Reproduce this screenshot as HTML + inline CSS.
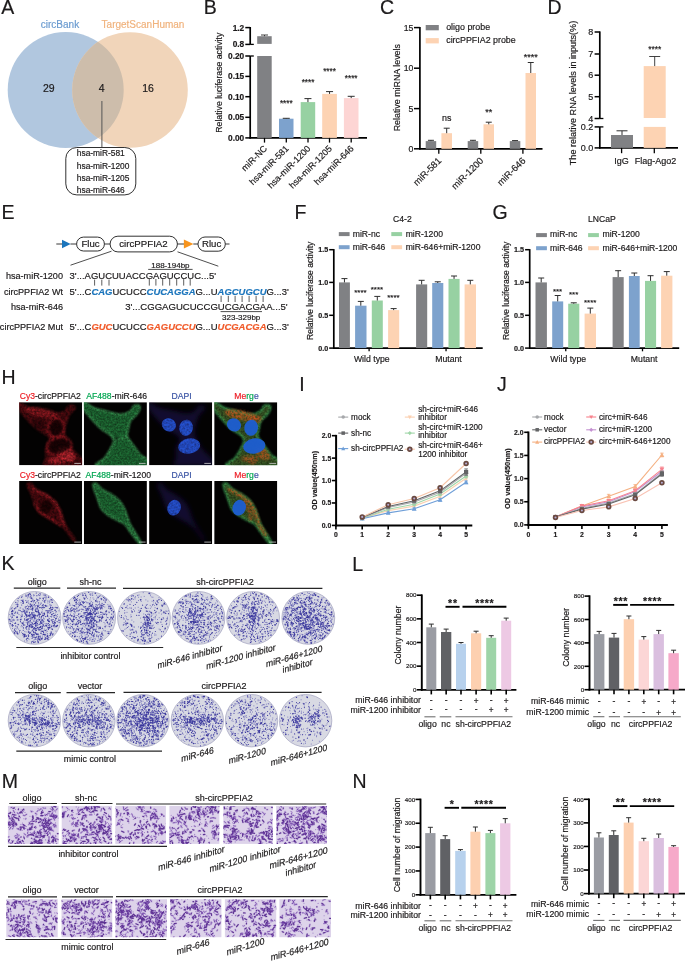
<!DOCTYPE html>
<html lang="en">
<head>
<meta charset="utf-8">
<title>Figure</title>
<style>
html,body{margin:0;padding:0;background:#fff;}
body{width:685px;height:962px;overflow:hidden;font-family:"Liberation Sans",sans-serif;}
svg{display:block;}
</style>
</head>
<body>
<svg width="685" height="962" viewBox="0 0 685 962" font-family="'Liberation Sans', sans-serif" fill="#1c1a1b"><style>text{stroke-width:.18px}</style>
<defs>
<filter id="soft" x="-5%" y="-5%" width="110%" height="110%"><feGaussianBlur stdDeviation="0.38"/></filter>
<clipPath id="cA"><circle cx="65.7" cy="90" r="58"/></clipPath>
<filter id="gr1" x="-10%" y="-10%" width="120%" height="120%" color-interpolation-filters="sRGB"><feGaussianBlur in="SourceGraphic" stdDeviation="1.0" result="b"/><feTurbulence type="fractalNoise" baseFrequency="0.45" numOctaves="2" seed="3" result="n"/><feColorMatrix in="n" type="matrix" values="0 0 0 0 1 0 0 0 0 1 0 0 0 0 1 1.1 0 0 0 0.18" result="na"/><feComposite in="b" in2="na" operator="in"/></filter>
<filter id="gr2" x="-10%" y="-10%" width="120%" height="120%" color-interpolation-filters="sRGB"><feGaussianBlur in="SourceGraphic" stdDeviation="0.9" result="b"/><feTurbulence type="fractalNoise" baseFrequency="0.55" numOctaves="2" seed="8" result="n"/><feColorMatrix in="n" type="matrix" values="0 0 0 0 1 0 0 0 0 1 0 0 0 0 1 0.8 0 0 0 0.38" result="na"/><feComposite in="b" in2="na" operator="in"/></filter>
<filter id="gr3" x="-10%" y="-10%" width="120%" height="120%" color-interpolation-filters="sRGB"><feGaussianBlur in="SourceGraphic" stdDeviation="0.7" result="b"/><feTurbulence type="fractalNoise" baseFrequency="0.5" numOctaves="2" seed="5" result="n"/><feColorMatrix in="n" type="matrix" values="0 0 0 0 1 0 0 0 0 1 0 0 0 0 1 0.9 0 0 0 0.42" result="na"/><feComposite in="b" in2="na" operator="in"/></filter>
<filter id="gr4" x="-10%" y="-10%" width="120%" height="120%" color-interpolation-filters="sRGB"><feGaussianBlur in="SourceGraphic" stdDeviation="0.9" result="b"/><feTurbulence type="fractalNoise" baseFrequency="0.5" numOctaves="2" seed="12" result="n"/><feColorMatrix in="n" type="matrix" values="0 0 0 0 1 0 0 0 0 1 0 0 0 0 1 2.0 0 0 0 -0.35" result="na"/><feComposite in="b" in2="na" operator="in"/></filter>
<filter id="bl"><feGaussianBlur stdDeviation="0.7"/></filter>
<filter id="bl2"><feGaussianBlur stdDeviation="2.4"/></filter>
<clipPath id="ci"><rect x="0" y="0" width="63.1" height="63.1"/></clipPath>
<clipPath id="twc0"><rect x="7.9" y="805.9" width="50.8" height="38"/></clipPath>
<path id="twa0" d="M53.6 806.2l2.3 .7m-3.7 .8l.7 .5m-38.4-.3l-1.5 .4m5.5 .8l-.2 .6m3 2l-1.4 1.4m1.5-1.2l.7 1.1m1.6-3.8l-1.3 1.2m19.3 1.3l-.4 2.1m9.1-2.3l-1.6 .2m3.2-2l.5 .3m1 5.7l-.2 1m-10.2-1.2l-2.3 .1m2.2-3.2l-.5 .3m-9.7 3.2l.3 1.7m-20.4-3l2.6 .4m-4.8-2.3l-.9 .7m.7-1.1l-.2 1.1m-2.1 2l1.3 1.6m2.8 .9l.7 .5m-.2 .9l1.5 .9m-.5-3.5l2.1 1.3m.2-.4l1 .9m1.2-.4l.8 2.4m.2-4.4l.3 .5m13 .1l.6 2m.3-.2l-1.1 1.6m4.7-2.4l1.7 .4m-1.3 .7l-1.4 1.1m1.6-1.4l1 .2m1.5 0l1.4 1.5m1.6-.5l.5 .8m1.9-1.3l.1 1.4m3.5-.7l-1.3 2.1m2.3-5.9l2.6 0m-.9 .3l1.6 .2m3.6-.4l-1.4 1.8m-5 5.2l-.8 .7m-.2-3.7l-1.3 1m.5 1.8l-.4 .8m0-.6l-2.2 0m.2-.6l-.7 1.8m.5-3.9l-.7 1.1m-.3 1.2l-.7 .5m-.2 0l-1.1 .7m-.8-1.6l.2 .6m-2.1-1.3l-1.9 .9m-2.3-1.1l-.3 .3m-1.6-.6l-1.5 .3m-.1 2.3l-1.6 0m-15.1-.6l.6 1.5m-.9-1.5l.3 1.7m-1.7-3l-.9 1.8m-1.9-3.2l1.7 1.2m-3.4 .4l.3 1.9m-2.1-.4l1.1 1.5m-1.1-3.1l.3 2m.4 .4l1.8 .6m1.7-.8l1.4 1.4m-.6 .7l.1 .2m2.4-2.2l1.3 .4m4.2 3.3l-.5 1.9m1.1-2.9l-1.3 .2m2.1-.1l1.3 .1m-.5-2.6l1.9 1.3m-1.5 2l.6 1.1m7-1.1l-.2 1.6m1-2.4l-.5 0m.6-.5l-.4 .5m3 0l-.2 .3m7.5-2.3l1.2 1.2m.6 .5l1.6 .6m-1.1-1.4l-.4 2.1m3-2.7l0 1.7m.1 .1l1.2 .8m1.3-.6l-.1 .5m.3-3.6l-1.1 1.4m5.3-1.3l-.2 .5m-2.6 4.6l-.8 .1m-2.7-.5l2.1 .1m-3.4 1.3l-1.2 1.3m-1.7-3.7l1.2 1.9m-4.7 1.9l1.3 .5m-1.5-.5l-1.3 .5m-1-.7l.3 1m-7-4.7l-1.1 .1m.9 1l-.1 .6m-1.5-.4l.6 .3m-.2 5.3l-.8 .1m1.9-.3l2.5 .1m-.3-.3l1 1m.8-2.2l.1 .2m4.3-.3l-.5 .3m2.4-.2l-.5 .2m.6 .2l0 .6m3.6 1.3l-2.3 .8m2.4-.8l-.6 1.9m4.2-3.2l-.7 1.1m2.4-2.4l.1 .2m8.5 .4l-1 0m-2.4 5.7l.9 2.2m-2.5-2.1l.1 1.9m-.3-4.1l1 .9m-1 1.7l-1 1.4m.3-4.6l-1 1m-9.9-1.4l1.4 .9m-3.5 2.6l2.3 .5m-5.2-4.1l.9 .2m-2.3 .5l2.2 .3m-2.7 1.9l0 .4m-3.2-1.1l.3 .1m-7.9-1.3l.4 1.3m-3.2-1.5l-.2 .2m-2.1 1.7l-.6 1.1m-8.7-.3l-1.5 2.2m-.4-2.2l-.4 .1m5.6 1.5l-.6 1.3m3.4 1l-.5 .2m2.2-.7l1.7 .1m.3-1.6l1.3 .2m1.7-1.3l.9 1.3m8.9 .9l-1.5 1.2m2.1-.6l-1.1 .8m2.5-2.3l.9 .2m-.8-.6l1.1 1.4m-.9 1.3l-1.7 1.8m2.4-4.7l.6 .3m-.5-.7l.9 .1m-.2-.2l.6 .7m-.1-.4l-2.2 .6m2.3 .8l-.3 .1m1.4 1l-.1 .8m.6-1.8l.5 1.2m1.2-3.4l-1.8 .9m2 .4l-.7 2.4m1.1-1.3l-.2 1.6m1.5-1.4l-.6 .3m7.4-2.7l.4 .5m.4 .8l-1.3 .5m5.8-1.6l-2.1 1.3m-13.1 3.6l-.3 2.7m-.5-2.7l-.3 .7m-29.6-1.7l-.9 2.4"/><path id="twb0" d="M52.6 807.1l-.1 .2m-9.5 .5l1.1 .5m-32.2-.9l-.9 .2m2.4 2.9l1.2 2.3m6-1.3l-1.4 1.4m3.9-1.4l-.3 .1m8.1-.5l.3 .4m.6-.3l-.1 .7m6.6-1.8l-1.2 1.5m3.9-2.9l-1.6 1.4m2.8-.2l.4 .9m2.6-2.8l.4 .2m6.6 3.8l.1 .2m0-4l1.4 1.6m1.3 .8l-.2 .1m2.4-2l-.8 1.3m-.7 5.2l-1.2 1.7m.9-1.5l-1.7 1.5m-.3-2.7l1.2 1.5m-2-2.6l-1 2.5m.2-2.1l-1.1 1.7m-2.8-1.2l-2.2 .8m2.1-1.5l.4 .1m-1.7 1.3l.6 .5m-2.3 .1l.9 .3m-10.4-2.4l1.5 1m-10.1 .1l-2.3 1.4m-1-.5l0 .3m-5.9-2.5l.5 .6m-9.6-.3l-.5 .8m.4 1l.7 1.6m-3.1 2.1l-2.4 .1m5.9-.3l2.2 .6m14.3-.7l-.2 .6m12.9-.1l-.1 .2m2.6-.1l-.8 0m3.2 .6l.7 .3m.6-2.1l-1.2 2.1m5.1-.5l1.1 1.1m2-1.4l-1.8 .4m3.8-1.9l.7 2.4m-.6-3.8l-.4 .2m.5-.4l-1 1.1m2.9-.2l-.8 .1m1.4-.2l-1.8 .9m6.4 .8l-1.2 1.8m-10 1.2l2 1.6m-4.9 .3l.2 1.2m-15.6-3.4l-1.2 .5m-.6 1.6l-1.1 1.4m.6-2.4l.1 .9m-14.5 .1l.7 .1m-2.9-.9l-1 .1m-.7-.2l.2 .1m-2.7 1l-.6 1.7m.5-2.2l-.1 .6m-3.2-2.1l.8 1.4m3.8 1.9l.5 .4m.5 2.2l-1 1.8m2.8-5.2l-1.1 .3m2 3.5l-1.1 1m2.9-4.3l-1.7 .6m7.5 2.7l.3 .1m.6-.6l-.2 .1m1.4-2.5l1 .5m.1 1.7l0 .8m8.2-2.3l-.9 .5m4.1 .2l-.1 .7m.6 .5l-.4 .7m4.2-3l.2 .9m2.5-1.1l2.6 .5m-1.7-.5l-2 .1m2.8 1.4l2.5 .2m-.5-1.2l1 0m-.4-.5l-.6 .1m1.3 .4l1.6 1.1m.9 1.1l1 .4m2.9-3.7l.3 2.7m1.1-2.4l.5 2.1m-3.8 3.5l1.4 .6m-2.1-2.8l-.1 2.2m-1.1-1.8l-.3 .8m-.8 1.1l-.7 1.5m-.3-.4l-1.3 2m-.2-1.9l.4 .3m-3.2-.9l1.4 .2m-3.4-2l-1.4 .9m-.9 .2l0 .9m-5-.2l-.4 2.1m-6.6-3.9l.5 1.7m-8.9-2.6l-.9 .4m-1.1-.2l2.3 1.1m-3.1 5.7l-1.5 .7m2.3-2.3l1.2 1.4m5.8-1.5l1.7 1.3m1.9-2.6l-.1 1.1m.4 1.4l-1.1 1.9m1.1-1l.4 .1m2.1-3.2l1.1 1.2m1.3-1.1l-.3 .5m.7 .4l-1.3 1.3m4.5-1.2l-1.1 1.5m3.5-.3l2.3 .5m0-1l-.6 2.5m4.4-1.7l.1 .3m-.1-2.1l-.3 .3m1.7-.3l1.2 .1m5.2 2.1l-.7 1.2m3.5-1l.1 .4m.6 2.6l2.4 .7m-9.3-.5l-.8 .6m-.2-2.7l.7 .3m-9.6-.1l1.2 .4m-3.5-1.5l1.9 1.7m-20.8 .3l1.2 1.2m-1.5-2.5l-2.4 .7m.1 .6l1.4 0m-8.1-1.3l-2.3 .7m-1.2 5.9l-.2 .3m4.7-1.1l1.6 1.8m5.5-2.4l-.1 2.5m.4-2.3l0 .3m.3-2l-.6 .6m2.2 1.1l1.4 .5m0-1.8l-1.2 2m1.2-.3l1.1 1.5m2.2-.5l.4 .7m7.4-2.1l1.8 .7m1.7-2.7l-.5 .6m1.3-.3l.5 1.4m.1-.4l-.6 .6m1.1 1.2l-.3 .5m1-2.4l-2.4 .8m4.8 .8l1.1 1.3m-.4-3.5l.3 .2m.5 .9l.1 2.1m.4-1.7l-1 1.5m6.4-1.3l1 2.1m1.3-1.2l-.9 1.3m3.3-3.5l.9 1.8m3.3 .7l.2 1.3m-17.3 1.4l-1.1 1.7m-23.1-4l.2 .3"/>
<clipPath id="twc1"><rect x="61.7" y="805.9" width="50.4" height="38"/></clipPath>
<path id="twa1" d="M97.2 806.8l2.4 .4m-3.7-.1l-.8 0m.3-.1l-.5 1.8m-.9-2.5l.7 2m-3.1-1l.2 1m-4.2-.6l2 1.5m-3.3-2.4l-2 1.8m1.8-1.3l2.4 1.2m-2.8-1l1.2 .5m-15.1 2.9l.1 .4m.7-.9l-1.1 .1m11.1-1.2l-2.6 .8m7-1.1l.6 .4m-.4-1.2l-.3 1.9m4.2-1.5l.7 .2m.9 2.5l1.1 .5m-.4-1l-1.5 1.1m2.7-1.4l1.4 .2m-1.3-.7l2.4 .8m6.1-2.7l1.6 2m-.3 2.4l1.9 1m-8.6 .7l-1.1 1m.5-.9l.2 .3m-12 .4l-2.4 .8m-.3-3.6l1 .5m-3.8 1.4l-1.5 .4m-10 .3l-1 1.7m-3.5-.9l-.5 .8m.3-2.8l-.5 2.3m-.5-3.1l-.4 1.6m.4 1.6l1.1 .6m-1.6-.2l.5 .5m19.8 .8l-.7 2m15-.3l-.4 .2m1.7-2.5l2.1 .2m.3 1.4l-.5 0m2.7-1.9l-.7 2m6 .1l.3 .1m.3-2.9l1.8 .9m-10.6 4.2l1.9 1.5m-10.6 .4l-1.7 1.3m-2.6-3.7l-.2 .2m-4.8 2.2l1.3 .2m-7.1-.6l0 2.5m6.3-.8l1.2 1.4m.8 .1l-.2 .3m3.2 .2l-.6 .2m3.2 .5l1.1 .5m-.2-2.2l-.4 1m3.2 .5l-.2 .3m.7-.3l1.8 .8m2.4-2.2l2.5 .2m-1.6 .1l2.2 .5m-2.2 .8l0 2.7m.9-3.6l-1.5 .5m1.7 .2l1.6 .2m-1.5 0l.3 .2m.2-.9l-1 1.5m1.2-3.4l1 .1m-.9 .4l.6 .2m-.6 1.1l0 1.5m.9-.6l-.8 .2m1 .2l-1.9 .2m2.4-2.8l1.8 1.1m.9 .6l-1.2 .3m4.5 .2l.3 0m.9 1.2l-.8 .1m-.7 .7l-.8 2.2m-1 .2l-1.2 1.6m.1-1.6l1.4 1.5m-4.7-4.9l1.4 1.8m-3.5-1.2l.3 .3m-.9 2.3l-2.3 1.2m-.9-2.3l.6 1.8m-3-.2l-2.1 .9m-7-3.9l-1.4 1.4m.9-1.2l1.5 .5m-1.7-.7l-1.4 0m-3.4 .3l-.4 1.9m-6.1-.4l-.6 .3m-3.8-.3l-1.4 .9m-1.4-1.6l-1.5 .4m-.3-1.3l-.3 .5m5.1 3.2l.8 .5m5.5 1.5l-2.2 1.1m5.5-2l-.6 2.4m8.7-2l-.7 .1m1.6 0l.4 .4m7.5-1.2l2.4 1.1m6-2.6l-.8 1.8m1.8-1l-.4 .1m1 .4l-2.4 .5m5-.1l-1.2 1.1m4-1.3l2.1 0m.7 3.9l1.2 2.2m-2.1-.5l-2.6 .1m1.3-.4l-.6 .3m-.8-2.5l-1.5 1m-5.2-.4l1.5 1.8m-5.2-.1l.9 1.2m-4.6-1l1.9 .8m-4.9-2.7l1.6 .7m-7.9 1.4l2.4 .7m-2.8-3.9l.1 1m-4.4 .9l-.3 .1m-5.7 1.5l-.9 .2m.2-.5l-.5 2m-2.6-4.3l-1.3 1.5m-.6-2.2l.7 1.5m-2.1 1.6l-1.7 2.1m-.1-2.6l-.2 .4m-2.6 3.4l-1.1 1.4m2-2.6l-.9 .1m2 2l-2.2 .6m5.1-3.9l1 .4m1.5 .1l-1.3 .6m11.3 .9l-.7 .9m1.9-1.9l2.6 0m3.1-.1l.3 .4m1.9 1.5l.3 .1m3.6-3.1l.3 .6m.9 1.7l-.1 1.2m8.6-3l1.7 1.1m3.1 1l-.6 .6m4.1-.7l.1 .2"/><path id="twb1" d="M109.6 807.8l.7 1.4m-12.6-3.1l-1.7 .1m-3.1-1.1l-1.5 1.8m-2.5-.1l-.6 1.8m-.1-3.3l-2.3 1.3m-19.2 1l1.4 1.3m-5.9-2.3l-.1 1.1m1.9 4.2l-.1 2.5m1.6-2.8l-2.1 1.3m14.5-3.4l.3 1.6m1.4 0l-1.5 2m3-3.1l-1.2 .2m3.1 .2l-1.3 2.3m2.2-4.3l.6 .3m2-.6l-.1 .4m.9 .9l-.2 1.2m.5-2.1l-1.4 .4m2.8 2.2l.2 .6m.3-.2l1.5 1.1m4.4-3.3l-1.2 .8m7.4-1.5l-.6 2.4m2.6 3.6l.5 0m-12.2 .2l-2.4 0m-3.3 .9l-1.5 2.1m.8-2.3l-1.9 .6m1.8-1l.9 2m-14.5-2.7l.2 1.2m-7.9-.9l-.6 .7m-1.2 2l1.1 .2m8.4 .3l1.9 1.2m-.4-1.7l-.6 1.7m2.6-.6l-.9 .1m8.5-1.2l1.5 1.4m18.2 .8l-1 .1m1.2-.2l-.1 2.4m3.4-5.1l.9 1.3m3.8 .2l0 1.8m-5.1 3.4l-1.2 2.4m.8-4.5l.7 1.8m-4.9-2.8l.3 1.7m-3.1 1.8l-1.1 .3m-2.4-2.7l.1 1.3m-.7-.3l-.6 2.4m-5.5-3l.3 .2m-8.1 .3l1.2 1.9m-2.8-3.5l-.9 0m.7-.6l-1.2 .7m.4 2.1l-.3 .2m.2-.6l-1.2 .5m.5 0l.6 1.1m-4.1-.4l-1.6 .9m1.3-2.1l-1.5 1.1m2.6 .8l1 .7m0-.2l.4 .4m.7-.2l-.7 1.2m2.2-.2l-1.3 .2m4-1.6l-.1 .4m6.3 2.3l.9 .1m2.9 .2l.8 2.5m.4-3.8l.6 1.2m.1-3.2l1 1.5m5.4 1.2l2 .3m-1.1-3.2l-.2 .5m1.9 .7l.2 1.5m5.8 0l1.5 .2m0-1l-.3 .1m1.4-.8l-1 .7m2-2.1l.2 .1m-1.5 5.3l1.1 1.7m-1.5-.5l-1.5 2.3m-2.1-2.8l-2.2 .5m-2.8 0l.7 .1m-1.1-2.2l.6 .1m-.8-.1l1.8 1m-6.8-1l-.5 .1m-4.2-.2l.5 .2m-4.4 2.3l1.6 1.3m-2.1-3.2l.4 1.5m-.6-1.2l1.9 1m-2.6-.6l.3 .9m-1.9-2.2l-.9 .1m-.2 3.2l-1.5 .7m-6.5-2.3l-1.1 .1m-10.3 2l-.6 1.1m.9 2.5l.5 .8m1.5-1.1l.1 .6m4.1-3.1l-1 2.1m5.2-1l-2.3 .7m2.6 .1l-2.1 .1m2.2-1.2l1.2 .9m.3 .3l.5 .4m2.4-.2l.4 2.4m10.7-3.5l1.8 .1m-.2-.1l2.5 .2m.9-1.9l.4 .7m2.2 2.2l.5 .3m-.3-.3l-1.2 1m1.8-.5l.5 1.4m.8-4.4l-2.2 .3m10.9 2.1l.2 2.4m3.1 1.6l.3 .3m-16.3-2.3l.6 .9m-.9 .4l1.2 .1m-1.4-.9l.1 .4m-7.1 1.8l-.4 .7m-3-4.3l-1 .4m.6 0l-2.6 .3m-6.9 .9l2 .6m-2.3-1l-.5 2.5m-.7-2.2l0 1.8m-1.6-3.2l.7 1m-6 .9l.2 .2m-2.2 4.9l2.2 .3m-.2-2.6l-1.8 1m7.1-1.8l-.5 .7m6.5 2.3l-1.4 .1m4.7-3.2l.4 .2m1.8 3.2l1.1 .6m-.5-.8l-.4 .9m4.9-2.3l-1.4 1.1m9.7-1.3l-2 .5m5.3-.3l1.7 .8m10.7-.6l-.5 .8m-25 1l-.8 .6m-5.1 3.1l.9 .4"/>
<clipPath id="twc2"><rect x="115.3" y="805.9" width="50.6" height="38"/></clipPath>
<path id="twa2" d="M150.7 807.2l0 1m-10.2-4.1l-.2 .2m-1 3l1 .3m-23.7 2l.7 2.4m10.8-2.2l-1 .2m14.5-.7l.4 2.3m19.7 2.5l-.2 .9m-5.7 .9l1.4 .5m-2.6-3.2l1.1 1.9m-3.1-1.8l.8 .8m-1.2-.4l-.5 .5m-23.2-.8l-.9 1.3m.4-2l-.7 .2m-2.9 .4l-.5 .4m-5.5-1.3l-1.4 2.1m4.1 4.9l1.8 .9m12.7-2.3l-.7 .5m8-2.2l.9 .4m6.9 .9l.1 2.4m2.8-3.5l-1.8 1.5m5.7-.2l.6 1.1m5.6-2.8l.3 0m-16.3 5.2l-1.3 1m-6.1-1.8l-.1 1.9m-4.7 1.4l-1 1.4m-5.9-4l-.9 0m-9.8 2.7l1.6 .3m19 1.2l1.1 1.1m4.4-2.2l-.2 .8m2 1.2l.2 1.1m.5-1.3l-.1 2.1m2.4-4.2l1.2 2m4.3-1.7l-1.4 .5m2 .7l1.6 1.2m-.7-2l1.1 1.8m2-1.5l1.1 2.5m1.3-3.3l.3 1.6m2.6 1.1l-.8 1.8m1.9 2.8l1.1 1.5m-2.3-4.3l-2.4 .5m.4-.8l-2.6 .5m2 2.9l1 .2m-3.4-3.2l1 1.4m-5.2 1.7l1 1.9m-8.3-1.9l.2 .2m-4.9-3.7l.2 .5m-1.7-.6l2.2 .8m-3.5 .5l-2.2 .5m-.5-.4l.5 0m-1.2 .2l-2 .8m-13 .5l2.2 1.1m-5.3 2.4l-.5 .5m14-2.9l-1.8 2m3.5 .1l-.4 1m1.7-2.6l.2 1.5m2.6-1.6l.2 .5m4.5 1l-.5 1m6.5 0l-1.8 1.4m13.3-3.7l2 .7m3.3-1.5l-.5 .3m-12.5 7.1l-.6 .2m-3.8-3.5l-1.1 .3m-1.6 1.5l1.7 .4m-2.4 1.4l-2.3 .6m.2-1.1l.5 2.4m-5.2-5l1.2 .6m-2.6-1l1.6 1.6m-7.7-1.4l1 2m-2.7-.3l1 1m-4.4-1.9l1.4 .7m-2.9 0l.4 .4m-1.2-.7l-1 .2m-.9-1.4l-2.2 1.1m.8-.5l.8 1.4m-1.8-.3l-.8 2m.5-3l1.5 .4m-1.9-1.6l.8 .4m-4.2-.4l.7 .4m14.5 6.5l-.6 1.8m15.8-2.1l-.2 .5m16.4-.2l1.6 .5m-1.1 .3l-.4 .3"/><path id="twb2" d="M143.7 806.9l-1.8 .5m.7-3l0 .3m-1.9 1.6l-1.5 .4m-1-.3l.6 1.9m-11.6-.9l-1.9 1.2m-1.9-1.7l.4 2.4m1.1 .1l-.9 .3m2.9 1l-1.2 0m11.3-1.7l1.3 .7m2-.9l2.1 .3m.7 2l-.3 .3m4.8 .3l-.1 .5m1-.7l-2.5 .2m3-.4l-.4 1m5.6-3.3l2 1m-.7 1l1.2 .6m4.5 2.5l1.5 .8m-8.8-1.2l1.7 1m-2 0l1.2 .5m-2.8 .2l-1.5 .4m-2.5-3.7l2.7 0m-4.5 1l-2.1 .3m1.9 1.5l.6 1.1m-14.8-2.1l.7 1.5m-4.5-2.7l-.7 1.4m-6.4-.8l-.6 2.6m-3.3 0l-.7 .5m3 3.2l-.8 1.3m7.6-2.6l2.3 1.1m4.4-2.7l.8 .4m18.9 .7l-.5 .3m.6-.6l.2 .3m2.2-1l-.3 2m1.2-2l.5 .1m-.1 1.6l-1.2 0m1.7 2.2l-.3 1.3m-3.7 1.3l2.1 .7m-36.4-.6l-1.6 1.7m4.2 2.1l1.2 .4m19.1-1.8l.3 .1m.7 .4l-1 1.5m6.5-3.6l-.6 .5m7.3 1.8l.1 1.8m8-1.2l1.3 1.2m-.8-2.3l-.9 .6m-2.6 3.5l-.6 0m.5 .6l1.8 .8m-2.3-2.2l1.9 1.1m-7.6 .9l-2.1 .5m1.6-1.5l1.4 .9m-12.1 .4l-.5 .7m-13.7-1.2l.6 .1m-20.6 2.8l1.5 1m-.2-.9l1.1 1.3m.7 .1l1.9 .5m6.9-.5l.2 1.4m9.7-3.1l.2 .6m1.7-.5l.2 .3m10.2-.9l.6 .9m14-1.4l-1.1 2.1m2.7-1.3l.4 .2m3.4-1.4l-.3 2.3m1.6-1.7l-.5 .2m-7.6 5.2l-.1 .6m-1.4-2.7l2.4 .8m-5 .1l-.2 0m-1.7 2.4l-1.8 .7m-12.5-2.8l1.8 1.1m-7.6-1.7l-2.2 .9m-7.6 .7l-.4 .9m.7 1.2l-.4 .3m2 0l-1.9 1.6m14.4-.2l-.2 1.6m9.3-.9l.8 2.3m4.3-3.8l-.9 .8m1.3-.3l-.2 2.7m3.1-4l.5 .5m5.6 .2l-.8 1.1m2.9 1.4l.5 2.3m.2-3.4l-.4 .9m3.5-2.5l.6 1m1.7-.8l-2.3 .5m-3.7 2.7l.2 .1"/>
<clipPath id="twc3"><rect x="169.4" y="805.9" width="50" height="38"/></clipPath>
<path id="twa3" d="M215.8 806.6l-.5 2m-1.1-1.4l-2 .8m-.6-.9l.4 .1m-1.5-1.2l2 .8m-14.3 .7l.1 .5m-.1-2.8l-1.2 .5m-1.4 .3l0 .9m-2.5-.3l2.3 .9m-3.9 .1l-.1 2m-9.8-1.6l.7 1.3m-1.9 1.1l-.8 2.4m6.5-3.8l1.3 0m5 2.8l.8 .1m4.7-.8l-.4 1.8m1.2-1.3l-1.2 1.2m1.5-3.6l.4 .7m-.1 1.3l-.8 .4m4.4 0l.6 2.6m1.9-5.8l.3 .4m5.1-.7l-1 2m1.2 1.3l-1.2 1.4m1.4-1.6l-.6 1.1m1.5-2.5l-1.3 1.3m3.8-1.3l1 .7m-.7 0l1.4 .2m1.8 .7l.2 .2m.1 .2l-.1 .8m1-1.4l-1.3 1.7m2.5-2.2l.3 .7m-16.3 2.1l-.2 .9m-6 .5l1 1.6m-1.4-2.8l-.6 1m.6-2.1l.9 1.6m-8.6 1.4l-1.3 1m-.1-1.4l.7 .4m-4.9-1.9l-2.2 .6m-1.4-.1l.3 .6m-1.4 .1l-1.5 1.2m-6.5 2.4l-.3 .6m1.5-2.1l.7 1.5m6.6-1.6l-.4 1.9m2.2 .8l.3 .2m3.5-3.4l-.1 2.6m2.5-1.6l.7 .9m-.6-1.1l1.3 1.7m-.3-2.6l-1 1.4m2-.4l-1.2 1.3m1.7-.1l-.3 .7m.9 0l-2 .2m3.8 .2l.2 .7m6-2.3l-1 .3m9.9-1.6l-1 .2m2.9 4.1l2 .2m-28 .6l1.1 1m-14.1-2.4l-.3 .5m1.2 6.8l-.1 .2m6.4-.1l-.8 .9m21.9-4.5l-.2 .7m6-.9l-.5 2.1m11.2 .3l1.3 1.2m-1.2-1.9l2 .8m2.8 .4l.2 .3m-5.9 4.8l-1.2 .1m1-.4l-1.2 1m1.2-.7l.8 1.6m-1.5-3l-.7 .8m-10.5-1.1l1.3 1.4m-5.3-1l.7 0m-7.3-1l1.2 .4m-2.2 1.7l-1.9 .4m-1.9-3.3l.1 .4m-3.1 1.5l1.1 1.4m-3-.6l-.5 2.3m-14-3.5l-.6 .1m2.1 3.4l-.5 .3m4.1 1l-2.2 1.4m4.3-3.2l-.6 .2m2.3 1.1l-.3 .2m1.9-.6l-.4 1m12-3l.3 .7m.9 2.9l.6 .7m12.5-2.2l-1.5 .3m11.2-.6l1.7 .7m-.3-.6l-.1 .2m2.2-.1l.4 .2m2.5-2.1l1.3 .7m-21.2 4.8l-.1 2.7m-9.5-4.1l-.6 .2m-2 .7l1 .2m-2.4 1.4l.2 .6m-5.6 0l-1 .7m0-3.7l1 .7m-4.7 .5l.8 .1m-7.4-.6l-2.5 .9m0 1.2l1.4 .6m-.7 1.9l0 .3m2.9-1.5l-1.5 .8m2.1 .5l.1 1.8m10.2-3.6l-1.2 2.3m1.2-.9l0 2.1m.6-1.6l-.1 2.5m2.9-2.2l1.6 .2m.9-.5l-2 1.6m12-3.1l.7 .5m.2-1l-1.3 1.3m1.4-.1l-.4 2.2m5.2-3.5l-.9 2.4m5.6-.1l-.2 .2m-18.3 1.5l-.1 1.4m-5.9-.7l-1 0m-13.2 .4l-.1 .7m.1-1.5l.9 2.3"/><path id="twb3" d="M217.9 805.7l1.8 .9m-6 .7l1.1 .7m-2.2-1.1l.7 .3m-.7-.7l.6 .9m-4.1-.4l.4 1.1m-1.3-2l-2 1.2m-5.2-.6l.1 .4m-1.1 .6l-2.5 .1m-3.6-1.9l1.3 .1m-10.2 1.4l.4 1.1m8.8 2.8l.5 1.7m1.5-3l1.7 .1m1.8-2l.1 .5m.8 1.2l-2 0m4.2 .5l1.4 .7m3.3-.8l.2 1.3m4.6-.7l-.3 1.7m2.7-.8l.4 .2m1.8-1.5l-.3 .3m-3.8 3.8l-.1 .2m-.5-2.4l.8 1.6m-6.6 0l-1.5 1.9m1.4-3.7l-.7 0m-.4 .4l-.3 .1m-.4 1.7l-.3 2.6m-2-2.4l-.7 .1m-.7-1.7l.7 1.1m-9.9 2l-.4 .3m.2-4.3l1.9 1.5m-3.4-.9l-.1 1.9m-4.5-.4l-.2 .3m-7.5-.2l.7 1.4m-5.6 4.1l-.9 2m4.1-4l.2 0m.6 2.3l1.2 2.1m3.2-3.7l1.2 1m-.3-3.3l-1.1 .7m8.4 .2l0 2.4m1.6-2.5l-.4 2.1m5.3-3l-.4 .8m1.5 .8l-1 .1m3.4-1.5l1.1 1m-.5 2.4l.3 0m5.5-.3l-.4 .4m7.1-1.9l-2 .4m2.7-.5l2.4 .5m-5.2 3.3l.1 .3m-4.7 .2l1.6 2m-11.6-3.8l1.7 1.1m-2.1-.2l-1 .9m.3-2l.6 .6m-11 .7l.1 .2m-.1 2.2l1.2 1.7m-1.3-2.2l.1 1.3m-4.8-3l2.2 1.4m-2.6-2.5l-.3 1.7m0 .2l-.5 1.9m-3-1.6l-2 .2m-3.6 4.5l-.3 .7m11.6-2.3l1.1 1.9m3.8-2l1 .5m7.5-.1l1 .4m10.3-1.9l1.3 1.7m6.5-.9l-.7 .9m1.7 1.2l-1.7 .9m6.5-3.5l-.5 .4m1.3 2.8l-.3 .4m-3.1-.1l-.2 1.5m-4 1.2l.1 .7m-.2 .1l-.7 .9m-10-4.3l2.2 1.5m-3.2 1.1l-2.2 .1m-13.3 .8l.3 .3m-9.7-2.7l.5 1m-2.8-2.1l1.1 0m-3.2 2.3l-.1 .3m-1-3l-.5 .2m-.8 3.2l-1.5 1.9m1.1 .8l-.6 1.2m3.3-.9l-1.6 1.4m2.7-2.5l2.1 .2m.5 .7l1.6 .5m.9-.3l-1.4 1.4m1.8-1.9l2 .9m-.5-2.7l-2.4 .8m7.5 .1l-1 .6m30-.1l-.5 1.6m2.8-1.5l-1.1 2.2m4.7-3.3l-.6 1.6m-.1 4.4l-.5 1.9m-3.7-3.8l-.2 2m-1.3-1.3l1 .9m-10.9 1.5l-.4 .1m-1.8-1l-.9 .3m-2.3-1.5l.6 2m-3.7-3.3l1.5 .3m-7.1 3.3l-2.5 .2m-4.7-1.3l.1 .2m-.4 .8l.3 2.1m-2.7-2.3l.5 1.3m-9.7 2.9l0 .2m.5-2.1l-1.9 .4m10.5 0l0 .3m4.4-.4l.9 2m-.4-4l-.3 .7m.4-.3l-2.2 .2m3.6-.1l.4 .1m0 2.4l.9 .1m-.7-.6l1.1 1.9m13-2.5l.9 .4m-.5 2l.1 1.5m-15.8 .7l.2 .1m-18.7-1.4l.2 1.7"/>
<clipPath id="twc4"><rect x="223.3" y="805.9" width="49.5" height="38"/></clipPath>
<path id="twa4" d="M271.6 807.3l2.2 .3m-8.9 .2l.2 .3m-12.7-.6l1.4 1.7m-22.9-2.3l0 2.5m-.9-1.7l-.1 1.8m-.3-4.3l1.2 .1m-6.7 1.7l.7 1.8m12.4 1.1l-.5 .6m.6 .1l-1.9 .2m9.2-1l-2 1.1m8.8-2.7l.4 .6m1.6 .1l1.9 .4m-1.7-.9l-.1 .2m2.7 2.3l1.9 .5m13.6 1.9l.1 .5m-12.7-.9l-.2 1.5m-.5-1.4l2.3 .5m-4.2-1l.2 .2m-2.8 3.2l-.3 .2m-2.3-1.5l.6 2.1m-5.4-4.4l1.1 1.8m-12.8-1l-.4 0m.3 0l-.7 0m-.3 1.5l1 .1m-3.2 1.2l-.8 .5m.3-.7l-1.1 1.1m-2.6-4.6l-.1 2.6m-2.4-.5l.8 0m7.5 3.9l-.4 1.2m.5 .1l-.4 .2m.5-1.2l-.8 1.3m14.7-.2l-.2 2.5m2.7-3.3l-1.9 .7m4.9 .2l.3 .1m3.2-.3l.3 .5m1.2-3.7l2.4 .7m2.4 3.1l1.4 1.9m-4.5-1.7l-.1 .5m-2.4 .7l.6 2.6m-.8-1.8l-.1 .2m-3.1 .4l-1.2 .2m-1.9 .6l1 .1m-1.1-2.3l.1 .4m-.4 1.6l1.6 1.8m-5.5-5.1l-.8 1.7m-3-1.8l.7 2.4m-7.5-1.2l-1 1.7m-5.7-.8l.1 .6m-4.9 3.8l-.4 1.5m1.6-2.5l-1.4 .8m2.1-.5l-.7 .5m1.3 .6l1.7 .4m-1.1-2.1l2.3 .3m22.9 .4l-1.8 .5m5.2-.9l1.6 1.7m-.8-1.8l-.2 1.9m2.3-.4l-.5 0m2.7-2.3l-.3 .2m11.9 6.7l2.2 0m-3.1-.9l0 1.7m-2-1.8l-.8 .2m-1.4 .8l-1.2 .3m-.4-.6l.5 .4m-2.8 0l1 1m-11.6-2.4l.2 1.1m-1.6-2.5l1.1 2.1m-1.3-.9l.9 2.5m-1-1l.1 2.4m-4.2-3l1.6 .5m-11.5-2.4l-1.5 .2m-.2 .3l-.3 .9m0-.1l-.1 2.4m-.4-2l-2.3 .4m1.8-2.8l.1 1.8m-.8-2.2l-1.4 .8m.9 2.8l-.4 2.2m-8.9 .6l2.6 .6m3.5 .9l.5 1.4m1-3.1l.2 .5m5.7 .8l-2.4 .9m3.8-.5l.3 2.4m3.9-4.7l-.1 2.6m4.1-.3l.7 .3m2.5-4.2l1 2.4m1.6-1.5l2 .5m8.1-.5l-2.4 0m2.8-.4l1.4 1.1m1.9 1.7l.8 .7m-.5-1.1l-.2 1.3m.4-3l-1.2 2m3.5-1.3l-.8 2.1m4.4-1.7l1.9 1.2m-1.2-2.7l-1.1 1.5m2-1.1l1.3 1m-2.9 4.9l-.1 .5m-.1-3.3l-.7 .4m.4-.5l0 .2m-2.9 2.5l2.5 .6m-2.5-.9l-.8 .2m.6-2.7l-.9 2.1m-3.4 1.2l1 .7m-2.2-1.2l.2 .2m-1-2.7l-.4 2.6m.2 .1l.6 .2m-8.1-1.5l-.2 1.6m-3.2 .6l1 .6m-5.9-3.7l.2 1.3m-10.5-.6l-2.1 1.3m.4-2.5l.5 1m-2-.8l-2.5 .6m.1 .7l-.7 1.1m-1.9-.3l-.1 .2m-.2 .5l1.4 2.1m-4.4-4.4l-.2 .2m-3 2.7l-.8 1.1m8.7 0l-.8 .3m2.7 .3l-1.5 .4m29.6 1.2l-.6 1.2m1.5-3.2l-.1 2.1m5.6-2.5l.1 .2m5.1 .9l-2.2 .2m-42.8 2.2l1 .1"/><path id="twb4" d="M246.9 805.4l-.4 .2m-13.4 .4l1.6 .1m-5.3-1.7l-.2 .8m17.5 2.9l2.1 .7m-.1 .6l.5 1.4m5.9-2.1l-2.2 .7m13.9 .2l.8 0m-2.6 4l-.8 1.3m-1.7-2.8l1.3 1.5m-3.8-.2l.4 .7m-1.3 1.9l.8 1.3m-2.9-3.9l-.7 1m-3-.2l1.8 1.9m-3.7-2l-.7 1.3m-4.6-1.7l-.9 .2m-.8-1.2l.6 .2m-.9 2.5l-.8 1.1m-13.4-4.2l0 1.4m-.9 1.8l2 .4m-2.1-3.4l.8 1.3m-3.1 1l1.6 1m-4.4-1.6l-1.2 2.2m9.2 1l-.4 .8m1.4-.3l.8 0m-.3 1.3l.4 0m-.4-1l2.1 .2m-1.1-1.5l-1 1.3m1.2-1.3l1.2 .1m-.3 2.6l2.1 .7m1.3-4l2 .9m1.7 1.7l1 0m3.4-1.2l.4 1.3m23.4 .6l.8 1m.7-1l1.2 .6m-2.1 2.2l.3 1.2m-1.5-1.5l1.5 .3m-3.3-.1l-.5 1.2m-10.5-2.7l2.6 .2m-2.7 2.9l-.3 .8m-.4-4.6l1.8 .3m-2.5 2.4l-.5 2.1m-2.2-1.7l-.2 .3m-.6 .2l.4 0m-3.3-1.6l-1.2 .3m-2.8-1.6l-.2 .3m-7.9-1.1l-.5 .4m-.6 .6l1.3 .4m-9.8 .5l.8 .2m-4.1-.5l1.3 1.4m-.9 3l.1 1m1.5-1.9l.1 .9m7.4 0l1.7 .1m13.5-2l.2 .1m2 .6l-1.9 .2m4.7 2.6l.3 .2m.2-1.8l2.6 .2m-1.5-.9l.9 1.5m12.3-.4l2.5 .6m-2.2 .2l-.1 .4m3.3 .6l-.4 2.7m-3.8-2.5l2.5 .8m-21.7 1.2l-.9 1.1m.9-.3l-1 .3m-9-.7l.2 .2m-.6 0l-.9 .4m-4-2.9l-1.1 1.7m.5 1.6l.2 2.1m-2.8-4.7l-.1 .5m-6.5-1.6l-2 1.4m3 5.9l-.6 1.1m2.5-1.1l1.2 .8m1.3-.4l.9 .2m2-1.9l.2 2.2m-.1-1.7l-1.5 .9m4.2 .5l.7 .6m1.2-3.4l-1.9 1.4m6.3-1.5l-1 .5m3.1 .3l.7 .5m3.1-.9l-.2 .1m.9-1.1l-2.2 1.5m3.6-1l-.1 1m3.7 1.8l-.4 2.6m3.2-2.6l.7 0m2.7-2.5l.3 .2m.3 1.7l-2 1.3m5.6-3.2l.3 .5m1-.9l-.5 1.5m3.8 1.5l.4 .3m.2-3.7l.8 .7m.4 .2l-1 .2m1.9 .6l.9 .8m3.3-1.2l-.4 1.5m1.6-1.4l.8 .7m.2 .5l-2.4 .3m-11.7 1.5l-.9 2.1m.7-1.3l1.8 .9m-2.9-2.3l.5 1.7m-2.1 1.8l-.1 .9m-.8-1.9l.4 2.1m-.9-2.2l-1.1 1m-2.2-.9l-.9 .1m.6-.4l-1.1 2.4m-4.1-4.5l0 1.6m-1.2 .9l.8 2.1m-1.9-4.9l-1.9 0m-3.6 3.7l-2.5 .1m-.3-1.8l-1.8 1.8m-1.6-.6l.5 .7m-2.6-3.6l-1.3 .9m.4 2l1 .2m-5.8-2.5l-.8 .3m-3.8 4l.8 .6m4.7 1.9l.4 2.1m.2-4.7l.7 .1m.8-.4l-.8 0m23.9-.5l-.2 0m4.7 3.3l.1 .3m.9-2.9l1.4 .3m.3 1.3l1.1 1.8m10-1.3l-.6 .7m-41.5 .3l-1.8 1.9m-.5-.1l.1 .4m-3.7-.8l-.3 1.3"/>
<clipPath id="twc5"><rect x="276.2" y="805.9" width="50.8" height="38"/></clipPath>
<path id="twa5" d="M318 802.5l.4 1.3m6.1 3.9l.8 2m-1-4.2l-1.5 1.1m1.3 1.3l-.2 1.1m0-2.2l-.8 .3m.6-.4l.4 1.6m-2.7-1l1.1 .4m-3.1-2.4l.4 .2m-1.4-.2l-.3 0m-15.2 2l1.4 .7m-21.1-.2l.1 .7m-2.2-2.5l0 .2m-2.8 4.4l-1.2 1.6m2.8-2.6l.4 .2m11.4-1l.5 0m.3 .1l-.2 .2m8.1 1.1l1.3 1m-.4-1.2l-.6 1.5m1.3-2.2l-.3 0m1.2-.4l1.4 .1m1.1 2.8l-1.8 1.9m4.8-2.6l.9 .4m.6-2.3l.3 1.4m9.8-1.2l-1.1 1.3m3.1 .6l1.5 .5m.2-2.5l-.9 1.5m2.6 .4l1.4 .1m.6 2.2l.2 .3m-1.3-.9l-1.7 .3m1 .6l.6 .5m-1.8-2l-.2 .2m-6 1.2l-1.2 .7m-7.8-1.5l-.2 .1m-.1-.8l1.6 1.7m-5 1.3l2 1.5m-2.6-1.7l1 1.9m-2.5-1.2l.5 1.3m-4.3-2.3l.5 0m-11.9-.8l-.3 .1m-2 .6l-1.2 .4m-.3-1.9l-.3 1.1m-2.5 .2l-2.2 0m.6 1.4l-2.1 .4m-.3-1.5l-.4 1.8m-.1 1.3l.5 .1m6.4 1.3l-.1 1m2.8-1.9l1.6 .6m2.7-2.5l.9 .8m5.6 2.4l.7 .6m1.7-2.1l-.5 2.2m2.1-2.5l-.1 1.6m2-2.2l.1 2m1.1-2.3l-.4 .1m1.2 1.8l-.8 .6m3.8-3.1l-1.5 1.6m4.4 .4l2 1.1m1.5-1l-.4 .2m.7-.2l-2.4 .1m3.9 1.1l.5 2.4m1.7-5l-2.2 1.3m7.2 1l.4 .1m3.1-3.1l.2 .1m-1.8 4.7l-.3 1m-11.5 .3l0 2.2m-1.7-2.5l.1 2.3m-.9-3.1l.2 1.2m-3.8 .5l-.2 .1m-4.2-.2l.8 1m-2.4-2.3l-.7 .3m-2.7 .5l-2.4 1.2m1.1 .3l1 1.4m-3-3l.8 .5m-8-1.7l-1.1 2.2m.6-1.3l-.5 .8m-.2-.7l.6 .2m-1.9 1.3l2.3 1m-3.9-3.1l-1.7 1.3m.9-.2l0 1.3m-.5-3.7l1.3 1.2m-4.9 1.9l-1.3 2m-.1 2.3l-.1 1m8.4-.8l-2.5 .3m3.9-2.9l.6 0m-.4 1l1 1.3m1.8 .1l1.2 1.1m5.2-1l-1.1 .7m3.5-1.7l-2 1.6m4.7-2.2l1.9 1m-1.7 .8l-.9 1.4m7.3-4.9l.6 1.6m-.1 1.3l.6 .8m.4-2.5l.4 1.1m9.1 1l.2 1.6m0-2.3l-.4 .6m.5-1.7l-.8 .3m.9 .2l-1.8 .8m3.9-3.1l1.7 1m-.7 2.6l2.1 1.4m-.1-3.8l-1.3 .1m4 2.5l-.3 2.2m2.7-4l-.2 .5m-1.6 2.1l0 1.1m-2.8 .1l-1.9 .4m-1-1.8l-1.2 2.3m.3 .8l.3 .4m-10.9-1l-1.2 .9m-5.2-1.8l.4 .5m-.4-.4l.1 .6m-.5-2.8l.6 .1m-2.5 3l.4 .3m-3.1-2l2.5 .1m-4.8 .3l-.3 .3m-2.7 1.3l-1.3 .2m-3.6 0l1.8 .5m-2.3-1.1l.1 2.6m-.3-2.8l-.3 1.6m0-4.1l.2 1.7m-1.9-1.3l.2 2.4m-9.3-1.2l-.3 .6m0 3.6l-2.1 .2m5.7-1.4l-1.3 .6m4.3-1l.5 .9m6-.9l-1.7 .8m3.3 2.5l1.3 .9m.2-2.9l-.6 1.4m7.7-2.2l-.9 .6m4.4 .7l-2.1 .5m3.5-1.2l-2.4 .4m3.3-.7l-.8 1.2m5.1-1.7l0 2.4m2.6-2.1l1 .7m.5 2.1l.7 .9m4.9-1l2 .3m-1.3-.8l.9 .9m3.4 1.3l2 .8m-4.5 1.6l1.4 .1m-1.6-1.4l1.5 .9m-3-1.5l.2 1.2m-.3-2.7l-.6 .3m.6 .8l-.9 .8m.4-.3l.5 .3m-1.8 .5l1.3 1.7m-1.5-1.4l-1 2.4m.9-5.5l.3 .5m-2-.4l.1 2.6m-4.2-.2l-2.1 1.7m1.3-1l-.3 .8m-4-2.3l.6 1.1m-1.8-2.4l-1 1.5m-1.8 .4l2 .5m-5.9-1.7l-1.9 .5m-2.2 .6l1.6 .6m-10.2 1l-.3 .4m-9.8 2.7l.1 1.4m7.2-.7l.3 .3m.4-1.5l.1 .8m3.5-.9l1.2 .3m4-1.3l1.9 .9m-1.5-1.8l1.1 1.6m11.1-1.2l.2 2.1m8.3-.6l-1.4 .3m4.2-.5l.2 .4m-11.7 2l2.2 1.2m-3.9-1l-.9 1.6m-24.7-.7l2.4 .3"/><path id="twb5" d="M328.7 806.6l1.2 .5m-3.5-1l-.3 1.1m-2.4-.7l-.1 2.4m-.7-2.5l1.8 1.2m-4-.3l.6 .5m-6-.6l-2.5 .8m-1.5-.2l-1.2 .2m-1.2-.2l0 1.3m-4.1-2.7l2 .6m-2.3-.7l1.7 2.1m-3.4-1.6l1.8 1.7m-8-.9l.5 .3m-7.4 0l1.5 .2m-11.6 1.2l-.9 1m1.7-1.3l.8 1.5m4 1.2l.5 1m12.6-3.8l-1.1 .7m2 .7l-1.9 1.1m1.9-1l2.2 .4m-2.2 .6l.9 1.3m8.2-2.4l-1.1 1.9m1.6-1.9l.1 .8m4.4 .6l.7 1.8m7.7-2.1l.5 1.2m4.1 0l0 .4m-4.2-.3l2.3 1.1m-4-1.1l-.5 .5m-11.7 1.1l-.1 1.4m-.1-2.9l.3 .3m-.6-.4l-.9 .3m-.3-1l.6 .4m-2 2.2l1.4 .6m-3.8-.3l2.6 .3m-2.8 .2l2 .3m-4.1-.1l.9 1.3m-3.1-3.1l1.2 1m-6.2 .4l.7 .4m-1.6-.2l-.1 .2m-.3-2.6l-.2 .3m-10.4 0l-2.7 .1m-.4 1.2l-.6 2.4m-6.3 2.2l.9 1m4.7-2.1l-.9 1.7m1.4-.9l.9 .5m-.4-1.2l-.7 .4m8.2-2.5l.3 1.8m.7 .5l-.6 2.2m3.7-3.9l.8 1m-.4 1.9l-.3 1.8m1.9-2l.4 .4m3.5-.6l1.3 .9m1.4-3.2l-2.5 .9m2.5-.7l.4 .1m3.6 2l.6 .8m0-3.9l-.9 0m.9 3l.9 2m2.3-4.4l-.1 .4m3.4-.5l1.7 .3m-.8 2.8l-.1 .8m6.4-1.3l.3 .4m.6-.8l-1.3 1m11.9 4.1l.2 1.3m-14-4.5l-.4 .5m.1 2.7l-.7 .2m-1.1-.2l-1 1.4m.9-3.6l-.4 .2m-3.8-1.4l-.1 .5m-.5 1.2l.6 1.6m-.8-.7l.8 .7m-2-1l2.5 .4m-10.4-.3l.3 .8m-4-2.3l.2 .4m-1.8-.2l2 .7m-2.5 1.2l-2.2 .7m1.2-2.1l-.3 1.3m-.1-2l0 .3m-1.2-.8l0 1.5m-5.5-.3l-1.7 .7m-3.7 .4l-1.7 .8m-.1-3.9l.6 .2m.8 5.1l-1.5 2.2m9.2-2.5l-.8 2.3m3.8-2.1l1.4 1.3m1.5-1.7l-1.7 1.6m2.3 .7l1.8 1.4m-1.2-4.3l.7 .6m.3-.9l2.2 .4m-2.1-.2l.6 1.7m3.9-.2l.3 .6m1.2 .6l-.5 .5m3.6-3.4l.3 .7m1.7-.6l-.4 0m3.8 0l-1.3 .3m1.8 3l.2 .1m1.6-3.3l1.4 .9m-1.2-.5l-1.2 .1m8.8 2.9l1.3 .5m-1.2-1.5l-.8 .8m1.3 .4l1.9 .5m-.1-1.3l-.2 .1m2.8-1.8l-1.2 1.1m1.4 .3l.7 .1m-.3 .3l1.1 .2m.3-1.3l0 .3m2.8-1.9l.6 .1m1.7 1.2l.7 .8m.9-1.8l.8 .1m-8.8 4l0 2.4m-2.8-.3l-.5 1.1m-.7-3.3l-1.2 2.1m-.5-2.3l-.3 .9m-6.8 2.5l1.1 .1m-3.8-1.3l-.6 .2m-3.4 .9l.8 2m-1.8-2.1l1 .1m-2.8-2.4l.6 1.5m-3.8-2.3l.5 .2m-1.1 2.9l-.1 2.6m-8.6-3.6l.9 .7m-2.7-.8l0 1.9m-.6-3.3l.6 .2m-1.7-.5l-.8 1.1m-2.5-1.6l1.1 1.6m2.3 3.1l-.6 .6m2.8 .8l-.7 .8m7.3-1.4l.9 .4m.4 .9l1.4 .7m11.2-2.1l0 1.5m.5-1.3l.3 1.5m-.3-3.4l-.6 1.7m1.5 0l2.1 0m-.3-.8l.9 .7m3.2 1.8l-1.8 1.9m4.1-4.4l-.2 .5m1.3 2.3l1.4 .8m2.4-3.9l-1.4 .3m2.2-.8l-1.3 .1m1.5 3.1l.7 .5m2.5 2.7l.8 .7m-3.8-2.6l.2 .4m-1.9 1.5l-1.4 1m1.4-1.3l2.2 1.2m-2.8 .3l1 0m-4.6-2.4l.4 .4m-4.6 1.3l-.3 0m-1.4-2.8l-2.2 1m-.4 .8l.4 .7m-.7-2.5l-1.3 1.2m-10.1-.7l1.2 .4m-6.5-.1l1.6 1.5m-4.6-1.2l1.3 .5m-4.3-.8l0 1.7m-4.4 1.1l-.3 .6m.1-2.2l.7 .7m-2.9 .2l-2.4 .2m3.9 .9l-1.9 1.3m6.7 2l-1.3 .2m14.1-.3l.8 1m1.8-1.5l-2.2 .6m2.3-1l-1.7 1.4m12.6-3l-.4 .4m6.1-.9l0 .4m6.2 .7l1.7 .4m-23.5 2.9l-1.2 1.1m-24.6-.5l1.2 1"/>
<clipPath id="twc6"><rect x="6.3" y="899.2" width="51.4" height="38"/></clipPath>
<path id="twa6" d="M12.9 898.7l1.2 .4m38.6 3.9l2 1.2m-5.1-.6l.9 1.9m-.9-3.1l-.3 .5m-2.4 .4l.4 2.2m-2.4-2l1.7 .8m-4-.7l2.7 .2m-10-2.2l1.1 .1m-6.9 2l-.4 .5m-.2-4.1l-.2 .7m-8.2 .7l-1.8 .2m-2-.4l-.5 2.1m.5-2.4l-1 .2m.4-.1l-1.3 1.7m.7-.3l-2.2 .3m-4.4 1l.2 .4m-1.1-.5l-1.9 .6m1.8-2.8l0 1.3m4 2.3l-.6 .6m2.7 2.2l1.3 .3m-.7-3.7l1 2.5m7.5-.8l.6 .5m8.1-1.3l-.1 .7m2.1-.3l-.1 1.2m3.2 .2l-.2 0m4.6-2.8l-1.4 .9m15.3 2l-.4 .1m-4.5 4.3l.2 .5m-1.1-1.1l0 1.4m-.9-.7l-.6 1.8m-1.8-3l0 2.3m-1.6-3.8l-2 .9m-.4-1.6l1.1 2.4m-13.4 .5l.6 2.1m-6.5-4.7l-.3 1.1m-13.2-1.5l-.1 1.4m-2.1 0l.4 2.3m-6.8-1l0 2m4.7 .7l-1.5 1.4m1.7-.3l0 .7m.3-2.8l-.7 .8m12.4 1.1l.2 1.5m3.1-.6l-1 1.1m6.9-.7l.2 2.6m1.3-2.7l-.1 .6m13.7-4.1l0 .2m1.2 2.3l1 2.4m10.7 1l2 .2m-2.5-.3l.8 2.1m-3.1-2.1l.4 1.6m-4.7-3.4l-2.3 1.3m-.5 1.2l.5 1.1m-23.1-.5l.7 .2m-3.8-1.5l.7 1.2m-4.2-1.7l.3 1.4m-3.9-.9l.6 .3m-1.3 1.5l-2 1.2m-3.4-3.7l-.9 .2m9.7 3.8l1 .6m2.2 .6l1.5 .1m3.5-2.3l.3 1.9m19.7-1.9l2.4 .8m4.3 2l.4 .9m4.4-3.2l1.5 1.5m-2.3 4l-1.1 .4m1.1-.1l-.3 2.6m-8.1-2.7l1.1 .4m-4-2.7l-.1 .3m-5.5 .7l-1.8 1.6m1.1 .9l2.4 1.2m-3.1-4.7l.1 2.5m-7.9-2l-.5 1.3m.3-.4l-.1 .5m0-1.8l-1 .1m-.6 1.1l-.1 .4m-1.9 1.8l0 .3m-1.2-3.9l-.5 0m-3 1.2l-.2 .3m-2.1-.3l-.3 1.3m.2-1.6l-.2 1.6m-.4 .1l-1.8 1.5m.9-4l2.2 .7m-2.4-.2l-.3 .2m-4.4 .2l.2 .4m-.4-.1l-.7 .5m2.2 3.6l-.4 .3m2.3-.2l.6 .4m.4 .6l-.3 .6m4-1.4l-.8 1.5m1.1-2l.9 1.1m1.3-.9l1.5 1.6m-.3-2.3l-.8 1.3m1.9-1.2l-.6 1m1.1-.8l.2 .7m1.4 1.5l1.9 1m-1.4-3.5l.4 1.1m2.8 1.8l.7 .2m13.9-1.9l.2 .3m2.6-1.1l-2.1 .5m2.3-1l1.7 .5m2.8 5.7l1.2 .9m-1.5-2.4l.2 1.2m-5.6-1.8l.2 .3m-2.5 2.8l2.2 .2m-4.4-.5l.4 .2m-11-1.7l-2.2 .3m-1.4 1.1l1.9 1.3m-2-4.7l.4 1.5m-2.7-1.2l-1.3 .5m-3.3 .3l-.4 1.4m.3-2.1l-.1 .9m-3.4 1.7l1.2 .9m-5.5-.5l1.6 1m12.2 2.8l-.9 .5m8.1-1.9l.6 .7m5.5-1.9l0 1m5.3-.9l-.7 1.6"/><path id="twb6" d="M23.5 898.4l.3 .4m18.1 .5l.3 .7m14.6 3.9l-.4 .1m-.8-3.2l-.1 .2m-3.5-.6l-2.2 .7m.3 2.5l-1.7 .8m-2.2-1.4l-.8 2.5m-.2-3.9l-2.6 .2m-1.4 1.8l.6 1.8m-6.4-3.8l-2.5 .6m-6-.6l-2.3 .4m-.5-1.2l-1.5 .7m-2.3 .9l.7 1.3m-1-1.1l-.4 .6m-4.3-1.7l-1.4 1.9m.9-2.3l-.3 .4m-.5 2l.4 .5m-2.1-1l0 .3m.1 1l0 1.7m1.2-.1l.8 1.8m7.3-3.6l.6 .9m2.9-1l2.1 .3m6.3 1.7l.3 0m5.5 1.4l.2 0m7.1-2.5l1.1 .6m4.2 .3l.1 .5m3.5-.9l-.3 .6m-4.8 2.5l-1.3 1.2m.9-.2l-1.3 .6m.6 .5l-.7 .7m-7.5 .7l-2.3 .1m.1-2.9l-1.6 .7m.2-1.7l2.4 .3m-7.1 .3l-2.4 .1m-19.8 2.2l.3 .4m-2.7-2.5l-.3 .1m2.7 4.8l.3 2.3m2.8-.9l0 1.8m9.5-1.9l.2 .3m9.6-2l-.8 .7m7.1 .4l-.2 .8m2.6-2.6l.7 .2m9 2.1l-.2 1.3m3.9-.5l-.9 1m2.7-3.8l.7 .4m-2.2 5.2l2.3 .2m-13.1-.9l.5 .1m-.6-2.1l1.2 1.5m-1.4 2.3l1.6 1.5m-3-2.9l.4 1.3m-8-1.5l1.2 .4m-2.8-1.4l2.1 0m-12.4-.2l1.5 2.1m-2-1.6l1.9 .1m-6.6-.7l-2.4 .8m-4 1.5l-.6 1.5m.1-2.5l-.1 1.2m-2.1-.2l-1.4 1.8m.3-3.6l0 .9m-3.2-2.2l-1.4 1.5m.7-1.5l-.3 1.4m11.3 3.7l2.4 0m.3 1.1l-1.3 0m2.5-1.2l-.3 .1m2-.1l.2 .1m2.2 .9l.5 1.1m1-2.7l.8 .4m2.1 1.1l1.1 .2m0-.2l.4 1.5m1.5-1.6l1 1.3m4.4-1.3l.5 .3m12.9 1.6l-.3 0m3.1 2.5l.3 1.5m-6.1-.9l.7 .3m-.9 .1l-.5 2.4m-7.1-2l2.1 1.1m-2.1-2.4l.6 1.7m-10.6-2.9l.6 1.5m-2.2-1.1l-.4 1.1m-5.2-.5l1 0m-3.9-1.8l.6 1.1m-2.2 2.3l-2 .4m-2.2-.9l0 1.3m0-2.6l1.5 .3m-5.1-2l-.4 .4m2.4 5.3l-1.1 .5m7.5-.6l.1 .4m.3 1.5l-.5 1m3.1-2.7l2 .2m5.9-.1l1.8 .6m7.1-2.5l1.4 1.9m-.7 .3l.3 2.4m.5-3.2l-.1 .4m.6 1.1l0 1.2m12.5-3.1l-1.4 .7m-2.3 3.2l1.1 1.5m-7.7 .8l.4 .1m-10.8 .2l1.8 .8m-4.2-1.2l-.6 0m-1-1.3l.3 1.5m-4.6-3l-.9 .7m-.6 1.6l-1.2 .5m1-1.8l-.6 2.1m-.1-1.9l.9 .7m-2.1-.7l2.6 .2m-3.8-1.1l-.5 .2m-.5-1.1l-.9 0m-2.4 2.7l1 .3m-5.9 .8l2 .9m9.1-.6l-.2 .9m3.5-.1l1.8 .2m8.4 2l-.8 2.2m10.2-4.6l-.4 .2m3.4 .9l.5 1.1m.3-1.8l1.3 1.7m-.8-1.6l-.4 0m3.2-1.1l.4 .6m0 3.3l-2.5 .2"/>
<clipPath id="twc7"><rect x="61.5" y="899.2" width="50.7" height="38"/></clipPath>
<path id="twa7" d="M75.7 899.5l-1.3 1m37 2.1l2.1 .2m-5.9-.2l-2.3 .1m1.6-1.2l1.5 .1m-10.4 2.1l-1.2 1m1.2-4.4l.3 .2m-2.5 3.1l-2.2 1.3m-.7-3.7l.1 2.6m-4.2-3l0 1.9m-.5 .5l1 1.7m-3.5-3.4l-.4 2.2m.1-1.4l.1 .3m-2.7 .8l.4 1.9m-1.8-3.5l.3 2.1m-2.8-.4l-.1 2.1m-7.5-5l-1.4 2m-5.1 .8l1.7 .8m-4.9-3.3l.1 .2m-.1 6.8l.8 1.1m.7-1.8l1.4 1.7m-1-4.7l1.7 2m.7 1.4l-.3 .9m3-.6l-.8 .6m4.8-3.4l-.3 1.4m4.4-2.1l-1.3 .6m1.3 1.3l-1 2.5m5.4-.8l.4 .6m3.3-3l-.4 .4m.9-1.5l-2 1.5m3.5 .4l0 1.1m2-1.2l.2 .1m8.9 .5l-.9 1m6.3-3.7l-2 .1m3.9 3l-.4 .2m2.3-2.1l-1.3 1.5m-3.3 3.1l-.4 0m-16.3 1.2l1.4 1.4m-7.4-3.2l2 .4m-2.1 0l1.2 1m-1.9-1.3l-.7 1m-1.2-.5l-.7 .2m0 .5l-.5 1.3m-6.5 .5l-.2 .1m4.8-.1l-2.3 .7m7.8-.5l-1.8 .4m21.1 2.8l.5 .5m4.8-2.2l-.8 .2m5.1 .9l.9 1.3m-6.2 .6l.2 .2m-2.1-1.1l.8 .8m-9.5 2.5l-1.6 .5m-.1-.8l-1.1 .5m-4.3-2.9l-1.2 .1m.3 .1l.8 2.4m-3.8-2l1.9 1.5m-5.5-.3l1.3 0m-6.9-2.1l-.5 1m-4.8-.6l1.9 1m-5.1 4.1l-.4 1.1m5.9-1.7l.3 .6m1.3-.1l-1.5 .7m6.4 .5l-1.1 .6m6.6-.5l-.6 .9m2.3-1.7l0 .6m7 .5l-.4 1.5m1.5-3.8l.1 .6m1.9-.5l.1 2.2m1.8-1.6l-.4 1m3.6-1.4l.8 2.2m1.7-1.7l-.4 1.1m.6-1.3l.5 .9m.6-1.3l.9 1.6m.3-.5l2.7 .1m-.9-2.7l-1.1 1.6m1.2 1l-.6 1.2m8.5 1.2l.2 .2m-.9 1l.2 .6m-8.7-.6l-2.3 1.2m2.2-.5l2 .1m-5.1-2.4l-1.4 .5m-1.6 2.2l-.1 1.8m-3.2-1.6l-1.2 .1m.9-1.1l1.1 1.8m-2.1-2.5l-.4 .3m-.3 .7l-1 .2m-1.2-1.8l-.6 .2m-3-1.3l-.5 .1m-2.5 1.5l-.4 1.7m-7.9-.4l.3 2.3m-.8-3.8l-.2 .6m-3-1.4l.8 2.3m-1.3-1.1l.9 .6m-4.3-1.3l-.1 .2m-2.9 2.2l-.6 2m-5.3 2.4l2.3 .4m7.6-3.2l1.5 1.7m3.8 .9l.1 .4m.1-3.1l-.4 0m13.9-.3l.4 .7m1.4 1.3l.2 .9m.7-1.7l.1 .2m2.2-.8l-.4 .9m1.1-1.5l-2.2 .1m2.6 2.6l.4 .4m2.4-2.2l-.2 .3m1.7 .7l0 1m4-1.1l1.4 .3m7.8-2.7l.3 .4m.5 2.6l.4 0m-9 3.1l.1 .3m-1.3 .8l0 1.1m-1.2-.7l.6 .5m-8.3-3.8l-1 1.7m.3-2.2l.7 .8m-2.1-.6l.2 0m-11 3.4l.1 .3m-8.8-.8l0 2m-1.3-2.7l1.1 1.6m-6.4-1.6l-.2 .2m-1.5-2.3l.2 1.4m-.5-1l.5 1.8m24.3 3.3l-.8 2.1m2.3-2l1.8 .2m-.4-1.2l-.1 1.5m9.7 .6l-.1 .4"/><path id="twb7" d="M95.9 899.2l-1.1 1m11 2.2l-1.4 2m-1.1-1.4l1.5 .3m-5.5-1.4l-1.3 2.1m-3.3-3.5l-1.3 2.1m-3.3-.3l.1 .6m-.5-1.9l1.1 2.4m-12.7 .4l-.1 1.5m-4.1-2.9l-.2 .6m-4.3-1.7l-1.8 .1m0 1.4l-1.9 .3m1.6 .6l2.4 .7m-6.9 1.3l-.1 .4m.1 1.2l-2.3 .2m6.6 .4l.2 1m.2-3.7l-.2 .6m.5 1.2l-.2 .3m.7-1.5l-1.7 .5m3.3-.4l.6 2.4m2.4-2.5l-1.4 .6m2.5 1.3l.2 .9m.3-4.1l-1.1 1m1.2 .4l-1.1 .6m1.7 .5l1 2.1m-.2-2.9l-2.3 .9m5.4 .1l-1.6 .3m3-1.6l-.1 .3m.2 1.8l.9 2.2m7.3-4.3l-.1 1.2m3.5-.6l.6 1.2m5.6-1.4l-.9 1.7m6.4-2.9l.7 .6m1.7 1l.7 2.1m3.4 1.4l.6 1.9m-3.4-2.6l.3 2.1m-2.3-.2l-.4 .1m-2.3 .1l-.4 1.9m-.2-3.2l-1.4 1.6m1.2-2.2l-1.4 .5m-6.2-.2l-.7 1.7m-8.6-.4l-.5 2.1m-8.4-4.1l-1.4 1.2m-3.1-1.5l.5 1.4m-4.5-1.6l-.4 0m-1.1 1.6l1.8 1.2m-2 1.1l-1.9 .7m9.9-.4l1.1 .7m1.6-.4l.9 1m-.1 .1l1.2 .3m13.1-1.7l1.5 1.5m9.7-.6l2 1.8m-1.8 .1l.7 2.1m5.7-5.2l-.8 2.5m-5.4 1.5l1.6 .8m-5.7 2.4l.1 .6m-4.1-2.9l-1.4 2.2m-2.6-1.5l.9 .7m-5.5-1.1l1.2 .5m-5.6-2l-.8 .6m-6.8 1.4l1.6 .5m-3-.2l-.8 .3m-7.8 .7l-1.5 .3m1.1-1l.8 .5m-3.2 1.5l1.4 2.3m-.8 .1l1.4 .8m-.6-3.5l-1.7 .8m14.4 0l-.2 .1m6.3 .2l-1.2 .5m4.6-.3l-.3 .6m3.3 .4l.2 1m5-2.7l-.3 .5m.3 1.3l-2 .2m4.2-.3l1.6 1.5m-.2-1.4l-.5 1.3m1.3-1l-.3 0m1.9-2.5l.8 1.2m.4 1.6l1.4 .8m7.5-1.5l2.1 .4m4.4 4.3l-1.2 .8m-3.3-3.3l-.9 .3m-.7 0l.1 .6m-1 1.8l.3 2.6m-.6-3.4l2.4 .9m-5.1-1.1l.4 .2m-4.1 .5l1 .7m-1.6-3l1.6 .7m-2.6 1.1l.3 2.6m-1.1-2.4l-.5 1.8m.3-4.2l.5 2.4m-1.3-1.6l-1.7 .4m-2 .1l-1 .7m-1.9-2.3l1.5 .8m-3.9-1.1l-.7 1.1m-10 .5l-1.8 .3m-3.5 1.6l.2 .4m-4.1-1.4l1 1.1m-4.4-1l1 .4m-4.9 4.4l.8 .9m7.4-2.5l-.6 1m8.5-1.2l-.5 .1m2.4 .4l-1.3 1.7m8.5-2l-.3 2.1m1.7-.6l0 .2m2.7-3.5l-.1 2.3m2 .6l2.5 .8m-2.3-.6l-1.1 1.7m6.7-3.4l1.8 .6m6.7-.5l-.7 .3m2.6-.8l.9 1.5m-.1-2.5l-2.6 .3m.5 4l-.9 .4m-6.1-.7l-1.3 1.2m-1.9 1.9l-2 1m-3.6-2l.7 .4m-2.4 0l.4 .7m-3.9-1.4l.9 .3m-4.9-1l-.1 1.1m-1-2.2l2.6 .6m-4.7 .1l-1.8 .2m0 .2l-2.4 .2m-2.7 1.1l-1.2 1.8m-13.2-3.1l2.1 .4m30.7 3l-.4 .3m2.1-.4l0 .3m8.1 2.3l1 1"/>
<clipPath id="twc8"><rect x="115.5" y="899.2" width="51.5" height="38"/></clipPath>
<path id="twa8" d="M113.6 897.3l.5 2.2m33-1.6l-.1 .6m.5 .9l-.1 .2m12 .7l.1 .5m-2 2.8l.6 .1m-1.2-.8l.2 .3m-10.1-1.6l2.5 .5m-3.6 1.4l.2 .1m-.8-.8l.3 1.2m-.4-1.2l1.6 1.5m-3.9-4l-1.1 1.7m-15.4-1.4l.9 .7m-2.2-1.3l-.4 1.5m-1.6 1.9l.3 .9m-1-2.7l-1 .9m-2.4 .8l-1.1 1.9m-1.8-4.4l.7 .9m-.8-1.1l-.4 1.3m.3-1.8l-.2 .9m.3 3.9l-.8 0m5.3 .6l1.7 .7m-1.2 .7l-1.1 1.7m2.7-4.4l1.8 1.8m-1.5-.8l.9 .5m6.7 .5l-.9 .6m17.1-.4l-.2 .7m1.2 .4l.6 2.1m0-1.7l1.3 .2m-1.2-1.4l-1.2 1.1m9.5-3.5l1 2.4m.9-1.2l-1.6 1.8m8.9-1.3l-.4 1.4m-2 4.3l-1.1 1.9m-3.1-3.7l-.2 .6m-6.5 1.4l-.5 1.8m-.7-2.5l-.3 1.9m-.2-3.4l2 1m-6.7-1.8l.2 .3m-1.6 1.1l.4 1.1m-3.2-2l-.2 .3m-4.2 .4l1.7 .8m-9.5 .5l-.2 .1m-.5-1l-.4 .1m-.7 1.3l-.1 .6m-1.6-1.7l1.1 .3m-3.7-1.1l-.1 .6m-1.2 .9l.6 1.1m-2-2.7l1.8 1.1m-2.7-.1l2.5 .7m-3.1 .4l-1.8 1.3m-1-1.9l-1.1 1.1m-3.1-3l1 .1m4.4 5.7l.8 .1m-.6-1.7l1.3 1.1m1.4-2.5l1.6 .1m-1 3.4l-.2 .5m7.1-1.7l-.8 2.3m.9-3.7l-.9 .6m5 1.5l-1.4 1.8m2.4-3l-.2 .2m.5 0l.7 .9m0 .6l-1.9 .9m3-.8l-.8 .1m3-1l-1.1 2.2m3-1.4l1 1.3m11.2-3.9l.2 .2m.5-.4l.8 .7m1.2-1l-1.2 .5m2.5 .5l-1.3 1.9m1.4-3l1.1 .1m0 2.1l-.1 .5m1.4-.5l-.4 0m3.6 .9l-1.3 1.8m3.4-5.1l-1.6 .3m-.9 3.7l-1.5 1.9m-.9-2.2l.6 2.3m-1.4-1.4l-1.5 .3m-.4 1.4l.9 .3m-4.3-2l-.8 1m-.5-1.9l.2 .2m-1.9 2l.9 1.3m-1.4-2.8l.7 1.2m-3-2l0 .5m-2.6 .1l1.6 .5m-2.4 2.2l.1 .3m-.4-1.5l1.6 2m-1.7-.4l.4 .3m-1-2.5l-.2 2.5m-1-1.5l.7 2.2m-1.4-2.2l-.2 0m-.1-1.1l-.1 .9m-.7 0l-1.4 1.9m-4.7-2l-1.4 .1m-1.9-2l1.2 1m-1.3 .3l.9 .4m-1.2 1.9l.5 .5m-3.1-4.3l1 .4m-6 1.3l-2.1 1.4m.2-.7l.6 .2m-2 .1l-.8 2.5m.6-3.2l.3 .2m-.5-1l0 .4m-.9 1.2l-1.4 .2m-.5-2.4l-.3 1m2.4 5.3l.7 1.1m11.4-3.9l-.9 1.4m1.1 1.4l-2.2 1.4m8.1-.6l2.2 1m2.7-2.8l-1.4 .4m2-1.3l-.2 1m.4 .2l.1 .5m7.2-1.6l-2.6 .4m3.7-.4l-.8 2.1m1.2-2l-1.1 2m4.4-1.1l-.2 .7m4.8-1l.4 .4m.4 1.5l-.2 .7m.7-2.5l-2.3 1.1m2.5-3l-.8 .7m5 1l.9 .1m1.8-.9l2.2 .9m-9.2 2.7l.1 .2m-.7 1.1l.4 1.9m-1.5-3.7l-.7 .7m.7 2.7l-1.2 2.3m.2-5.7l1.8 .6m-4.9 2.8l1.4 1.5m-6.3-4.4l1.1 1.5m-2.6 1.6l-.4 1.1m-.9-2.9l-.3 .2m-2.4-.4l-1.6 1.2m-.6 0l-1.4 1m-9-1.6l-1 .5m-5.9-1l-1 1.6m.2-1.5l-1.5 2.2m.6-3l-1.7 1.6m-4.9 4.3l-.5 .7m6.5-.3l-1.3 1.6m3.3-4.1l1.9 1m.6-.4l-.2 .3m4.7 .1l-.1 1m1.3-.5l-1.7 .7m10-.1l1.5 2.2m5.5-1.3l-.2 1m1.7-4l1.2 .1m1.4 1.6l-.4 2m2.3-2.1l1 2.2m.2-4.4l.3 1.4m3.8 .3l-.1 .4m4.4 2.9l1 .2m-1.7 2.3l.8 1.4m-1.3-2.5l.4 1m-1.9-1.3l-.2 .4m-3.5-.1l-.7 1.8m-2.8-3.2l-.6 .5m-1.8 .2l-.3 .2m-5.7-.4l-.4 1.2m-.2-.8l-.5 1.2m0-1.3l.3 1.1m-30 .7l2 1.4m0-.8l1.3 2.1m-.7-2.2l.3 .3m7.6 .2l-.9 .7m23.3-1l-2.2 1.1m3.2-1.1l-.2 1.7m5.4-2.2l.7 0m2.5 0l-1.1 .6"/><path id="twb8" d="M130.5 899.8l-1.9 1.3m3.6-1.3l-.1 .3m13.7-.4l.4 1.5m1.3-2l.7 0m1.1 0l-1 1.5m2.2-.1l1.1 1.1m-3.3 .9l-.1 .8m-.3-.6l.3 .9m-2.6-1.2l1.5 .6m-2.8-.8l2.5 0m-2.6 .1l.8 1.1m-1.1-1l0 .6m-2.9-1.6l-.1 .4m-2 1.1l-.8 1.3m.3-1.6l-.3 2.1m-13-.9l1.2 1.1m-3.2-2.6l-.5 .8m.1-.8l-1.9 1.6m-5.2-2l.6 .9m-1.1-2.3l-2 0m.9 1.5l1.1 2.1m3.3 1.5l.3 1.8m.3-3.1l.6 1m3 1.6l.9 .4m1.5 .2l.1 .2m1.1-1.5l0 .7m.8-2l.3 .1m-.1 2.1l1.8 .1m1.1-.1l-.9 0m9.5 .6l-.7 .6m1-3.5l.3 .2m2.8 .5l-1.6 1.3m2.5-1.9l-1 .7m3.2 1.5l.6 .6m-.2-2.4l.6 1.3m.3-2.1l1.6 2m-.8 1.1l2.1 .9m-1.9-4.6l-.2 1.9m.8 .4l0 2.1m12.9-3.5l1.1 1.5m.3-1.5l.4 .3m3.5 3.6l1.4 .6m-2.4 1.7l.5 .5m-6.9 .2l2.6 .1m-2.7-.7l.3 .4m-3.9-.8l-1.5 .2m-8.6-1.4l-1.5 .5m-3.7-1.6l-.2 2.7m-8.5-.6l-.5 2.6m0-4.1l-1.3 .9m.6 1.5l1.1 .9m-5.1-2.5l2.5 .8m-2.5 .8l.7 .1m-2.8-3.5l.3 0m-1 .9l-.9 2.3m-.5 .3l2.6 .1m-3.1-1.6l.3 0m-1-1.2l-2 .4m.6 2l.8 .8m-1.5-1.4l-.1 .2m0-.7l.4 .8m-2.2-2.4l.7 .3m-.8 1l-.5 2.1m-1.1-3.4l-.2 0m7 4.1l-.1 1.1m.4-.7l0 1.5m1-2.6l.7 .5m-.1 2.4l1.9 .3m-1.6-.5l-2 .3m3.4-1.5l.4 1.4m-.2-1l.9 .4m.8-2l.4 .1m.7 .8l-.3 1m1.6-.1l-.9 .1m1-2.1l1.8 1.3m4.5 2.5l2.3 1.1m.5-2.8l.3 0m-.1 1.4l.1 2m2.2-1.6l.2 2.7m.5-5.3l-.3 1.7m.7-.6l.4 .1m-.1-1.4l2.1 .2m-1.5 2.1l.2 1m-.2-3.3l-.4 .1m8.2-.8l.6 .7m1.9-.7l-.7 1.6m6.9-.9l-.9 2.5m1.9-2.7l1.5 1.3m-1.3 1.3l-.1 .9m.1-4.4l.4 1.3m1.2 .3l-2 1.3m2.9-2.5l.6 1.2m1.4 .7l-.6 .9m-.6 2.6l.6 .8m-3.1 1.1l-.3 2.6m-3.5-3.9l-1.1 2.3m-1.2-2.1l.1 1.2m-.1-2.7l-2.5 .7m-3.7 .3l-.4 .6m-.4-.7l-1 .3m.1 .4l-1.8 .6m-17.7-.5l-.8 .1m-1-2.6l.4 .8m-5.5 2.5l-1.5 .3m-1.2-3.1l-1.8 1.2m-1.2 5l2.1 1.6m-1.8-4.2l-.6 .6m5.5 2.6l2.4 .1m2.2-3.2l.3 1m2.4 1.8l.6 2.2m.2-5l.8 .7m1.2-.4l.1 1.2m.1 .2l.5 .7m.9-2.3l.2 .5m9.6 2.5l.2 .3m.2-2.3l-1.6 .8m6.3-.2l-1.1 .1m2-2.1l2.5 .3m1 1.5l1 2m-.3-3l-.6 .3m2.4 1.9l.8 2.3m.5-5l.8 1.9m-.7-1.4l-.3 .6m.4 .2l-.4 0m1.7 .9l-.4 .7m1.7-3.4l.5 1.1m.5-.6l1.5 1.3m-.4 .6l2.4 1.2m-2-.5l.3 .7m1.5-1.8l-1.7 .9m5.2 4l2.2 .9m-7.5-3.4l-2 1.4m.7-1.3l-.2 2.2m-.1-1.4l1 .1m-1.6 1.3l.8 .3m-17.4-2.9l-1.1 2.3m-4.4 .3l.2 .1m-2.8-.9l1.6 1m-6.8-2.5l-1.5 1m-4.4 .8l.7 .2m-8.8 4.1l1.1 1.1m.8-1.1l.2 .6m5.3-.8l.7 .7m.5-2.1l.5 1.2m2.4-1.9l2.1 .7m1.5 1l0 1m5.7-2.3l1.4 .1m-.9-.5l-1 .9m27.4 2.2l.1 2.7m1.1-3l.2 .4m.9-1.6l2.3 .4m-4.4 1.8l1.7 1.8m-2.1-.3l-1.1 1.1m-.5-2l-1 .2m-2-.3l.5 .6m-25.7 .7l-.7 .3m.5-2.2l0 .4m0 2.8l-.3 .9m-4.7-4.1l.6 .3m-2.3 3.6l.6 2.1m-.8-3.8l-.3 .4m-3.2 .4l1.5 1.5m-1.7-2.4l-1.9 1.2m-3.2 1.4l-.9 1.3m14.1-1.5l-.4 1.7m7.6-1.8l1.1 1.1m11.9-1l2.2 .3m8.3-.5l-.2 1.8"/>
<clipPath id="twc9"><rect x="170.2" y="899.2" width="51.2" height="38"/></clipPath>
<path id="twa9" d="M169.8 899.2l.2 .8m1.8-.1l-1.7 1.9m8.3-3.6l-.6 .8m.7-1l-1.7 1.5m28.5-.1l-.8 .2m13.2 1.7l-.6 2.5m-.4-1l.5 .2m-4.1-2.8l-.9 .2m-2.1 2.3l-.6 2.1m-4.4-1.6l.5 2.1m-9.5-1.9l-1.8 1.4m1.4-3.7l.9 .3m-1.2 1.5l-.4 .3m-2-1.6l.6 .1m-8.8-.5l-.8 .8m-5.5 .5l1.7 1.8m-6.9-2.8l-.4 1.2m-1.2-2l1.4 1.9m-3.1-2.5l-.2 .3m4.5 6.2l-.4 .2m1.5-.8l-1.5 .8m13.4-.1l.1 2.4m2.2-1.6l-1.1 .9m1.3-.5l.3 2m1.9-4.5l-.4 2.1m.4-2l.3 .6m.7 1.6l.6 .5m.5-1.6l1.3 1.8m-.5-1.1l.3 2.1m1.4-3.1l-.2 .8m1.1 0l-.2 .3m5.1-1.3l.2 .1m10.3 1.8l-.5 .1m6.2-3.6l1.8 2m-1.4 1.5l-1.7 1.1m-.9 .3l-1.6 1.1m.9 1l1.9 .6m-7.7-3.1l.3 1.4m-9.4 1l.2 .1m-1.7-.7l-1.9 .2m.4-1.6l-.7 .3m-7.1-1.3l.5 .2m-4.9 .5l-.9 .7m-.5-.2l.1 .4m-7.3 1l-.7 .1m-4.7-2.9l-1 1.9m.4 3.4l-.3 .4m5.3-.8l.5 1.4m.9-1.6l.2 .2m6.1 2.5l1.1 1.2m-.4-3.2l-1.4 2m2.3-3.3l1.9 1.1m4.1-.2l-.4 1.1m3.8 .8l1.4 1.9m.9-3.7l.1 .2m12.7-.3l0 .4m1.5 0l.3 1.7m10.1 .3l-1.5 .5m3.6 .8l.5 .8m-18.9-1l1.8 .2m-2.1 2.5l-.5 .7m-.5-3.4l-1.6 .3m-7.2 .6l-.1 .2m-1.5-1.7l0 .8m-1.3 .4l1.1 1.3m-10.9 .8l.5 0m-.8-3.3l-.7 2.3m-.9-.6l-.6 1m-3.9 4.6l-1.9 .3m18.2-1.5l-1.1 .5m13.7-1.2l.2 .7m1.7-.1l.2 2.3m.2-1.1l-1.1 1.2m2.1-2.2l.4 .1m7.4 1.5l-.8 1.1m2.4-1.7l.4 1.2m1.9-1.6l-.8 .9m3.5-3.8l1.4 1.9m-5.5 2.7l-.1 .5m-3.7 1.1l-.1 1.2m-8-2.2l-.2 1.2m-1.6 .8l-.6 .6m.2-.4l1.6 .1m-7.6-2.2l-1.6 .8m-4.7 .2l-1.1 .4m-.2-1.4l-2.3 1.2m.4-1.8l-1.9 .2m-.9 1.1l.7 .1m-14.4 .1l-.5 .1m-1 1.9l-.9 .2m18 1l-.1 .4m.8 2.1l-.3 .1m10.9-3.9l2.2 .1m3 1.8l-.5 .5m2.2-.9l-.1 .4m4.7 1.1l.5 .3m1.5 1.7l-1.7 1.5m-12.2-.8l-.1 .9m-13.6 .1l-1.7 1.7m-3.7-.1l0 .3m15-.6l-2.2 .2m4.7 .5l-.7 1"/><path id="twb9" d="M172.7 899.9l1.2 .3m.4-1.3l.9 .4m38.4 2.6l-.4 2.3m-3.9-3.3l.4 1.1m-1.4 1.1l2.4 1.1m-2.8-1.5l.3 .9m-12.5-2.5l.9 .3m-18.1 .7l-1.1 1.3m-4-2.7l-.8 .7m-1.3 1.3l2.4 .3m-4.4-2.7l1.8 .1m1.3 6.5l.7 1.2m6.2-1.1l.3 .5m4.7-.8l.4 1.1m5.7-.8l1.9 .7m-.3-2.9l2.4 1.2m-1 .6l.1 1.1m1.9-3.4l-.1 2m.7-.7l.2 1m0-1.2l1 2.5m-.3-1.4l-1.9 .5m2.3 1l.4 .8m-.2-4.6l.7 .8m2 2.4l-1.5 1.4m9-1.1l-.6 .7m.8-4l-.7 1m3 .8l-.6 .1m1.7 1.6l-.4 2m.6-4.2l-.4 .2m.7 .5l.6 .6m.1 .7l.2 .4m1.6-1.8l-.3 .1m2.4 .8l-1.1 1.7m-3.8 .5l-1.8 1.3m0-1.9l2 .1m-6.6 2.6l-.4 .9m-1.7-3.7l-1.4 .7m1.2 2.6l-1.6 2.1m-2.3-4l-.1 .4m-11.7 1.4l1.3 1.2m-1.7-1.2l.3 .7m-5.2-4.4l-.8 .1m-5.7 2.3l.4 .1m-2.5-2.7l-1.5 .4m-.8 6.6l2.4 1m16-2.3l.2 .8m9.1 1l.1 1.2m.6-2l1.2 2.1m.9-4.1l1.5 1m-1.2-1.6l.1 .4m6.8 1.2l-1.5 .2m7-1.9l-.2 .1m2.1 2.2l.8 .9m1.7-1.1l-2.1 .5m6.6 3.5l-1.2 .4m.8-2.2l-1.7 1m-4.1 2.1l-.6 1.6m-2.2-1.2l.7 2.4m-5.3-5.4l-.3 2.2m-.6-.5l.6 2.5m-.8-4.9l1.9 .9m-11.6 1.6l-.9 1.3m-5.1-3.1l.8 2.6m-12.5-1.8l-1 .3m.5 1.3l-2.4 .8m-3.8-2l1.1 1.1m-3.2 2.2l1.2 .1m2.9-.9l-.5 .5m13 1.7l-2.4 .9m10.2-1.9l-.6 1m2.1-1.2l.1 2.7m3.4-1.2l-.7 .7m2.5-3.1l2 0m2.1 .9l1.3 0m2.5 .6l-.1 2.1m4.9-3.3l1 1.3m-8.9 2.5l1.2 .3m-4.2 1l1.5 .9m-1.9-1.7l-.1 1m-4.4-.2l.3 1.6m-12.2-2.3l-.2 2.2m-.7-1l.3 .7m-3-.4l0 .2m-10.4-1.2l-.2 .1m-.3 1.7l-.6 1.9m.5-4.9l-.3 .1m-2.3 2.5l.2 .8m-.3-1.1l.2 0m.1 3.7l.1 2m2.2-3l-1.8 .7m15.1 .8l-.3 .3m8-3.4l1.4 2m-1.2-1l-.4 1.9m11.7-1.2l-1.3 .3m9.5-1.7l-2.2 .8m5.3 .8l-.4 .9m-4.2 4.7l.6 1.5m-4.9-2.8l1 1.4m-2.7-2.8l-.4 1.7m-6.7 1l-.2 1.5m-4.6-4.6l1.8 .1m-5.9 2.1l.2 .1m-17.3 2.4l-.2 .1"/>
<clipPath id="twc10"><rect x="224.9" y="899.2" width="51.3" height="38"/></clipPath>
<path id="twa10" d="M236 899.2l1.1 1.9m7.9-2.3l-.8 .4m11.8-2.8l.3 .6m18.3 3.4l-.4 1.7m-3.2 1.6l.2 2.1m-.8-1.9l0 .4m-.3-3.6l-.3 1.1m-2.9 1.2l.4 1m-1.3-1.1l1.2 1.1m-1.7-.7l-.5 1.1m.5-1l-2.4 .4m1.1-1.8l-1.5 .3m-15.4-1.2l-2.3 1m-1.9 .4l-1.6 1.6m-2.5-3.9l-.5 .8m-2-.2l-.6 .8m-.3-.4l-2.2 1.3m-5.4 4.9l.7 0m.9-1.2l.7 .4m-.4-1.3l.8 .6m-.3 .1l-1.4 1.5m2.5-1.2l-1.2 .5m11.9 .2l0 .7m3.5-3.4l.8 1.5m-.6 .7l-1.2 1.3m3.6-2l1.3 1.3m-1 .8l1.3 2.3m16.2-3.3l0 .3m1.6 .1l-.7 .9m10.1-1.7l-.5 2.6m-4.5 2.1l-2.5 .1m.9-.2l-.4 2.3m-2-4.8l2 .9m-2.4 .1l-.8 .4m0-.2l.9 2.1m-2.6-3.2l-1.1 .7m.4 1.4l-1.4 2.2m1.2-4.2l.2 .1m-.9 1.2l.8 .7m-1.9-2.2l-1.4 .2m-2.5 1.6l.8 .7m-2.5-.8l-.6 .4m-17.8-2.1l-.9 .5m-2.2-.8l-.4 1.7m-.2 .4l-1.3 1.7m.9-1.5l1 .5m-3.6-3l1.9 1.3m-7.5 .5l.5 .4m5.4 1.8l-1.2 .2m2.5 .2l.1 .8m5.6 1.8l-1.3 .9m5.8-3.1l1.6 .1m5.2 .7l1.1 .6m2.8-1l-.2 1m3.5 .6l-1.2 .2m2.5-1.6l-.5 .1m1.1 1l.5 .5m2.4 .2l.1 .2m1.7-.1l2.4 1.1m-.2-2.4l-1.3 1m3.5-1.4l2.4 1.1m-11.8 3.5l.3 .1m-5.2-1.8l1 .2m-1.9 3.1l-.3 1.8m-3.8-5.3l1.8 1.4m-6.2 .9l1.8 1m-2-1l.6 .2m-2.7-1.3l.5 2.4m-15.3-3.3l-1.2 .9m-5.1 .6l-.4 .5m5.2 2.7l2.3 0m-.9-.9l-1.1 .1m1.9 2.4l1.3 1.4m16.7-1.3l-.1 .9m6.9-3.1l-1.2 .9m2.1 1.9l2.3 1m2.1-1.5l1.7 1.8m5-4.7l-.9 1.9m2.2 .1l-.8 2.5m1-4.7l1.1 1.7m-.1 .2l-1.6 1m9.2 2.4l-.7 0m-.8 2.1l-1.3 2m-3.3-3.8l.5 .3m-3.4-.4l2.4 .5m-5.3-.9l2 1m-6.3 1.2l-.4 0m-9.9 .5l1.2 1.7m-3.8-1.6l-1.5 1m-6.6-4.4l-1.6 2.1m-2.4-1.9l.6 .2m-5.1 2.1l-.8 .4m-.2 1.4l-.4 .8m4 2.2l1.1 .6m13.9-2.6l-.5 .8m9.6-2.1l.6 .5m2 1.6l1.4 0m-.3 1.1l.8 2.1m12-.4l.2 2.2m-1.7-1.6l.2 .5m-6.5-1.5l.1 .9m-9.5-.2l1 2.1m-1.8-.7l-1.4 .1m.1 .6l-.8 .2m-3.7-1.7l.4 .2m-1.3 .3l.3 .8m-.3-3.4l1.9 1.7m-2.9 0l-.6 2.5m-.7-3.5l.5 2.1m-5.3-1.8l-.3 .6m2.2 2.6l1.3 .1m-.2 .1l-.9 2"/><path id="twb10" d="M233.1 899.8l-.3 .5m37.7-.3l-.9 1.9m3.4-1l-1.9 .1m.8 2.1l-.3 .4m-1.4-.5l.7 .8m-3.4-1.6l.7 1.9m-11.7-.4l-1.7 1.9m.8-3.1l.4 .7m-2.2-2.7l-2.3 .1m-5 3l-.1 .3m-2.7-3.8l1.1 .5m-1.3 1.9l.3 2.4m-.6-2.8l-.1 .3m-1.3-.5l-.6 2.4m-3.3-1.9l-1.5 1.3m1.4-2l-.3 0m-4.5 1.6l-.6 1.3m0-.8l-.6 1.6m-2.4-5.1l-.3 1.9m-1.2 4.1l.8 1.2m.5 .1l0 .6m1.4-1.6l-.6 .5m2.3 .4l1 1.4m-.8-4.8l.3 .5m1.6 2.8l.6 0m0-.3l-2.1 1.5m5.9-3.8l.4 .2m-.1-.5l-.3 1m17.1 2.3l-.1 .7m14.7-3.1l-.2 1.4m.2 1.2l2.1 .6m-1.8-2.1l-.4 1.9m.9-2.7l-.8 .8m4.9 .1l-.3 .6m-2.6 4.7l-1.3 .3m.9-2.1l1.3 .5m-1.8 .1l-.2 .4m-.5-2.9l1.4 1.7m-1.7 .6l-2.3 .1m1.3-1.9l-1 1.6m.3 .6l0 .6m-5.3-1l.1 .5m-1.3-2.3l.4 1.8m-.8-.8l.1 .3m-2.2 1.9l-.5 2m-3.1-2.1l-.2 1.1m-2.6-4.6l-1.5 .3m-18.6 1.2l-.1 1.1m-3.1-2.5l1 1.1m-3.8-1.1l.4 1.3m-5.6 3.1l-.7 1.6m4.2 1.5l.1 .7m4.4-3.8l-1.2 .7m6.9 1.8l-.4 .3m7.3 .2l-1.6 1.6m8.8-1.8l2.4 .6m3.2-.3l-1.1 2.1m10.3-3.8l.2 .3m5.1-2.2l-.3 1.1m1.3 5.9l1.5 1.7m-10.9-3.5l-1.2 .4m1.1 .7l-.8 1.4m-8.7-2.1l-1.3 .6m-23.4-1.3l.4 .8m-.9 .8l1.4 1.4m-3.2 1.6l-1.6 .3m1.7-1.3l-1.9 .4m8-.2l-1.3 1.2m24 1.6l-.3 1.7m1.6-3.8l-.1 .7m12.3 1.1l.1 .8m1.7-.8l-2.2 .3m3.7-3.1l1.6 .2m2.1-.6l.4 .3m-.1 4.8l-.3 2.3m-7-2.4l1.4 2m-6-2.7l-.4 .5m.2 2.3l1 .1m-1.4-3.2l-1.5 1.5m-2.5 1.2l-.2 .3m-13.7-1.6l-.7 .4m-11.5 .4l-1.7 .5m-1.7-.2l1.2 1m-1.2-1.6l-.5 1.4m-1.1 1.2l-.6 .4m4.4 1.7l.5 .4m3.8-1.8l.4 1.3m11.5 .7l-.8 .5m1.1-.3l.2 .6m1.4-.5l1.4 1.1m8-1.3l.1 .3m1-3.2l-1.9 .8m12 1.8l-2.3 .6m5.7-2.2l-2.6 .1m2.9 2.4l.5 0m-.7 3.4l-1.2 .8m0-1.7l.6 2.2m-4.2-3l2.1 .4m-4.5-.5l-1.8 .7m-3-2.4l.4 1.6m-8.7 .5l-.4 1.7m-3.5-2.9l-.1 2.5m-1.4-2.4l-.1 .8m.1 .4l-1 2.4m-1.4-4.2l.3 .3m-2.6 .5l-.2 1.4m-1.7-.2l.4 0m-.7 .3l-.6 1.2m-5.9-.9l-1.1 1.3m-4.4-.8l-1.4 1.1m18.2-.7l-.6 .7m3.8 1.5l-.3 .5m12.5-1.9l.7 1.7"/>
<clipPath id="twc11"><rect x="279.4" y="899.2" width="51.6" height="38"/></clipPath>
<path id="twa11" d="M288.9 899.7l-.2 1.8m14.8-2.2l-.3 2.1m26.5-.4l.1 .4m-8 1.9l1.4 1m-10.1-4l-1.8 .3m-26.9-.3l-.7 2.3m-.2 1l.9 .3m-1.6 2.2l-.9 1.1m17.7-.3l-.9 .1m4.9-.3l.1 1m13.2-1l0 .2m10 3l-.5 .3m-12-.5l-.6 .1m-.2 1.5l-.5 1.3m-.5-2.3l1.5 1.7m-3.9-3.1l-1.6 .2m-.5 1.4l-1.6 .1m1.2 0l.8 0m-1.8-2.5l-.1 1.1m-2-.9l1.9 1.6m-19.1 4.9l2 .2m2-.6l.1 .9m1.5-1l1 1.9m6.7-4l-1.3 .8m7.1 .1l1 2m3.5-.2l.7 .3m2.5-1.6l-1.2 .7m16.6 4l1.7 .2m-16.1 .5l-.8 2.4m-5.6-1.8l.5 .7m-.8-3.2l.8 0m-2.8 .5l-2.2 .7m-8.5-.9l-.6 .7m-14.6-1.1l1.7 1m-3.6 4.4l-1.3 1.2m5.6-1.5l-.4 .2m1.2-.3l1 1.2m.8 .8l-.8 1.8m.8-2.4l.9 .2m0-.4l-.5 .6m.8-.7l.1 .2m3.9-1.5l-1.1 2.3m3.3-1.4l.9 2.1m5.5-4.1l-.5 .3m.7 1.1l.5 .4m24.6-1.1l1.2 1.8m1.1-1.4l-2.3 .1m7.3-.2l-.5 1.5m.9 2l1.3 2.1m-5.1-1l.2 2.1m-.8-1.6l-.1 .8m-13.2 .3l-2.6 .1m-5.3-.2l-.6 1.7m-8.7-3.2l2.3 .4m-8-2.7l-.2 1m-5.3-.7l-1 1.1m0 1.9l-1 1.7m-1.1-1.1l.4 .8m-.4-4l-1.2 .9m.3 6.1l1.3 .5m11.7-3.3l.3 .2m.4 .4l-1.7 1.3m2.6-2.4l-2.3 .9m3.6-.1l-2.1 1.6m16.9-2l-.6 .6m8.1 .1l2.2 .4m2.4 2.6l-1.6 .4m-3.8 1.3l.3 .1m-12.9-.1l-.4 2.6m-16.8-3.5l0 .3m-.6 2.2l-1.1 2.2m-1.6-5.3l-1 1.6m5 2.9l-.2 2.5m4.2-.8l-1.7 1.2m22.5-3l1 2"/><path id="twb11" d="M289.6 899.4l.9 .7m35.1-.9l-2.5 .8m-7.7 .5l0 .3m-20.5-.8l-1.8 1.7m.4 .9l-1.2 1m.1-3.3l1.1 1.4m-8.8 3.6l-2.3 .3m14.4-1.2l-2.5 .4m12.1 1.8l1 2.2m14.5-3.7l2.6 .1m1.7 6.1l1.3 .6m-1.4-.1l-.3 0m-8.3-1.2l.9 .2m-2.3 1l1.1 .9m-5-3.6l2.2 1.1m-3.1 .1l-1.3 .4m-10.3-1.7l-.6 1.1m-.5-.9l1 .9m-8.5 1.2l-1.1 .1m1.1-3.1l-1.1 1.7m-3.3-.2l-.4 .7m-4 4.9l-.1 1.9m4.2-4.4l.2 1.8m3.7-1.2l.8 .5m2.2 1.2l2.3 .9m-1.7-2.4l.8 1.4m2.4-3l-1 1.3m4-.4l.3 1.8m3-1.9l-.5 .2m2.1 .4l.6 .9m3.9-2l2.2 .9m0 1.3l-.4 1.5m1.8-.9l.2 .4m14.8-2.1l-.2 .1m-33.2 2.8l-.6 .2m0 1.6l.5 .2m-1.2 .2l-.2 .2m-1.4-1l-.5 1.9m-1.3-.7l.9 1.2m-10.7-2.9l.9 .1m1.3 5.9l1.7 .1m-1.2-1.2l-1.4 .5m1.8 .1l2.2 0m.4 .9l-.1 .2m.7-1.9l1.2 .3m1.2 .4l.1 1m.6-2.6l1.2 .3m4.2 .4l-2 1.7m5.7-1.7l1.3 1.2m25-1.2l-.7 1.7m-14.4 .9l-.5 2.2m-11.6 .7l.2 .1m-5.4-.2l-1.3 1.1m-2.9-4l2 .7m-2.4-.2l1.3 .9m-2.7 .2l1 .3m-5.2-2l-1.2 2.2m-.5 1.6l-.2 .7m12.2 1.5l2.1 1.6m.2-2.7l-1.3 1.6m6.8 .6l1.8 2m.2-5.1l.1 1.7m8.5-.9l.1 .3m11.7 .2l-.9 1.5m3.2-.9l2 1.2m1.5-.1l-1.7 .4m-6.3 2.4l.2 .6m-11.9 .9l-1.4 .2m-13-.7l.4 .1m-4-.5l2 .2m-3.1-.8l1.5 1.8m-3 0l.3 .1m-.5-2.8l-.2 1.2m1.7 3.8l-1.6 .6m40.4-2l-.4 .4"/>
</defs>
<text x="1.3" y="13.8" font-size="19.5" stroke="#1c1a1b">A</text>
<circle cx="65.7" cy="90" r="58" fill="#b1c7df"/>
<circle cx="130" cy="90" r="57.8" fill="#f1d5ba"/>
<circle cx="130" cy="90" r="57.8" fill="#cdbdab" clip-path="url(#cA)"/>
<text x="60" y="28.3" font-size="10" text-anchor="middle" fill="#6a9bd0" stroke="#6a9bd0">circBank</text>
<text x="143" y="28.3" font-size="10" text-anchor="middle" fill="#f0b27c" stroke="#f0b27c">TargetScanHuman</text>
<text x="48.8" y="92.3" font-size="10.5" text-anchor="middle" stroke="#1c1a1b">29</text>
<text x="101.7" y="92.3" font-size="10.5" text-anchor="middle" stroke="#1c1a1b">4</text>
<text x="148" y="92.3" font-size="10.5" text-anchor="middle" stroke="#1c1a1b">16</text>
<line x1="101.9" y1="101" x2="101.9" y2="147.2" stroke="#555" stroke-width="1"/>
<rect x="65.8" y="147.5" width="70" height="47.4" rx="11" ry="11" fill="#fff" stroke="#1a1a1a" stroke-width="0.9"/>
<text x="76.8" y="156.2" font-size="8.4" stroke="#1c1a1b">hsa-miR-581</text>
<text x="76.8" y="168.5" font-size="8.4" stroke="#1c1a1b">hsa-miR-1200</text>
<text x="76.8" y="180.8" font-size="8.4" stroke="#1c1a1b">hsa-miR-1205</text>
<text x="76.8" y="193.1" font-size="8.4" stroke="#1c1a1b">hsa-miR-646</text>
<text x="203.7" y="13.8" font-size="19.5" stroke="#1c1a1b">B</text>
<line x1="250.2" y1="27" x2="250.2" y2="44.4" stroke="#000" stroke-width="1.7"/>
<line x1="250.2" y1="56" x2="250.2" y2="138.6" stroke="#000" stroke-width="1.7"/>
<line x1="249.5" y1="137.9" x2="367" y2="137.9" stroke="#000" stroke-width="1.7"/>
<line x1="245.3" y1="27.6" x2="250.2" y2="27.6" stroke="#000" stroke-width="1.5"/>
<text x="244.2" y="30.6" font-size="8.3" text-anchor="end" font-weight="bold" stroke="#1c1a1b">1.2</text>
<line x1="245.3" y1="44.4" x2="250.2" y2="44.4" stroke="#000" stroke-width="1.5"/>
<text x="244.2" y="47.4" font-size="8.3" text-anchor="end" font-weight="bold" stroke="#1c1a1b">0.8</text>
<line x1="245.3" y1="56" x2="250.2" y2="56" stroke="#000" stroke-width="1.5"/>
<text x="244.2" y="59" font-size="8.3" text-anchor="end" font-weight="bold" stroke="#1c1a1b">0.20</text>
<line x1="245.3" y1="76.4" x2="250.2" y2="76.4" stroke="#000" stroke-width="1.5"/>
<text x="244.2" y="79.4" font-size="8.3" text-anchor="end" font-weight="bold" stroke="#1c1a1b">0.15</text>
<line x1="245.3" y1="96.7" x2="250.2" y2="96.7" stroke="#000" stroke-width="1.5"/>
<text x="244.2" y="99.7" font-size="8.3" text-anchor="end" font-weight="bold" stroke="#1c1a1b">0.10</text>
<line x1="245.3" y1="117.3" x2="250.2" y2="117.3" stroke="#000" stroke-width="1.5"/>
<text x="244.2" y="120.3" font-size="8.3" text-anchor="end" font-weight="bold" stroke="#1c1a1b">0.05</text>
<line x1="245.3" y1="137.9" x2="250.2" y2="137.9" stroke="#000" stroke-width="1.5"/>
<text x="244.2" y="140.9" font-size="8.3" text-anchor="end" font-weight="bold" stroke="#1c1a1b">0.00</text>
<line x1="250.2" y1="44.4" x2="253.8" y2="44.4" stroke="#000" stroke-width="1.3"/>
<line x1="250.2" y1="56" x2="253.8" y2="56" stroke="#000" stroke-width="1.3"/>
<rect x="257.2" y="36.2" width="14.5" height="7.7" fill="#808184"/>
<line x1="264.5" y1="36.2" x2="264.5" y2="35" stroke="#2e2e2e" stroke-width="0.9"/>
<line x1="261" y1="35" x2="268" y2="35" stroke="#2e2e2e" stroke-width="0.9"/>
<rect x="257.2" y="56" width="14.5" height="81.9" fill="#808184"/>
<rect x="279" y="118.7" width="14.5" height="19.2" fill="#7da2cd"/>
<line x1="286.25" y1="118.7" x2="286.25" y2="118.3" stroke="#2e2e2e" stroke-width="1"/>
<line x1="282.75" y1="118.3" x2="289.75" y2="118.3" stroke="#2e2e2e" stroke-width="1"/>
<rect x="300.7" y="102.1" width="14.5" height="35.8" fill="#97d1a2"/>
<line x1="307.95" y1="102.1" x2="307.95" y2="98.6" stroke="#2e2e2e" stroke-width="1"/>
<line x1="304.45" y1="98.6" x2="311.45" y2="98.6" stroke="#2e2e2e" stroke-width="1"/>
<rect x="322.2" y="93.9" width="14.7" height="44" fill="#fdd3b3"/>
<line x1="329.55" y1="93.9" x2="329.55" y2="91.6" stroke="#2e2e2e" stroke-width="1"/>
<line x1="326.05" y1="91.6" x2="333.05" y2="91.6" stroke="#2e2e2e" stroke-width="1"/>
<rect x="343.9" y="98.1" width="14.6" height="39.8" fill="#fdd5d4"/>
<line x1="351.2" y1="98.1" x2="351.2" y2="96.3" stroke="#2e2e2e" stroke-width="1"/>
<line x1="347.7" y1="96.3" x2="354.7" y2="96.3" stroke="#2e2e2e" stroke-width="1"/>
<line x1="264.5" y1="137.9" x2="264.5" y2="142.6" stroke="#000" stroke-width="1.3"/>
<line x1="286.3" y1="137.9" x2="286.3" y2="142.6" stroke="#000" stroke-width="1.3"/>
<line x1="308" y1="137.9" x2="308" y2="142.6" stroke="#000" stroke-width="1.3"/>
<line x1="329.5" y1="137.9" x2="329.5" y2="142.6" stroke="#000" stroke-width="1.3"/>
<line x1="351.2" y1="137.9" x2="351.2" y2="142.6" stroke="#000" stroke-width="1.3"/>
<text x="286.3" y="105.78" font-size="8.2" text-anchor="middle" stroke="#1c1a1b">****</text>
<text x="308" y="85.48" font-size="8.2" text-anchor="middle" stroke="#1c1a1b">****</text>
<text x="329.5" y="74.18" font-size="8.2" text-anchor="middle" stroke="#1c1a1b">****</text>
<text x="351.2" y="80.78" font-size="8.2" text-anchor="middle" stroke="#1c1a1b">****</text>
<text font-size="8.7" text-anchor="middle" stroke="#1c1a1b" transform="translate(222 82.7) rotate(-90)">Relative luciferase activity</text>
<text font-size="9" text-anchor="end" stroke="#1c1a1b" transform="translate(267.6 149.1) rotate(-45)">miR-NC</text>
<text font-size="9" text-anchor="end" stroke="#1c1a1b" transform="translate(289.4 149.1) rotate(-45)">hsa-miR-581</text>
<text font-size="9" text-anchor="end" stroke="#1c1a1b" transform="translate(311.1 149.1) rotate(-45)">hsa-miR-1200</text>
<text font-size="9" text-anchor="end" stroke="#1c1a1b" transform="translate(332.6 149.1) rotate(-45)">hsa-miR-1205</text>
<text font-size="9" text-anchor="end" stroke="#1c1a1b" transform="translate(354.3 149.1) rotate(-45)">hsa-miR-646</text>
<text x="380" y="13.8" font-size="19.5" stroke="#1c1a1b">C</text>
<line x1="419.9" y1="27" x2="419.9" y2="149.5" stroke="#000" stroke-width="1.7"/>
<line x1="419.2" y1="148.8" x2="542.5" y2="148.8" stroke="#000" stroke-width="1.7"/>
<line x1="414" y1="27.6" x2="419.9" y2="27.6" stroke="#000" stroke-width="1.5"/>
<text x="413.3" y="30.7" font-size="8.7" text-anchor="end" stroke="#1c1a1b">15</text>
<line x1="414" y1="68.2" x2="419.9" y2="68.2" stroke="#000" stroke-width="1.5"/>
<text x="413.3" y="71.3" font-size="8.7" text-anchor="end" stroke="#1c1a1b">10</text>
<line x1="414" y1="108.6" x2="419.9" y2="108.6" stroke="#000" stroke-width="1.5"/>
<text x="413.3" y="111.7" font-size="8.7" text-anchor="end" stroke="#1c1a1b">5</text>
<line x1="414" y1="148.8" x2="419.9" y2="148.8" stroke="#000" stroke-width="1.5"/>
<text x="413.3" y="151.9" font-size="8.7" text-anchor="end" stroke="#1c1a1b">0</text>
<rect x="425.7" y="141.1" width="10.5" height="7.7" fill="#808184"/>
<line x1="430.95" y1="141.1" x2="430.95" y2="140.3" stroke="#2e2e2e" stroke-width="1"/>
<line x1="427.95" y1="140.3" x2="433.95" y2="140.3" stroke="#2e2e2e" stroke-width="1"/>
<rect x="441.4" y="133.2" width="10.6" height="15.6" fill="#fdd3b3"/>
<line x1="446.7" y1="133.2" x2="446.7" y2="128.2" stroke="#2e2e2e" stroke-width="1"/>
<line x1="443.7" y1="128.2" x2="449.7" y2="128.2" stroke="#2e2e2e" stroke-width="1"/>
<rect x="467.7" y="141.1" width="10.5" height="7.7" fill="#808184"/>
<line x1="472.95" y1="141.1" x2="472.95" y2="140.3" stroke="#2e2e2e" stroke-width="1"/>
<line x1="469.95" y1="140.3" x2="475.95" y2="140.3" stroke="#2e2e2e" stroke-width="1"/>
<rect x="483.5" y="124.3" width="10.5" height="24.5" fill="#fdd3b3"/>
<line x1="488.75" y1="124.3" x2="488.75" y2="122.2" stroke="#2e2e2e" stroke-width="1"/>
<line x1="485.75" y1="122.2" x2="491.75" y2="122.2" stroke="#2e2e2e" stroke-width="1"/>
<rect x="509.8" y="141.1" width="10.5" height="7.7" fill="#808184"/>
<line x1="515.05" y1="141.1" x2="515.05" y2="140.6" stroke="#2e2e2e" stroke-width="1"/>
<line x1="512.05" y1="140.6" x2="518.05" y2="140.6" stroke="#2e2e2e" stroke-width="1"/>
<rect x="525.5" y="73" width="10.5" height="75.8" fill="#fdd3b3"/>
<line x1="530.75" y1="73" x2="530.75" y2="62.5" stroke="#2e2e2e" stroke-width="1"/>
<line x1="527.75" y1="62.5" x2="533.75" y2="62.5" stroke="#2e2e2e" stroke-width="1"/>
<line x1="438.8" y1="148.8" x2="438.8" y2="153.8" stroke="#000" stroke-width="1.3"/>
<line x1="480.8" y1="148.8" x2="480.8" y2="153.8" stroke="#000" stroke-width="1.3"/>
<line x1="522.9" y1="148.8" x2="522.9" y2="153.8" stroke="#000" stroke-width="1.3"/>
<rect x="425.7" y="25" width="13.1" height="5.3" fill="#808184"/>
<rect x="425.7" y="38.1" width="13.1" height="5.3" fill="#fdd3b3"/>
<text x="446.2" y="30" font-size="8.9" stroke="#1c1a1b">oligo probe</text>
<text x="446.2" y="43.1" font-size="8.9" stroke="#1c1a1b">circPPFIA2 probe</text>
<text x="446.7" y="120.9" font-size="8.9" text-anchor="middle" stroke="#1c1a1b">ns</text>
<text x="488.7" y="114.59" font-size="9" text-anchor="middle" stroke="#1c1a1b">**</text>
<text x="530.8" y="60.29" font-size="9" text-anchor="middle" stroke="#1c1a1b">****</text>
<text font-size="8.9" text-anchor="middle" stroke="#1c1a1b" transform="translate(399.8 87.7) rotate(-90)">Relative miRNA levels</text>
<text font-size="9.4" text-anchor="end" stroke="#1c1a1b" transform="translate(442 161.3) rotate(-45)">miR-581</text>
<text font-size="9.4" text-anchor="end" stroke="#1c1a1b" transform="translate(484 161.3) rotate(-45)">miR-1200</text>
<text font-size="9.4" text-anchor="end" stroke="#1c1a1b" transform="translate(526.1 161.3) rotate(-45)">miR-646</text>
<text x="547.6" y="13.8" font-size="19.5" stroke="#1c1a1b">D</text>
<line x1="599.8" y1="31.4" x2="599.8" y2="118.5" stroke="#000" stroke-width="1.7"/>
<line x1="599.8" y1="126.9" x2="599.8" y2="148.6" stroke="#000" stroke-width="1.7"/>
<line x1="599.1" y1="147.9" x2="678" y2="147.9" stroke="#000" stroke-width="1.7"/>
<line x1="594.6" y1="32" x2="599.8" y2="32" stroke="#000" stroke-width="1.5"/>
<text x="593.3" y="35.2" font-size="9" text-anchor="end" stroke="#1c1a1b">8</text>
<line x1="594.6" y1="54" x2="599.8" y2="54" stroke="#000" stroke-width="1.5"/>
<text x="593.3" y="57.2" font-size="9" text-anchor="end" stroke="#1c1a1b">7</text>
<line x1="594.6" y1="75.2" x2="599.8" y2="75.2" stroke="#000" stroke-width="1.5"/>
<text x="593.3" y="78.4" font-size="9" text-anchor="end" stroke="#1c1a1b">6</text>
<line x1="594.6" y1="96.7" x2="599.8" y2="96.7" stroke="#000" stroke-width="1.5"/>
<text x="593.3" y="99.9" font-size="9" text-anchor="end" stroke="#1c1a1b">5</text>
<line x1="594.6" y1="118.5" x2="599.8" y2="118.5" stroke="#000" stroke-width="1.5"/>
<text x="593.3" y="121.7" font-size="9" text-anchor="end" stroke="#1c1a1b">4</text>
<line x1="594.6" y1="126.9" x2="599.8" y2="126.9" stroke="#000" stroke-width="1.5"/>
<text x="593.3" y="130.1" font-size="9" text-anchor="end" stroke="#1c1a1b">0.2</text>
<line x1="594.6" y1="147.9" x2="599.8" y2="147.9" stroke="#000" stroke-width="1.5"/>
<text x="593.3" y="151.1" font-size="9" text-anchor="end" stroke="#1c1a1b">0.0</text>
<line x1="599.8" y1="118.5" x2="603.4" y2="118.5" stroke="#000" stroke-width="1.3"/>
<line x1="599.8" y1="126.9" x2="603.4" y2="126.9" stroke="#000" stroke-width="1.3"/>
<rect x="611" y="135" width="22" height="12.9" fill="#808184"/>
<line x1="622" y1="135" x2="622" y2="130.8" stroke="#2e2e2e" stroke-width="1"/>
<line x1="616.5" y1="130.8" x2="627.5" y2="130.8" stroke="#2e2e2e" stroke-width="1"/>
<rect x="643.7" y="66.1" width="22" height="51.9" fill="#fdd3b3"/>
<rect x="643.7" y="126.9" width="22" height="21" fill="#fdd3b3"/>
<line x1="654.7" y1="66.1" x2="654.7" y2="56.5" stroke="#2e2e2e" stroke-width="0.9"/>
<line x1="649.2" y1="56.5" x2="660.2" y2="56.5" stroke="#2e2e2e" stroke-width="0.9"/>
<line x1="621.6" y1="147.9" x2="621.6" y2="153.2" stroke="#000" stroke-width="1.3"/>
<line x1="654.3" y1="147.9" x2="654.3" y2="153.2" stroke="#000" stroke-width="1.3"/>
<text x="621.6" y="163.6" font-size="9" text-anchor="middle" stroke="#1c1a1b">IgG</text>
<text x="655.6" y="163.6" font-size="9" text-anchor="middle" stroke="#1c1a1b">Flag-Ago2</text>
<text x="654.7" y="52.28" font-size="8.4" text-anchor="middle" stroke="#1c1a1b">****</text>
<text font-size="9.05" text-anchor="middle" stroke="#1c1a1b" transform="translate(576 93) rotate(-90)">The relative RNA levels in inputs(%)</text>
<text x="1.4" y="218.8" font-size="19.5" stroke="#1c1a1b">E</text>
<line x1="56.3" y1="244" x2="63" y2="244" stroke="#222" stroke-width="0.9"/>
<path d="M62 239.8 L70.7 244 L62 248.2 Z" fill="#1b75bc"/>
<line x1="70.5" y1="244" x2="76.6" y2="244" stroke="#222" stroke-width="0.9"/>
<rect x="76.6" y="237.1" width="27.8" height="13.9" rx="6.9" fill="#fff" stroke="#1a1a1a" stroke-width="0.9"/>
<text x="90.5" y="247.2" font-size="9.6" text-anchor="middle" stroke="#1c1a1b">Fluc</text>
<line x1="104.4" y1="244" x2="110.1" y2="244" stroke="#222" stroke-width="0.9"/>
<rect x="110.1" y="236.2" width="67.3" height="15.7" rx="7.8" fill="#fff" stroke="#1a1a1a" stroke-width="0.9"/>
<text x="143.5" y="247.4" font-size="9.7" text-anchor="middle" stroke="#1c1a1b">circPPFIA2</text>
<line x1="177.4" y1="244" x2="184" y2="244" stroke="#222" stroke-width="0.9"/>
<path d="M183.9 239.6 L193.4 244 L183.9 248.6 Z" fill="#f7941d"/>
<line x1="193.3" y1="244" x2="198" y2="244" stroke="#222" stroke-width="0.9"/>
<rect x="198" y="237" width="27.3" height="14.2" rx="7" fill="#fff" stroke="#1a1a1a" stroke-width="0.9"/>
<text x="211.6" y="247.2" font-size="9.6" text-anchor="middle" stroke="#1c1a1b">Rluc</text>
<line x1="225.3" y1="244" x2="229.5" y2="244" stroke="#222" stroke-width="0.9"/>
<line x1="111.5" y1="251.2" x2="70.5" y2="265.2" stroke="#222" stroke-width="0.8"/>
<line x1="177.5" y1="251.8" x2="218.3" y2="266.2" stroke="#222" stroke-width="0.8"/>
<text x="63" y="279.2" font-size="9.1" text-anchor="end" stroke="#1c1a1b">hsa-miR-1200</text>
<text x="63" y="295.2" font-size="9.1" text-anchor="end" stroke="#1c1a1b">circPPFIA2 Wt</text>
<text x="63" y="310.4" font-size="9.1" text-anchor="end" stroke="#1c1a1b">hsa-miR-646</text>
<text x="63" y="330.1" font-size="9.1" text-anchor="end" stroke="#1c1a1b">circPPFIA2 Mut</text>
<text x="69.6" y="279.2" font-size="9.5" stroke="#1c1a1b" textLength="146.4" lengthAdjust="spacingAndGlyphs">3'...AGUCUUACCGAGUCCUC...5'</text>
<text x="69.6" y="295.2" font-size="9.5" stroke="#1c1a1b" textLength="219.2" lengthAdjust="spacingAndGlyphs">5'...C<tspan fill="#1b75bc" stroke="#1b75bc" font-weight="bold" font-style="italic">CAG</tspan>UCUCC<tspan fill="#1b75bc" stroke="#1b75bc" font-weight="bold" font-style="italic">CUCAGGA</tspan>G...U<tspan fill="#1b75bc" stroke="#1b75bc" font-weight="bold" font-style="italic">AGCUGCU</tspan>G...3'</text>
<text x="125.2" y="310.4" font-size="9.5" stroke="#1c1a1b" textLength="162.5" lengthAdjust="spacingAndGlyphs">3'...CGGAGUCUCCGUCGACGAA...5'</text>
<text x="69.6" y="330.1" font-size="9.5" stroke="#1c1a1b" textLength="219.2" lengthAdjust="spacingAndGlyphs">5'...C<tspan fill="#f15a29" stroke="#f15a29" font-weight="bold" font-style="italic">GUC</tspan>UCUCC<tspan fill="#f15a29" stroke="#f15a29" font-weight="bold" font-style="italic">GAGUCCU</tspan>G...U<tspan fill="#f15a29" stroke="#f15a29" font-weight="bold" font-style="italic">UCGACGA</tspan>G...3'</text>
<text x="170.4" y="267.5" font-size="8" text-anchor="middle" stroke="#1c1a1b">188-194bp</text>
<line x1="148.2" y1="269.4" x2="192.6" y2="269.4" stroke="#222" stroke-width="0.8"/>
<text x="241.2" y="319.6" font-size="8" text-anchor="middle" stroke="#1c1a1b">323-329bp</text>
<line x1="220.6" y1="311.6" x2="262" y2="311.6" stroke="#222" stroke-width="0.8"/>
<line x1="94.6" y1="279.6" x2="94.6" y2="285.6" stroke="#333" stroke-width="0.8"/>
<line x1="101.8" y1="279.6" x2="101.8" y2="285.6" stroke="#333" stroke-width="0.8"/>
<line x1="109" y1="279.6" x2="109" y2="285.6" stroke="#333" stroke-width="0.8"/>
<line x1="149.3" y1="279" x2="149.3" y2="285.6" stroke="#333" stroke-width="0.8"/>
<line x1="155.9" y1="279" x2="155.9" y2="285.6" stroke="#333" stroke-width="0.8"/>
<line x1="162.7" y1="279" x2="162.7" y2="285.6" stroke="#333" stroke-width="0.8"/>
<line x1="169.7" y1="279" x2="169.7" y2="285.6" stroke="#333" stroke-width="0.8"/>
<line x1="176.7" y1="279" x2="176.7" y2="285.6" stroke="#333" stroke-width="0.8"/>
<line x1="183.7" y1="279" x2="183.7" y2="285.6" stroke="#333" stroke-width="0.8"/>
<line x1="190.2" y1="279" x2="190.2" y2="285.6" stroke="#333" stroke-width="0.8"/>
<line x1="221.1" y1="295.8" x2="221.1" y2="302" stroke="#333" stroke-width="0.8"/>
<line x1="228.3" y1="295.8" x2="228.3" y2="302" stroke="#333" stroke-width="0.8"/>
<line x1="235.1" y1="295.8" x2="235.1" y2="302" stroke="#333" stroke-width="0.8"/>
<line x1="242.1" y1="295.8" x2="242.1" y2="302" stroke="#333" stroke-width="0.8"/>
<line x1="249.1" y1="295.8" x2="249.1" y2="302" stroke="#333" stroke-width="0.8"/>
<line x1="256.1" y1="295.8" x2="256.1" y2="302" stroke="#333" stroke-width="0.8"/>
<line x1="263.1" y1="295.8" x2="263.1" y2="302" stroke="#333" stroke-width="0.8"/>
<text x="294.6" y="218.8" font-size="19.5" stroke="#1c1a1b">F</text>
<text x="402.4" y="222" font-size="8.6" text-anchor="middle" stroke="#1c1a1b">C4-2</text>
<line x1="333.8" y1="249.1" x2="333.8" y2="348.8" stroke="#000" stroke-width="1.7"/>
<line x1="333.1" y1="348.1" x2="482.7" y2="348.1" stroke="#000" stroke-width="1.7"/>
<line x1="329.2" y1="249.7" x2="333.8" y2="249.7" stroke="#000" stroke-width="1.5"/>
<text x="328.2" y="252.3" font-size="7.2" text-anchor="end" font-weight="bold" stroke="#1c1a1b">1.5</text>
<line x1="329.2" y1="282.4" x2="333.8" y2="282.4" stroke="#000" stroke-width="1.5"/>
<text x="328.2" y="285" font-size="7.2" text-anchor="end" font-weight="bold" stroke="#1c1a1b">1.0</text>
<line x1="329.2" y1="315.3" x2="333.8" y2="315.3" stroke="#000" stroke-width="1.5"/>
<text x="328.2" y="317.9" font-size="7.2" text-anchor="end" font-weight="bold" stroke="#1c1a1b">0.5</text>
<line x1="329.2" y1="348.1" x2="333.8" y2="348.1" stroke="#000" stroke-width="1.5"/>
<text x="328.2" y="350.7" font-size="7.2" text-anchor="end" font-weight="bold" stroke="#1c1a1b">0.0</text>
<rect x="339" y="282.4" width="10.9" height="65.7" fill="#808184"/>
<line x1="344.45" y1="282.4" x2="344.45" y2="278.6" stroke="#2e2e2e" stroke-width="1"/>
<line x1="341.45" y1="278.6" x2="347.45" y2="278.6" stroke="#2e2e2e" stroke-width="1"/>
<rect x="355.1" y="305.7" width="11.4" height="42.4" fill="#7da2cd"/>
<line x1="360.8" y1="305.7" x2="360.8" y2="301.4" stroke="#2e2e2e" stroke-width="1"/>
<line x1="357.8" y1="301.4" x2="363.8" y2="301.4" stroke="#2e2e2e" stroke-width="1"/>
<rect x="371.8" y="300.5" width="11" height="47.6" fill="#97d1a2"/>
<line x1="377.3" y1="300.5" x2="377.3" y2="296.4" stroke="#2e2e2e" stroke-width="1"/>
<line x1="374.3" y1="296.4" x2="380.3" y2="296.4" stroke="#2e2e2e" stroke-width="1"/>
<rect x="388.1" y="310.1" width="11.1" height="38" fill="#fdd3b3"/>
<line x1="393.65" y1="310.1" x2="393.65" y2="308.6" stroke="#2e2e2e" stroke-width="1"/>
<line x1="390.65" y1="308.6" x2="396.65" y2="308.6" stroke="#2e2e2e" stroke-width="1"/>
<rect x="416.1" y="284.4" width="11.1" height="63.7" fill="#808184"/>
<line x1="421.65" y1="284.4" x2="421.65" y2="280.3" stroke="#2e2e2e" stroke-width="1"/>
<line x1="418.65" y1="280.3" x2="424.65" y2="280.3" stroke="#2e2e2e" stroke-width="1"/>
<rect x="432.2" y="283" width="11.1" height="65.1" fill="#7da2cd"/>
<line x1="437.75" y1="283" x2="437.75" y2="281.8" stroke="#2e2e2e" stroke-width="1"/>
<line x1="434.75" y1="281.8" x2="440.75" y2="281.8" stroke="#2e2e2e" stroke-width="1"/>
<rect x="448.5" y="278.9" width="11.1" height="69.2" fill="#97d1a2"/>
<line x1="454.05" y1="278.9" x2="454.05" y2="276" stroke="#2e2e2e" stroke-width="1"/>
<line x1="451.05" y1="276" x2="457.05" y2="276" stroke="#2e2e2e" stroke-width="1"/>
<rect x="464.6" y="284.4" width="11.4" height="63.7" fill="#fdd3b3"/>
<line x1="470.3" y1="284.4" x2="470.3" y2="280.3" stroke="#2e2e2e" stroke-width="1"/>
<line x1="467.3" y1="280.3" x2="473.3" y2="280.3" stroke="#2e2e2e" stroke-width="1"/>
<line x1="369.1" y1="348.1" x2="369.1" y2="351.3" stroke="#000" stroke-width="1.3"/>
<line x1="446.05" y1="348.1" x2="446.05" y2="351.3" stroke="#000" stroke-width="1.3"/>
<text x="371.8" y="362.3" font-size="8.7" text-anchor="middle" stroke="#1c1a1b">Wild type</text>
<text x="448.5" y="362.3" font-size="8.7" text-anchor="middle" stroke="#1c1a1b">Mutant</text>
<rect x="338.8" y="232.1" width="10.8" height="4" fill="#808184"/>
<text x="352.8" y="236.7" font-size="8.6" stroke="#1c1a1b">miR-nc</text>
<rect x="391.3" y="232.1" width="10.8" height="4" fill="#97d1a2"/>
<text x="405.7" y="236.7" font-size="8.6" stroke="#1c1a1b">miR-1200</text>
<rect x="338.8" y="245.2" width="10.8" height="4" fill="#7da2cd"/>
<text x="352.8" y="249.9" font-size="8.6" stroke="#1c1a1b">miR-646</text>
<rect x="391.3" y="245.2" width="10.8" height="4" fill="#fdd3b3"/>
<text x="405.7" y="249.9" font-size="8.6" stroke="#1c1a1b">miR-646+miR-1200</text>
<text x="360.4" y="295.03" font-size="7.9" text-anchor="middle" stroke="#1c1a1b">****</text>
<text x="376.9" y="291.63" font-size="7.9" text-anchor="middle" stroke="#1c1a1b">****</text>
<text x="393.4" y="300.43" font-size="7.9" text-anchor="middle" stroke="#1c1a1b">****</text>
<text font-size="8.55" text-anchor="middle" stroke="#1c1a1b" transform="translate(313 290.8) rotate(-90)">Relative luciferase activity</text>
<text x="492.6" y="218.8" font-size="19.5" stroke="#1c1a1b">G</text>
<text x="601.8" y="222" font-size="8.6" text-anchor="middle" stroke="#1c1a1b">LNCaP</text>
<line x1="529.7" y1="249.1" x2="529.7" y2="348.8" stroke="#000" stroke-width="1.7"/>
<line x1="529" y1="348.1" x2="679.2" y2="348.1" stroke="#000" stroke-width="1.7"/>
<line x1="525.1" y1="249.7" x2="529.7" y2="249.7" stroke="#000" stroke-width="1.5"/>
<text x="524.1" y="252.3" font-size="7.2" text-anchor="end" font-weight="bold" stroke="#1c1a1b">1.5</text>
<line x1="525.1" y1="282.4" x2="529.7" y2="282.4" stroke="#000" stroke-width="1.5"/>
<text x="524.1" y="285" font-size="7.2" text-anchor="end" font-weight="bold" stroke="#1c1a1b">1.0</text>
<line x1="525.1" y1="315.3" x2="529.7" y2="315.3" stroke="#000" stroke-width="1.5"/>
<text x="524.1" y="317.9" font-size="7.2" text-anchor="end" font-weight="bold" stroke="#1c1a1b">0.5</text>
<line x1="525.1" y1="348.1" x2="529.7" y2="348.1" stroke="#000" stroke-width="1.5"/>
<text x="524.1" y="350.7" font-size="7.2" text-anchor="end" font-weight="bold" stroke="#1c1a1b">0.0</text>
<rect x="535.5" y="282.4" width="11.4" height="65.7" fill="#808184"/>
<line x1="541.2" y1="282.4" x2="541.2" y2="278" stroke="#2e2e2e" stroke-width="1"/>
<line x1="538.2" y1="278" x2="544.2" y2="278" stroke="#2e2e2e" stroke-width="1"/>
<rect x="552.2" y="301.4" width="11" height="46.7" fill="#7da2cd"/>
<line x1="557.7" y1="301.4" x2="557.7" y2="295.5" stroke="#2e2e2e" stroke-width="1"/>
<line x1="554.7" y1="295.5" x2="560.7" y2="295.5" stroke="#2e2e2e" stroke-width="1"/>
<rect x="568.2" y="303.7" width="11.1" height="44.4" fill="#97d1a2"/>
<line x1="573.75" y1="303.7" x2="573.75" y2="302.8" stroke="#2e2e2e" stroke-width="1"/>
<line x1="570.75" y1="302.8" x2="576.75" y2="302.8" stroke="#2e2e2e" stroke-width="1"/>
<rect x="584.6" y="313.6" width="11.4" height="34.5" fill="#fdd3b3"/>
<line x1="590.3" y1="313.6" x2="590.3" y2="308.1" stroke="#2e2e2e" stroke-width="1"/>
<line x1="587.3" y1="308.1" x2="593.3" y2="308.1" stroke="#2e2e2e" stroke-width="1"/>
<rect x="612.6" y="277.1" width="11.1" height="71" fill="#808184"/>
<line x1="618.15" y1="277.1" x2="618.15" y2="270.7" stroke="#2e2e2e" stroke-width="1"/>
<line x1="615.15" y1="270.7" x2="621.15" y2="270.7" stroke="#2e2e2e" stroke-width="1"/>
<rect x="628.9" y="276" width="10.8" height="72.1" fill="#7da2cd"/>
<line x1="634.3" y1="276" x2="634.3" y2="273" stroke="#2e2e2e" stroke-width="1"/>
<line x1="631.3" y1="273" x2="637.3" y2="273" stroke="#2e2e2e" stroke-width="1"/>
<rect x="645" y="280.9" width="11.1" height="67.2" fill="#97d1a2"/>
<line x1="650.55" y1="280.9" x2="650.55" y2="275.7" stroke="#2e2e2e" stroke-width="1"/>
<line x1="647.55" y1="275.7" x2="653.55" y2="275.7" stroke="#2e2e2e" stroke-width="1"/>
<rect x="661.1" y="275.7" width="11.3" height="72.4" fill="#fdd3b3"/>
<line x1="666.75" y1="275.7" x2="666.75" y2="271.6" stroke="#2e2e2e" stroke-width="1"/>
<line x1="663.75" y1="271.6" x2="669.75" y2="271.6" stroke="#2e2e2e" stroke-width="1"/>
<line x1="565.75" y1="348.1" x2="565.75" y2="351.3" stroke="#000" stroke-width="1.3"/>
<line x1="642.5" y1="348.1" x2="642.5" y2="351.3" stroke="#000" stroke-width="1.3"/>
<text x="568.2" y="362.3" font-size="8.7" text-anchor="middle" stroke="#1c1a1b">Wild type</text>
<text x="644.1" y="362.3" font-size="8.7" text-anchor="middle" stroke="#1c1a1b">Mutant</text>
<rect x="536.1" y="233.1" width="10.8" height="4" fill="#808184"/>
<text x="550.1" y="237.3" font-size="8.6" stroke="#1c1a1b">miR-nc</text>
<rect x="588.1" y="233.1" width="10.8" height="4" fill="#97d1a2"/>
<text x="602.5" y="237.3" font-size="8.6" stroke="#1c1a1b">miR-1200</text>
<rect x="536.1" y="246.2" width="10.8" height="4" fill="#7da2cd"/>
<text x="550.1" y="250.5" font-size="8.6" stroke="#1c1a1b">miR-646</text>
<rect x="588.1" y="246.2" width="10.8" height="4" fill="#fdd3b3"/>
<text x="602.5" y="250.5" font-size="8.6" stroke="#1c1a1b">miR-646+miR-1200</text>
<text x="557.5" y="293.73" font-size="7.9" text-anchor="middle" stroke="#1c1a1b">***</text>
<text x="573.6" y="296.63" font-size="7.9" text-anchor="middle" stroke="#1c1a1b">***</text>
<text x="590.2" y="305.43" font-size="7.9" text-anchor="middle" stroke="#1c1a1b">****</text>
<text font-size="8.55" text-anchor="middle" stroke="#1c1a1b" transform="translate(509 290.8) rotate(-90)">Relative luciferase activity</text>
<text x="1.6" y="384" font-size="19.5" stroke="#1c1a1b">H</text>
<text x="19.7" y="398.6" font-size="8.6" stroke="#1c1a1b"><tspan fill="#ed1c24" stroke="#ed1c24">Cy3</tspan><tspan fill="#1c1a1b" stroke="#1c1a1b">-circPPFIA2</tspan></text>
<g transform="translate(19.1 402.2)" clip-path="url(#ci)">
<rect width="63.1" height="63.1" fill="#030202"/>
<g filter="url(#gr1)">
<path d="M-1 -1C0.77 -0.93 5.6 3.85 9.6 5.4C13.6 6.95 18.5 7.33 23 8.3C27.5 9.27 32.88 11.05 36.6 11.2C40.32 11.35 43.23 10.33 45.3 9.2C47.37 8.07 47.55 5.4 49 4.4C50.45 3.4 52.83 2.87 54 3.2C55.17 3.53 56.67 4.75 56 6.4C55.33 8.05 51.47 10.7 50 13.1C48.53 15.5 47.98 17.92 47.2 20.8C46.42 23.68 45.13 27.5 45.3 30.4C45.47 33.3 46.75 35.3 48.2 38.2C49.65 41.1 51.45 44.6 54 47.8C56.55 51 61.92 54.78 63.5 57.4C65.08 60.02 66.42 62.48 63.5 63.5C60.58 64.52 52.33 63.5 46 63.5C39.67 63.5 28.67 64.83 25.5 63.5C22.33 62.17 26.75 58.43 27 55.5C27.25 52.57 26.37 48.95 27 45.9C27.63 42.85 30.8 39.45 30.8 37.2C30.8 34.95 29.25 34.17 27 32.4C24.75 30.63 20.2 28.85 17.3 26.6C14.4 24.35 12 21.47 9.6 18.9C7.2 16.33 4.67 13.52 2.9 11.2C1.13 8.88 -0.35 7.03 -1 5C-1.65 2.97 -2.77 -1.07 -1 -1Z" fill="#6a0c13" fill-opacity="0.72" stroke="#b01c26" stroke-width="1" stroke-opacity="0.75"/>
<ellipse cx="22" cy="10" rx="17" ry="4.5" transform="rotate(10 22 10)" fill="#c8242e" opacity="0.55"/>
<ellipse cx="47" cy="52" rx="10" ry="6" transform="rotate(35 47 52)" fill="#e0303a" opacity="0.85"/>
<ellipse cx="38" cy="58" rx="9" ry="3.5" fill="#d02832" opacity="0.8"/>
<ellipse cx="37" cy="25.6" rx="8.4" ry="9.7" transform="rotate(10 37 25.6)" fill="none" opacity="0.75" stroke="#c8222c" stroke-width="1.6"/>
<ellipse cx="37" cy="25.6" rx="6.2" ry="7.5" transform="rotate(10 37 25.6)" fill="#120102" opacity="0.8"/>
<ellipse cx="40.1" cy="43.9" rx="12.7" ry="9.2" transform="rotate(-10 40.1 43.9)" fill="none" opacity="0.75" stroke="#c8222c" stroke-width="1.6"/>
<ellipse cx="40.1" cy="43.9" rx="10.5" ry="7" transform="rotate(-10 40.1 43.9)" fill="#120102" opacity="0.8"/>
<ellipse cx="19.8" cy="22.7" rx="6.3" ry="5.4" transform="rotate(30 19.8 22.7)" fill="#120102" opacity="0.35"/>
</g>
<line x1="55.2" y1="61.2" x2="61.8" y2="61.2" stroke="#d0d0d0" stroke-width="0.8"/>
</g>
<text x="86.3" y="398.6" font-size="8.6" stroke="#1c1a1b"><tspan fill="#00a651" stroke="#00a651">AF488</tspan><tspan fill="#1c1a1b" stroke="#1c1a1b">-miR-646</tspan></text>
<g transform="translate(83.8 402.2)" clip-path="url(#ci)">
<rect width="63.1" height="63.1" fill="#030202"/>
<g filter="url(#gr2)">
<path d="M-1 -1C0.77 -0.93 5.58 3.7 9.6 5.4C13.62 7.1 18.6 8.08 23.1 9.2C27.6 10.32 32.75 12.1 36.6 12.1C40.45 12.1 43.95 10.63 46.2 9.2C48.45 7.77 48.48 4.4 50.1 3.5C51.72 2.6 55.25 2.55 55.9 3.8C56.55 5.05 55.57 8.48 54 11C52.43 13.52 48.12 15.98 46.5 18.9C44.88 21.82 44.78 25.93 44.3 28.5C43.82 31.07 42.63 31.73 43.6 34.3C44.57 36.87 47.73 40.68 50.1 43.9C52.47 47.12 55.48 51.35 57.8 53.6C60.12 55.85 62.97 55.67 64 57.4C65.03 59.13 72.33 62.9 64 64C55.67 65.1 21.13 65.42 14 64C6.87 62.58 19.03 58.52 21.2 55.5C23.37 52.48 25.55 48.63 27 45.9C28.45 43.17 29.9 41.2 29.9 39.1C29.9 37 29.1 35.38 27 33.3C24.9 31.22 20.2 29 17.3 26.6C14.4 24.2 12 21.47 9.6 18.9C7.2 16.33 4.67 13.52 2.9 11.2C1.13 8.88 -0.35 7.03 -1 5C-1.65 2.97 -2.77 -1.07 -1 -1Z" fill="#227c3c" fill-opacity="0.9" stroke="#5cdc7c" stroke-width="1.2" stroke-opacity="0.95"/>
<ellipse cx="33" cy="36.6" rx="2.6" ry="1.5" transform="rotate(30 33 36.6)" fill="#020803" opacity="0.85"/>
<path d="M30 38.5 L43.5 34.5" stroke="#5fd97e" stroke-width="1.1" fill="none" opacity="0.8"/>
</g>
<line x1="55.2" y1="61.2" x2="61.8" y2="61.2" stroke="#d0d0d0" stroke-width="0.8"/>
</g>
<text x="181.6" y="398.6" font-size="8.6" text-anchor="middle" stroke="#1c1a1b"><tspan fill="#3953a4" stroke="#3953a4">DAPI</tspan></text>
<g transform="translate(149.1 402.2)" clip-path="url(#ci)">
<rect width="63.1" height="63.1" fill="#030202"/>
<path d="M-1 -1C0.77 -0.93 5.6 3.85 9.6 5.4C13.6 6.95 18.5 7.33 23 8.3C27.5 9.27 32.88 11.05 36.6 11.2C40.32 11.35 43.23 10.33 45.3 9.2C47.37 8.07 47.55 5.4 49 4.4C50.45 3.4 52.83 2.87 54 3.2C55.17 3.53 56.67 4.75 56 6.4C55.33 8.05 51.47 10.7 50 13.1C48.53 15.5 47.98 17.92 47.2 20.8C46.42 23.68 45.13 27.5 45.3 30.4C45.47 33.3 46.75 35.3 48.2 38.2C49.65 41.1 51.45 44.6 54 47.8C56.55 51 61.92 54.78 63.5 57.4C65.08 60.02 66.42 62.48 63.5 63.5C60.58 64.52 52.33 63.5 46 63.5C39.67 63.5 28.67 64.83 25.5 63.5C22.33 62.17 26.75 58.43 27 55.5C27.25 52.57 26.37 48.95 27 45.9C27.63 42.85 30.8 39.45 30.8 37.2C30.8 34.95 29.25 34.17 27 32.4C24.75 30.63 20.2 28.85 17.3 26.6C14.4 24.35 12 21.47 9.6 18.9C7.2 16.33 4.67 13.52 2.9 11.2C1.13 8.88 -0.35 7.03 -1 5C-1.65 2.97 -2.77 -1.07 -1 -1Z" fill="#20175c" fill-opacity="0.5" filter="url(#bl2)"/>
<g filter="url(#gr3)">
<ellipse cx="19.8" cy="22.7" rx="7.3" ry="6.4" transform="rotate(30 19.8 22.7)" fill="#2450cc" opacity="1"/>
<ellipse cx="37" cy="25.6" rx="6.8" ry="8.1" transform="rotate(10 37 25.6)" fill="#2450cc" opacity="1"/>
<ellipse cx="40.1" cy="43.9" rx="11.1" ry="7.6" transform="rotate(-10 40.1 43.9)" fill="#2450cc" opacity="1"/>
</g>
<line x1="55.2" y1="61.2" x2="61.8" y2="61.2" stroke="#d0d0d0" stroke-width="0.8"/>
</g>
<text x="246.5" y="398.6" font-size="8.6" text-anchor="middle" stroke="#1c1a1b"><tspan fill="#ed1c24" stroke="#ed1c24">Me</tspan><tspan fill="#00a651" stroke="#00a651">rg</tspan><tspan fill="#3953a4" stroke="#3953a4">e</tspan></text>
<g transform="translate(214.2 402.2)" clip-path="url(#ci)">
<rect width="63.1" height="63.1" fill="#030202"/>
<g filter="url(#gr2)">
<path d="M-1 -1C0.77 -0.93 5.58 3.7 9.6 5.4C13.62 7.1 18.6 8.08 23.1 9.2C27.6 10.32 32.75 12.1 36.6 12.1C40.45 12.1 43.95 10.63 46.2 9.2C48.45 7.77 48.48 4.4 50.1 3.5C51.72 2.6 55.25 2.55 55.9 3.8C56.55 5.05 55.57 8.48 54 11C52.43 13.52 48.12 15.98 46.5 18.9C44.88 21.82 44.78 25.93 44.3 28.5C43.82 31.07 42.63 31.73 43.6 34.3C44.57 36.87 47.73 40.68 50.1 43.9C52.47 47.12 55.48 51.35 57.8 53.6C60.12 55.85 62.97 55.67 64 57.4C65.03 59.13 72.33 62.9 64 64C55.67 65.1 21.13 65.42 14 64C6.87 62.58 19.03 58.52 21.2 55.5C23.37 52.48 25.55 48.63 27 45.9C28.45 43.17 29.9 41.2 29.9 39.1C29.9 37 29.1 35.38 27 33.3C24.9 31.22 20.2 29 17.3 26.6C14.4 24.2 12 21.47 9.6 18.9C7.2 16.33 4.67 13.52 2.9 11.2C1.13 8.88 -0.35 7.03 -1 5C-1.65 2.97 -2.77 -1.07 -1 -1Z" fill="#41662a" fill-opacity="0.9" stroke="#48c868" stroke-width="1.7" stroke-opacity="0.95"/>
</g>
<g filter="url(#gr4)">
<ellipse cx="27" cy="13" rx="17" ry="5" transform="rotate(12 27 13)" fill="#d8581e" opacity="0.7"/>
<ellipse cx="40" cy="17" rx="8" ry="4" fill="#d8501e" opacity="0.6"/>
<ellipse cx="48" cy="51" rx="9" ry="5" transform="rotate(40 48 51)" fill="#d8581e" opacity="0.7"/>
<ellipse cx="36" cy="56.5" rx="9" ry="3.5" fill="#d0541e" opacity="0.65"/>
<circle cx="38.5" cy="60" r="2.2" fill="none" stroke="#e0401e" stroke-width="1"/>
</g>
<g filter="url(#bl)">
<ellipse cx="19.8" cy="22.7" rx="7.3" ry="6.4" transform="rotate(30 19.8 22.7)" fill="#1f5ed0" opacity="0.96"/>
<ellipse cx="37" cy="25.6" rx="6.8" ry="8.1" transform="rotate(10 37 25.6)" fill="#1f5ed0" opacity="0.96"/>
<ellipse cx="40.1" cy="43.9" rx="11.1" ry="7.6" transform="rotate(-10 40.1 43.9)" fill="#1f5ed0" opacity="0.96"/>
</g>
<line x1="55.2" y1="61.2" x2="61.8" y2="61.2" stroke="#d0d0d0" stroke-width="0.8"/>
</g>
<text x="19.7" y="477.8" font-size="8.6" stroke="#1c1a1b"><tspan fill="#ed1c24" stroke="#ed1c24">Cy3</tspan><tspan fill="#1c1a1b" stroke="#1c1a1b">-circPPFIA2</tspan></text>
<g transform="translate(19.1 480.9)" clip-path="url(#ci)">
<rect width="63.1" height="63.1" fill="#030202"/>
<g filter="url(#gr1)">
<path d="M8.7 2.5C9.33 1.85 11.07 1.53 12.5 2.5C13.93 3.47 14.88 6.37 17.3 8.3C19.72 10.23 23.95 12.02 27 14.1C30.05 16.18 33.35 18.23 35.6 20.8C37.85 23.37 39.2 26.6 40.5 29.5C41.8 32.4 42.12 35.32 43.4 38.2C44.68 41.08 46.12 43.43 48.2 46.8C50.28 50.17 54.93 56.32 55.9 58.4C56.87 60.48 55.77 61.07 54 59.3C52.23 57.53 47.72 50.52 45.3 47.8C42.88 45.08 41.92 44.6 39.5 43C37.08 41.4 33.53 39.82 30.8 38.2C28.07 36.58 25.35 35.07 23.1 33.3C20.85 31.53 18.73 29.85 17.3 27.6C15.87 25.35 15.45 22.38 14.5 19.8C13.55 17.22 12.57 14.33 11.6 12.1C10.63 9.87 9.18 8 8.7 6.4C8.22 4.8 8.07 3.15 8.7 2.5Z" fill="#6a0c13" fill-opacity="0.72" stroke="#b01c26" stroke-width="1" stroke-opacity="0.75"/>
<path d="M13 8 L27 14 L36 21 L41 30 L45 44" fill="none" stroke="#d02832" stroke-width="2.4" opacity="0.7"/>
<path d="M15 22 L20 31 L31 38 L42 45" fill="none" stroke="#c8222c" stroke-width="2.2" opacity="0.7"/>
<ellipse cx="27" cy="25.6" rx="5.8" ry="6.6" transform="rotate(20 27 25.6)" fill="#120102" opacity="0.75"/>
</g>
<line x1="55.2" y1="61.2" x2="61.8" y2="61.2" stroke="#d0d0d0" stroke-width="0.8"/>
</g>
<text x="85.5" y="477.8" font-size="8.6" stroke="#1c1a1b"><tspan fill="#00a651" stroke="#00a651">AF488</tspan><tspan fill="#1c1a1b" stroke="#1c1a1b">-miR-1200</tspan></text>
<g transform="translate(83.8 480.9)" clip-path="url(#ci)">
<rect width="63.1" height="63.1" fill="#030202"/>
<g filter="url(#gr2)">
<path d="M9.6 2.5C10.25 2.02 12.05 2.53 13.5 3.5C14.95 4.47 16.05 6.7 18.3 8.3C20.55 9.9 24.12 11.18 27 13.1C29.88 15.02 33.35 17.38 35.6 19.8C37.85 22.22 39.2 25.02 40.5 27.6C41.8 30.18 42.45 32.73 43.4 35.3C44.35 37.87 44.77 40.12 46.2 43C47.63 45.88 50.17 49.5 52 52.6C53.83 55.7 56.7 60.03 57.2 61.6C57.7 63.17 56.83 63.82 55 62C53.17 60.18 48.62 53.87 46.2 50.7C43.78 47.53 43.07 45.08 40.5 43C37.93 40.92 33.7 39.82 30.8 38.2C27.9 36.58 25.35 35.07 23.1 33.3C20.85 31.53 18.73 29.85 17.3 27.6C15.87 25.35 15.45 22.38 14.5 19.8C13.55 17.22 12.42 14.33 11.6 12.1C10.78 9.87 9.93 8 9.6 6.4C9.27 4.8 8.95 2.98 9.6 2.5Z" fill="#227c3c" fill-opacity="0.9" stroke="#5cdc7c" stroke-width="1.2" stroke-opacity="0.95"/>
</g>
<line x1="55.2" y1="61.2" x2="61.8" y2="61.2" stroke="#d0d0d0" stroke-width="0.8"/>
</g>
<text x="181.6" y="477.8" font-size="8.6" text-anchor="middle" stroke="#1c1a1b"><tspan fill="#3953a4" stroke="#3953a4">DAPI</tspan></text>
<g transform="translate(149.1 480.9)" clip-path="url(#ci)">
<rect width="63.1" height="63.1" fill="#030202"/>
<path d="M8.7 2.5C9.33 1.85 11.07 1.53 12.5 2.5C13.93 3.47 14.88 6.37 17.3 8.3C19.72 10.23 23.95 12.02 27 14.1C30.05 16.18 33.35 18.23 35.6 20.8C37.85 23.37 39.2 26.6 40.5 29.5C41.8 32.4 42.12 35.32 43.4 38.2C44.68 41.08 46.12 43.43 48.2 46.8C50.28 50.17 54.93 56.32 55.9 58.4C56.87 60.48 55.77 61.07 54 59.3C52.23 57.53 47.72 50.52 45.3 47.8C42.88 45.08 41.92 44.6 39.5 43C37.08 41.4 33.53 39.82 30.8 38.2C28.07 36.58 25.35 35.07 23.1 33.3C20.85 31.53 18.73 29.85 17.3 27.6C15.87 25.35 15.45 22.38 14.5 19.8C13.55 17.22 12.57 14.33 11.6 12.1C10.63 9.87 9.18 8 8.7 6.4C8.22 4.8 8.07 3.15 8.7 2.5Z" fill="#20175c" fill-opacity="0.5" filter="url(#bl2)"/>
<g filter="url(#gr3)">
<ellipse cx="25" cy="26.8" rx="6.6" ry="8" transform="rotate(20 25 26.8)" fill="#2450cc" opacity="1"/>
</g>
<line x1="55.2" y1="61.2" x2="61.8" y2="61.2" stroke="#d0d0d0" stroke-width="0.8"/>
</g>
<text x="246.5" y="477.8" font-size="8.6" text-anchor="middle" stroke="#1c1a1b"><tspan fill="#ed1c24" stroke="#ed1c24">Me</tspan><tspan fill="#00a651" stroke="#00a651">rg</tspan><tspan fill="#3953a4" stroke="#3953a4">e</tspan></text>
<g transform="translate(214.2 480.9)" clip-path="url(#ci)">
<rect width="63.1" height="63.1" fill="#030202"/>
<g filter="url(#gr2)">
<path d="M9.6 2.5C10.25 2.02 12.05 2.53 13.5 3.5C14.95 4.47 16.05 6.7 18.3 8.3C20.55 9.9 24.12 11.18 27 13.1C29.88 15.02 33.35 17.38 35.6 19.8C37.85 22.22 39.2 25.02 40.5 27.6C41.8 30.18 42.45 32.73 43.4 35.3C44.35 37.87 44.77 40.12 46.2 43C47.63 45.88 50.17 49.5 52 52.6C53.83 55.7 56.7 60.03 57.2 61.6C57.7 63.17 56.83 63.82 55 62C53.17 60.18 48.62 53.87 46.2 50.7C43.78 47.53 43.07 45.08 40.5 43C37.93 40.92 33.7 39.82 30.8 38.2C27.9 36.58 25.35 35.07 23.1 33.3C20.85 31.53 18.73 29.85 17.3 27.6C15.87 25.35 15.45 22.38 14.5 19.8C13.55 17.22 12.42 14.33 11.6 12.1C10.78 9.87 9.93 8 9.6 6.4C9.27 4.8 8.95 2.98 9.6 2.5Z" fill="#41662a" fill-opacity="0.9" stroke="#48c868" stroke-width="1.7" stroke-opacity="0.95"/>
</g>
<g filter="url(#gr4)">
<path d="M14 8 L27 15 L36 22 L41 31 L45 44 L52 55" fill="none" stroke="#d8581e" stroke-width="3.6" opacity="0.7"/>
<path d="M30 20 L37 34 L36 40" fill="none" stroke="#d0541e" stroke-width="4" opacity="0.6"/>
</g>
<g filter="url(#bl)">
<ellipse cx="25" cy="26.8" rx="6.6" ry="8" transform="rotate(20 25 26.8)" fill="#1f5ed0" opacity="0.96"/>
</g>
<line x1="55.2" y1="61.2" x2="61.8" y2="61.2" stroke="#d0d0d0" stroke-width="0.8"/>
</g>
<text x="299.3" y="390.9" font-size="19.5" stroke="#1c1a1b">I</text>
<line x1="336.1" y1="434.88" x2="336.1" y2="526.4" stroke="#000" stroke-width="2"/>
<line x1="335.1" y1="525.4" x2="472.3" y2="525.4" stroke="#000" stroke-width="2"/>
<line x1="331.9" y1="525.4" x2="336.1" y2="525.4" stroke="#000" stroke-width="1.6"/>
<text x="331.2" y="527.8" font-size="6.8" text-anchor="end" font-weight="bold" stroke="#1c1a1b">0.0</text>
<line x1="331.9" y1="502.97" x2="336.1" y2="502.97" stroke="#000" stroke-width="1.6"/>
<text x="331.2" y="505.37" font-size="6.8" text-anchor="end" font-weight="bold" stroke="#1c1a1b">0.5</text>
<line x1="331.9" y1="480.54" x2="336.1" y2="480.54" stroke="#000" stroke-width="1.6"/>
<text x="331.2" y="482.94" font-size="6.8" text-anchor="end" font-weight="bold" stroke="#1c1a1b">1.0</text>
<line x1="331.9" y1="458.11" x2="336.1" y2="458.11" stroke="#000" stroke-width="1.6"/>
<text x="331.2" y="460.51" font-size="6.8" text-anchor="end" font-weight="bold" stroke="#1c1a1b">1.5</text>
<line x1="331.9" y1="435.68" x2="336.1" y2="435.68" stroke="#000" stroke-width="1.6"/>
<text x="331.2" y="438.08" font-size="6.8" text-anchor="end" font-weight="bold" stroke="#1c1a1b">2.0</text>
<line x1="335.9" y1="525.4" x2="335.9" y2="529.4" stroke="#000" stroke-width="1.6"/>
<text x="335.9" y="537" font-size="6.8" text-anchor="middle" font-weight="bold" stroke="#1c1a1b">0</text>
<line x1="362.2" y1="525.4" x2="362.2" y2="529.4" stroke="#000" stroke-width="1.6"/>
<text x="362.2" y="537" font-size="6.8" text-anchor="middle" font-weight="bold" stroke="#1c1a1b">1</text>
<line x1="388.2" y1="525.4" x2="388.2" y2="529.4" stroke="#000" stroke-width="1.6"/>
<text x="388.2" y="537" font-size="6.8" text-anchor="middle" font-weight="bold" stroke="#1c1a1b">2</text>
<line x1="414.2" y1="525.4" x2="414.2" y2="529.4" stroke="#000" stroke-width="1.6"/>
<text x="414.2" y="537" font-size="6.8" text-anchor="middle" font-weight="bold" stroke="#1c1a1b">3</text>
<line x1="440.1" y1="525.4" x2="440.1" y2="529.4" stroke="#000" stroke-width="1.6"/>
<text x="440.1" y="537" font-size="6.8" text-anchor="middle" font-weight="bold" stroke="#1c1a1b">4</text>
<line x1="466.1" y1="525.4" x2="466.1" y2="529.4" stroke="#000" stroke-width="1.6"/>
<text x="466.1" y="537" font-size="6.8" text-anchor="middle" font-weight="bold" stroke="#1c1a1b">5</text>
<text font-size="7.25" text-anchor="middle" font-weight="bold" stroke="#1c1a1b" transform="translate(316.6 480.5) rotate(-90)">OD value(450nm)</text>
<polyline points="362.2,518.22 388.2,510.6 414.2,506.11 440.1,496.24 466.1,478.3" fill="none" stroke="#fbd0b0" stroke-width="1.1"/>
<path d="M362.2 520.74 L364.62 516.33 L359.78 516.33 Z" fill="#fbd0b0"/>
<line x1="388.2" y1="509.7" x2="388.2" y2="511.49" stroke="#fbd0b0" stroke-width="0.8"/>
<line x1="386.4" y1="509.7" x2="390" y2="509.7" stroke="#fbd0b0" stroke-width="0.8"/>
<line x1="386.4" y1="511.49" x2="390" y2="511.49" stroke="#fbd0b0" stroke-width="0.8"/>
<path d="M388.2 513.12 L390.62 508.71 L385.78 508.71 Z" fill="#fbd0b0"/>
<line x1="414.2" y1="505.21" x2="414.2" y2="507.01" stroke="#fbd0b0" stroke-width="0.8"/>
<line x1="412.4" y1="505.21" x2="416" y2="505.21" stroke="#fbd0b0" stroke-width="0.8"/>
<line x1="412.4" y1="507.01" x2="416" y2="507.01" stroke="#fbd0b0" stroke-width="0.8"/>
<path d="M414.2 508.63 L416.62 504.22 L411.78 504.22 Z" fill="#fbd0b0"/>
<line x1="440.1" y1="494.9" x2="440.1" y2="497.59" stroke="#fbd0b0" stroke-width="0.8"/>
<line x1="438.3" y1="494.9" x2="441.9" y2="494.9" stroke="#fbd0b0" stroke-width="0.8"/>
<line x1="438.3" y1="497.59" x2="441.9" y2="497.59" stroke="#fbd0b0" stroke-width="0.8"/>
<path d="M440.1 498.76 L442.52 494.35 L437.69 494.35 Z" fill="#fbd0b0"/>
<line x1="466.1" y1="476.5" x2="466.1" y2="480.09" stroke="#fbd0b0" stroke-width="0.8"/>
<line x1="464.3" y1="476.5" x2="467.9" y2="476.5" stroke="#fbd0b0" stroke-width="0.8"/>
<line x1="464.3" y1="480.09" x2="467.9" y2="480.09" stroke="#fbd0b0" stroke-width="0.8"/>
<path d="M466.1 480.82 L468.52 476.41 L463.69 476.41 Z" fill="#fbd0b0"/>
<polyline points="362.2,518.22 388.2,509.25 414.2,504.32 440.1,494 466.1,476.05" fill="none" stroke="#9fd6a8" stroke-width="1.1"/>
<path d="M362.2 515.7 L364.51 518.22 L362.2 520.74 L359.89 518.22 Z" fill="#9fd6a8"/>
<line x1="388.2" y1="508.35" x2="388.2" y2="510.15" stroke="#9fd6a8" stroke-width="0.8"/>
<line x1="386.4" y1="508.35" x2="390" y2="508.35" stroke="#9fd6a8" stroke-width="0.8"/>
<line x1="386.4" y1="510.15" x2="390" y2="510.15" stroke="#9fd6a8" stroke-width="0.8"/>
<path d="M388.2 506.73 L390.51 509.25 L388.2 511.77 L385.89 509.25 Z" fill="#9fd6a8"/>
<line x1="414.2" y1="503.42" x2="414.2" y2="505.21" stroke="#9fd6a8" stroke-width="0.8"/>
<line x1="412.4" y1="503.42" x2="416" y2="503.42" stroke="#9fd6a8" stroke-width="0.8"/>
<line x1="412.4" y1="505.21" x2="416" y2="505.21" stroke="#9fd6a8" stroke-width="0.8"/>
<path d="M414.2 501.8 L416.51 504.32 L414.2 506.84 L411.89 504.32 Z" fill="#9fd6a8"/>
<line x1="440.1" y1="492.65" x2="440.1" y2="495.34" stroke="#9fd6a8" stroke-width="0.8"/>
<line x1="438.3" y1="492.65" x2="441.9" y2="492.65" stroke="#9fd6a8" stroke-width="0.8"/>
<line x1="438.3" y1="495.34" x2="441.9" y2="495.34" stroke="#9fd6a8" stroke-width="0.8"/>
<path d="M440.1 491.48 L442.41 494 L440.1 496.52 L437.79 494 Z" fill="#9fd6a8"/>
<line x1="466.1" y1="474.26" x2="466.1" y2="477.85" stroke="#9fd6a8" stroke-width="0.8"/>
<line x1="464.3" y1="474.26" x2="467.9" y2="474.26" stroke="#9fd6a8" stroke-width="0.8"/>
<line x1="464.3" y1="477.85" x2="467.9" y2="477.85" stroke="#9fd6a8" stroke-width="0.8"/>
<path d="M466.1 473.53 L468.41 476.05 L466.1 478.57 L463.79 476.05 Z" fill="#9fd6a8"/>
<polyline points="362.2,518.67 388.2,512.84 414.2,508.8 440.1,499.83 466.1,482.33" fill="none" stroke="#6f9fd8" stroke-width="1.1"/>
<path d="M362.2 516.15 L364.62 520.56 L359.78 520.56 Z" fill="#6f9fd8"/>
<line x1="388.2" y1="511.94" x2="388.2" y2="513.74" stroke="#6f9fd8" stroke-width="0.8"/>
<line x1="386.4" y1="511.94" x2="390" y2="511.94" stroke="#6f9fd8" stroke-width="0.8"/>
<line x1="386.4" y1="513.74" x2="390" y2="513.74" stroke="#6f9fd8" stroke-width="0.8"/>
<path d="M388.2 510.32 L390.62 514.73 L385.78 514.73 Z" fill="#6f9fd8"/>
<line x1="414.2" y1="507.9" x2="414.2" y2="509.7" stroke="#6f9fd8" stroke-width="0.8"/>
<line x1="412.4" y1="507.9" x2="416" y2="507.9" stroke="#6f9fd8" stroke-width="0.8"/>
<line x1="412.4" y1="509.7" x2="416" y2="509.7" stroke="#6f9fd8" stroke-width="0.8"/>
<path d="M414.2 506.28 L416.62 510.69 L411.78 510.69 Z" fill="#6f9fd8"/>
<line x1="440.1" y1="498.48" x2="440.1" y2="501.18" stroke="#6f9fd8" stroke-width="0.8"/>
<line x1="438.3" y1="498.48" x2="441.9" y2="498.48" stroke="#6f9fd8" stroke-width="0.8"/>
<line x1="438.3" y1="501.18" x2="441.9" y2="501.18" stroke="#6f9fd8" stroke-width="0.8"/>
<path d="M440.1 497.31 L442.52 501.72 L437.69 501.72 Z" fill="#6f9fd8"/>
<line x1="466.1" y1="480.99" x2="466.1" y2="483.68" stroke="#6f9fd8" stroke-width="0.8"/>
<line x1="464.3" y1="480.99" x2="467.9" y2="480.99" stroke="#6f9fd8" stroke-width="0.8"/>
<line x1="464.3" y1="483.68" x2="467.9" y2="483.68" stroke="#6f9fd8" stroke-width="0.8"/>
<path d="M466.1 479.81 L468.52 484.22 L463.69 484.22 Z" fill="#6f9fd8"/>
<polyline points="362.2,517.77 388.2,507.46 414.2,502.07 440.1,492.2 466.1,473.36" fill="none" stroke="#a6a8ab" stroke-width="1.1"/>
<circle cx="362.2" cy="517.77" r="2.1" fill="#a6a8ab"/>
<line x1="388.2" y1="506.56" x2="388.2" y2="508.35" stroke="#a6a8ab" stroke-width="0.8"/>
<line x1="386.4" y1="506.56" x2="390" y2="506.56" stroke="#a6a8ab" stroke-width="0.8"/>
<line x1="386.4" y1="508.35" x2="390" y2="508.35" stroke="#a6a8ab" stroke-width="0.8"/>
<circle cx="388.2" cy="507.46" r="2.1" fill="#a6a8ab"/>
<line x1="414.2" y1="501.18" x2="414.2" y2="502.97" stroke="#a6a8ab" stroke-width="0.8"/>
<line x1="412.4" y1="501.18" x2="416" y2="501.18" stroke="#a6a8ab" stroke-width="0.8"/>
<line x1="412.4" y1="502.97" x2="416" y2="502.97" stroke="#a6a8ab" stroke-width="0.8"/>
<circle cx="414.2" cy="502.07" r="2.1" fill="#a6a8ab"/>
<line x1="440.1" y1="490.86" x2="440.1" y2="493.55" stroke="#a6a8ab" stroke-width="0.8"/>
<line x1="438.3" y1="490.86" x2="441.9" y2="490.86" stroke="#a6a8ab" stroke-width="0.8"/>
<line x1="438.3" y1="493.55" x2="441.9" y2="493.55" stroke="#a6a8ab" stroke-width="0.8"/>
<circle cx="440.1" cy="492.2" r="2.1" fill="#a6a8ab"/>
<line x1="466.1" y1="471.12" x2="466.1" y2="475.61" stroke="#a6a8ab" stroke-width="0.8"/>
<line x1="464.3" y1="471.12" x2="467.9" y2="471.12" stroke="#a6a8ab" stroke-width="0.8"/>
<line x1="464.3" y1="475.61" x2="467.9" y2="475.61" stroke="#a6a8ab" stroke-width="0.8"/>
<circle cx="466.1" cy="473.36" r="2.1" fill="#a6a8ab"/>
<polyline points="362.2,517.33 388.2,506.56 414.2,500.73 440.1,490.86 466.1,472.02" fill="none" stroke="#636466" stroke-width="1.1"/>
<rect x="360.1" y="515.23" width="4.2" height="4.2" fill="#636466"/>
<line x1="388.2" y1="505.66" x2="388.2" y2="507.46" stroke="#636466" stroke-width="0.8"/>
<line x1="386.4" y1="505.66" x2="390" y2="505.66" stroke="#636466" stroke-width="0.8"/>
<line x1="386.4" y1="507.46" x2="390" y2="507.46" stroke="#636466" stroke-width="0.8"/>
<rect x="386.1" y="504.46" width="4.2" height="4.2" fill="#636466"/>
<line x1="414.2" y1="499.83" x2="414.2" y2="501.62" stroke="#636466" stroke-width="0.8"/>
<line x1="412.4" y1="499.83" x2="416" y2="499.83" stroke="#636466" stroke-width="0.8"/>
<line x1="412.4" y1="501.62" x2="416" y2="501.62" stroke="#636466" stroke-width="0.8"/>
<rect x="412.1" y="498.63" width="4.2" height="4.2" fill="#636466"/>
<line x1="440.1" y1="489.06" x2="440.1" y2="492.65" stroke="#636466" stroke-width="0.8"/>
<line x1="438.3" y1="489.06" x2="441.9" y2="489.06" stroke="#636466" stroke-width="0.8"/>
<line x1="438.3" y1="492.65" x2="441.9" y2="492.65" stroke="#636466" stroke-width="0.8"/>
<rect x="438" y="488.76" width="4.2" height="4.2" fill="#636466"/>
<line x1="466.1" y1="468.88" x2="466.1" y2="475.16" stroke="#636466" stroke-width="0.8"/>
<line x1="464.3" y1="468.88" x2="467.9" y2="468.88" stroke="#636466" stroke-width="0.8"/>
<line x1="464.3" y1="475.16" x2="467.9" y2="475.16" stroke="#636466" stroke-width="0.8"/>
<rect x="464" y="469.92" width="4.2" height="4.2" fill="#636466"/>
<polyline points="362.2,516.88 388.2,504.76 414.2,498.48 440.1,487.72 466.1,463.49" fill="none" stroke="#f7c5a8" stroke-width="1.1"/>
<circle cx="362.2" cy="516.88" r="1.9" fill="#b3aad0" stroke="#6a4940" stroke-width="1.7"/>
<circle cx="388.2" cy="504.76" r="1.9" fill="#b3aad0" stroke="#6a4940" stroke-width="1.7"/>
<circle cx="414.2" cy="498.48" r="1.9" fill="#b3aad0" stroke="#6a4940" stroke-width="1.7"/>
<circle cx="440.1" cy="487.72" r="1.9" fill="#b3aad0" stroke="#6a4940" stroke-width="1.7"/>
<circle cx="466.1" cy="463.49" r="1.9" fill="#b3aad0" stroke="#6a4940" stroke-width="1.7"/>
<line x1="338.2" y1="417.1" x2="348.2" y2="417.1" stroke="#a6a8ab" stroke-width="1.1"/>
<circle cx="343.2" cy="417.1" r="1.75" fill="#a6a8ab"/>
<text x="351.1" y="419.6" font-size="8.2" stroke="#1c1a1b">mock</text>
<line x1="338.2" y1="433.1" x2="348.2" y2="433.1" stroke="#636466" stroke-width="1.1"/>
<rect x="341.45" y="431.35" width="3.5" height="3.5" fill="#636466"/>
<text x="351.1" y="435.6" font-size="8.2" stroke="#1c1a1b">sh-nc</text>
<line x1="338.2" y1="448.6" x2="348.2" y2="448.6" stroke="#6f9fd8" stroke-width="1.1"/>
<path d="M343.2 446.5 L345.21 450.18 L341.19 450.18 Z" fill="#6f9fd8"/>
<text x="351.1" y="451.1" font-size="8.2" stroke="#1c1a1b">sh-circPPFIA2</text>
<line x1="404.8" y1="417.1" x2="414.8" y2="417.1" stroke="#fbd0b0" stroke-width="1.1"/>
<path d="M409.8 419.2 L411.81 415.53 L407.79 415.53 Z" fill="#fbd0b0"/>
<text x="418.2" y="411.6" font-size="8.2" stroke="#1c1a1b">sh-circ+miR-646</text>
<text x="418.2" y="420.1" font-size="8.2" stroke="#1c1a1b">inhibitor</text>
<line x1="404.8" y1="433.1" x2="414.8" y2="433.1" stroke="#9fd6a8" stroke-width="1.1"/>
<path d="M409.8 431 L411.73 433.1 L409.8 435.2 L407.88 433.1 Z" fill="#9fd6a8"/>
<text x="418.2" y="429.9" font-size="8.2" stroke="#1c1a1b">sh-circ+miR-1200</text>
<text x="418.2" y="437.6" font-size="8.2" stroke="#1c1a1b">inhibitor</text>
<line x1="404.8" y1="449.2" x2="414.8" y2="449.2" stroke="#f7c5a8" stroke-width="1.1"/>
<circle cx="409.8" cy="449.2" r="1.9" fill="#b3aad0" stroke="#6a4940" stroke-width="1.7"/>
<text x="418.2" y="448" font-size="8.2" stroke="#1c1a1b">sh-circ+miR-646+</text>
<text x="418.2" y="456.6" font-size="8.2" stroke="#1c1a1b">1200 inhibitor</text>
<text x="497" y="390.9" font-size="19.5" stroke="#1c1a1b">J</text>
<line x1="528.4" y1="431.5" x2="528.4" y2="525.9" stroke="#000" stroke-width="2"/>
<line x1="527.4" y1="524.9" x2="667.9" y2="524.9" stroke="#000" stroke-width="2"/>
<line x1="524.2" y1="524.9" x2="528.4" y2="524.9" stroke="#000" stroke-width="1.6"/>
<text x="523.5" y="527.3" font-size="6.8" text-anchor="end" font-weight="bold" stroke="#1c1a1b">0.0</text>
<line x1="524.2" y1="501.75" x2="528.4" y2="501.75" stroke="#000" stroke-width="1.6"/>
<text x="523.5" y="504.15" font-size="6.8" text-anchor="end" font-weight="bold" stroke="#1c1a1b">0.5</text>
<line x1="524.2" y1="478.6" x2="528.4" y2="478.6" stroke="#000" stroke-width="1.6"/>
<text x="523.5" y="481" font-size="6.8" text-anchor="end" font-weight="bold" stroke="#1c1a1b">1.0</text>
<line x1="524.2" y1="455.45" x2="528.4" y2="455.45" stroke="#000" stroke-width="1.6"/>
<text x="523.5" y="457.85" font-size="6.8" text-anchor="end" font-weight="bold" stroke="#1c1a1b">1.5</text>
<line x1="524.2" y1="432.3" x2="528.4" y2="432.3" stroke="#000" stroke-width="1.6"/>
<text x="523.5" y="434.7" font-size="6.8" text-anchor="end" font-weight="bold" stroke="#1c1a1b">2.0</text>
<line x1="528.4" y1="524.9" x2="528.4" y2="528.9" stroke="#000" stroke-width="1.6"/>
<text x="528.4" y="536.5" font-size="6.8" text-anchor="middle" font-weight="bold" stroke="#1c1a1b">0</text>
<line x1="555.5" y1="524.9" x2="555.5" y2="528.9" stroke="#000" stroke-width="1.6"/>
<text x="555.5" y="536.5" font-size="6.8" text-anchor="middle" font-weight="bold" stroke="#1c1a1b">1</text>
<line x1="581.9" y1="524.9" x2="581.9" y2="528.9" stroke="#000" stroke-width="1.6"/>
<text x="581.9" y="536.5" font-size="6.8" text-anchor="middle" font-weight="bold" stroke="#1c1a1b">2</text>
<line x1="608.7" y1="524.9" x2="608.7" y2="528.9" stroke="#000" stroke-width="1.6"/>
<text x="608.7" y="536.5" font-size="6.8" text-anchor="middle" font-weight="bold" stroke="#1c1a1b">3</text>
<line x1="635.2" y1="524.9" x2="635.2" y2="528.9" stroke="#000" stroke-width="1.6"/>
<text x="635.2" y="536.5" font-size="6.8" text-anchor="middle" font-weight="bold" stroke="#1c1a1b">4</text>
<line x1="661.9" y1="524.9" x2="661.9" y2="528.9" stroke="#000" stroke-width="1.6"/>
<text x="661.9" y="536.5" font-size="6.8" text-anchor="middle" font-weight="bold" stroke="#1c1a1b">5</text>
<text font-size="7.45" text-anchor="middle" font-weight="bold" stroke="#1c1a1b" transform="translate(509.7 478.6) rotate(-90)">OD value(450nm)</text>
<polyline points="555.5,517.03 581.9,505.92 608.7,496.19 635.2,486.47 661.9,454.99" fill="none" stroke="#f5b183" stroke-width="1.1"/>
<path d="M555.5 514.51 L557.91 518.92 L553.09 518.92 Z" fill="#f5b183"/>
<line x1="581.9" y1="504.99" x2="581.9" y2="506.84" stroke="#f5b183" stroke-width="0.8"/>
<line x1="580.1" y1="504.99" x2="583.7" y2="504.99" stroke="#f5b183" stroke-width="0.8"/>
<line x1="580.1" y1="506.84" x2="583.7" y2="506.84" stroke="#f5b183" stroke-width="0.8"/>
<path d="M581.9 503.4 L584.31 507.81 L579.49 507.81 Z" fill="#f5b183"/>
<line x1="608.7" y1="494.34" x2="608.7" y2="498.05" stroke="#f5b183" stroke-width="0.8"/>
<line x1="606.9" y1="494.34" x2="610.5" y2="494.34" stroke="#f5b183" stroke-width="0.8"/>
<line x1="606.9" y1="498.05" x2="610.5" y2="498.05" stroke="#f5b183" stroke-width="0.8"/>
<path d="M608.7 493.67 L611.12 498.08 L606.29 498.08 Z" fill="#f5b183"/>
<line x1="635.2" y1="484.62" x2="635.2" y2="488.32" stroke="#f5b183" stroke-width="0.8"/>
<line x1="633.4" y1="484.62" x2="637" y2="484.62" stroke="#f5b183" stroke-width="0.8"/>
<line x1="633.4" y1="488.32" x2="637" y2="488.32" stroke="#f5b183" stroke-width="0.8"/>
<path d="M635.2 483.95 L637.62 488.36 L632.79 488.36 Z" fill="#f5b183"/>
<line x1="661.9" y1="453.13" x2="661.9" y2="456.84" stroke="#f5b183" stroke-width="0.8"/>
<line x1="660.1" y1="453.13" x2="663.7" y2="453.13" stroke="#f5b183" stroke-width="0.8"/>
<line x1="660.1" y1="456.84" x2="663.7" y2="456.84" stroke="#f5b183" stroke-width="0.8"/>
<path d="M661.9 452.47 L664.31 456.88 L659.49 456.88 Z" fill="#f5b183"/>
<polyline points="555.5,517.03 581.9,506.84 608.7,501.75 635.2,491.56 661.9,471.19" fill="none" stroke="#c490d1" stroke-width="1.1"/>
<path d="M555.5 514.51 L557.81 517.03 L555.5 519.55 L553.19 517.03 Z" fill="#c490d1"/>
<line x1="581.9" y1="505.92" x2="581.9" y2="507.77" stroke="#c490d1" stroke-width="0.8"/>
<line x1="580.1" y1="505.92" x2="583.7" y2="505.92" stroke="#c490d1" stroke-width="0.8"/>
<line x1="580.1" y1="507.77" x2="583.7" y2="507.77" stroke="#c490d1" stroke-width="0.8"/>
<path d="M581.9 504.32 L584.21 506.84 L581.9 509.36 L579.59 506.84 Z" fill="#c490d1"/>
<line x1="608.7" y1="500.82" x2="608.7" y2="502.68" stroke="#c490d1" stroke-width="0.8"/>
<line x1="606.9" y1="500.82" x2="610.5" y2="500.82" stroke="#c490d1" stroke-width="0.8"/>
<line x1="606.9" y1="502.68" x2="610.5" y2="502.68" stroke="#c490d1" stroke-width="0.8"/>
<path d="M608.7 499.23 L611.01 501.75 L608.7 504.27 L606.39 501.75 Z" fill="#c490d1"/>
<line x1="635.2" y1="490.17" x2="635.2" y2="492.95" stroke="#c490d1" stroke-width="0.8"/>
<line x1="633.4" y1="490.17" x2="637" y2="490.17" stroke="#c490d1" stroke-width="0.8"/>
<line x1="633.4" y1="492.95" x2="637" y2="492.95" stroke="#c490d1" stroke-width="0.8"/>
<path d="M635.2 489.04 L637.51 491.56 L635.2 494.08 L632.89 491.56 Z" fill="#c490d1"/>
<line x1="661.9" y1="468.88" x2="661.9" y2="473.51" stroke="#c490d1" stroke-width="0.8"/>
<line x1="660.1" y1="468.88" x2="663.7" y2="468.88" stroke="#c490d1" stroke-width="0.8"/>
<line x1="660.1" y1="473.51" x2="663.7" y2="473.51" stroke="#c490d1" stroke-width="0.8"/>
<path d="M661.9 468.67 L664.21 471.19 L661.9 473.71 L659.59 471.19 Z" fill="#c490d1"/>
<polyline points="555.5,517.03 581.9,505.92 608.7,500.82 635.2,490.64 661.9,469.34" fill="none" stroke="#f7828c" stroke-width="1.1"/>
<path d="M555.5 519.55 L557.91 515.14 L553.09 515.14 Z" fill="#f7828c"/>
<line x1="581.9" y1="504.99" x2="581.9" y2="506.84" stroke="#f7828c" stroke-width="0.8"/>
<line x1="580.1" y1="504.99" x2="583.7" y2="504.99" stroke="#f7828c" stroke-width="0.8"/>
<line x1="580.1" y1="506.84" x2="583.7" y2="506.84" stroke="#f7828c" stroke-width="0.8"/>
<path d="M581.9 508.44 L584.31 504.03 L579.49 504.03 Z" fill="#f7828c"/>
<line x1="608.7" y1="499.9" x2="608.7" y2="501.75" stroke="#f7828c" stroke-width="0.8"/>
<line x1="606.9" y1="499.9" x2="610.5" y2="499.9" stroke="#f7828c" stroke-width="0.8"/>
<line x1="606.9" y1="501.75" x2="610.5" y2="501.75" stroke="#f7828c" stroke-width="0.8"/>
<path d="M608.7 503.34 L611.12 498.93 L606.29 498.93 Z" fill="#f7828c"/>
<line x1="635.2" y1="489.25" x2="635.2" y2="492.03" stroke="#f7828c" stroke-width="0.8"/>
<line x1="633.4" y1="489.25" x2="637" y2="489.25" stroke="#f7828c" stroke-width="0.8"/>
<line x1="633.4" y1="492.03" x2="637" y2="492.03" stroke="#f7828c" stroke-width="0.8"/>
<path d="M635.2 493.16 L637.62 488.75 L632.79 488.75 Z" fill="#f7828c"/>
<line x1="661.9" y1="467.02" x2="661.9" y2="471.65" stroke="#f7828c" stroke-width="0.8"/>
<line x1="660.1" y1="467.02" x2="663.7" y2="467.02" stroke="#f7828c" stroke-width="0.8"/>
<line x1="660.1" y1="471.65" x2="663.7" y2="471.65" stroke="#f7828c" stroke-width="0.8"/>
<path d="M661.9 471.86 L664.31 467.45 L659.49 467.45 Z" fill="#f7828c"/>
<polyline points="555.5,517.03 581.9,508.23 608.7,503.14 635.2,493.88 661.9,473.04" fill="none" stroke="#a6a8ab" stroke-width="1.1"/>
<circle cx="555.5" cy="517.03" r="2.1" fill="#a6a8ab"/>
<line x1="581.9" y1="507.31" x2="581.9" y2="509.16" stroke="#a6a8ab" stroke-width="0.8"/>
<line x1="580.1" y1="507.31" x2="583.7" y2="507.31" stroke="#a6a8ab" stroke-width="0.8"/>
<line x1="580.1" y1="509.16" x2="583.7" y2="509.16" stroke="#a6a8ab" stroke-width="0.8"/>
<circle cx="581.9" cy="508.23" r="2.1" fill="#a6a8ab"/>
<line x1="608.7" y1="502.21" x2="608.7" y2="504.06" stroke="#a6a8ab" stroke-width="0.8"/>
<line x1="606.9" y1="502.21" x2="610.5" y2="502.21" stroke="#a6a8ab" stroke-width="0.8"/>
<line x1="606.9" y1="504.06" x2="610.5" y2="504.06" stroke="#a6a8ab" stroke-width="0.8"/>
<circle cx="608.7" cy="503.14" r="2.1" fill="#a6a8ab"/>
<line x1="635.2" y1="492.49" x2="635.2" y2="495.27" stroke="#a6a8ab" stroke-width="0.8"/>
<line x1="633.4" y1="492.49" x2="637" y2="492.49" stroke="#a6a8ab" stroke-width="0.8"/>
<line x1="633.4" y1="495.27" x2="637" y2="495.27" stroke="#a6a8ab" stroke-width="0.8"/>
<circle cx="635.2" cy="493.88" r="2.1" fill="#a6a8ab"/>
<line x1="661.9" y1="470.73" x2="661.9" y2="475.36" stroke="#a6a8ab" stroke-width="0.8"/>
<line x1="660.1" y1="470.73" x2="663.7" y2="470.73" stroke="#a6a8ab" stroke-width="0.8"/>
<line x1="660.1" y1="475.36" x2="663.7" y2="475.36" stroke="#a6a8ab" stroke-width="0.8"/>
<circle cx="661.9" cy="473.04" r="2.1" fill="#a6a8ab"/>
<polyline points="555.5,517.03 581.9,509.16 608.7,504.06 635.2,494.8 661.9,473.97" fill="none" stroke="#636466" stroke-width="1.1"/>
<rect x="553.4" y="514.93" width="4.2" height="4.2" fill="#636466"/>
<line x1="581.9" y1="508.23" x2="581.9" y2="510.08" stroke="#636466" stroke-width="0.8"/>
<line x1="580.1" y1="508.23" x2="583.7" y2="508.23" stroke="#636466" stroke-width="0.8"/>
<line x1="580.1" y1="510.08" x2="583.7" y2="510.08" stroke="#636466" stroke-width="0.8"/>
<rect x="579.8" y="507.06" width="4.2" height="4.2" fill="#636466"/>
<line x1="608.7" y1="503.14" x2="608.7" y2="504.99" stroke="#636466" stroke-width="0.8"/>
<line x1="606.9" y1="503.14" x2="610.5" y2="503.14" stroke="#636466" stroke-width="0.8"/>
<line x1="606.9" y1="504.99" x2="610.5" y2="504.99" stroke="#636466" stroke-width="0.8"/>
<rect x="606.6" y="501.96" width="4.2" height="4.2" fill="#636466"/>
<line x1="635.2" y1="493.42" x2="635.2" y2="496.19" stroke="#636466" stroke-width="0.8"/>
<line x1="633.4" y1="493.42" x2="637" y2="493.42" stroke="#636466" stroke-width="0.8"/>
<line x1="633.4" y1="496.19" x2="637" y2="496.19" stroke="#636466" stroke-width="0.8"/>
<rect x="633.1" y="492.7" width="4.2" height="4.2" fill="#636466"/>
<line x1="661.9" y1="471.65" x2="661.9" y2="476.28" stroke="#636466" stroke-width="0.8"/>
<line x1="660.1" y1="471.65" x2="663.7" y2="471.65" stroke="#636466" stroke-width="0.8"/>
<line x1="660.1" y1="476.28" x2="663.7" y2="476.28" stroke="#636466" stroke-width="0.8"/>
<rect x="659.8" y="471.87" width="4.2" height="4.2" fill="#636466"/>
<polyline points="555.5,517.49 581.9,510.55 608.7,506.84 635.2,498.51 661.9,482.77" fill="none" stroke="#f9c3b4" stroke-width="1.1"/>
<circle cx="555.5" cy="517.49" r="1.9" fill="#b3aad0" stroke="#6a4940" stroke-width="1.7"/>
<circle cx="581.9" cy="510.55" r="1.9" fill="#b3aad0" stroke="#6a4940" stroke-width="1.7"/>
<circle cx="608.7" cy="506.84" r="1.9" fill="#b3aad0" stroke="#6a4940" stroke-width="1.7"/>
<circle cx="635.2" cy="498.51" r="1.9" fill="#b3aad0" stroke="#6a4940" stroke-width="1.7"/>
<circle cx="661.9" cy="482.77" r="1.9" fill="#b3aad0" stroke="#6a4940" stroke-width="1.7"/>
<line x1="532.2" y1="417" x2="542.2" y2="417" stroke="#a6a8ab" stroke-width="1.1"/>
<circle cx="537.2" cy="417" r="1.75" fill="#a6a8ab"/>
<text x="544.1" y="419.5" font-size="8.2" stroke="#1c1a1b">mock</text>
<line x1="532.2" y1="429.8" x2="542.2" y2="429.8" stroke="#636466" stroke-width="1.1"/>
<rect x="535.45" y="428.05" width="3.5" height="3.5" fill="#636466"/>
<text x="544.1" y="432.3" font-size="8.2" stroke="#1c1a1b">vector</text>
<line x1="532.2" y1="442.1" x2="542.2" y2="442.1" stroke="#f5b183" stroke-width="1.1"/>
<path d="M537.2 440 L539.21 443.68 L535.19 443.68 Z" fill="#f5b183"/>
<text x="544.1" y="444.3" font-size="8.2" stroke="#1c1a1b">circPPFIA2</text>
<line x1="586.2" y1="417" x2="596.2" y2="417" stroke="#f7828c" stroke-width="1.1"/>
<path d="M591.2 419.1 L593.21 415.43 L589.19 415.43 Z" fill="#f7828c"/>
<text x="599" y="419.5" font-size="8.2" stroke="#1c1a1b">circ+miR-646</text>
<line x1="586.2" y1="429.8" x2="596.2" y2="429.8" stroke="#c490d1" stroke-width="1.1"/>
<path d="M591.2 427.7 L593.12 429.8 L591.2 431.9 L589.28 429.8 Z" fill="#c490d1"/>
<text x="599" y="432.3" font-size="8.2" stroke="#1c1a1b">circ+miR-1200</text>
<line x1="586.2" y1="442.1" x2="596.2" y2="442.1" stroke="#f9c3b4" stroke-width="1.1"/>
<circle cx="591.2" cy="442.1" r="1.9" fill="#b3aad0" stroke="#6a4940" stroke-width="1.7"/>
<text x="599" y="444.3" font-size="8.2" stroke="#1c1a1b">circ+miR-646+1200</text>
<text x="1.6" y="570.3" font-size="19.5" stroke="#1c1a1b">K</text>
<text x="37.2" y="584.8" font-size="9" text-anchor="middle" stroke="#1c1a1b">oligo</text>
<line x1="13.8" y1="588.2" x2="60.3" y2="588.2" stroke="#262626" stroke-width="1.2"/>
<text x="90.4" y="584.8" font-size="9" text-anchor="middle" stroke="#1c1a1b">sh-nc</text>
<line x1="67" y1="588.2" x2="116" y2="588.2" stroke="#262626" stroke-width="1.2"/>
<text x="224.9" y="584.9" font-size="9" text-anchor="middle" stroke="#1c1a1b">sh-circPPFIA2</text>
<line x1="123" y1="588.3" x2="322.4" y2="588.3" stroke="#262626" stroke-width="1.2"/>
<circle cx="34.6" cy="617.9" r="26.4" fill="#d8d9e3" stroke="#a9aac4" stroke-width="0.8"/>
<g filter="url(#soft)">
<path d="M40.4 593.6h0m-.8 0h0m-17 2.6h0m3.2-1.4h0m1.9 1.2h0m1 .3h0m.3-1.6h0m1.2-.4h0m.3 .7h0m.1 1.4h0m.7-.7h0m2.1 .1h0m0-1h0m1 .5h0m4-.4h0m.1-.1h0m1.2 .5h0m.1 .3h0m.6-.9h0m2.9 .3h0m2.8 1h0m2.4 .7h0m-.3 .8h0m-2.2 .4h0m-.1 1h0m-1.4-1.6h0m-1.2 2.3h0m-2.8-1.2h0m-3.1 1.2h0m-4.4 0h0m-.3-1.2h0m-1-.8h0m-2.6-.4h0m-1.5 .7h0m-6.1-.6h0m-1.8 0h0m-1.9 5.6h0m0-2.5h0m.4 .7h0m2.8 1.6h0m.1-2.3h0m.3 0h0m.9-.1h0m.9 1.9h0m2.3-1.7h0m1.1 1.7h0m.4-1.5h0m.5 1.2h0m1.1-1h0m3.7-.1h0m.3-.6h0m.5 1.5h0m.7-.7h0m0 1.8h0m3-1.1h0m.6-.7h0m1.8-.9h0m3.2 .5h0m1.5 .7h0m.6-.2h0m.1-.2h0m.4 1.2h0m.9-2h0m3.5 2.6h0m2-.5h0m-.1 3.1h0m-.4 .4h0m-3-2.7h0m-1.6 2.7h0m-3.3-1.1h0m-2.5-.2h0m-3.1 1.6h0m-3.8-.3h0m-.7-1.3h0m-.6 1.5h0m-.9-.2h0m-1.2-.8h0m-2.5 .4h0m-9.8-.5h0m-.8-1h0m-.2 .7h0m-.9-.1h0m-4.3 3.9h0m.2 .5h0m.3-1.3h0m3.7 0h0m4.1 .5h0m.7-.1h0m2.3 .9h0m2-1.6h0m.6 .2h0m.2 1.4h0m.2-.1h0m.6-2h0m1.1 2.1h0m.4-2.4h0m.8 2.4h0m.7-2.4h0m1.4 2.4h0m.8-2.6h0m.8 .4h0m.4 2.2h0m2-1.6h0m2 .5h0m.9 .5h0m.3-1.8h0m.3-.3h0m1.1 1.3h0m2.2 1.1h0m1.8-1.8h0m4.2-.6h0m2.6 .9h0m2.5 1.1h0m.3 0h0m3.2-.5h0m2.5 3.2h0m-2.4 .6h0m-3.6 .1h0m-.9-.2h0m-1-1.4h0m-.2 .4h0m-2.7 1.4h0m-.4 .3h0m-1.7-1.3h0m-3.4-1h0m-.6 1.7h0m-3.5-.6h0m-.3 .2h0m-.7-1.1h0m-.2 1.8h0m-1.6-2.6h0m-.7 .9h0m-2.3 .7h0m-.2-1.2h0m-.2 .9h0m-1-.9h0m-.4 0h0m-2.4 .3h0m-5.4-.1h0m-2 1.8h0m-7.3-.8h0m-1.2 .4h0m-1.7-2h0m-1.1 5.4h0m2 .2h0m.3-.9h0m.4-.1h0m1.9-.4h0m2.8-1.2h0m1.8 2.4h0m2.9-.5h0m.2-1.8h0m.4 2.7h0m2.2-1.9h0m.2-.4h0m.4-.2h0m1.6 .3h0m2.3-.5h0m0 2.6h0m.4-1h0m.5 .6h0m.5 .3h0m.6-.1h0m.5-2h0m.8 2.1h0m.3-1.6h0m1.5-.2h0m.5 2h0m.5 .1h0m2.9-.7h0m.1 .5h0m.5-.9h0m0-1.6h0m.2 2.4h0m.6-.4h0m.8 0h0m2.1-.4h0m1.7-.5h0m.2 1.5h0m.2-.3h0m.1-.6h0m2.8 .2h0m3.2-1.7h0m1.9 1.4h0m2.7 .3h0m2.1 .3h0m2.3 2.6h0m-2.2-.4h0m-.8-1.3h0m-.4 1.6h0m-2.2-.8h0m-.9-.3h0m0-.1h0m-2.6 .7h0m-1.8 .4h0m-2.6-.5h0m-5 1.1h0m-.1 .4h0m-1.6-1.4h0m-.2 1h0m0-1.4h0m-2.1 .1h0m-1.2-.6h0m-1.4 1.7h0m-.9-2.1h0m0 1.3h0m-.5-1h0m-1-.3h0m-.4 1h0m-.4 1.7h0m-.1-.6h0m-.5-.1h0m-.6-1.2h0m-.1 1.8h0m-.2-1.4h0m-.5-.3h0m-2.2 0h0m-1 1.3h0m-1.6-1h0m-2.1 0h0m-.4-.7h0m-1.1-.4h0m-.3 2.6h0m-3.7-.8h0m-2.4-1.5h0m-4.1 .6h0m-1.3 3.5h0m2.4-1.7h0m1.5 1.2h0m.9 .7h0m4.7 0h0m2.7-.7h0m3.7 1.2h0m1-2.4h0m1.4 .9h0m1-.1h0m.7 2h0m.3-2.5h0m3.4 1.4h0m1.8-.5h0m1.4-.1h0m1 .6h0m.7-.1h0m1-1.4h0m2.3 .2h0m.4 2.2h0m.2-.6h0m1-.4h0m.9 .6h0m1-1.2h0m3 .6h0m.1 .1h0m.8 .1h0m3.9 1h0m.7-1.3h0m5.4-.5h0m1 3.3h0m-.3 .4h0m-1.1-.5h0m-3.8-.1h0m-.9-.7h0m-.8 1.2h0m-7.5 .9h0m-2-1.6h0m-.2 1.1h0m-.8 .3h0m-.2-1.6h0m0 .7h0m-.8-.3h0m-.4-.9h0m0 2.2h0m-.5 .1h0m-2.1-1.7h0m-.6-.5h0m-1.1 2.1h0m-1 .1h0m-.1-.1h0m0 0h0m-.8-2.3h0m-2.6 1.2h0m-.7 .2h0m-1.2-.4h0m-.1-.7h0m-.6 1.7h0m-1.4-1.5h0m-.8 1.5h0m-1-.7h0m-3 1.5h0m-7.3-.5h0m-.5-.5h0m-.9 .6h0m-1.7-1.5h0m-1.3-.5h0m-.9 2h0m0-2.3h0m.4 3.2h0m.3 1.3h0m.9-.6h0m.4 1.5h0m.2-.7h0m.1-.2h0m5.3-.9h0m.6-.1h0m2.4 2.1h0m.5-1.4h0m1.1 1.3h0m4.5-.4h0m.1-.5h0m1.1 .2h0m1.1-1h0m1.1 .2h0m.1 1.1h0m.5-.3h0m.1 0h0m.3-1.3h0m.5 1.9h0m1.2-2.2h0m.4-.2h0m2.5 .8h0m.4 .8h0m.3-1.2h0m1.6 .2h0m1.2-.5h0m2.3 1.6h0m.8-1.7h0m5 .3h0m.6 .9h0m1.6 .5h0m1.3 .2h0m.6-.9h0m.3 1h0m1.2 .5h0m2.4-.5h0m-.8 1h0m-3.4 .9h0m-2.3-.6h0m-.6 1.2h0m-1.9 .9h0m-2.5-.5h0m-4-2h0m-1.3 1.9h0m-1.1 .2h0m-.5-1.6h0m-.7 1.5h0m-1 .9h0m-.4-.2h0m-.2-1h0m-.7-.3h0m-.3 1.1h0m-.1-1h0m-.1 1.1h0m-3.4-2.6h0m-1 .9h0m-.1 1.4h0m-.2-2.3h0m-.7 1h0m-.3 1.1h0m-1.7 .3h0m-3.2-1.4h0m-4.6 1h0m-1.2-1.1h0m-1.3 1h0m-1-.6h0m-.7 .8h0m-2.1-.7h0m.7 2.9h0m4 .6h0m.2 .1h0m2.2 .6h0m.8-2.3h0m1.4 1.9h0m1.3-2h0m.6 .1h0m1.2 1.2h0m1.3 .4h0m2.1-1.9h0m.3 1.9h0m3.1-.9h0m1.2-.8h0m.9 1.1h0m2.7-.8h0m5.7-.5h0m4 2.7h0m.5-1.9h0m.7 .4h0m8.7-.2h0m-3.7 2.8h0m-1.3-.6h0m-1.7 2.2h0m-1.7-1.9h0m-.5 1.2h0m-4.9-.5h0m-1.5 1.7h0m-1.8-.6h0m-2.2-.8h0m-.3-.5h0m-.3-.5h0m-1.7 .5h0m-.7 1h0m-5.3-.2h0m-1.7 .8h0m-.5-.1h0m-3.2-.2h0m-5-1h0m6 3.1h0m2.6-1h0m.1 2.2h0m4.6-2.5h0m1.2 .8h0m.2 .1h0m4.2 .3h0m1-1.2h0m2.1 .3h0m.4 1.5h0m1.4 .7h0m.4 .1h0m.2-2.7h0m2.4 .8h0m2.7 1.2h0m-7.1 2.3h0m-2.6 .6h0m-3.9-.8h0m-2.3 1.6h0m-2.6-2.5h0m-4.5 1.7h0m7.1 1.2h0m.1 .9h0m1.9-.8h0m4.7 .4h0" stroke="#4744a8" stroke-width="0.85" stroke-linecap="round" fill="none" opacity="0.85"/>
<path d="M36.3 593h0m-7 .6h0m1 .6h0m6.6 1.5h0m7.5-.7h0m1.1 .1h0m3.2 2.2h0m-2.7-.3h0m-6.2 1.2h0m-3.3 .9h0m-5-.5h0m-.5-1.5h0m-.1 1h0m-9.2-1h0m-3.5 1.4h0m-2.4 3.9h0m6.8-1h0m.2-1.1h0m.3-.2h0m.4 1.8h0m3.2 .4h0m2 .7h0m5.4-2.1h0m.5-.3h0m1 2.3h0m1.9-2.9h0m.6 .2h0m.5 2.7h0m6-.8h0m.4-1.5h0m2.9 .4h0m1.9 .1h0m2.6 1.3h0m.3-2.4h0m-2.7 4.8h0m-6.7 .1h0m-1 .8h0m-1.2-2.6h0m-2.2 2.1h0m-1.8 .2h0m-1.9 .5h0m-.7-1.2h0m-3.8-.6h0m-.5 .1h0m-8.5 .8h0m-3.9-.3h0m-3.5 4.1h0m.4-.1h0m1.1-.7h0m10.2-1.5h0m0 0h0m1.5 2h0m1.1-1.6h0m.4 2.1h0m4-1.2h0m4 .5h0m.1 .5h0m2.7-1.1h0m.5-.2h0m3.1 .2h0m1.2-.1h0m1.4-1.4h0m.1 .2h0m3.3 2.3h0m1.3-1.4h0m1.9 0h0m2.6 0h0m.7 4.7h0m-3.5-2.6h0m-1.1 .3h0m-1.7 1.1h0m-3.4-.1h0m-7.6-.6h0m-.1 1.7h0m-.5-.3h0m-2.2-2.3h0m-.1 2.3h0m-.1-.8h0m-2.8-1.6h0m-5.8 1h0m-3 .1h0m-.6 1.4h0m-1.4 0h0m-1.8-1.1h0m-1.3-.3h0m-6.1 1.5h0m-.3-1.3h0m-.6 3h0m.8 .6h0m2.4-1h0m.4-1h0m1.9 1.1h0m.4-.1h0m7.1-.1h0m.7 .6h0m1.2 1.1h0m2.7-2h0m.7 2.3h0m1.4-1.8h0m.5 1h0m.9-1.4h0m.9 2.1h0m4.3-2.4h0m.3 .4h0m.2-.4h0m.6 2.5h0m.2-1.7h0m2.3-.5h0m1.9 2.3h0m.7-1.2h0m2.9-1h0m.9-.1h0m1.8 .4h0m.8-1h0m2.9 1.2h0m1.4 2h0m-.6 .2h0m-.3 2h0m-2.8-.7h0m-3.8-1.4h0m-.1 .9h0m-2.1 .3h0m-1.9-.9h0m0 2.3h0m-.9-2.6h0m-4.9 .2h0m-.1 .2h0m-1.8-.1h0m-1.1-.5h0m-.6 .7h0m-.4 .4h0m-.7-1.2h0m-.4 2.8h0m-.1-.5h0m-.2 .5h0m-2.8-2.4h0m-.5 .9h0m-.4-1h0m-1.5 .8h0m-5.7 .5h0m-4.1 .3h0m-4.1-1.7h0m-.9 2h0m-.1-.5h0m-.2 .2h0m-2.8 2.2h0m.8 1.6h0m0-1.3h0m2.1 .6h0m1.8 .1h0m3.4-.3h0m7.2-1.1h0m.4 1h0m2.1 .8h0m.3-.5h0m.6-.8h0m.5-.2h0m1.8 1.9h0m.3-.5h0m.1-1.7h0m.5 .3h0m2.5 1.9h0m2.7-.1h0m.1-.4h0m2.5-.6h0m3.2-.2h0m.5 .9h0m6.6-1.9h0m2.1 1.8h0m0-.7h0m1.7-.3h0m2.1 1h0m.4-1.6h0m3.3 1.4h0m1.1-.2h0m-2.8 1.4h0m-2 1.6h0m-.5-1h0m-.6 1.7h0m-1-.6h0m-.7-1.5h0m-2.8 0h0m-.3-.5h0m-.7 2.3h0m-1.6 0h0m-3.1-1.8h0m-2.4 1.7h0m-.4-1h0m-.4-.8h0m-.2 .6h0m-3 1.2h0m-1.4-1.2h0m-.3 .5h0m-.2 .5h0m-.1 .1h0m-.9 .1h0m-1.9-.4h0m-.4 .6h0m-3.8-1.7h0m-4.7 .1h0m-1.8 .9h0m-1.4-1.2h0m-5.1 1.5h0m-5.3 .2h0m2.4 1.3h0m.6 .8h0m2.6 .5h0m0-.1h0m1.5 1h0m.9-2.6h0m6.7 .7h0m1.6 1.5h0m.8 .1h0m.5-2.2h0m1.8 2h0m1.2-2h0m1.2 1.6h0m.2-1.1h0m1.2 2.1h0m1.9-2.7h0m.7 2.5h0m1.4-1.7h0m2.6-.8h0m.6 2.1h0m3.6-.2h0m1.9-.3h0m1 .1h0m2.1-.2h0m.6-1.2h0m1.8 1.9h0m2-.8h0m1-.8h0m.3 1.1h0m-4.7 1.7h0m-1.3 .3h0m-.3 1.5h0m-6-1.3h0m-1.1 .5h0m-.7-1.3h0m-.3 2.2h0m-.8-2.2h0m-.6 1.9h0m-.2-.5h0m-2.6-.4h0m-1 .3h0m-.7-1.1h0m-.9 1.1h0m-10.1-.9h0m-9 2.1h0m.7 1h0m.7 .7h0m1 1.3h0m2.6-2h0m10.4 1.2h0m.7 .7h0m1.9-2.7h0m.7 1.4h0m2.1 .7h0m.4-1.7h0m.1 2.5h0m.6-2.7h0m4.8 .9h0m1.2 .2h0m.9-.2h0m.3 1.2h0m7.6-.6h0m1.9 2.1h0m-.7 1h0m-1.8-.1h0m0-.4h0m-.4-.7h0m-.1 1.9h0m-5.1-1.2h0m-1.6 .1h0m-5.1-.3h0m-.9 0h0m-1.6-.5h0m-1.5 1.2h0m-.9-.3h0m-.9 .6h0m-.2 .8h0m-3.6-.2h0m-.4-.8h0m-3.5 .4h0m-.4 .4h0m-1.8-2.1h0m-7.8 0h0m11 2.6h0m2.8 .1h0m3.5 1.9h0m1.6-1.2h0m.5 0h0m2.2-.2h0m1.8 1.4h0m.2-1.2h0m1.8-.1h0m2 .9h0m3.5-.2h0m.4 .5h0m2.6-1.1h0m0 .1h0m-.4 2h0m-3.5 .3h0m-4.9-.3h0m-.3 .6h0m-1.1-.7h0m-.8 1.7h0m-.6-1.6h0m-1.7 2.6h0m-.3-2.3h0m-2.3 1.9h0m-5.8-.6h0m-.6-1.6h0" stroke="#3a379e" stroke-width="1.2" stroke-linecap="round" fill="none" opacity="0.94"/>
<path d="M26.1 596h0m2.2-1.1h0m22.9 4.9h0m-8-1.5h0m-11.9 3.2h0m14 4.1h0m-14-.3h0m-8.2-2.1h0m-5.6 3.2h0m13.1 .4h0m1.8 1.5h0m5.4-1.6h0m4.3 .8h0m8.6 .4h0m6.4-.1h0m-2 2.5h0m-7.1 .5h0m-11.5 .8h0m-9.6 .3h0m-2.2-.8h0m-12.9 .5h0m14 3.1h0m14.2-.5h0m4.2-1h0m7.6 1.4h0m-10.2 2h0m-6.8 .4h0m-1.4-.1h0m-6.7-1.1h0m-9.7 1.6h0m3.6 2.3h0m6.1 .2h0m8.2-1.6h0m4.7 1.5h0m8.2 .5h0m8.3-1.8h0m-1.1 4.1h0m-6.3-1.3h0m-12.7 1.1h0m-8.3 .6h0m-5 .4h0m.9 1.6h0m5.8 .5h0m3 1.3h0m3.2-1.1h0m6.6 1.1h0m1.1-1.7h0m2.8 .3h0m10.3 1h0m1-.8h0m-5.1 3.7h0m-2.9-1.7h0m-1.4 .2h0m-10.2-.2h0m-5.9-.2h0m-5.8 .5h0m-11.7 4.8h0m14.1-.7h0m5.4 .6h0m5.2-2.6h0m6.1 .5h0m6 2.5h0m-3.7 2.8h0m-2.5-.8h0m-1.3-.7h0m-2.7-1.1h0m-4.1 1.1h0m-5.1 .1h0m-2.2-1.2h0m-4.7 1.4h0m-1.1-.3h0m-6.2-.7h0m6.7 2.8h0m3.5 1.8h0m7.5-.4h0m3.5-1.1h0m2.8 2.2h0m3.7 .1h0m2-.2h0m0-2.2h0m-7.8 2.7h0m-5.5 3h0m4.2-.2h0" stroke="#36339a" stroke-width="1.65" stroke-linecap="round" fill="none" opacity="0.94"/>
</g>
<circle cx="89.1" cy="617.9" r="26.4" fill="#d8d9e3" stroke="#a9aac4" stroke-width="0.8"/>
<g filter="url(#soft)">
<path d="M92.4 593.2h0m-1.3 .8h0m-8.2-.1h0m-.7-.1h0m-3.5 1.7h0m1.3-1.1h0m6.1 2.5h0m4.7-1.4h0m5.9-.2h0m3.9 .4h0m1.6 .6h0m4 2.8h0m-1.3-.4h0m-3.4 1h0m-1-.9h0m-3.2-.8h0m-.7 1.1h0m-2.7 .2h0m-.9-1.4h0m-2.5-.1h0m-.5 2.2h0m-2.6-1.4h0m-3.2 .4h0m-.1-1.4h0m-.5 .4h0m-6.2 .6h0m-2 4.3h0m1-.8h0m0-2h0m.9 .5h0m.5-.3h0m.9 2h0m1.1-.3h0m.7 .7h0m.9-1.5h0m.9 1.4h0m1.3-.2h0m1.6-.8h0m1.2 .6h0m1.6 .3h0m2.3-.3h0m1.1-.8h0m1.4 1.2h0m3.3-.8h0m1.3 .3h0m.3-.9h0m7.3-.1h0m5.1 4h0m-2.2-.5h0m-4.2 0h0m-.4 .3h0m-1-1.2h0m-.3-.4h0m-.1 .8h0m-1.4 1.4h0m-.3-.7h0m-.4 .2h0m-.2-1.6h0m-2.2 1.8h0m-5.1-2h0m-3.3 .6h0m-1.9-.8h0m-3.7 .5h0m-.5 2.3h0m-.4-.6h0m-2.6-.9h0m-1.6 .5h0m-.8-1h0m-1-.2h0m-4.2 1.6h0m-6 1.9h0m8.1-1.1h0m.8 3h0m.7-2.7h0m.9 1.5h0m1.3-.7h0m.4-.2h0m5.4-.2h0m1 .6h0m.4-.5h0m.4 1.7h0m.2-.4h0m3.8-1.3h0m1.3 2.1h0m.5-.7h0m.3-1.7h0m1 1.3h0m.3-1.5h0m.1-.2h0m.3 1.4h0m.2 .6h0m.8 .6h0m1-1.8h0m.1-.5h0m.6 1.8h0m.2-.4h0m.2-.3h0m.1 .5h0m2.8-1.6h0m1.4 1.5h0m.7 .2h0m.9 .7h0m.1-1h0m.8-1.3h0m1.4 .5h0m3.7 1.2h0m0-1.9h0m.4 1.7h0m1.3 1h0m.4-.5h0m.3-.7h0m1.2 1.9h0m-.8 1.2h0m-2.3 .8h0m-8.3-2.2h0m-2.6 2.2h0m-2-2h0m-.2 1.1h0m-.6 .6h0m-1-.2h0m-1.1 .7h0m-.6-2.2h0m-1.1 2h0m-.8-1.8h0m-.6 .8h0m-1.9-.8h0m-.2-.7h0m-.3 2.3h0m-.1-1.3h0m-1.1 .2h0m-1.3 0h0m-3.6 1.1h0m-1.6-2.1h0m-.8 .5h0m-1.9 .2h0m-1.1-1h0m-3.1 .3h0m-4 2h0m-.8-1.7h0m-1 0h0m-.4-.3h0m-2.4 2h0m2 .7h0m4 2.8h0m0-.8h0m3.4-.4h0m.3 .9h0m1-1.7h0m3.4 .9h0m.4-.1h0m1.1 .1h0m4 .9h0m.6-.7h0m.9 .1h0m1.7 .3h0m.8-.5h0m.2-.3h0m0 1.3h0m.4-1.1h0m1.1-.3h0m.5 .7h0m0-1.4h0m.2 2h0m0-2.6h0m.4 1.9h0m0-.6h0m.3 1h0m.1-.5h0m2-.6h0m1.4 .7h0m.5-.5h0m1.7-.2h0m4.6-.8h0m1.2 .1h0m.2 .4h0m1.2 1.1h0m.8-.9h0m.9 .5h0m.1-1.7h0m1.1 2.1h0m6.3-1.1h0m.8 1.8h0m-1 2.4h0m-4.9 .5h0m-1.8-1.8h0m-2.9 1.3h0m-.9-2h0m-3.1 1.9h0m-.4-1.8h0m-1.9 .7h0m-1.5-.7h0m-.3 1.1h0m-.6-.4h0m-.1 .4h0m-1.8 .7h0m-2-.6h0m-.2-1.4h0m-.5 2.4h0m-.1-1h0m-.7 1.1h0m-.8-.1h0m-.2-2.5h0m-1.1 2.4h0m-.1-2.3h0m0-.1h0m-.2 1.1h0m-1.1 1.6h0m-.1-1.2h0m-.1 .5h0m-1.1-1h0m-1 1.1h0m-.8 .3h0m-.3 .1h0m-4.1-1h0m-2.6 1.4h0m-1.6-1.1h0m-.6 .2h0m-3.2-1.9h0m-.9 .2h0m-1.7-.2h0m-2.7 1.3h0m-.2 3.3h0m1.7 .1h0m1.1-1.4h0m2.2 .2h0m.7-.4h0m.9 2.6h0m.5-1.2h0m1.2 .2h0m.1 1h0m.2-1.7h0m10.6 .9h0m.3 .1h0m1.7-2.2h0m.2 .1h0m.6 2.2h0m.7-1.6h0m.1 .1h0m1 1.4h0m1.7-.8h0m.9 .6h0m.5 .9h0m.1-2.2h0m0 1.9h0m.8-.5h0m.5-1h0m.7-.6h0m.2 2h0m.2-1h0m0 1h0m1.7 0h0m5.2-.9h0m5.3 .2h0m.2-.5h0m3.9-.7h0m.4 2.1h0m1-2.6h0m1.3 1.9h0m-.7 2.5h0m-2.2-.8h0m-.6 1.9h0m-1.7 .2h0m-.7-.8h0m-2.4 .9h0m-1-1.4h0m-2.4-1.1h0m-2.3 .5h0m-3-.2h0m-1.7-.4h0m-.4 2h0m-1.2 0h0m-.7-1.4h0m-1.2 2h0m-.2-.5h0m-.4-1.2h0m-.4 1.1h0m-.7-1.9h0m-.2 2.2h0m-1.1 .4h0m-.4-1.5h0m-1.5 .4h0m-.3 .2h0m-2-.9h0m-.5 1.5h0m-.3-.1h0m-4.4 0h0m-.9-2h0m-1 1h0m-2.6 1.3h0m-.8-.7h0m-2.8 .4h0m-2.6-1.7h0m-3 1.3h0m2.9 1.2h0m2.3 1.6h0m5.2-1.1h0m.8-.8h0m1.3 .6h0m0 1.5h0m.5 .2h0m5.1-.5h0m1.1 1h0m1.5 0h0m1.1-1.7h0m2.5 1.5h0m2-1.3h0m.1-.7h0m1.6-.6h0m.1 .4h0m.4 1.6h0m.6-.4h0m.5-1.4h0m1-.3h0m.5 .5h0m.4 1.1h0m.2-1.3h0m.1 .7h0m0 1h0m1 .6h0m7.2-.2h0m1-.5h0m2.2 .3h0m2.8 3.2h0m-.5 .4h0m-5.4-2.2h0m-6.7-.6h0m-1.5 .1h0m-1.7 2.3h0m-2.2-1.1h0m-.3 1.5h0m-.3-2.4h0m-.1-.2h0m-.1 1.1h0m-1.2 .2h0m-1-.4h0m-2.1-.1h0m-.2 1.4h0m-.2 .5h0m-.5-1.2h0m-.9-.6h0m-1.9 1.6h0m-4.2-1.4h0m-1.2-.1h0m-1.9 1.4h0m-4.3-2.2h0m-.2-.3h0m-.2 1.6h0m-3.7-1.2h0m-2 .4h0m-.1-.3h0m1.8 4h0m2.7 .1h0m2.5-1.4h0m.5 2.6h0m2.1-1h0m1.2 .6h0m1.2-1.6h0m3.6 .2h0m.7 .8h0m.8-.3h0m1.4 .9h0m.6-.1h0m1.5-.9h0m.3 .4h0m.1-1.1h0m1.4 .9h0m1.3-.6h0m.2 .1h0m2.2 .9h0m4.4-.2h0m1.3 .2h0m.2 .5h0m1.2-.1h0m2.4-.6h0m1.3-1.8h0m3.9 1.5h0m1.2 0h0m1.5 0h0m-2.2 1.8h0m-5.8 .2h0m-5 1.3h0m-2.3-1.6h0m-9.5 1.7h0m-2.3-1.3h0m-3-.3h0m-5.1 1.4h0m-1.1-1.2h0m-1-.5h0m-2.9 1.1h0m4.8 2.4h0m2.8-.1h0m1.9 1.5h0m.1-1.6h0m3.2 2.4h0m1.7 0h0m5.6-.8h0m1.3-.6h0m1.8-1.3h0m.4 1.8h0m1.7 .4h0m2-1.7h0m1.4 1.3h0m2.3 .3h0m1.7-.3h0m-2.3 1.4h0m-.3 1.7h0m-.9-.7h0m-1.4 .4h0m-2.3-1.4h0m-2 1.9h0m-.2-1.8h0m-.2 0h0m-.1 .1h0m-1.8-.3h0m-1.1 1.3h0m0-1.5h0m-2.4 3h0m-2.4-2.7h0m-.4-.1h0m-.5 .1h0m-.4 1.3h0m-4.1 .9h0m-2.4-2h0" stroke="#4744a8" stroke-width="0.85" stroke-linecap="round" fill="none" opacity="0.85"/>
<path d="M88.7 592.4h0m-3.8 1.1h0m-7.5 2.9h0m1-1.1h0m8 1.7h0m3.7-2.8h0m2.6 .9h0m5.1 1.9h0m1.4-.7h0m.1-.2h0m5.5 2.1h0m-1.2-.8h0m-1.9 1.8h0m-.1-.7h0m-3.2-.9h0m-18.6 2.3h0m-4.4-1.8h0m-1.7 .5h0m1.2 2.1h0m9.5 1.8h0m11.2-1.9h0m3.7 1.2h0m4.4-1.7h0m1.6 2.1h0m-1.2 2.3h0m-1.6 1.3h0m-.8-.5h0m-.1 .4h0m-2.7-1.1h0m-1.8 1.4h0m-1-1.3h0m-3.6-.2h0m-1.4 .3h0m-1.3-1.5h0m-.3 2.7h0m-6.2-2.9h0m-1.8 1.5h0m-.5 .3h0m-.4-.5h0m-.4-1.3h0m-.7 2.5h0m-.5-1.6h0m-2.9 .5h0m-1.5 1.1h0m-.9-.1h0m-3.7-.4h0m-.8-1.9h0m-3.3 5.3h0m4.9 .3h0m.3-.3h0m.8-1h0m2.1 1h0m.4-2.5h0m2.5 2.3h0m7.1-1.4h0m1.7-.4h0m1.3 2.2h0m.9-.5h0m.9-1.4h0m.4 1.8h0m4.8-1h0m1.5 1.3h0m2.8-.7h0m.9-.5h0m1.7-.8h0m.6 .3h0m7.6-1h0m1.1 .5h0m.1 2h0m1.1-.2h0m.3 1.8h0m-14.3-.6h0m-.7-.6h0m-1.8 2.1h0m-2-1.1h0m-.3-.1h0m-2.1 .7h0m-.1 .4h0m-2-1.2h0m-.7-.8h0m-4.6 .6h0m-1.2-.5h0m-2.8 1.3h0m-1 .5h0m-1.4 0h0m-1.7-1.6h0m-.1 2.4h0m-.7-.9h0m-.4 .1h0m-.7-1.8h0m-.8 1.3h0m-.6-.2h0m-.6 1.4h0m-.4-.9h0m-.3-1.7h0m-1.7 1.8h0m-.2-.6h0m-2.8 .2h0m-.7 1.5h0m13.6 2.6h0m6.3-1.9h0m.8-.1h0m.6-.4h0m.8 .4h0m.6 .5h0m1 1.3h0m.3-.6h0m.2-1.2h0m.1 1.3h0m.4 .8h0m.2-2.1h0m.2 .8h0m.4-.6h0m.5 .7h0m1.1 .9h0m.4-.2h0m.7-1.6h0m.8-.5h0m.4 1.9h0m1.1 .4h0m1.6-1.4h0m1.4 0h0m2.5 1.6h0m2.3-.4h0m1.3 .3h0m1.8 .1h0m2.7-2h0m2.6 1.6h0m1.8 2.8h0m-.2-.9h0m-6 1.4h0m-5.2 0h0m-1.5-.3h0m-3.2-.5h0m-2.9 .1h0m-.6 .5h0m-1.6-1.2h0m-.4 .1h0m0 1.4h0m-1.1-1.2h0m-.1-.1h0m-.8 .9h0m-1.6 .4h0m-.7-2.6h0m-.9 .2h0m-.6 1.2h0m-3.1-.8h0m-1.7 .6h0m-.1-.4h0m-.9 .9h0m-.9 1.2h0m-2.3-2.4h0m-.9 2.2h0m-.1 0h0m-1.3-1.9h0m-5.8 2h0m-1-.7h0m-1.4-.2h0m-1.6-.4h0m-.9-.3h0m1.1 3.6h0m3.1-.6h0m2.3 .4h0m1.3 .9h0m5.1-1h0m3.7 .5h0m5.1-1.6h0m0 1.5h0m.4-.7h0m.1-1h0m.3 .1h0m.4 .8h0m.1 .9h0m1.2-1h0m.3 .3h0m.1 1.3h0m1-2.5h0m.8 2.4h0m.3-.5h0m1.2 .5h0m1.3-.8h0m2 .7h0m4.3 .5h0m1.4-.3h0m.5-2.1h0m.5 .1h0m7.8 1h0m2.4-.4h0m.2-1h0m-2.4 5h0m-12-1.3h0m-4.4 1.4h0m-.2-.9h0m-1.9-.8h0m-.1 .5h0m0-1h0m-1 .8h0m-.9 .7h0m-.2 1h0m-1.4 0h0m-.9-2.5h0m0 1h0m-.1 1.5h0m-2.2-.1h0m-.3 .4h0m-1.9-.2h0m-2.4-1.1h0m-1.6 .3h0m-.4 .8h0m-.3-2.5h0m-1.6 2.4h0m-4.3-2.6h0m-4.5 1.1h0m-2-.7h0m1.3 5.4h0m2-2.6h0m3 2.3h0m3.6-1.8h0m1.4-.1h0m.8 1.9h0m8-1.4h0m1.3-1.1h0m1.5 2h0m2.7 .4h0m.4-2.2h0m1.6 1h0m.7 1.5h0m.2-.4h0m.1-.3h0m11.1 .3h0m4.1-1.7h0m.6 2.1h0m1.3-1.9h0m.5 .9h0m-8.9 2.6h0m-2.2 .2h0m-.4-.3h0m-1.2 .5h0m-2.6 .4h0m-5.9-1.2h0m-.2 .9h0m-3.3-.2h0m-.2 .3h0m-4.9 .3h0m-3.4 .5h0m-1.4-1.3h0m-.1 .3h0m-3 0h0m-.2 .5h0m-3.6-1.7h0m0 .8h0m2.3 4.2h0m1.6-.1h0m1.9-2.2h0m4.1 .9h0m1.8 1.2h0m1.1 .4h0m1.6 .1h0m3.1-.1h0m.5-.2h0m1.1-2.5h0m3.1 2h0m.3 .4h0m.9-2.4h0m1.8 .1h0m1.3 1.8h0m.5-.1h0m8-1h0m-2.2 4.4h0m-.9-.9h0m-1.9 .6h0m-3.4 .9h0m-2.6-1.3h0m-.9 .9h0m-.6-2.1h0m-.9 1.6h0m-.4-.7h0m-1.1-.7h0m-.7-.3h0m0 .4h0m-1.1 2.2h0m-1.4-1.2h0m-5.7 .4h0m-.3-1.9h0m-8.5 2.4h0m-1.7-1.7h0m1.3 2.7h0m3.5-.5h0m4.9 2.8h0m1.3-1.3h0m.3-1.2h0m.4 2.4h0m1.1-.1h0m2.2-1.4h0m1.3-.1h0m11.3-.9h0m3.1 2.8h0m-1.3 .2h0m-5.7 1.8h0m-2.5 .2h0m-4.1-1.8h0m-1 1.6h0m-.6 .7h0m-3-1.4h0m-1.6 1h0m-5.3-2h0m7 2.9h0m3.7 .7h0m.7 .3h0" stroke="#3a379e" stroke-width="1.2" stroke-linecap="round" fill="none" opacity="0.94"/>
<path d="M95.3 593.2h0m-12.3 2.1h0m2.6-.1h0m-.9 3.6h0m-8.4 .7h0m-1.9-2.1h0m.3 2.9h0m1.5 1.9h0m6.8-.3h0m13-.8h0m10.1-1.1h0m-14.3 5.9h0m-1.1 0h0m-.9-1.9h0m-20.4-.8h0m-1.9 4.2h0m26.6 1.2h0m3.4-.6h0m3.3 .2h0m12.7 3.6h0m-7.1-.8h0m-.3 .5h0m-9.9-2.5h0m-1.2 1h0m-8.7 .1h0m-22.3 3.8h0m20-.9h0m4.7 1h0m1.6 .2h0m.4-.5h0m.5-.1h0m5.1-.3h0m4.5-1.1h0m10.3 5.2h0m-8.8-.6h0m0 .7h0m-3.2-.1h0m-12.2 .4h0m-5.4-1.4h0m-7.5 .2h0m-2.2-.7h0m-4.4-.4h0m-1.5 5.4h0m1.5-.9h0m6.2-.7h0m.5 .2h0m4.8 1h0m13-2.1h0m.3-.1h0m1.6 .6h0m1 1.9h0m4.9-.7h0m6.3 .4h0m1.3 1.8h0m-10.6-.2h0m-16.3-.2h0m-7.8-.3h0m0 2.9h0m8.4 0h0m7.8 1.1h0m4.9 .8h0m6.3 1h0m-6 2.1h0m-2.2-2.2h0m-3.4 2.2h0m-6.1-1.3h0m-4 1.4h0m-3.3 2.3h0m5.9-.9h0m6.3 1.8h0m2.2-2.8h0m6.4 1.2h0m12.9 2.2h0m-6.8-.2h0m-27.1 3.4h0m10.2 2.2h0m.2-.8h0m.3 .9h0m8.4-2.8h0m7.2 .5h0m-19.9 4.5h0m-3.7-.7h0" stroke="#36339a" stroke-width="1.65" stroke-linecap="round" fill="none" opacity="0.94"/>
</g>
<circle cx="144" cy="617.9" r="26.4" fill="#d8d9e3" stroke="#a9aac4" stroke-width="0.8"/>
<g filter="url(#soft)">
<path d="M150.7 594h0m-7.5-1.4h0m-10.9 3h0m3.2 1.1h0m1.9-1.4h0m.5 .3h0m1.1-.7h0m2.1 2.1h0m3.1-.6h0m6.3-.7h0m10.3 3.1h0m-1.8-1.1h0m-.5 2.2h0m-5.6-2.6h0m-1.1-.3h0m-5.9 2.9h0m-4.9-.2h0m-2.3-2.4h0m-3.7 1.6h0m0-1.5h0m-1.7 2h0m-5-1.2h0m-.5 1.4h0m-1.4 .1h0m2.4 1.6h0m2.5 .6h0m7.1-1.4h0m2.8 .9h0m6.7-.3h0m4.2 .1h0m1.7 .7h0m11.4 2.6h0m-2.1 .6h0m-8.7 .3h0m-.8-1.1h0m-3.4 1.1h0m-2.9-.9h0m-20.1 1.1h0m-4.7 2.7h0m3.3-.8h0m1.1-.6h0m1 1.7h0m1.9-.7h0m5.4 .1h0m3-.7h0m2.1 1.4h0m5.3-1.5h0m2.4 1.2h0m2.3 0h0m1-1.5h0m3.8 .8h0m13.2 3.1h0m-1.3 .6h0m-6.1-.1h0m-11.2 .1h0m-.6-.2h0m-1.6 .1h0m-1.4-.2h0m-7.3-.8h0m-5.3-.8h0m-1.8 .9h0m-7 .1h0m-5.3 1h0m5.1 1.7h0m.4-.5h0m2.1-.3h0m3.9 2.5h0m7.3-2.5h0m5.6 1.6h0m1.7 .8h0m.2-.1h0m2.1-.1h0m.1-.5h0m1.1-.9h0m1.6-1.2h0m0 .5h0m.6 1.2h0m.4-.4h0m.4 .6h0m1.8-.1h0m5.2-.8h0m2.5 1.1h0m1.7-1.1h0m4.2 4.2h0m-8.2 .5h0m-3-2.6h0m-2.3 2.5h0m-2-2.1h0m-.6 .8h0m-.2 .4h0m-1.3 1.1h0m-.8-1.2h0m-1.1 1.3h0m-1.2-1.2h0m-1 .7h0m-.3 .4h0m-13.9-1.2h0m-.7 .4h0m-4.3-.2h0m-1.3-.9h0m-1.9 1.7h0m-2.3 0h0m-1.5-1.6h0m6.1 4.9h0m.9-2h0m5.4 1.2h0m8.7-2h0m4.4 2.5h0m2.2-.3h0m4.2-.1h0m1.3 .8h0m.6-1.2h0m1.9-.8h0m2.3 .5h0m6.2-.7h0m3.4-.5h0m-1 2.9h0m-.6 .2h0m-6.9 1.1h0m-2 .9h0m-1-1.1h0m-4.8-.9h0m-.2 .5h0m-2.6-.8h0m-.1 2.5h0m-.5-.7h0m-.6 .4h0m-.8-1.5h0m-.5 2.1h0m-.5-2.8h0m-.7 1.4h0m-3.2-.1h0m-7.3-.5h0m-6.8 1.7h0m-1.3-1.8h0m-1.6 .8h0m.1 1.7h0m2.3 .5h0m1.9 1.8h0m4.4 .1h0m5.8 .2h0m4.4-.3h0m.6-.7h0m3.8-1.6h0m.1 1.6h0m.7 .6h0m.3-1.2h0m.3 .4h0m.5-.5h0m1.6-.1h0m2.3 0h0m4.7-1.1h0m4.1 .5h0m5.4 2.5h0m-2.5 2.6h0m-5.8-.5h0m-4.7-1.7h0m-3.2 1.2h0m-.4-1.4h0m-.1 0h0m-1 1.3h0m-1.9-.4h0m-2.1-.7h0m-.7 1.3h0m-.1 .7h0m-1.7-1h0m-10.6 .8h0m-2.5 .1h0m-3.9-.9h0m-1.3 .9h0m-2.1 1.9h0m.5-.3h0m7-.5h0m6 1h0m4.3 .6h0m.8-.1h0m0-.5h0m.3-.6h0m.8-.7h0m.2 2.7h0m1.5 0h0m2.6-2.6h0m.4 1.9h0m.1 .1h0m.3 .5h0m15.8-.7h0m.1-.6h0m-7.5 3.6h0m-1.2 .2h0m0-1.4h0m-5.3 2h0m-2.7-1.1h0m-2.7-.2h0m-2.2 .9h0m-9.8 3.2h0m1.3-1.2h0m1.2 .6h0m2.8-1.6h0m5.6 .6h0m2.1 .3h0m3.2-1.2h0m1.2 2.1h0m.3 .7h0m8.4-.3h0m-1.8 1h0m-6.8 .7h0m-5.8 .8h0m-.5-1.8h0m-5-.2h0m-4.3 1.9h0m6 1.1h0m8.7 .3h0" stroke="#4744a8" stroke-width="0.85" stroke-linecap="round" fill="none" opacity="0.85"/>
<path d="M131.7 596.1h0m1.8-.3h0m25.6 3.8h0m-29.7 0h0m-1.2 .6h0m2.1-.2h0m6.5 2.4h0m16.8-2.1h0m4.4 2.4h0m3.5-2.3h0m2.5 3.8h0m-2.1 1h0m-6.3-2.1h0m-3.1 1.8h0m-6.1 .2h0m-3.8 .1h0m-7.3-.7h0m-1.8 1h0m-3.5-1.2h0m-5.8-.7h0m-.2 .9h0m-2.2 3h0m.8 .8h0m3.4-.7h0m5.2 .5h0m10.3 .2h0m3.7-1.1h0m.8 .8h0m.3 .5h0m19.7 2.5h0m-4.6-.7h0m-.4-.5h0m-4.8 2h0m-1.5-1.4h0m-7.6 .9h0m-.5-.2h0m-5.9-.6h0m-6.2 .5h0m4.9 1.6h0m9.7 1.9h0m.6 .5h0m1.9-2.6h0m3.7 .3h0m9.6 .1h0m.9 .6h0m2.7 .3h0m-5.3 4.1h0m-7.9-.9h0m-8.2 .8h0m-.6-1.1h0m-.1-.8h0m-1.9 1.4h0m-.9-.3h0m-.3 .5h0m-4.3-2h0m-2.3-.1h0m-15.2 .3h0m-.1 1.7h0m2.6 1.6h0m4 .7h0m16.3-.7h0m.3 .3h0m2.1 .7h0m.2-1.8h0m.9 2.1h0m.2 .6h0m1.2-.2h0m.3-1.2h0m2 .4h0m.1-1h0m15.1 1.7h0m.5-1.6h0m-.5 4.4h0m-5.8-1.2h0m-3.1 .3h0m-1.2 .7h0m-6.2 .1h0m-5.2-.9h0m-2 1.5h0m-16.5-.8h0m-.9 .5h0m-2.4 1.4h0m2.5-.1h0m4.4-.8h0m.6 .6h0m.6 1.9h0m.3-1.3h0m10.9 .6h0m.7-1.6h0m2 .6h0m.7 .8h0m.6-1.6h0m.7 .9h0m1.1-.6h0m1 1.5h0m.3-.3h0m2.3 .4h0m10.4 .5h0m3.7-1.9h0m-6 5.3h0m-7.1-1.6h0m-1.6 0h0m-1.9-.6h0m-2.7 .5h0m-2.2-.8h0m0 .1h0m-.3 2.3h0m-.4-2.2h0m-3.5 .8h0m-6.3-1.3h0m-1.3 2.8h0m-1.1 0h0m-4.4-2.3h0m-5.5 3.1h0m1.3 .4h0m8.5 1.8h0m4.2-1.7h0m.7 1.7h0m4.9-2.4h0m3.2 .5h0m1.5 1.8h0m.2-2.4h0m.2 1.9h0m1.4-2h0m7.4 1.3h0m6.3 .1h0m-9.3 1.6h0m-1 1.8h0m-1.9-.6h0m-1.5-1.1h0m-.2 2.4h0m-3.7-1.1h0m-.3 .3h0m-.8 0h0m-.6-.1h0m-.9-.9h0m-11.3 .2h0m-3.3 1.5h0m3.2 .8h0m1.7 2.2h0m1.1-1.8h0m1.5 .9h0m1.2-.1h0m5.4-1h0m.4 .1h0m7.5 2.2h0m1.9-.3h0m1-1.4h0m9.7-1h0m-11.3 4.7h0m-.1 .6h0m-3 .5h0m-1.6-1.5h0m-4.3-.9h0m3.1 3.7h0" stroke="#3a379e" stroke-width="1.2" stroke-linecap="round" fill="none" opacity="0.94"/>
<path d="M149.2 593.4h0m-8.6 6.4h0m-8.9-1h0m25.5 2.3h0m7.2 2.2h0m-2.1 2.7h0m-5.6-1.4h0m.6 4h0m-17.1 2.6h0m-8.1 .7h0m31.8 .2h0m-15.8 5.7h0m-.8-1.1h0m.2 3.4h0m1.3-1.9h0m3.3 1.7h0m9.5-.5h0m-11.1 4.1h0m-1.5-.4h0m-.7-.5h0m-.3 0h0m-.6 .2h0m-2 .4h0m-17.8 0h0m3.9 2.1h0m13.5-1h0m2 2.5h0m18.2 1.5h0m-15.1-.1h0m-9.1-.9h0m-7.1 5.1h0m12.5-2h0m3.5 1.4h0m-4 1.3h0m-2.4 5h0m6.7 3h0m-5.3 .2h0m0-1.3h0m-2.3 .6h0m-4.5-1h0m-.3 1.1h0" stroke="#36339a" stroke-width="1.65" stroke-linecap="round" fill="none" opacity="0.94"/>
</g>
<circle cx="198.5" cy="617.9" r="26.4" fill="#d8d9e3" stroke="#a9aac4" stroke-width="0.8"/>
<g filter="url(#soft)">
<path d="M200.6 593.2h0m-16 3.5h0m1.6-.5h0m.6 0h0m2.1-1.5h0m1.8 .9h0m5.2-.8h0m.8-.7h0m6.2 2.5h0m8.5 1.7h0m-3.4 .9h0m-.6-2h0m-1.3 .6h0m-1.8 2.2h0m-6.3-.5h0m-1.2-.3h0m-.1-.5h0m-6.1-1.3h0m-1.4-.3h0m-3.2 2.5h0m-3.3 0h0m-3.6 3.3h0m4.4-.6h0m1.7-1.9h0m3.4 1h0m2.1 .2h0m5.4-1.1h0m0 1.1h0m1.5-1.2h0m.4 2.4h0m1.2-2.1h0m2.6-.5h0m2.6 1.6h0m.5 .7h0m2.8-2.2h0m1.9 1.5h0m1.4 .8h0m5.7-1.9h0m.6 1.1h0m1.4 3.8h0m-3-2.5h0m-.8 1.7h0m-.8-.5h0m-2 1.1h0m-2.8-2.3h0m-1.1 1.4h0m-.2-.5h0m-.1-.3h0m-2.2-.1h0m-1.8 1.5h0m-2.2-1.9h0m-.8 1.4h0m-8.5-.5h0m-.7 .2h0m-.2 1.2h0m-2.7-1.8h0m-5.1-.2h0m-1.2 .4h0m-.2-.1h0m-4-.6h0m2.9 3.4h0m4.4 1.2h0m.7-.3h0m1.6-.1h0m2.5-1.4h0m1.7 2.5h0m0-1.7h0m2.4 1.6h0m.4-.3h0m.1 .2h0m3-1.7h0m2.1 .7h0m1.9 1.2h0m2-2.2h0m3.9 2.6h0m3.6-1.6h0m.2-.3h0m3.6 .1h0m.9 .5h0m.6 .5h0m2.1 .9h0m-.7 1.4h0m-3.2-.9h0m-.3 2.5h0m-8.9-1.1h0m-1.8-.8h0m-.1 1.3h0m-.7-1.4h0m-1.1-.7h0m-.1 .1h0m-1.6 .8h0m-.1 .8h0m0 .1h0m-.5-.6h0m-1.5 1.3h0m-.3-1.9h0m-.2 0h0m-.2 1.3h0m-1.8-1.3h0m-.5 2h0m-1.3-1.8h0m-3.9-.9h0m-2.9 2.2h0m-7.4 .2h0m-1.2-1.4h0m-3.5-.7h0m-.9 1.6h0m3.7 1.9h0m1.2 1.1h0m6-2h0m1.8 2.8h0m0-.2h0m3.2-2.1h0m.8 .4h0m0-1h0m.7 .9h0m.5 1.6h0m.3-1.4h0m1.8 1.9h0m.5-.4h0m.8-.6h0m.5-1.1h0m1.7 1.3h0m1.2 .8h0m2.7-.4h0m.1-2.5h0m.8 .9h0m1.3-.5h0m0 1.9h0m3.3-1.7h0m1 .3h0m.1-.6h0m1.6 0h0m3.7 .3h0m1.9 1.4h0m.5-1.2h0m.5 1.6h0m3-.3h0m.1-.5h0m.6 .2h0m.8-.9h0m1.8-.3h0m.1 .2h0m.1 2h0m.5 2.2h0m-.9-.5h0m-1-.1h0m-2.9 1.1h0m-1.4-2.2h0m-.6 1.3h0m-2 .9h0m-2-.8h0m0-.8h0m-3.6 1h0m-.4 .7h0m-.3-1.2h0m-3.4 .4h0m-1 0h0m-1.2-1.4h0m-.4-.1h0m-.9-.3h0m-1 2.5h0m-2.8-2.5h0m-.1 0h0m-.2 1.3h0m-.5 1.6h0m-1.4-1.1h0m-1.2-.5h0m0 .4h0m-.1-.7h0m-.5 1.7h0m-2.1-.8h0m-.5-1.5h0m-.5 .4h0m-.9-.4h0m-1.3 1.6h0m-.1 .4h0m0-.9h0m-3.8-.2h0m-.1-.4h0m-1.9-.4h0m-.4 .2h0m-6.5 .4h0m-1.6 .5h0m-.3-.5h0m.1 4.7h0m1.8-1.9h0m1.3-1h0m1 1.9h0m2.1-.3h0m3.2 .6h0m.1-1.8h0m2.8 .2h0m4.8-.2h0m3.5 1.1h0m.3 .8h0m.9 .5h0m.3-2.3h0m.6 2h0m2.4-2.1h0m.1 1.4h0m.5-.1h0m1.9 .9h0m1.5-.3h0m.1-2h0m.4 1.8h0m6-.1h0m8.5-1.9h0m.5 1.4h0m.5-1.4h0m4.4 .4h0m-3.3 3h0m-.8-.4h0m-2.2 2.4h0m-2.9 .1h0m-2.1-.7h0m-2.8 .6h0m-4.4 .2h0m-6.6-2.6h0m-.1 2h0m-1.6-1.1h0m-.9-.9h0m-.1 1.4h0m-.2 0h0m-1.5 .8h0m-.5 .5h0m-2.5-1.7h0m-.3 .5h0m-1.9-1.2h0m-2.8 .9h0m-7.8-.6h0m-2.4 2h0m-1.4 1.1h0m3.5 1.8h0m1.9-.7h0m7-.1h0m2.6-.8h0m1.5-.9h0m0 2.2h0m1.5-1.3h0m.3-.7h0m.4 2.6h0m.2-.9h0m.3-1.5h0m.5 .5h0m2.8-.8h0m1.3 .8h0m1.4 .2h0m1.9-.7h0m7.3-.2h0m1.8 .7h0m3.2 1.1h0m1.3 .6h0m4.1-1.8h0m.4 2h0m.1-1.4h0m3.2 .1h0m-8 2.3h0m-4.3 .6h0m-.9 1.1h0m-5.7-1.7h0m-.6-.6h0m-.1-.2h0m-1.9 1.9h0m-1.2 .8h0m-1.8-2.5h0m-1.3 1.6h0m-.3 .1h0m-.1-1.4h0m-1 2.1h0m-.6-1.7h0m-1.8-.7h0m-1.9 2.5h0m-.3-.9h0m-.7-.1h0m-.5-.2h0m-.4-.3h0m-.7 1.3h0m-.2 .1h0m-1.8-.6h0m-.6-.5h0m-.4 .4h0m-.1-.6h0m-3-.2h0m-1.8-.5h0m-2.8 .4h0m-.9-.3h0m-1.6 .1h0m3.2 4.6h0m2.1-.2h0m.1-2h0m.6 .7h0m2 .8h0m1.5-.8h0m.3 .4h0m1.5 .8h0m2.9 .3h0m2.9-1.5h0m1.7 .6h0m1.6 1h0m1 .1h0m1.7-.1h0m1.1 0h0m1-.4h0m.3 .3h0m.2-1h0m1.4 1.4h0m5.2-1.1h0m1.3-1.4h0m.2-.4h0m7.5 .6h0m.1 1.9h0m2.1-.8h0m.6-1.6h0m-2.6 5.4h0m-1.5-2.2h0m-.9 2.3h0m-4.7-.5h0m-.9-1.9h0m-.9 2h0m-3.3 .5h0m-.7-1.7h0m-1.1 1.9h0m-1.3 0h0m-1.3-1.8h0m-1.4 1.8h0m-2.6-2.7h0m-1.3 .6h0m-.8 1.3h0m-1.9-.6h0m-2 .7h0m-2.1-.8h0m-2.7-.4h0m-1.3-1h0m-2 2.1h0m-.6 .8h0m-.8-.6h0m-1.7-1.2h0m6.7 2.7h0m.3-.6h0m1.7 .5h0m.6 2.2h0m4.2-.7h0m2.1-.6h0m.4 .7h0m.4 .1h0m4.3-1.6h0m3.2 0h0m.6-.5h0m2.3 2.1h0m3.8-2h0m0 1h0m4 .2h0m-3.1 2.6h0m-1.2-1.1h0m-1.4 2.1h0m-2.5-2.2h0m-2.4 1.8h0m-5.9-1.1h0m-1.3-.6h0m-.1 1.1h0m-3.7 .7h0m-.4 .2h0m-1.2 .2h0m-.6 .1h0m-1.1-2.1h0m6.4 3.7h0m3 .3h0m.2-.1h0m3.6-.8h0" stroke="#4744a8" stroke-width="0.85" stroke-linecap="round" fill="none" opacity="0.85"/>
<path d="M197.9 592.9h0m-9.7 2.1h0m2.1 1.1h0m.2-1.9h0m2.3 1.9h0m2.2 .3h0m2.6-.9h0m0 .1h0m.6 .5h0m3.2-1.5h0m1.3 .4h0m8.4 4.8h0m-.1-1.8h0m-4.2 1.4h0m-3.9 .1h0m-.5 .2h0m-5.9-.5h0m-.4 .2h0m-.6 .2h0m-3.3-.8h0m-9.6 .5h0m-3.5 3h0m1.6 .6h0m.4-1h0m1.2 .1h0m3.6-.1h0m1-.7h0m.2 .5h0m2.8 .4h0m1.2 .7h0m2.4-1.8h0m1.2-.8h0m.1 1.8h0m2.3 .4h0m1.7-.2h0m4.8 .6h0m1.2-2.4h0m5.4 1.9h0m2.4 2h0m-.5 1.6h0m-2.8-.2h0m-2.7-1.5h0m-5.3-.5h0m-5.6 1.6h0m-1.6-1h0m-.1 0h0m-7.3-.7h0m-1.2 1.7h0m-4.1 .5h0m-.7-.3h0m-.7 3.1h0m12.2-2.5h0m.9 .9h0m2.5 .7h0m2.2-1.2h0m.1 1.4h0m5.7 .5h0m.1-2h0m2 1.8h0m9.2-.6h0m1.7-.9h0m3.8 1.5h0m.7-1.4h0m.7 4.9h0m-.3-2h0m-3.8 .8h0m-6 1.4h0m-1.1-2.1h0m-.5-.1h0m-2.9 .2h0m-4.3-.3h0m-5.6 1.1h0m-1.7-1.6h0m0 1.6h0m-1.1 .8h0m-2-2.3h0m-.7 1.7h0m-1.3 .5h0m-.5-2.3h0m0 1h0m-.8 .1h0m-3.3-.3h0m-2.8-.7h0m-.5 2.2h0m-2.4 .4h0m-4.6-1h0m.7 2.2h0m.4 .5h0m.4 .1h0m.8-.8h0m1.2 2.1h0m4.6-2.7h0m4.7 2.8h0m.1-.2h0m.2-.7h0m0-1h0m1.9 .7h0m.6-1.4h0m0 0h0m.1 1.1h0m1.5 .5h0m.6-.4h0m1.1-1.1h0m.8 .5h0m.3 1.1h0m2.6 .9h0m1.4-.2h0m1.7-.3h0m1.1-.1h0m1.3-2h0m1.4 1.6h0m.5 .3h0m8.3 .6h0m2.9-2h0m5.7 .3h0m-.9 3h0m-3.9 1.7h0m-6.5-.8h0m-1.1-1.8h0m-1.1 1.2h0m-1.8 .7h0m-4.1-.9h0m-1.1 .3h0m-1.2 1.4h0m-.2-.8h0m-1.2-1h0m-1.2 1.4h0m-1-2.6h0m-.7 2.4h0m-.4-1.3h0m-2-.9h0m-.4 0h0m-.3 .9h0m-.1 1h0m-1.4-1.5h0m-1.6 1.1h0m-.8-.2h0m-1.8-1.1h0m-6.3 2.4h0m-.2-1.5h0m-5.8 1.3h0m-.3-1.6h0m-.4 1h0m4.3 3.9h0m7-.9h0m1.3-.1h0m1.3-1.1h0m.6-.1h0m2-.4h0m2.7 1.6h0m0 .5h0m.1-.9h0m1.2-.3h0m2.4 1.6h0m1.7-.3h0m.9 .5h0m4-.3h0m.6-.5h0m2.5-1.3h0m1-.5h0m.1 .7h0m2-1h0m4.7 1.9h0m1.1 .4h0m2.7-1.5h0m2.5-.7h0m1.6 1.8h0m.1 0h0m-2.8 2.1h0m-.2-.7h0m-5 1.2h0m-3.4 .5h0m-.7 .8h0m-2.8-1.9h0m-3.5 .6h0m-1.4 0h0m-4.9-.8h0m-1.8 .4h0m-1.2-.2h0m-1.2-.8h0m-1.3 .4h0m-.7-.3h0m-.1 0h0m-.4 1.8h0m-.5-1.4h0m-13.9 .4h0m-.2 .6h0m.5 1.7h0m1.2 1.3h0m6.5 0h0m9.7-.6h0m1.1-.2h0m0-.1h0m2.4 1.4h0m.6-2h0m1.1 2.2h0m.9 .3h0m4.9-.5h0m2.2 .7h0m2-2.6h0m1.4 1.6h0m3.8 1h0m.8-1.1h0m1.1-.2h0m.5 1.1h0m1.8-.6h0m2.5-1h0m-3.5 3.8h0m-1.8-1.8h0m-2.2 2.8h0m-6.6-1.6h0m-5.9-1.2h0m-2.4 1.9h0m-2.3-1.6h0m-4.5-.1h0m-.1 .4h0m-.4 .3h0m-.8 1.6h0m0-2h0m-.6 .1h0m-.4 .3h0m-.9 1.5h0m-1.1-2.3h0m-2.2 .4h0m-6.4 1.8h0m-.5-2.3h0m-2.3 .1h0m2 4.3h0m.1 .8h0m2.3-1.4h0m5.9-.6h0m1.2 1.8h0m1.4-.7h0m1.7 .3h0m2.7-.4h0m6.9 1.1h0m.3-1.5h0m.3-.3h0m2.2-.4h0m1.3 2.3h0m.2-.6h0m9.6-1.6h0m-3.9 3.3h0m-.9 1h0m-5.5-.3h0m-5.4 .2h0m-5.7-.1h0m-3.7-1h0m-2 .9h0m-4.1 .4h0m-.8-.8h0m3 4.7h0m1.2 0h0m2.3-2.3h0m3.1 1.9h0m1.3-.3h0m.5 .8h0m.6 .3h0m5.2-1.5h0m.2-.6h0m3 0h0m4.8 4h0m-2.3-.7h0m-1.8 1.4h0m-.5-2.1h0m-9.6 1.1h0m-1.5-1.6h0m-1.6 .7h0m-.9 1.1h0m1.1 1.4h0" stroke="#3a379e" stroke-width="1.2" stroke-linecap="round" fill="none" opacity="0.94"/>
<path d="M185.9 595.9h0m10.2 .3h0m15.3 .2h0m1.1 2.1h0m-10.9-.1h0m-8.7 .5h0m-13 3.1h0m17.8 0h0m20 3.2h0m-15.4-1h0m-10.6 0h0m-8.6-.9h0m0 3.6h0m6.7 2h0m9.8-.4h0m1 .2h0m4.9-1.5h0m-7.9 3.4h0m-1.7 1.3h0m-5.9 .1h0m-.3-1.1h0m-.7 1.8h0m.4-.5h0m2.9 2.8h0m2.4-1h0m7.4-.4h0m-1 2h0m-.4 .2h0m-.4-.6h0m-14.6 2.6h0m7.7 1.4h0m20.8 1.7h0m-3.7 1.4h0m-9.4 .3h0m-3.4-.5h0m-2.3 .1h0m-1.3 .7h0m-.3-1.2h0m-.3 1h0m-2.3-.4h0m-.6-.5h0m-1.8 1.8h0m-10.7 .1h0m-3.4 .1h0m8.1 1.6h0m14.6-.6h0m6.6-.4h0m.2 .4h0m3.4-.2h0m9.4 3.8h0m-5.9 1.2h0m-2.5-2.5h0m-5.2 .4h0m-4.4 1.7h0m-6.4-.9h0m-6.9-1.3h0m-7.3 4.9h0m2.1-1.7h0m4.9 1.9h0m13-1h0m13.8 1.7h0m-5.2 .6h0m-1 1.6h0m-2.1 .6h0m-14.8-1.5h0m1.7 2.2h0m3.1 .4h0m2.9 1h0m5.2 1.1h0m-1.3 1.6h0m-2.2-.3h0m-.2 .2h0" stroke="#36339a" stroke-width="1.65" stroke-linecap="round" fill="none" opacity="0.94"/>
</g>
<circle cx="253.1" cy="617.9" r="26.4" fill="#d8d9e3" stroke="#a9aac4" stroke-width="0.8"/>
<g filter="url(#soft)">
<path d="M260.6 593.8h0m-4.6-.2h0m-2.3 .4h0m-.5-.5h0m-.8-1h0m-1.7 .7h0m-.1 2.2h0m8.7 .5h0m10.4 3.8h0m-1.2-1.7h0m-.1 1.8h0m-1.2-2.4h0m-6.4 1.5h0m-.3 .8h0m-5.7-2.5h0m-5.1 2h0m-4.7 .6h0m-2.9-2h0m-.5 1.6h0m-7.7 2h0m.3 .2h0m.4 .6h0m3.9-1h0m4.7-.8h0m4.2 1.3h0m1.1 1.1h0m.1-.4h0m4.6 .3h0m1-1.5h0m1.2 .3h0m1.8-.2h0m1.6-1.2h0m2.3 .5h0m1.1 .9h0m.6-.7h0m1.9 .3h0m.7 1.2h0m4.2-.3h0m3.8 .8h0m-1 2.8h0m-1.6-1.1h0m-6 .6h0m-5.3-1.2h0m-2.2-.1h0m-2.5 .9h0m-.6-.3h0m-1.3-.8h0m-.3 .8h0m-.6-.8h0m-.3 .5h0m-.1 1h0m-3-.9h0m-1.2 1h0m-.8-.6h0m-6.2-.5h0m-8.8 1.6h0m1.7 2h0m.1-.1h0m.3-.2h0m1.2-.7h0m2.8-.7h0m4.6 2.1h0m.5-.8h0m.5-.6h0m.4 .4h0m.4-.4h0m.3 1.4h0m.9 .2h0m1.3-1.7h0m.1 1.6h0m1.9 .4h0m1.3-.8h0m1.3 .3h0m.1-.8h0m.3 .6h0m.6 .8h0m2.3-2.7h0m.2 .9h0m.6 1.2h0m.5-1.1h0m.2 1h0m1.8 .3h0m1.6-1.1h0m7.6 .2h0m8.6 .6h0m1.3 2.8h0m-3 .3h0m-1.2 .9h0m-1-1.7h0m-3.6 .7h0m-1.4-1.3h0m-6.4 2.1h0m-2.8-2.2h0m-1.3 .9h0m-.2-.7h0m-.5-.4h0m-.1 .2h0m-1.7 1.5h0m-.3-2h0m0 1.3h0m-.1-.9h0m-.3-.2h0m-.1 1h0m-.1 1.2h0m-1.8-1.7h0m-1 2.2h0m-1.2-.6h0m-.5-1.1h0m0-.9h0m-1.8 1.6h0m-4.1-1.6h0m-10 .8h0m-.6 .5h0m-.3-.4h0m-1.7-1.1h0m-.5 2.1h0m5.7 3.6h0m2.2-.5h0m3.7-1.1h0m0 .4h0m.2 .8h0m.8-2.4h0m2.3 .2h0m3.9 1.4h0m.4 1.1h0m1.5-1.4h0m.7-1.2h0m.8 .8h0m1.9 1.8h0m.9-2.3h0m.3 1.6h0m2-1.2h0m0-.3h0m1.5 1.4h0m.7 .9h0m.8-.1h0m2.1-.2h0m1.6-.1h0m.7-1.4h0m5.6-.3h0m.6 1.9h0m1-.5h0m2.1-.6h0m-2.8 1.9h0m-4.4 .6h0m-3.9 1.3h0m-.2-2.3h0m-3.4 .7h0m-1.8-.7h0m-.4 1h0m-.4-.9h0m-1.3 1.4h0m-.2-.6h0m-.1 .6h0m0-.1h0m-.1 1.4h0m-.4-.6h0m-.2-1.8h0m-.5 1.6h0m-.1 .5h0m-.6 .1h0m-1.8-.5h0m-.5-2.2h0m-.1 2.8h0m-.2-2.6h0m-.3 2.3h0m-1.8 .5h0m-1.5-1.5h0m-1.9-.7h0m-.9 .5h0m-6.6 1.1h0m0-1.9h0m-3 2.1h0m-3.9-2.1h0m-.1 2.4h0m-1 2.9h0m5.9-1.5h0m1.8-1.1h0m1.3 .5h0m1.8-.6h0m.4 .4h0m.1-.4h0m3.4 1.1h0m1.8 .8h0m4.9-1.6h0m1.2-.2h0m.3 .7h0m.8 .3h0m.1-.4h0m.8 1.6h0m.4-1.9h0m.2 .9h0m0-.9h0m1.8 .2h0m1.1 1h0m.5 .4h0m.9-1.4h0m.5 .6h0m6.9-.1h0m4.8 .9h0m1.2 .8h0m2.2-.7h0m2.4-.3h0m.2-.2h0m-1.6 2.3h0m-2.7-.7h0m-.8 2.6h0m-.1-.5h0m-4.3-.6h0m-2.7-1.4h0m-.6 .9h0m-5.5-.3h0m-2.9 1.1h0m-2.3 .4h0m-.2-1h0m-.2-.6h0m-.3 .8h0m0-.2h0m-.4-1.4h0m-1.5 1.8h0m-.4-.6h0m-.8 .5h0m-.2-1.4h0m-.2-.1h0m-1.9 2.2h0m-7.4-1.6h0m-1.6 .5h0m-1.4 .2h0m-8.2 .7h0m.8 1.9h0m.1-.5h0m.3 1.7h0m.9-2h0m4.5 1.7h0m7.9-1.3h0m.3 .1h0m3.5 .8h0m.5 .7h0m.2-1.2h0m1.8 .8h0m.4 .9h0m.9-2.7h0m1.2 1.5h0m1.1 .9h0m.7-2.3h0m1.4 2.4h0m.2-2.7h0m.5 1.8h0m2.6-1.8h0m2.5 1.1h0m7 1.3h0m7.2-1.7h0m-3.4 4.1h0m-6.8 .8h0m-.3-1h0m-3.2-1.5h0m-.2 .3h0m-1.3 2.4h0m-1.9-2.3h0m-2.8 .4h0m0-.5h0m-1 2.5h0m-1.3-2.1h0m-.4 1.1h0m-.3-.4h0m-.1 .5h0m-1-.9h0m-1.2 1h0m-2-1.6h0m-.1 .1h0m-2.5 .7h0m-.3 1h0m-2.4 .6h0m-2.8-1.3h0m-2.3-1h0m.6 4.8h0m.8-2.3h0m1.4 .6h0m.2 .7h0m.1-.9h0m2.2 .7h0m2.5 .4h0m.2 0h0m2.4 .3h0m1.5-1.9h0m2.7 2h0m1.4-1.4h0m0 .9h0m5.1 1.5h0m9-2.1h0m1.5 1h0m.8-1h0m1.1 1.8h0m.7-2.1h0m2.5 .4h0m.1-.6h0m1 0h0m-4.3 4.7h0m-1.9-2h0m-.5 .5h0m-.8 1.1h0m-2.3-1.2h0m-2.2 .6h0m-.5 .1h0m-5.2 1.1h0m-.3-1.4h0m-.5-.5h0m-1.1 1h0m-2.8 .5h0m-1 1h0m-1.2-2.6h0m-3.4 2.6h0m-.5-2.5h0m-.3 1.9h0m-7.8-1.2h0m-.3 1.4h0m-1.3-1.2h0m2.5 2.8h0m3.2-1.1h0m.9 2.4h0m1.8 .1h0m1.8-1.4h0m2.8-.6h0m1.2-.4h0m7.9 0h0m.3 2h0m1.8-1.6h0m1.6 1.2h0m.2-1.3h0m2.6 3.1h0m-5.2 1.6h0m-2-.4h0m-3.1-1.6h0m-.2 .3h0m-.6 1h0m-2.7 1.1h0m-.7-2.5h0m8.2 3.4h0" stroke="#4744a8" stroke-width="0.85" stroke-linecap="round" fill="none" opacity="0.85"/>
<path d="M261.2 593.8h0m-6.6-1.3h0m-1.7 .8h0m-6.6 1.1h0m2.8 2.3h0m1.7-1.6h0m5.2 .7h0m2.6 .1h0m3.5-1.6h0m.1 2.6h0m2.3-1.1h0m2.3 .8h0m.4 .1h0m1.3 1.2h0m-2.4 .7h0m-3.9-1.5h0m-7.8 2.3h0m-1.2-2.2h0m-4.1 2.5h0m-.8-1.4h0m-2.2 1.2h0m-2.5-2.2h0m-4.5 .1h0m-.5 .5h0m-.3 .8h0m-1.7 2.4h0m.9-.2h0m4.7 1.3h0m.7-2h0m9.5 1.7h0m2 .9h0m4.2-1.7h0m.3 1.3h0m1.5-2.1h0m8.8 1.8h0m.7-.3h0m-2.6 3h0m-1.8 1h0m-7.2-1.6h0m-1.1-.4h0m-1.9 .9h0m-.8-.6h0m-3-.9h0m-4.6 1h0m-2 .7h0m-2.7-.2h0m-5.7-.1h0m-3.8 3.6h0m.7-.6h0m.6 .5h0m.8-1.2h0m1.2-.2h0m9 .9h0m.4 .1h0m2.6 .5h0m4.7-1.3h0m.9 .4h0m.3-.5h0m5 .1h0m2 1.8h0m.4 .1h0m.2-1.9h0m1.8 .6h0m11 1.2h0m-.7 1.2h0m-3.1-.5h0m-.2 1.6h0m-7.1 .5h0m-.3-.1h0m-5.5 .4h0m-.6-1.4h0m-.1-.1h0m-3.6 .8h0m-.5 .3h0m-.4-.8h0m-8.1-.4h0m-13.9-.4h0m4 3.4h0m2.9-.2h0m9.2 1.1h0m1-.2h0m2.4-.7h0m2 .6h0m1.7-.4h0m.5-.2h0m1.6 1h0m.4-.3h0m4.3 .4h0m.1-.5h0m8.2-.9h0m1 0h0m.9 .9h0m.8 2.8h0m-3.2-1.5h0m-1.5 1.4h0m-1.2-.8h0m-2.6 .4h0m-.3 1.8h0m-.7-1.8h0m-3.3 1h0m-.1 .8h0m-1.1-1.2h0m-1.5-1.6h0m-.4 2.1h0m-1.8-.7h0m-.8 .2h0m-.4-1.7h0m-.4 .5h0m0 1h0m-.8 .1h0m-.2-.6h0m-.7 .8h0m-.1 .2h0m-.6-1.2h0m-.5-.5h0m-1.6 .5h0m-3.4-.5h0m-5 2.4h0m-6.2-1.2h0m-2.8 .6h0m-.4 .7h0m-.6-.6h0m-.1-.5h0m-1.1 1.5h0m.7 .3h0m1.9-.3h0m3.1 .6h0m1.3 0h0m4.4-.6h0m1.2 2.1h0m1.5 .6h0m0-.8h0m1.9-.6h0m.8-.8h0m2.3-.3h0m4.1 .7h0m1.1-.4h0m.7 .9h0m.8-.6h0m.2 1.4h0m.8-.5h0m0-.2h0m0 1h0m3.8 .1h0m6.3-.6h0m3.7-.7h0m.7-.1h0m3.3 .1h0m4.2 1.6h0m-.1 2.6h0m-3.3-1.7h0m-.4-.7h0m-2.6 1.5h0m-4.2-.5h0m-3.3 0h0m-8.1-.2h0m-1.1 1.3h0m-.2-1.9h0m-3.3 1h0m-8-.8h0m-1.6-.2h0m-7.9 .5h0m-3.6 2.6h0m1.8 1.6h0m2.9-1.2h0m2.6 1.4h0m1.4-.9h0m.6 .9h0m4 .3h0m3.3-1.3h0m1-.2h0m1.4-.9h0m2.6 .5h0m1.4 .7h0m.8 .8h0m1.4-2.2h0m3.2-.1h0m1.2 1h0m.3-.8h0m0 .3h0m.1 1.2h0m6.1-1.1h0m2.1-.2h0m.1 2.1h0m5.3-1h0m-.4 2.4h0m-3.1-.8h0m-5.7 .4h0m-.6 1.8h0m-6-.8h0m-.6 .5h0m-3.6-1.7h0m-.3 2.6h0m-.3-.4h0m-.5-.4h0m-1.9-1.3h0m-.7 .8h0m-7 .6h0m-.5 0h0m-2.8 .8h0m-2.8-1.4h0m-3.7-.6h0m-.4-.3h0m-.3-.1h0m-1.7 0h0m9 4.1h0m4.6-1.5h0m2 1.4h0m5.2-.2h0m2.5-.9h0m2.7 1h0m5.7-1.4h0m6.4 1.6h0m3.2-1.3h0m.3 4.7h0m-.3 .1h0m-2.3 .6h0m-.4-2.3h0m-6.3 .4h0m-9.3-.8h0m-3.6 .2h0m-6 .2h0m-3.2 1.4h0m-1-.5h0m-4 .8h0m11.6 1.5h0m4.1 .8h0m3-.9h0m.2-.5h0m.8 1.2h0m2.6 1.2h0m.3-1.8h0m.2 1h0m.4 .6h0m2.2-1.1h0m2.1 1.7h0m2.9-2.6h0m-4.1 5h0m-1-1.5h0m-4.5 1.5h0m-1.6-1.7h0m-3.2 .5h0m-6.7-1.1h0m-2.1 .3h0m-.8 .6h0m9.2 2.5h0m.6-.3h0" stroke="#3a379e" stroke-width="1.2" stroke-linecap="round" fill="none" opacity="0.94"/>
<path d="M244.8 595.9h0m11.3-1.3h0m1.6 4h0m-3.6-.3h0m-8.5-.5h0m-7.7 4h0m18.1-.3h0m16.1 .5h0m-10.5 1h0m-15.7 2.9h0m-2.7-.7h0m2 .8h0m3.8 1.1h0m3.3 .6h0m1.3-.1h0m.2 .9h0m.7-.5h0m21.1-.8h0m-11.6 2.8h0m-.5 1.2h0m-6.4-1.2h0m-4.8 2h0m-.9-2.5h0m-12 1.2h0m-4.1 .5h0m-4 1.6h0m22.9 .5h0m1.5-.4h0m7.3 .2h0m3.5 1.6h0m-11.4 1.1h0m-3-.1h0m-.7 0h0m-1.5 1.1h0m-1-1.8h0m-5.2 .5h0m-1 2.2h0m-10.7-.9h0m17.3 3.9h0m4.1-.4h0m1.8-1.9h0m3.7 1.7h0m1-2h0m17.7 2.1h0m.3 1.2h0m-6.5 .2h0m-2.2 2h0m-11.6-.1h0m-2.8-1.8h0m-3.8 .1h0m-1.6 .5h0m-14.6 1.8h0m18.1 1.4h0m22.2-.6h0m-8.1 3.7h0m-22.6 .9h0m-8.5 1.5h0m5.9 .2h0m1.7 1h0m16.9-.4h0m4.7-.1h0m-13.5 2.9h0m-7.8 1.2h0m19 1h0m-11.3 2.4h0" stroke="#36339a" stroke-width="1.65" stroke-linecap="round" fill="none" opacity="0.94"/>
</g>
<circle cx="308.3" cy="617.9" r="26.4" fill="#d8d9e3" stroke="#a9aac4" stroke-width="0.8"/>
<g filter="url(#soft)">
<path d="M313.6 593.7h0m-6.1-.9h0m-5.8 .8h0m-4.9 3.2h0m.2-1.6h0m3.6 0h0m3.1-.3h0m3.5 .9h0m1.2 1.1h0m2.2-2.3h0m.4 .4h0m1.2-.6h0m.1 .8h0m.5 .1h0m.2 .5h0m.1-.3h0m2.8-.9h0m2.4 2h0m5.5 1.1h0m-5.7 2h0m-1 .2h0m-7.1-1.1h0m-.5 .4h0m-1.5 .4h0m-.2-2.1h0m-.8-.2h0m-3.1 1.4h0m-6.6-.5h0m0 .2h0m-.4-.7h0m-.6 1.2h0m-1.5 .9h0m-1.4-1.3h0m-.4-.6h0m-2.2 3.4h0m.5 .6h0m3.8 .5h0m.7-2.3h0m.1 1.2h0m.8 1.3h0m.1-2h0m.6 0h0m1.4 .9h0m1.8-.4h0m.1 .3h0m2.1-.7h0m1.5 .6h0m.4 .9h0m.5 .6h0m1.3-1.2h0m2.7 .4h0m1-1.6h0m1-.4h0m.4 2.9h0m2.9 0h0m2.8-2.8h0m.4 .5h0m.6 .7h0m3.7 .9h0m2.6 .3h0m1.1-.3h0m.1-1.3h0m1.6 1.8h0m.5-.4h0m1.6 2.6h0m-.8 .6h0m-.6-.7h0m-.1-1.4h0m-.9 .3h0m-.4 1.7h0m-9.7-2.3h0m-.5 .9h0m-.3-.6h0m-3.1 .9h0m0-.9h0m-1.3-.2h0m-.2 .8h0m-.6-.6h0m-1.5 1.5h0m-4.1 .6h0m-.6-1.7h0m-1.2 0h0m-3.1-.7h0m-2.7 .7h0m-1.6 .1h0m-.1-.4h0m-1.7 1.1h0m-.3-.3h0m-1.3-1h0m0 1.3h0m-.2 1.4h0m-1.4-1.1h0m-.6-.9h0m-.4 1.3h0m-1.5-2h0m-.7-.2h0m-2.6 5.2h0m3.8-2.3h0m1.8 1.9h0m.1 .3h0m.1-.4h0m.4 1.1h0m.3-2.3h0m.6 2.2h0m2.4-.7h0m2.1 .1h0m2.4-.6h0m3-.4h0m1.3-.6h0m1 1h0m0 1.3h0m3.7-2.7h0m.7 1.3h0m1.1-1h0m2.7 .9h0m1.7 0h0m.6-.5h0m.2-.6h0m5.7 2.3h0m1-.8h0m2-1.5h0m6.7 1.3h0m.6 1.4h0m-2.4 .7h0m-.9 .7h0m-3.9 .7h0m-3.4 .5h0m-1-1.7h0m-.2-.6h0m-2.1 .3h0m-.3-.3h0m-.6-.2h0m-.6 1.3h0m-1.5 .9h0m-.4-.7h0m-.3-1.3h0m-.5 2.4h0m-1-.3h0m-.5-.9h0m-.2-.8h0m-1.4-.5h0m-1.2 2.3h0m-4-1.8h0m-1.1 1.1h0m-.1-1.1h0m-.4 1.5h0m-.1 .4h0m-.6-.4h0m-1.8-.6h0m-.3-1.2h0m-.1 1.7h0m-1.4 .7h0m-1.2-.2h0m-.1-2.3h0m-1 1.3h0m-1.1-.2h0m-.8 .2h0m-2.5-1.1h0m-3.6-.3h0m-2.7 1.7h0m-.1 0h0m-.7-1.4h0m-1 .6h0m-.4 4.1h0m.1-1.7h0m1.1 1.3h0m.1-1.5h0m.8 0h0m.6 .9h0m.6-1.2h0m.5 .2h0m3.1 1.5h0m1.4-.2h0m1.8-.4h0m.8 .3h0m1.6-1.3h0m2.2 1.9h0m.6-.9h0m.5 .2h0m1.9 1.1h0m.1-1.5h0m2.3 1.2h0m0-1.2h0m2-.2h0m.2 1.5h0m0-1.2h0m1.7 1.8h0m1.1-1.7h0m.6 .2h0m.2-.6h0m1.2-.5h0m2 2h0m3.5-.4h0m1 .5h0m.7-.9h0m.5 .7h0m.1-1.1h0m.7 .6h0m1.3-.3h0m3.3-.8h0m.9-.3h0m1.1 0h0m3.6 2.5h0m3.3 2.3h0m-1.4-.8h0m-.3-.1h0m-.6-.9h0m-.3 2.8h0m-3.4-.4h0m-1.2-2h0m-.4 2.2h0m-.3-1.6h0m-.8-.1h0m-.8 1.6h0m-3.2-1.1h0m-.7-1.2h0m-1.5 1.6h0m-.3-1.9h0m-1.4 .6h0m-.4-.3h0m-.4 1.2h0m-1.5 1.2h0m-.2-1.1h0m-.2 .6h0m-.3 .6h0m-2.7-2.9h0m-.1 2.6h0m-.1-1.3h0m-.4-.9h0m-.1 0h0m-.4-.1h0m-1.5 1.5h0m-.5 .5h0m-1.4 .3h0m-.2-1.4h0m-2.1-1.1h0m-.9 2.8h0m-.2 0h0m-.5-2.1h0m0 1.2h0m-.3 .1h0m-.1-1h0m-.4-.6h0m-.1 1.6h0m-.9 .2h0m0 .7h0m-2.9-1.3h0m-1 1.2h0m-.4-1.6h0m-.2 .7h0m-.2-1.1h0m-.1-.9h0m-1.1 2.3h0m-1.7-.3h0m-1.4-.9h0m-.7-.8h0m-4.6 1.8h0m-.2 .7h0m-2.8 3.2h0m1.4-2.3h0m1 .6h0m.3 .9h0m1.3-.8h0m3.9-1h0m.9 1.1h0m0 .8h0m1.7-1.3h0m0-.2h0m1.6-.6h0m.8-.1h0m.6 1.5h0m.9-1.2h0m.4 .6h0m1 .2h0m.2-.6h0m.3 1.8h0m.1-.1h0m3.6-1.9h0m1 .5h0m.2-.2h0m0 1.3h0m2-1h0m1.1 .4h0m1.5-1.3h0m2 .5h0m.8 .8h0m.1-1h0m0 .7h0m3.8-.3h0m.7 .1h0m.7 1.9h0m.2-1.6h0m.1-.9h0m.7 1.2h0m.1 .4h0m.9-.6h0m2.3 .5h0m0 .6h0m0-2h0m2.5 1.3h0m1.6 .7h0m.1-1.7h0m.3 2.2h0m.8-1.4h0m1.1-.4h0m1-.8h0m1.6 2.3h0m1.1-.4h0m-.8 1.4h0m-3.1 1.6h0m-3.3-1.4h0m-.3 .4h0m-.6 .2h0m-.4 .7h0m-1.6 .7h0m-.1-1.4h0m0 1h0m-.3-.6h0m-.2-.1h0m-.7 1.3h0m-1.8-1.5h0m-.2 .1h0m-.6-.1h0m-1.1 .8h0m-1-1.3h0m-.6-.4h0m-.2 1.4h0m-.6-.3h0m0-.3h0m-.3 .4h0m-.1-.3h0m-1.3 .5h0m-.1 .3h0m-1.5 .6h0m-.1-.9h0m-.8-1.9h0m-1 2h0m-2-1.7h0m-.6 .2h0m-.1 .5h0m-.7 1.8h0m-1.6-.8h0m-.2-.8h0m-.8 .8h0m-.9 .5h0m-1.5 .2h0m-1.5-1.5h0m0 1.2h0m-1.6-2.1h0m-.4 0h0m-2.5 .2h0m-.8 2.2h0m-2.7-.4h0m-2.7-.7h0m-.1-.1h0m-3.5 1.7h0m.5 .7h0m.5-.9h0m4.7 .2h0m1.7 .9h0m.1-1.1h0m.3 .9h0m.1-.5h0m.5 .2h0m4.8 1.5h0m.1-.3h0m.1 1h0m.3-1.8h0m.5-.8h0m.6 2.2h0m.3-1.5h0m.1-.9h0m.2 .1h0m.7 .1h0m.3 0h0m.8 1.4h0m1.8 0h0m1.6 1.1h0m1.4-2.4h0m.3 .7h0m.7-.8h0m.6 .9h0m.6-.9h0m.1 2.2h0m0-1.5h0m1.1 1.5h0m.8-2.4h0m1.7 .7h0m.6 1.7h0m.3-1.4h0m.7 1.4h0m.4-.9h0m.2-.1h0m3.2 1.3h0m2.8-.2h0m.2-1.7h0m1.6 1.2h0m.7 .1h0m.1 .3h0m.2-2.2h0m.6 .9h0m.8 1.7h0m2-2.9h0m.1 2.5h0m1.3-.9h0m1.2 0h0m2 .3h0m-1.8 3.5h0m-.3 .1h0m-1.2 .4h0m-1.1-.2h0m-1-.7h0m-2.6-.4h0m-.3-1.3h0m-.9 1.4h0m-.6-1h0m-.6 1.9h0m-.6-2.4h0m-2 2.2h0m-.7-1.1h0m-.4 1.4h0m-1.5-.2h0m-1.6 .3h0m-.1-1.8h0m-.6 .6h0m-.3-1.5h0m-.8 1.9h0m-.3-.9h0m-1.5-.1h0m-.4 .1h0m-.5 1h0m-1.1 .3h0m-.2-1h0m-1.8 .1h0m-.6-.9h0m-.2 2.2h0m-.1-1.9h0m-.3 .7h0m-.4 .6h0m-.8 0h0m-.4-1.6h0m-4.1 2h0m-.8-1.6h0m-.3-.7h0m0 2.1h0m-1.5-1.6h0m-2.2 .3h0m-.6 1.5h0m-.1-2.1h0m-1.5 1.3h0m-2.2-.6h0m-1.7 .4h0m-.1 .7h0m-.1-.8h0m-1.7-.6h0m-.3-.4h0m-.7 2.5h0m3.4 2.9h0m0-1.6h0m.3 1.6h0m3.3-.4h0m1.1-2.5h0m.3 1.9h0m.6 .5h0m1.3-1.8h0m0 .1h0m.4 1.7h0m.5-2.1h0m.8 2.2h0m0-1.3h0m.7-.9h0m3.5 .1h0m1.6 .3h0m2.7 2.3h0m2.1-1.4h0m1.5-1h0m.3 .5h0m.7 0h0m2.6 0h0m.9-.6h0m.5 1.7h0m1-1.6h0m2.2-.2h0m.5 1.1h0m.9 1.1h0m3.1-2.3h0m2.1 1.6h0m1.6 .4h0m.3-2.3h0m1.3 3.5h0m-.2 .2h0m-.8 0h0m-1.1 .2h0m-.5 2h0m-4.9 0h0m-2-1h0m-2.3-.9h0m-1.2 .9h0m-2.8 .7h0m-1-1h0m-.7-.4h0m-1.1-1h0m-.7 1.8h0m-1.2 .6h0m-.3-1.2h0m-.3-1.3h0m-.1 1.7h0m-1.8-1.5h0m-.1 2.2h0m-1.1-.5h0m-2-.7h0m-1.9-.2h0m-2.4 .1h0m-.1 .9h0m-2.8-1.9h0m-.1 .3h0m0 2.5h0m-1.3-1.8h0m-.9 .3h0m-1.1 .6h0m-1.4-1.5h0m-.9 .3h0m5.9 4h0m1.2-1.7h0m3.7 0h0m2.3 2.4h0m1.6-1.9h0m3.3 1.3h0m2.3-1.3h0m2.3 1.4h0m.4-1.7h0m.9 1.9h0m1.1-.6h0m2.8-1.4h0m.8 1.8h0m1.4-1.2h0m0 .5h0m3.6 .7h0m.2-.1h0m.2-.8h0m-1.7 1.9h0m-2.8 .4h0m-3.2 2.1h0m-.9 .4h0m-7.5-.4h0m-2.9-1.2h0m-.2-.5h0m-.7-.9h0m-1.9 .9h0m-.2-.3h0m-.4 .5h0m-4.6-.1h0m9.3 2.9h0m.6-.8h0m.7 .4h0m5.4-.5h0" stroke="#4744a8" stroke-width="0.85" stroke-linecap="round" fill="none" opacity="0.85"/>
<path d="M314.6 593.6h0m-5.5-.3h0m-6.8 .1h0m-3.7 2.4h0m6.3-1.5h0m4.8 1.9h0m4.2-1.2h0m1-.3h0m.4 .1h0m2.6 1.6h0m.9 .5h0m3.2 1.1h0m-7.2 1.8h0m-4.9-2.3h0m-8.9 .9h0m-1.7-.4h0m-.7 1h0m-1.3-1.4h0m-4.1 1.8h0m-1 .5h0m-.4 0h0m-2.1 1.2h0m.6 1.8h0m4.4-.5h0m0-2h0m.4-.4h0m4.9 2.7h0m.3-.5h0m.4 .2h0m.8-2.1h0m1.5 1.8h0m1.1 .2h0m4.3-1.9h0m1 .9h0m1.8 0h0m.5-.2h0m3.1 1.8h0m5.4-.6h0m5.2 .7h0m-5 .2h0m-.1 2.2h0m-.6-.9h0m-1.8 1.1h0m-1.6-.9h0m-.5-.1h0m-5.4-.9h0m-.3 .7h0m-1.8 .1h0m-3.5 .2h0m-2.6 1.1h0m-.2-2.3h0m-.2-.3h0m0 1.9h0m-.7-.1h0m-3.9-1.4h0m-3.9 2.3h0m-1.7-.7h0m-6.1 3h0m.8-.5h0m1.5-.1h0m1.3 .4h0m.4-1.1h0m3.8 1.8h0m4.2-1h0m2.2-.2h0m3.3 .3h0m2.3 .7h0m2.7-1.7h0m1 1.9h0m1.5-2.3h0m.5 1.7h0m.8 .2h0m4.4-1.7h0m6.4-.2h0m1.9 2.4h0m.8-1.7h0m.4-.2h0m.7 3.3h0m-.8 1.6h0m-.2-2.6h0m-.1 2.7h0m-2.2-2.9h0m-2.2 2.4h0m-2.5-1.1h0m-.7 1.2h0m-3.6-1.1h0m-.1 1.4h0m-.5-2.6h0m-1.3 1.7h0m-1.3-.8h0m-1.3 .7h0m-.5 .2h0m-2.9-1.9h0m-.8 .7h0m-.8 1.7h0m-.1-2.3h0m-.9 1h0m-.3-.7h0m-.3 0h0m-2.7 1.9h0m-4.6-1.3h0m-1 .9h0m-1.3-.6h0m-.8 .3h0m-1.2 .9h0m0-.8h0m-4.4-1.1h0m-.8 0h0m-.4 5.3h0m2-.7h0m.1-1.8h0m.3 .8h0m3.2 1.6h0m.2-.3h0m.5-1.7h0m1-.4h0m3.1-.4h0m.8 2.7h0m.4-1.9h0m2.6 .9h0m.4-1.1h0m1.4 .9h0m.8-1.5h0m1 2.3h0m.6-.9h0m.6 .3h0m.7 1.2h0m.8-1.7h0m.4-1h0m4.2 2.5h0m.2-1.2h0m2.9-1.3h0m1.1 2.2h0m3.5 .2h0m.2-1.8h0m7.2 .2h0m2.2 .3h0m1.4 .9h0m2.6-.3h0m1.4 2h0m-6.8 .5h0m-.4 .7h0m-2.5 .3h0m-2.6-2.3h0m-.4 .8h0m-5.1-.6h0m-.2 2.1h0m-1.3-1.9h0m-1.9 2.2h0m-2.8-.6h0m-.2-.7h0m-.8 1.3h0m-.1-.7h0m-.2-.7h0m-.5-.6h0m-.1-.2h0m-.4 1.5h0m-.1-1.6h0m-.2 .6h0m-.6 1.3h0m-1.9-2.1h0m-.1-.2h0m-4.6 2.6h0m-1.4-1h0m-1.7 .6h0m-1.4-2.2h0m0 2.8h0m-.3-2.6h0m-4.9 .3h0m-.4-.5h0m-.6 1.8h0m-1.7-.9h0m-1.1 2h0m-2-1.5h0m-.2-.5h0m-.4 1.9h0m-.6 1h0m.8 .7h0m5.1 .3h0m1 .5h0m3.5-1.8h0m1 1.3h0m1.8 .6h0m.4 0h0m1 .3h0m.4-2.3h0m.1 .2h0m.4 .9h0m1.6-1.1h0m.9-.2h0m.2 2.7h0m4-.5h0m.2-.4h0m1.9-.8h0m.4 .6h0m.4 .8h0m1.4-1.7h0m.9 1.3h0m.3-.1h0m.1-.2h0m.6 .9h0m.3-.9h0m.5-.2h0m.3-.1h0m.1 1.2h0m.3-.9h0m2.2-1.1h0m.3-.8h0m1.7 1.6h0m1.6-.5h0m3.2-.6h0m.1 .1h0m3.4 1.4h0m1.8-.2h0m4.7-.8h0m-.5 3.1h0m-2.8-.9h0m-.6 1.9h0m-4.5 .6h0m-2.5 .1h0m-.4-2.3h0m0 2.3h0m-2.9-.7h0m-.6-2h0m-3.6 .3h0m-1.2 1.4h0m-.5-.6h0m-1.4-.5h0m-.1 2.2h0m-2.1-2.9h0m-2.1 1.4h0m-.4-.1h0m-.1-.9h0m-1 1.7h0m-1-1.2h0m-.3 1.2h0m-.5-.7h0m-1.2 1.2h0m-1.5-.4h0m-1.2-1.7h0m0 1.4h0m-.7-1.7h0m-.5-.1h0m-1.4 2.3h0m-.7-.9h0m-2.1 .8h0m-2-1.4h0m-.2 1.3h0m-3.8 .2h0m-.5-2.1h0m-1.5 3.4h0m1.7-.4h0m.2 .9h0m.3 .1h0m.2-1.2h0m3.2 .6h0m1 1.3h0m3.8 .6h0m.1-.4h0m.4-.1h0m.1 .5h0m2.7-1.7h0m1-.1h0m4.8 1.5h0m.2-2h0m.1 1.3h0m0-.6h0m.4 .4h0m.1-.2h0m.5 1h0m.4-2h0m.2 0h0m.7 2.3h0m.1 .2h0m.6-.6h0m.1 .4h0m1-1.9h0m.7 1.1h0m2.8-1.6h0m1.1 1.5h0m2.7-1.4h0m.8-.1h0m.3-.1h0m.6 .5h0m.1 1.7h0m1.9-1.2h0m.3 1h0m.5-2h0m.7 2.2h0m.1-1.9h0m.5 1.6h0m.9-.1h0m1.8-.2h0m1.7-.6h0m2.3 .6h0m1.7 .3h0m1.9-1.8h0m-5.5 3.4h0m-1.5 .7h0m-.5-.6h0m-.2 1.2h0m-.8-1.7h0m-1.1 1.9h0m-2-1h0m-1.5-.6h0m-.3-.3h0m0 2.6h0m-1.9-.3h0m-1.1 0h0m-5.1-1.8h0m-1.1-.5h0m-.5 .4h0m-.2 1.6h0m-.1-1.7h0m-.2 1h0m-1.7 .5h0m-1.5-1.9h0m-1.4 1.1h0m0-.3h0m-.1 0h0m-3.3 .6h0m-.4 1.3h0m-.7-1.9h0m-2.2 1h0m-.3 .4h0m-2-.6h0m-2-.8h0m-3 1.7h0m-.3-.4h0m-.3-1h0m-4 .8h0m1.2 2.8h0m.5-.7h0m1.8 1.3h0m.2-1.1h0m.9 .6h0m2.8 .5h0m3-.3h0m2.2-.8h0m2.9 0h0m7.9 .9h0m1.8-2.2h0m1.7 2h0m.1-1.6h0m.5 1.9h0m1.3-2h0m.1 .4h0m.5 1h0m2.5-.6h0m3.2 1.4h0m.4-1.9h0m3 .8h0m.9 1.1h0m1.6 .3h0m.9-2.3h0m.4 0h0m.4-.3h0m.8 .6h0m.3-.5h0m-4.7 5.4h0m-2.2-2.3h0m-.2 1h0m-.9 1.3h0m-1.1 .3h0m-4.7-2.1h0m-1.5 .3h0m-1 1.4h0m-2.9-.6h0m-.1-1.8h0m-3.3 1.2h0m0 .1h0m-1.1-.1h0m-1.2 1.3h0m-2.6-.9h0m-2.2 1.1h0m-2.3-1.3h0m-3.5-1.5h0m-3.5 2.8h0m0 0h0m-.1-2h0m-1.8-.9h0m2.6 3.2h0m1.3 1.7h0m1.5 .5h0m5-1h0m1.8 .5h0m1.3-.8h0m1.9 .6h0m3.4 1h0m6.8-.1h0m.1-.4h0m.4-.2h0m.4 .8h0m.1-1.4h0m4 1.1h0m1-.3h0m2.6-.4h0m1.2-.6h0m.2-1h0m-12.4 3.3h0m-.9 1.2h0m-6.5 .6h0m-5.8-.3h0m-.9-.4h0m9.2 2.1h0m3.8-.2h0" stroke="#3a379e" stroke-width="1.2" stroke-linecap="round" fill="none" opacity="0.94"/>
<path d="M315.6 595.3h0m6 4.6h0m-9.8-1.9h0m-1.8 .7h0m-.1 .3h0m-.7-1.1h0m-2.6 0h0m-1.2 1.4h0m-7 .5h0m-4.4-1.9h0m-.1 .1h0m1.1 4.9h0m9.6-.5h0m7.5 .2h0m8.7-.4h0m5.8-1.6h0m2.5 3.5h0m-23.4 .3h0m-18.6 3.5h0m9.4 .8h0m.8 .2h0m1.3-1.8h0m1.7 .3h0m1.8-.7h0m2.1 1.6h0m1.9-2.2h0m4.5 2.9h0m8.8-2.7h0m5.9 3h0m-11.1 1.1h0m-.3-.8h0m-19.2-.3h0m-4.1 5.6h0m9.6-1h0m.9 .7h0m2.5-2.5h0m2.4 .7h0m.5 .8h0m2.8-1.1h0m1.6 .2h0m.2 1.2h0m20 .7h0m.4-2.2h0m.2-.2h0m-6.3 5.5h0m-2.1-2h0m-3-.5h0m-3.7 2.4h0m-3.2-.5h0m-5.9 .4h0m-6.7 .4h0m-2.2-1.1h0m-1.9 .8h0m-11.3-.5h0m2.9 1.8h0m10.1 .7h0m2.1 1.3h0m2.5-.7h0m2.2-1.4h0m11-.8h0m.8 1.8h0m.3-1.7h0m1.8 2.8h0m8.7 2.7h0m-5.4-.9h0m-19.3 .8h0m-10.6-.4h0m-1.2-.7h0m-4.8 .1h0m1.4 3.6h0m14.9-2h0m.4 1.7h0m.5-.2h0m1.1 1.3h0m7.2-1.8h0m4.3-.8h0m2.3-.2h0m8.2 2h0m2.1-.2h0m-18 1.9h0m-2.6 .8h0m-1.2 .6h0m-.4-1.2h0m-.1 1h0m-2.1-1.5h0m-2.6 .2h0m-6.7 .8h0m-7.2 3.8h0m2.4-.2h0m20.2 .3h0m9.5 2.8h0m-8-1.9h0m-3.7 .1h0m-13.7 1.1h0m-.3 .7h0m-3.7-.6h0m3.1 1.5h0m4.8 2.7h0m4.1-1.7h0m.2-.3h0m1.7 0h0m1 .4h0m0 .5h0m10.8-1.6h0m6 2.6h0m-12 1.8h0m-5.6-.2h0m6.4 2.9h0" stroke="#36339a" stroke-width="1.65" stroke-linecap="round" fill="none" opacity="0.94"/>
</g>
<line x1="16.3" y1="647.5" x2="163.2" y2="647.5" stroke="#262626" stroke-width="1.2"/>
<text x="90.4" y="658.6" font-size="8.85" text-anchor="middle" stroke="#1c1a1b">inhibitor control</text>
<text font-size="8.9" text-anchor="end" stroke="#1c1a1b" transform="translate(222.3 650.7) rotate(-15.5) skewX(-15)">miR-646 inhibitor</text>
<text font-size="8.9" text-anchor="end" stroke="#1c1a1b" transform="translate(275.7 650.1) rotate(-15.5) skewX(-15)">miR-1200 inhibitor</text>
<text font-size="8.9" text-anchor="end" stroke="#1c1a1b" transform="translate(322.5 651.5) rotate(-15.5) skewX(-15)">miR-646+1200</text>
<text font-size="8.9" text-anchor="end" stroke="#1c1a1b" transform="translate(312.5 664.8) rotate(-15.5) skewX(-15)">inhibitor</text>
<text x="37.7" y="689.2" font-size="9" text-anchor="middle" stroke="#1c1a1b">oligo</text>
<line x1="15" y1="692.6" x2="60.8" y2="692.6" stroke="#262626" stroke-width="1.2"/>
<text x="89.9" y="689.2" font-size="9" text-anchor="middle" stroke="#1c1a1b">vector</text>
<line x1="66.5" y1="692.6" x2="115" y2="692.6" stroke="#262626" stroke-width="1.2"/>
<text x="224.1" y="689.2" font-size="9" text-anchor="middle" stroke="#1c1a1b">circPPFIA2</text>
<line x1="123.5" y1="692.3" x2="321.6" y2="692.3" stroke="#262626" stroke-width="1.2"/>
<circle cx="34.4" cy="720.7" r="26.2" fill="#d8d9e3" stroke="#a9aac4" stroke-width="0.8"/>
<g filter="url(#soft)">
<path d="M34.7 695.4h0m-6.6 2.9h0m1.8 .1h0m7.8-.5h0m6.6 1.5h0m-.3 1.2h0m-2.2 1h0m-4-1.6h0m-.5 0h0m-3.2 1.5h0m-5.2-.4h0m-4.4-.9h0m-4.2-.4h0m-3.5 5h0m2.2-1h0m3.4 .6h0m5.7-1.4h0m.1-.7h0m.7 1.5h0m1-.8h0m.6 .9h0m3.2-.3h0m2.1 1.3h0m3.9-2.7h0m2.2 1.7h0m2.9 .3h0m2.6 .2h0m.8 .4h0m.3-2.5h0m.7 2.5h0m.3-2h0m3 1.9h0m-.5 2.2h0m-.3-.9h0m-.3 1.6h0m-.3-2.3h0m-3.9 .7h0m-3.7 0h0m-2.7 1.9h0m-1.6-2.3h0m-2.9 2h0m-.5 .2h0m-6.6-.3h0m-.1-2.4h0m-.6 .6h0m-4.5 2h0m-2.2-2.6h0m-4.7 .2h0m-3.8 2.6h0m0 1.2h0m4.2-.1h0m0 1.9h0m.3-1.7h0m1.9-.4h0m.5 .3h0m2.6-.4h0m5.3 1.9h0m.5-2h0m4.3 .2h0m3.4-.6h0m16.8 1.8h0m3-1h0m.4 1.3h0m-1.1 1.1h0m-.1 1.5h0m-1.1 .3h0m-.9-.1h0m-2.2 .8h0m-3-1.7h0m-2.9-.4h0m-.8 1.7h0m-1.9-.5h0m-1.2-.8h0m-.6 1.6h0m-5.1-2.3h0m-1.1 .3h0m-1 2.1h0m-.3-1.3h0m-.6 .1h0m-2 .1h0m-1.6 1.1h0m-2.5-1.3h0m-.6 1.3h0m-2-.6h0m-.8-.4h0m-3.6-1.4h0m-3.3 1.6h0m-.1-.3h0m-3.7 .4h0m.2 1.9h0m5.4 0h0m2.1 1.5h0m2.9 .1h0m.2-2.5h0m.6 1h0m1.4-.5h0m.2 1.3h0m2.7 .7h0m.4-.6h0m.2 .4h0m1-1.9h0m.4 1.1h0m.3 .2h0m.2-1.6h0m.9 1.5h0m1.3-.7h0m.7-.7h0m.1-.1h0m.7 .8h0m.5 .3h0m1 0h0m2.9 .7h0m5.3 .3h0m9.2 .5h0m4.1-.2h0m1 2.8h0m-3.4-2h0m-1.9 1.7h0m-.9-1.7h0m-.4 2.1h0m-3.1-.9h0m-4.2-1.1h0m-1 .8h0m-1.4 .3h0m-1.6 .7h0m0 .2h0m-.1-2.2h0m-.3 .6h0m-.5-.6h0m-1.6 1.4h0m-.3 .5h0m-.4 .7h0m-.9-1.5h0m0-.3h0m-1 .1h0m-.8 1.1h0m-.8 .6h0m0-2h0m-.2 2h0m-1.1-1.8h0m-.6 .8h0m-.8-.5h0m-1 .1h0m-.2 .6h0m-1 .4h0m-1-1.5h0m-.7-.8h0m-.1 1.6h0m-.7-.9h0m0 .6h0m0 .8h0m0 0h0m-.8-1.6h0m-.2 1.3h0m-.4-1.5h0m-1.8-.1h0m-.3-.4h0m-1.1 1.5h0m-1.3 1.1h0m-.6-2h0m-.7-.3h0m-.2 2.5h0m-3.5-2.5h0m-1.1 0h0m-.8 .4h0m-2.1 2h0m-2 3.1h0m1.7-.6h0m1.6 .1h0m2.7-1.4h0m1.1-.1h0m4.6 2.1h0m.7-1.5h0m2.3 .4h0m.5-.6h0m.6-.9h0m.9 1.8h0m1.8-2.1h0m.6 1.6h0m1.4 .7h0m.9-2.1h0m1.4-.1h0m.3 2.4h0m.3-.6h0m.1-1.9h0m1.4 .5h0m.8 2.1h0m.2-2.2h0m.8 1.5h0m.1-1.6h0m1.9 .7h0m.4 0h0m1.6 .6h0m.8-1.2h0m1.8 .7h0m.6 1.1h0m.2 .4h0m1-2.7h0m.7 2.9h0m.5-1h0m1.4 .4h0m1.5-1h0m.6 1.3h0m.6-.1h0m0 .5h0m1.4-3h0m.5 .5h0m.2-.5h0m.4 1.7h0m.7-1.2h0m.6 2h0m4.1-1.3h0m1.9 1.2h0m-3 2.3h0m-.1-.9h0m-1.1-.5h0m-.6 .5h0m-2.3 1.1h0m-1.7-.6h0m-.1 1.2h0m-.9 0h0m-.8-1.4h0m-1.4-.2h0m-.2-.8h0m-.9 2.1h0m-1.2 0h0m-.5-.2h0m-.2-.2h0m-1.1-1.6h0m-.1 .8h0m-.8 .3h0m-.5 .3h0m-.1-.8h0m-.2-.6h0m-1.4 .7h0m-.5 .3h0m-1 .2h0m0 1.4h0m-1.5-.1h0m-.8-2.4h0m0 .5h0m-.3 .5h0m-.7-.3h0m-1.2-.5h0m-1.2-.4h0m-.3 1.7h0m-2.4-1.5h0m-.7-.3h0m-2.5 1.2h0m-.1 .7h0m-.6-1.6h0m-1.9 1.3h0m-1.9 .5h0m-2-1.8h0m-1.4 .7h0m-1-1h0m-8.3 1.1h0m8.5 3.6h0m2.1 .1h0m0-.8h0m6.1 1.4h0m5.2-1.8h0m7-.2h0m2.4-.3h0m0 2h0m.9 .4h0m1-1.3h0m1.1 .9h0m1.4-1.4h0m.6 1.8h0m2.7-1.4h0m1 .6h0m.9-.9h0m2.1 1.8h0m1.6 .3h0m1.4-2.2h0m-3.1 4.5h0m-3 .7h0m-11.7-1.5h0m-.2-.6h0m-2 .5h0m-.7 .9h0m0-1.6h0m-1 1.2h0m-2.6-.7h0m0-1h0m-.1 2.1h0m-6-1.6h0m-.1-.3h0m-6.7 .5h0m-1.3 1.8h0m-4.9 .2h0m1.8 .2h0m1.3 2.2h0m4.9 .5h0m.9 .1h0m10.8-.8h0m.8-1.3h0m6.4 1h0m.5 .7h0m.8-2h0m1.6 0h0m1 .3h0m2.1 2.1h0m.9-.4h0m1.5-2.1h0m1.2 1.1h0m4.6 0h0m.3 0h0m.9 .7h0m-4 1.3h0m-2.2 1.3h0m-1.7 .1h0m-2.1-.9h0m-.2 1.8h0m-3.2-2h0m-4.9 2.2h0m-1.5-2h0m-5.1 2h0m-2-.7h0m-3.1-1.9h0m-2.5 1h0m-2.7-.9h0m-1.1 .8h0m-4.7-1.2h0m4.8 3.2h0m2.6 0h0m.5 1.9h0m1.8-1.6h0m9.9-.4h0m.1 .2h0m.5 2.2h0m1.1-2.5h0m5.1 .1h0m.5 2.3h0m2.6-2h0m1.8 .6h0m3.6 .6h0m3.1-.9h0m-3.1 2.5h0m-2 .7h0m-3.4 .6h0m-4.7-.5h0m-.3 0h0m-1.7 .7h0m-.8-.9h0m-1.5 1.8h0m-.9-1.4h0m-3.8-.1h0m-4.3 .8h0m-2.5 .1h0" stroke="#4744a8" stroke-width="0.85" stroke-linecap="round" fill="none" opacity="0.85"/>
<path d="M38.6 695.8h0m-8.7 1.9h0m7.4 1.3h0m1.4-1.1h0m.7 1h0m2.4-1.8h0m6.9 3.1h0m-.2 1.7h0m-1.5-1.3h0m-.6-1.6h0m-.2 2.4h0m-6.5-2.1h0m-.1 .9h0m-2 1.2h0m-2.1-2h0m-3.6 1.5h0m-.4-.1h0m-.2 1.1h0m-12.3-.5h0m1.9 3.3h0m1.5-.2h0m1.9-1.7h0m4.2 .5h0m4.3 .7h0m.6-.6h0m.1-1h0m1 1h0m2.7-.5h0m7.2-.7h0m4.1 2h0m.4-1.1h0m3.3 1.8h0m1.2-.6h0m1.6 1.7h0m-.8 .9h0m-1.8-.1h0m-1.4 .3h0m-4.5 .9h0m-13.7-1.3h0m-1.1 1.3h0m-1.1-1.4h0m-2.9-.9h0m-1.2-.5h0m-.3 2.4h0m-6.3-2.6h0m-.4 1.1h0m-6.5 4.4h0m7.1-2.2h0m1.6 2.2h0m2.1-1.3h0m4.2 .3h0m1.8-.9h0m5.6 .4h0m1 1.8h0m1.8-.6h0m2.2-.9h0m2.3-1h0m.4 .9h0m1.6 .3h0m5.9-.6h0m.1-.8h0m3.3 5.2h0m-1.7-1.5h0m-1.9 .3h0m-6.4 .9h0m-.6 .8h0m-7.8-.1h0m-2.8-2h0m-5.1 .6h0m-4.8-.6h0m-2.5 1.3h0m-7.5-.4h0m-1.9-.3h0m.2 2.1h0m6.8 0h0m.5 .7h0m1.2-.1h0m2.1 .3h0m3.6 .5h0m.7 .7h0m.2-.3h0m.4-.7h0m.7 .8h0m.7-.6h0m1-.2h0m3.5-1.4h0m.1 .5h0m9.7 .7h0m6.2 .9h0m8.2-.6h0m1.6 2h0m-1.2 .2h0m-6.3 .2h0m-.2 .8h0m-4.3-1.6h0m-2 2.6h0m-1.3-1h0m-1.1-1.5h0m-.2 2.2h0m-2.1-1.6h0m-.6 1.9h0m-2.8-2.5h0m-1.9 .9h0m-.1 1.6h0m-1.8-1.9h0m-3 1.4h0m-1-1.7h0m-1.3 2h0m-.2-1.3h0m-.7-.1h0m-1.3 .9h0m-.9-1.2h0m-3.5 1.9h0m-.4-2.2h0m-1.9-.5h0m-4.7 1.7h0m.2 3.8h0m.6-1.1h0m4.4 1.5h0m5.8-2.8h0m.6 1.6h0m4.2-.3h0m.1-.5h0m.1-.6h0m.4 1.4h0m.7-.8h0m1.6 .9h0m1.9-1.9h0m1.1 .3h0m.5 1.7h0m1 .1h0m2.8-.3h0m.1 .6h0m.2-.6h0m1.6 .5h0m.6-1.9h0m.1 1.1h0m3.6 .9h0m1.4-1.7h0m.1 .5h0m.5 1.4h0m.2-.4h0m.5-1.2h0m.6 .1h0m.2 1.6h0m8-2.4h0m2 4h0m0-.3h0m-1.5 .5h0m-1.6-.7h0m-.7 1.5h0m-1.5 .4h0m-.3-.2h0m-1.4-2h0m-.8 0h0m-2.9 1.1h0m-.6-.2h0m-.4 1h0m-.6-2.2h0m-.6 1.4h0m-.4-.7h0m-.9-.2h0m-.1 .8h0m-.1-.6h0m-.8-.2h0m-1.2 1.3h0m-.3-.6h0m-.2-.8h0m-1.8 1h0m-.6 .6h0m-2.8-2h0m-1.2 .6h0m-1-.3h0m-.1 1.9h0m-4.7-2h0m-.7 1.7h0m-.1-1.3h0m-3.7 .5h0m-.3-.5h0m-.3-.3h0m-2.1 1.1h0m-5.7-.9h0m-4 1.4h0m-2.1 .2h0m6.9 3.5h0m3.7-.4h0m2.1-.1h0m2.5 .7h0m5.2-1.2h0m1-.5h0m3.7-.2h0m1.1 0h0m1.6-.5h0m.4 .1h0m3 1.9h0m4.2-1.8h0m2.5-.4h0m1.6-.3h0m2.3 2.8h0m2.6-.6h0m.3 2.3h0m-1.4 .2h0m-1.3-1.3h0m-.6-.4h0m-3.9 1.2h0m-5.8-.2h0m-2-.5h0m-.4-.2h0m-2.2 1.3h0m-.6 .3h0m-3.7-1.5h0m-2.2 2h0m-2.5-2.1h0m-8.7 1.4h0m-.3 .8h0m-2.9-1.3h0m-1.3 1.1h0m4.9 2.3h0m2.2 .5h0m4.3 .2h0m3.3-.2h0m6 .1h0m3.1-.9h0m1.8 .9h0m0 .7h0m1.8-2.1h0m4.5 0h0m1.4 1.8h0m-6.3 .8h0m-2.3 1.3h0m-.1-1.3h0m-6.1 1h0m-1.7-1.3h0m-6.4 0h0m-5.3 .3h0m-1.8 1.8h0m-2.2-.1h0m-2.7-1.4h0m5.1 4.2h0m3.8-1h0m2 .5h0m1.1 1h0m7-1.6h0m4.2 .5h0m2.4 1.1h0m1-1.8h0m1.6-.6h0m1.4 2.6h0m.6-1.8h0m5 1.1h0m-8 1h0m-.3 1h0m-12.7 3.2h0m3.4 .3h0m4.6-.3h0m.5-.3h0" stroke="#3a379e" stroke-width="1.2" stroke-linecap="round" fill="none" opacity="0.94"/>
<path d="M36.7 695.8h0m-5.9 .8h0m9.5 1.9h0m4.6 .7h0m-22.4 1h0m-4.2 2.2h0m10.9 .2h0m4.6 1.3h0m7.4-.5h0m6.7-.4h0m3.3 .4h0m.7 2.7h0m-3.4 .8h0m-4.6-.7h0m-.8 1.5h0m-28.5 3h0m38.6 .4h0m-19.3 .1h0m-1.2 1h0m-10.1 2.4h0m3.2 1h0m3.4 .7h0m23.8-.9h0m-7.6 4.4h0m-.8 .2h0m-.3-.4h0m-2.3-1.2h0m-9.2 1h0m-3.3-2.2h0m-1.5 1.5h0m-14.5-1.1h0m-2.9 5.3h0m14.9-2.3h0m2.5-.5h0m1.3 2h0m4.6 .4h0m1.3-.1h0m6.8-2h0m6.7 2.6h0m3.4-.8h0m6.2 .6h0m-5 3h0m-5.5-2.1h0m-2.7 .2h0m-3.4 .9h0m-5.8-1.2h0m-1.1 1.3h0m-16.1-.7h0m-3.2-1h0m-4.6 5.1h0m.6-1.3h0m25.7 1.4h0m4.7-1.2h0m10.6-1.1h0m4.1 1h0m.1-.7h0m-31.8 3.3h0m-11 4.4h0m23.6 .3h0m9.2-2.3h0m4.3 2.2h0m3.5 1.2h0m-21.4 4h0m14-1h0m4.2-.1h0m-15.8 3.8h0m-13.6-.3h0m8.3 3.5h0" stroke="#36339a" stroke-width="1.65" stroke-linecap="round" fill="none" opacity="0.94"/>
</g>
<circle cx="88.9" cy="720.7" r="26.2" fill="#d8d9e3" stroke="#a9aac4" stroke-width="0.8"/>
<g filter="url(#soft)">
<path d="M88.5 695.8h0m-2.1-.1h0m-9.5 3.2h0m7.2-1.3h0m3.7-.7h0m6.6 1.7h0m1.7-.3h0m.1 .7h0m.1 0h0m3.5-.3h0m.4 0h0m0-.1h0m.3 .4h0m-1.6 1.2h0m-.7 .7h0m-2-.8h0m-1.8-.4h0m-1.4 .9h0m-.2-.9h0m-3.3 1h0m-.7-1.1h0m-11.5-.3h0m-.7 1.8h0m-1.5-1.4h0m-3.7 2.7h0m1.9 1.8h0m.8-1.8h0m0 .8h0m.4-.1h0m2.5 .4h0m.6 1.2h0m4.2-1.1h0m3.7-1.5h0m1.8 .4h0m2 1.1h0m.8-1.3h0m2.2 .2h0m1.9 1.5h0m1.8-1.3h0m5.3 .9h0m.4 1.3h0m7.5 1.1h0m-7.2 .4h0m-2.1 1.1h0m-1.7-1.6h0m-5.4 1.1h0m-4.4-1.6h0m-1.7 .3h0m-2.3 1.5h0m-7.2 0h0m-1 .2h0m-.4 .5h0m-2.4-.6h0m-.6-1.1h0m-2.9-.6h0m-3.1 4.5h0m0-1.1h0m1.4-.8h0m4 .8h0m.6-.1h0m3.1-.2h0m.4 .8h0m.8-.2h0m.4 .7h0m0-1.5h0m1.7-.1h0m.1 1.1h0m3 1.2h0m.2-.9h0m5.3 .4h0m2.3-1.1h0m.1-.4h0m1.8 .1h0m3.4-.6h0m3 2.6h0m2.9 .1h0m.8-1.5h0m.1-.3h0m3.1-1.1h0m.9 0h0m3.5 .8h0m1.2 1.7h0m.3 2.9h0m-5.7 .1h0m-3.8 .4h0m-.8-1.3h0m-2.8 .8h0m-.3-2.1h0m-4.5 .9h0m-.2 1h0m-.3-1.7h0m-1.2 1.6h0m0-1.1h0m-1.2 .7h0m-4.1-1.7h0m-.6 2h0m-.6 .7h0m-4.5-2.5h0m-.1 1.9h0m-1.1 .2h0m-5.5-1.2h0m-.2 1.3h0m-3.4-1h0m-4.6 2.7h0m.3-.6h0m.2 0h0m4.4 1.2h0m4 .1h0m.8-1.6h0m3.3 2.1h0m2.6-.1h0m.9 .6h0m.6-.6h0m.2 .6h0m.8-.2h0m1.1-1.9h0m2.9 1.1h0m.4-.3h0m.8 1.2h0m.7-1.8h0m.3-.1h0m1.5 1.4h0m1-.7h0m1.8-1.4h0m.2 1.5h0m0 .8h0m1.2-.9h0m1.6 .3h0m.5-.7h0m1.8 .4h0m4.7 0h0m1.4-.3h0m6.6-.5h0m.6-.4h0m.6 2.3h0m-.6 .4h0m-.4 .4h0m-2.1 .8h0m-2.8 0h0m-.2-.3h0m-1.1 0h0m-.7 .1h0m-.3-1h0m0 .9h0m-3.2-.5h0m-1.9 .1h0m-.8 .8h0m-.1-.6h0m-1.1 1.3h0m-.5-.4h0m-.2-.2h0m-1.1 .3h0m0-1.3h0m-.4-.2h0m-1.6 1.6h0m-.4-1.8h0m-.2 2.1h0m-1.3 .4h0m-1.8-.8h0m-2.2 1.3h0m-.2-.7h0m-.7 .7h0m-.4-.7h0m-.7-.6h0m-.1-.7h0m-.2 1.3h0m-2.1-.7h0m-.5 .7h0m-1.1 .2h0m-.4-1.9h0m-2-.5h0m-1.5 1.5h0m-.1 1.4h0m-1.3-1.7h0m-1.5 .4h0m-.4 1.1h0m-1.1-2.4h0m-1.2 1.3h0m-.7-1.5h0m-.1 2.5h0m-.2-2.5h0m-.2 2.6h0m-.7-1.3h0m-4.3-1h0m-2.4 4.9h0m.7-1.6h0m.9 1.5h0m1-2.1h0m3.5 .7h0m3.5-.7h0m.7 1.8h0m0 .9h0m1.7-1.9h0m0 1.5h0m1.1 0h0m3-1.6h0m.2 .8h0m1.3-.6h0m.5 .3h0m.8-.6h0m.6-.3h0m3-.4h0m.1 2.7h0m.5-1.8h0m.5 1.2h0m.8-1.4h0m.3 1.7h0m1.2-2.5h0m.5 0h0m.1 .2h0m1.7 2h0m.4-.7h0m1.2-1.3h0m.9-.1h0m0 2h0m1-.2h0m.3-1h0m.5-.3h0m.3 .3h0m.3-.1h0m.1 1.8h0m1.1 .1h0m.9-2.1h0m1.1 2.1h0m.2 .2h0m2-.4h0m1.9-.3h0m.8 .6h0m4.4-1.8h0m.5-.4h0m1.4 1.3h0m1.7 4h0m-2.8-1.6h0m-1.3-.7h0m-8 2h0m-.4-.2h0m-.1-2h0m-.1-.1h0m-.1 .9h0m-.8 1.4h0m0-1.1h0m-.4-.2h0m0-1h0m-.7 .3h0m-.9 .7h0m-.2-.1h0m-.5-.6h0m-.2 1.3h0m-.3-1h0m0 .4h0m-.2 .8h0m-.8-.6h0m-1.8-.6h0m-1.1-.6h0m-.6 1.2h0m-1.9-1.2h0m-2.3 1.7h0m-2.4-1.4h0m-2.2 0h0m-.8 1.3h0m-3.4 0h0m-.4 .4h0m-.6-1.6h0m-4.5 .3h0m-.3 .6h0m-.2-.7h0m-2.6 1.7h0m-2.1 .1h0m-.6-1.9h0m-1.2 .8h0m-2.2 2.7h0m1.1 .9h0m.4-.2h0m4.1 .1h0m.1 .6h0m2.4-1.9h0m2.5 2h0m2.3-1.1h0m.2 .2h0m2.5-.2h0m2.9-1.7h0m1.4 2.7h0m3 .3h0m.4-2.1h0m1.2 1h0m5.1-1.7h0m2.6 .7h0m0 1.9h0m.1-2.7h0m.8 .2h0m1.7 1.5h0m.2-1h0m.2-.1h0m.7 1.3h0m0 .4h0m1.1-1.3h0m1.6 1h0m.9-1.1h0m2.5 1.3h0m1 .3h0m1.3 .3h0m.6-1.2h0m3.3 .9h0m-3.3 2.2h0m-.1 .1h0m-3.3-1.9h0m-2 .4h0m-1.7 .1h0m-.7 2.1h0m-1.3 .4h0m-2.7-.1h0m-.2-2.7h0m-3.9 .1h0m-.8 .4h0m-.9 1.4h0m-.1-1.4h0m-4.1 1.1h0m-2.6-1.7h0m-3.8 1.6h0m-3.4-.1h0m-.7-.1h0m-1.1 .9h0m-3.7 .5h0m-2.2-2.3h0m-.4 .9h0m-.2 .5h0m-1.1 .5h0m-.2 0h0m.4 3.2h0m5.5-1.2h0m3.3 1.2h0m7 .3h0m1-2.5h0m.7 1.1h0m.5-.4h0m.4 1.5h0m.4-2.4h0m.9 .2h0m.2 1.1h0m1.7 .5h0m1.8 0h0m2.2-.8h0m.7-1h0m.4 .4h0m4.8 .1h0m1.1-.2h0m.4 2h0m.3 .2h0m1-2.2h0m1.3 2.2h0m.7-.1h0m1.8-.6h0m.5 2.7h0m-3.2-.2h0m-6 .4h0m-2.7-1.5h0m-4.9 1.2h0m0 .9h0m-3.2-1.4h0m-1.6 .6h0m-.9-.4h0m-4.4 .2h0m-3.5-.3h0m-1.1 1h0m-1.5-.9h0m-2.3 1.4h0m-1.4-.8h0m-.8-.2h0m7 2.1h0m.7 .3h0m1.3 1.5h0m1.8 0h0m1.9-1.3h0m4.8-.6h0m.7 .4h0m1.9-.8h0m1.7 .1h0m.7 1.4h0m.2 .3h0m0-1.2h0m2.6 1h0m3.1 .3h0m3-.8h0m1.2-.7h0m1.5 1.4h0m-1.1 1.2h0m-2.5 0h0m-.9 1.2h0m-.1 1.1h0m-2-.1h0m-3-1.2h0m-.6 .8h0m-.1 .5h0m-1.3-.8h0m-3.8-1.8h0m-5 2.8h0m-1-2.8h0m-3.2-.1h0m-1.4 .6h0m-1-.6h0m3.6 3.4h0m8.3 1.2h0m8.9-1.3h0" stroke="#4744a8" stroke-width="0.85" stroke-linecap="round" fill="none" opacity="0.85"/>
<path d="M77.4 698.9h0m4.6-2.5h0m6.3 1.5h0m2.5-.9h0m4.8-.4h0m3.6 1.5h0m4.3 2.7h0m-3.8 .3h0m-1.4-.8h0m-1.7-.9h0m-6.5 1h0m-1.4-1.1h0m-.5 .2h0m-1.9 .6h0m-7.2 .2h0m-1.4-.6h0m-4.2 4.3h0m.6 .7h0m2.7-1.2h0m.3-.3h0m2.2-.2h0m2.8-1h0m1.4 1.3h0m3.7 .2h0m1.4-.8h0m12.2 1.9h0m.5-.1h0m.6-2.1h0m2.9 .7h0m.2-1h0m.2 2.9h0m4.5 1.9h0m-1.8-.1h0m-4.3-1.7h0m-.7 .1h0m-5.7 2.1h0m-2.6-1.9h0m-2.5 .7h0m-2.7 .1h0m-.3-.6h0m-10.3-.2h0m-5.2 2.1h0m-6.1 2.3h0m2.5 0h0m3.4 .3h0m1.8-1.3h0m4.6-.6h0m4.8 1.8h0m.1 .6h0m.5-1.8h0m2.4 .3h0m.3-.2h0m1.8 2h0m1.1-2.3h0m2.3 1.7h0m1.8-.5h0m15.7 1.5h0m-6.4 .3h0m-1.2 2h0m-.6 .3h0m-2.6-1.4h0m-2.2 .2h0m-4.6 1.2h0m-.2 0h0m-.1-1.6h0m-1.3-.8h0m-4.8-.5h0m-4.7 .5h0m-2.5 1.2h0m-.7-1.3h0m0 2.2h0m-.3-1.5h0m-.8 .4h0m-4.2 .1h0m-.4-1.6h0m-2.7 2.9h0m-4.5-2h0m.4 3.7h0m.3-.7h0m3-.2h0m2 .9h0m2.9 1.1h0m2.4 .3h0m1.5-.8h0m1.1 .7h0m1.8-1h0m1.4-.7h0m1.8 .8h0m.8-1.1h0m1.1 1h0m.3-1.6h0m1.3 1.7h0m2.6-.3h0m1-1.4h0m.9 1.7h0m6.4 .8h0m.4 .2h0m0-3h0m2.9 .9h0m2.2-.2h0m4.4 1.3h0m1.6-.9h0m1.3 1.1h0m2.4 2.8h0m-5.3 .6h0m-2.1-.5h0m-4.9-1.9h0m-3.5 2.4h0m-2.7 .3h0m0-2h0m-.6-.1h0m-.1 2.1h0m-.2-2h0m-1.8 1h0m-.1-.4h0m-.7 1.1h0m-1.8 .1h0m0-.4h0m-.8 .1h0m-.7-2h0m-.1 2h0m-.2 .2h0m-.3-1.7h0m-.7-.9h0m-1.9 3h0m-.6-.4h0m-1.2-.8h0m-.4 .5h0m-.4-.8h0m-2.5-1.1h0m-.2 1.8h0m-.1 0h0m-.6 .2h0m-.2-2.3h0m-1.1 .5h0m-4.7 .6h0m-1.3 1.4h0m-5.8-1.2h0m-1.9 .9h0m-.3 1.9h0m1.6-1.1h0m1.2 2.7h0m8.1-1.9h0m.3 1.5h0m1.6-1.7h0m2.9 1.5h0m0-1.3h0m1.4 1h0m.9-1.6h0m.5 1.3h0m.5 .7h0m.8 .3h0m.9-2.5h0m1.8 1.7h0m.6 .8h0m.2-.7h0m.1 .3h0m1.2-1.5h0m.3-.3h0m.1 .9h0m.2 .4h0m.3 .8h0m.2-.3h0m.3-2.2h0m1.7 2.8h0m1.1-2.5h0m.8 .7h0m1.3 .6h0m.5 .5h0m0-.2h0m.4 .9h0m.9-1h0m.2-1.3h0m.2 2.4h0m1.6-2.1h0m1 1h0m1-1h0m.1 .5h0m.4 .9h0m1.3-.5h0m1.1 1.2h0m1.4 0h0m1.7-2.6h0m1 .2h0m1.2 .2h0m.3 .6h0m2.5 3.6h0m-1.6-.3h0m-2.7 .5h0m-2.2-.9h0m-2.4 .3h0m-5.5-.5h0m-5.4 1.9h0m-.7-1.8h0m-1.8 .6h0m-.3-.5h0m-.7 .2h0m-.8-1h0m-2.2 .5h0m-.4-.7h0m-.4 2h0m-1.7-.7h0m-.2-.7h0m-2.7 1.6h0m-.5 .5h0m0-1.7h0m-1 .9h0m-.1-1.9h0m-1 .2h0m-2 .1h0m0 0h0m-.6 1.3h0m-1.2-1.1h0m-.3-.5h0m-3.6 .5h0m-.7 .8h0m-2-1.5h0m0 3.8h0m2.8 1.6h0m1.8-1.7h0m3.6 0h0m.7-.2h0m2.6 .8h0m.1-1.2h0m3.9 .2h0m5.7 2.3h0m.1-.5h0m1.3 .9h0m.4 0h0m5.7-1.3h0m.2 .7h0m.5-1.1h0m.8 .7h0m2 .1h0m2-.2h0m.8 .1h0m2-.6h0m3.5-.9h0m2.6 1h0m.5-.7h0m.2 1.2h0m-2.2 3.2h0m-2.1-1.5h0m-3 1.6h0m-8.9-1.3h0m-3.6 .5h0m-2.8 1h0m-1.4 .2h0m-9.6-1.5h0m-2.4-.3h0m-.9 1.2h0m-7-.1h0m.5 2.3h0m4.7-.9h0m.9 2h0m4.3-1.4h0m4-.7h0m11.2 2h0m1.4 .4h0m2.7-1.4h0m7.1-.4h0m3.2-.3h0m-1.9 5.1h0m-3.7-.8h0m-.1-.2h0m-1-.4h0m-2.5 .9h0m-2.9 .7h0m-1-2.6h0m-.8 1.8h0m-1-.6h0m-.7-.3h0m-3.5-.2h0m-4-.9h0m-3.8 .2h0m-5.7 1.2h0m-2.7 1.4h0m4 .3h0m.4 1.9h0m.6-.3h0m11 .5h0m2.5-1.5h0m1.3-.3h0m1.9 1.8h0m3.4-.3h0m2.5 .8h0m5.9-1.5h0m-12.3 4.6h0m-5.1 .1h0m-3.7-1.6h0m4.9 2h0m3.7-.2h0m1.1 .8h0m.4-.4h0" stroke="#3a379e" stroke-width="1.2" stroke-linecap="round" fill="none" opacity="0.94"/>
<path d="M98.7 700h0m-10.2 0h0m-9.9 1h0m-2.9 3.8h0m15.5-2.4h0m11 .5h0m1.3 .5h0m-11.9 3.7h0m-10.1 .7h0m-8.3 .1h0m-.7 2.1h0m8.6-.2h0m13.6 .9h0m1.9-2.3h0m9.7 .5h0m1.7 0h0m-1.4 5.1h0m-20.1-1.7h0m-.8 .7h0m-9.3 .1h0m-5.6-.9h0m-.3 .9h0m.6 3.1h0m3.7-.7h0m.2 1.3h0m16.4-1.7h0m16.6 4.5h0m-3.2-2.2h0m-.9 2.1h0m-5.3-2.2h0m-.8 1.5h0m-5.4-1.7h0m-10.6 2.7h0m-4.9-.2h0m1.6 1.7h0m3.3 .2h0m3.1-.7h0m7.4 .4h0m6.7-.4h0m2-.7h0m5.3 .2h0m-7.9 4.5h0m-.3-.8h0m-27.8 1.6h0m-1.2-1.5h0m-2.8 3.5h0m1.5-1.6h0m6.8 2.1h0m5.2-.8h0m.9 .5h0m13.1-1.6h0m2.9 .1h0m5.8 1h0m1.5-1.2h0m3 1.9h0m3.9-1.4h0m-18.7 3.2h0m-8.9 .2h0m-.8 0h0m-14.4 1.4h0m2.5 3.3h0m5.9-1.5h0m6.5-.8h0m11.5 .3h0m6.9 1.4h0m2.6 3h0m-8.7 .7h0m-12.7-.2h0m-9.9-1.9h0m-.9 .8h0m2.7 1.9h0m0 1.9h0m15.6 .4h0m2.8-2.3h0m-2.2 5.2h0m-4.9-.5h0m-5.4-1.9h0m11.6 3.7h0" stroke="#36339a" stroke-width="1.65" stroke-linecap="round" fill="none" opacity="0.94"/>
</g>
<circle cx="143" cy="720.7" r="26.2" fill="#d8d9e3" stroke="#a9aac4" stroke-width="0.8"/>
<g filter="url(#soft)">
<path d="M140.7 695.6h0m-4.8 1.5h0m3 .8h0m0-.4h0m1.4 0h0m0-.8h0m5.4 2.1h0m3.2-1.3h0m4.3 .5h0m.7 1h0m.7 2.5h0m-4.8-.6h0m-.1-1h0m-.3 1.4h0m-1.8-.1h0m-.6-1.3h0m-.4 1h0m-.6-1.6h0m-2.5 .1h0m-.5 1.8h0m-2.7-.9h0m-1.7 .3h0m-1.5 .1h0m-.1-1.5h0m-.9 2h0m-.4 .4h0m-3.5 0h0m-3.3-.4h0m-1.1-.6h0m-.1 1.1h0m-3.4 2.4h0m1.8-.6h0m.6 .8h0m.1-.9h0m1.5 .9h0m3.5 0h0m.3 .3h0m.8 .1h0m1.1-1.7h0m.9-.1h0m2.3 .5h0m2.7 1.4h0m1-2.5h0m.5 1.5h0m.7 .8h0m2.4-1.7h0m.4 .4h0m.4-.5h0m.8 1.6h0m.9-.5h0m2.5 .9h0m.4-2.1h0m.2 .8h0m.1 .5h0m.2 1h0m.9-2.4h0m1 1.2h0m.3 .1h0m.2-1h0m1.3 1.9h0m0-1.8h0m.9 1h0m2.8-.2h0m3.8-.3h0m.3 1h0m-.9 1.8h0m-1.1 .9h0m-1.1-.4h0m-.4-1.6h0m-.2-.1h0m-1.1 .5h0m-1.1-.3h0m-.8 1.9h0m-2.5-1.5h0m-3.5 .4h0m-.1-.2h0m-1.2 .7h0m-2.4 1.3h0m-1.3-1.4h0m-.3 .5h0m-1.5 .3h0m-.2-1.5h0m-2.3-.6h0m-4.1 2.6h0m-1.7 .1h0m-3.2-1.1h0m-1 .4h0m-.5-1.8h0m-3.2 2h0m-.9-.7h0m-.5 3.4h0m.7-2h0m2.6 2.8h0m1.3-2.7h0m.8 1.1h0m.9 1.7h0m.6 0h0m1.6-2.7h0m1.2-.3h0m.1 .5h0m1.9-.4h0m1.7 2h0m1.6-.5h0m.4 .4h0m1.6 0h0m.4 .4h0m1.2 .1h0m0-2.5h0m.4 .3h0m.9 1.4h0m1.1 .2h0m3.1-.5h0m.6 1.4h0m.4 0h0m4.2-2h0m.9 1.5h0m0 .5h0m1.4-2.1h0m.2 .8h0m2.2-.8h0m4.9 1.6h0m.7-1.3h0m-3.5 3.3h0m-5.7 1.3h0m-.2-.3h0m-.2 .5h0m-1.3-1.2h0m-.3 .7h0m-1.2-1h0m-.5 1.5h0m-3.1-.8h0m-.2-.8h0m-1.5 1.8h0m-.8-2.5h0m-1.5 1.3h0m-.1-.2h0m-.3 .9h0m0-.7h0m-.4-.9h0m-1.3 1.5h0m-.5-1.6h0m-.1-.5h0m-1 2h0m-.1 .4h0m-.9-1.8h0m-.6 1.7h0m-.3-.4h0m-.3-.2h0m-.5-1.6h0m-.3 1.7h0m0-.1h0m-.8-.1h0m-1.3-1.2h0m-1.3-.1h0m-.2 1h0m-6.7 .1h0m-3.2 1.2h0m-.9-.5h0m-.5-.1h0m-1.4-1.7h0m-.7 1.8h0m-.3-1.8h0m-1.1 1.3h0m.6 1.5h0m.7 1.6h0m2.6-2h0m.1 2.9h0m2.5 0h0m1.8-1.2h0m2.2 1h0m1.1-2.5h0m.1 1.9h0m1.4-.1h0m1 .1h0m.5-.1h0m2.3-.5h0m.7 .1h0m.1 .7h0m.2-1.2h0m.4 .2h0m2.5 .6h0m.2-1h0m.2 2h0m0-2h0m1.5-.6h0m.2 .2h0m.3 .5h0m1.3-.3h0m.3 .8h0m1.2 .4h0m0 .9h0m.1-.5h0m.3-1h0m.1-.3h0m1.5-1h0m.4 .3h0m.5 .2h0m.3-.2h0m.8 1.8h0m1.5-1h0m.2 0h0m1.3-.1h0m.2 .4h0m1.4 .8h0m.7-.9h0m3.8 .5h0m1.4 0h0m.7-1h0m1 1.8h0m.4-1.3h0m3.2-.4h0m2.7 3.7h0m-.3 1.3h0m-.8-.2h0m-.3-.6h0m-.4 .2h0m-.1-1.2h0m-.9 .8h0m-.6-1.8h0m-.3 2.5h0m-.2-.2h0m-.3 .3h0m-.7-1.9h0m-.7-.4h0m0 .9h0m-.1 1.2h0m-2.5-.3h0m-.4-1.4h0m-.4 .1h0m-.1-.1h0m-.3 .4h0m-3.6 .6h0m-.5 .3h0m-1.2-1.2h0m-.2 1.5h0m-.2-.3h0m-.8-1.1h0m-.5 .6h0m-.2 .2h0m-.5-1.5h0m-.1 .8h0m-.2 .1h0m-1.5-.2h0m-.2 .4h0m-1.9 1.3h0m-.9 .1h0m-.5-2.7h0m-.5 1h0m-.1 1.3h0m-.4-.6h0m-.1-.9h0m-1 .5h0m-1.3 .4h0m-.3-1.3h0m-.1 1h0m-1.1-1.4h0m-.2 .4h0m-.1 2.1h0m-.3-.4h0m-.4 .6h0m-.7-.6h0m-.1-2h0m-.5 1.9h0m-.2-1.8h0m-.1 .2h0m-.8 2.1h0m-.4-2.5h0m-2.3 0h0m-.9 .3h0m-.2 1.1h0m-3.9 .2h0m-1.2-1.7h0m-.6 .7h0m-1.1 .7h0m-.3 .5h0m-.3 0h0m-1 0h0m-1.2 .7h0m-2.4-.3h0m-2.6 .3h0m-.5-.1h0m2.9 .7h0m.5 2.3h0m.4-2.3h0m.7 .5h0m1.1-.6h0m1.6 1.7h0m.8-.5h0m.1-.6h0m.6 1.5h0m2.1 .2h0m1.3-.9h0m.2 .9h0m.9-.7h0m2.8 .1h0m.6 .3h0m1.1-1.7h0m0-.4h0m.4 1.5h0m1.1 0h0m0 .6h0m2.8-2.1h0m.4 .6h0m.2 .5h0m0 .8h0m.3 .6h0m.2-1.7h0m.1 .4h0m.3 1.1h0m.1-2.1h0m0 .1h0m.6 2.6h0m1.4-1.4h0m.3-.9h0m1.4 .7h0m.5 1.5h0m.8-2.1h0m.5 1.8h0m.9-1.1h0m2.5-1.2h0m.2 .5h0m.9 2.2h0m.6-1.1h0m.6 0h0m.1-.7h0m.5 1.7h0m.3-2.4h0m.3 1.6h0m.1 .8h0m.1-2h0m3.2 1h0m.3-1.1h0m.1 1.2h0m.6-.6h0m.3-.5h0m2 .7h0m1.3 .2h0m2.4-.8h0m1.1 .7h0m.6 .3h0m.6-1.5h0m.1 .6h0m.9 .1h0m-4.2 4.7h0m-.2-2h0m-.7-.6h0m-1.5 1.1h0m-.1-.6h0m-.3-.5h0m-.1 2.5h0m-1.2 .2h0m-1-.5h0m-.7-.5h0m-.5 .1h0m-.6-2h0m-1.9 2.4h0m-1.9-.4h0m-1.2 .7h0m-1.2 .1h0m-.1 0h0m-.4 .1h0m-1.5-1.5h0m-.9 .1h0m0 .6h0m-1.8-1.1h0m-.1 1.8h0m0-1.7h0m-.4-.8h0m-1.3 .6h0m-.1 .2h0m-.2 .5h0m0-.9h0m-.2 1.8h0m-.3 0h0m-.6-1.3h0m-.4-.9h0m-.9 .8h0m-1.5-.4h0m-.3-.1h0m-1 .2h0m-.9 0h0m-1.2 0h0m-.3-.5h0m-.2 2.1h0m-.1-.2h0m-.9-1.2h0m-.3 1.8h0m-2.7-1.6h0m-1.5 .9h0m-3.1 .6h0m-.1 .2h0m-1.1-1.5h0m-.1 1.1h0m-.1-.6h0m-2.2-1.2h0m-.3 .2h0m-1.3-.2h0m-1.7 2.8h0m.8 2.1h0m3.7-1.4h0m6.1 .9h0m1-1.3h0m.9-.4h0m0 .6h0m2 1.1h0m0-1.6h0m2 1.4h0m.5-1.4h0m1.3 .3h0m.2 1.5h0m.1-1.1h0m.3-1h0m1.8 0h0m.3 1.4h0m.5 0h0m.2 .5h0m.6-.4h0m.1-1.6h0m.6 .1h0m.8 .1h0m1.4 2.1h0m.3-1.6h0m1.7 .5h0m.6 1.1h0m.3 .3h0m1.5-.1h0m1.9-.4h0m.1 .3h0m1.5-.4h0m1.1-1h0m3.1-.7h0m.3 .6h0m0-.7h0m.8 1.1h0m0 .9h0m1.4-1h0m1-.3h0m.5 1.7h0m4.2-1.3h0m-1.6 4.6h0m-.2-1.9h0m-3 1.4h0m-4-.5h0m-2.6-1.5h0m-.1-.5h0m-.7 1.2h0m-.6-1.2h0m-.4 2.2h0m-1.1-.7h0m-1.3 1.1h0m-2.9-.4h0m-1.5-.6h0m-.6 1h0m0-1.5h0m-.7 .4h0m-.3-.1h0m-.1 .5h0m-1.6-.6h0m-1.1-1.1h0m-1 1.5h0m-.4-1.7h0m-.1 .4h0m-.7 2.2h0m-2.7-1h0m-2.4 .3h0m-.1 .4h0m-.5-1.6h0m-3.9 1.6h0m-1.5-2.1h0m-.4 1.2h0m-.6-.6h0m-.3 1.3h0m-1.4-.7h0m0 .7h0m-.2-.7h0m-.2 .2h0m-.5-.4h0m-1.1 1.6h0m-.3-2.2h0m0 1.2h0m-.6-1.4h0m-1.3 4.3h0m.6-1.3h0m1.7-.3h0m2.2 2.3h0m3.6-.1h0m2.1-.7h0m2.6-1.1h0m1.2 1.4h0m4.1-1.5h0m.2 1.7h0m0-.5h0m.5-1.3h0m.3 2h0m3.5 .1h0m0-.3h0m3.4-1.9h0m.9 .4h0m3 1.4h0m1.2-1.3h0m1.6-.3h0m.6 .2h0m1.2 .1h0m0 .6h0m.9 1.5h0m.1-1.4h0m0 .2h0m.1 1h0m.1 0h0m1.9-1.3h0m3.6 .5h0m.1 .1h0m.3-1.6h0m.3 2.2h0m-.6 1.3h0m-1.6-.5h0m-2.6-.2h0m-.2 2h0m-2.1-.5h0m-.2-1.3h0m-3 2.6h0m-.9-1.1h0m-.7-.5h0m-2-1.1h0m-.8 2.5h0m-3.1-1.3h0m-4.9 0h0m-1.4 0h0m-1.8 1.5h0m-.4-2h0m-.9 .7h0m-2 .2h0m-.9 1h0m-.3-1h0m-1.2-1.1h0m-.1 1.4h0m-5.2 .7h0m-.7-.3h0m-1.3-1.4h0m2 2.5h0m5.8 .1h0m2.4-.4h0m1.1 1h0m.5-.7h0m1.1-.3h0m.6 1.6h0m.8-1.5h0m.6 1.5h0m.2 0h0m0-1.8h0m1.2 .5h0m1.8 1.9h0m.1-.6h0m.4 .9h0m.1-.7h0m0 .6h0m5.2-.8h0m1.2-.4h0m1.4 .8h0m2.3 .3h0m3.2-1.8h0m.4 .5h0m-3.5 2.6h0m-1.1 .6h0m-.1-1.1h0m-.6 2.3h0m-1.8-.9h0m0-1.2h0m-2.5 .8h0m-.2-1h0m-1 .5h0m-2-.7h0m-3.2 2.5h0m-2.4-1.6h0m0 .8h0m-.2-1.6h0m-6.7-.1h0m7.7 4h0m.7-.2h0m1.4 .4h0m0 .4h0m2-.1h0m0-.4h0m.3-.3h0m4.5 .4h0" stroke="#4744a8" stroke-width="0.85" stroke-linecap="round" fill="none" opacity="0.85"/>
<path d="M134.1 697.2h0m1.9 1h0m3.2-1.2h0m.6-1h0m1.1 2.5h0m1.7-1h0m.3-1.4h0m4.7 1.3h0m6.9 .8h0m.8 2h0m-3.6 1.6h0m-2.1-.2h0m-8.4-.5h0m-3.1-.3h0m-2.4 .3h0m-1-2.1h0m-1.9 2.5h0m-.5 0h0m-1 0h0m-.1-1.9h0m-1.8 2h0m-4.9 2.4h0m2.9 .6h0m.2-2h0m.4 2.3h0m1.4 0h0m1.8-.6h0m5.7 .1h0m2.6-1.6h0m4.5 1.6h0m4.3 0h0m.5-1.4h0m.1-.3h0m.4 .7h0m4.2 .5h0m.5-1.8h0m.6 2.5h0m3.7-.5h0m.6 .2h0m.3-.1h0m.2-.7h0m2.7 1h0m.7 .6h0m-2.8 .1h0m-.3 1.3h0m-1.1-.3h0m-1.1 .1h0m-3.7-1.2h0m-1.9 1.9h0m-.8-1.2h0m-.5 1.1h0m-2.3-1.8h0m-1.4 1.6h0m-.7-.2h0m-.5-.6h0m-3.5-.6h0m-1.7 1.5h0m-4.1-1.4h0m-.5 .1h0m-1.8 1.9h0m-3.2-.5h0m-6.7-.4h0m-2.2 2h0m4.4-.3h0m.2 1.7h0m6.6-1.4h0m1.6 1.9h0m.3 .2h0m.3-1.1h0m2.4 1h0m.8 0h0m.4-2.5h0m5.6 .9h0m1.6 1.3h0m2.2-.8h0m3.9 1.2h0m.5-2.6h0m1.5 0h0m0 2.5h0m4.1-.1h0m2.5-1.9h0m2.9 2h0m2.5 .8h0m-1.9 2.3h0m-1.2-.1h0m-.5-.9h0m-1.1-1.4h0m-2.3 .5h0m-.9 1.9h0m-.2-2.5h0m-.9 1.2h0m0 1.2h0m-.5-2.3h0m-.8 1.9h0m-.3-1.6h0m-1.7 .4h0m-.7 .1h0m-1 .2h0m-.4-.6h0m-1.1 1.1h0m-2.3 .8h0m-.3-1h0m-1.5 .4h0m-.2-.9h0m-1.7 .1h0m-4.1 1.5h0m-.4-.4h0m-.5 .3h0m-3-1.9h0m-.7 .2h0m-.7 .8h0m-.4 .2h0m-2.2 .6h0m-3-1.4h0m-1 1.3h0m-.4 0h0m-1.7-.2h0m-8.5 3.6h0m.5-1.8h0m.1-.8h0m1.1 1.7h0m.6 .3h0m7.5-.8h0m.3 .4h0m1.8 .9h0m2.1 .3h0m1.2-1.4h0m1.5 .4h0m3.3-1.2h0m.5 .4h0m2.7-.4h0m.2-.2h0m1.6 1.8h0m.6-1.1h0m1.1-1h0m.1 1h0m1.2-.9h0m.5 1.3h0m0-.3h0m.1-.7h0m3.2 2.2h0m.3 .2h0m.1-2.8h0m.7 .2h0m.2 .3h0m1.3-.6h0m2.1 1h0m.1-.3h0m1.4 .9h0m.4 1h0m1.6-.8h0m3.3 1h0m5.9 1.9h0m-.3 .6h0m-3.7-1.5h0m-4.5-.7h0m-.7 2.4h0m-1-1.5h0m-1.1 .7h0m-1.1-1.3h0m-1.4 1.3h0m-1.8 1.2h0m0-.1h0m-.4-2.3h0m-.7-.2h0m-.3 1.3h0m-.7 .1h0m-.2-1.7h0m-1.1 2.4h0m-.1 .1h0m-.6-1.1h0m-1.1 .7h0m-.1 .8h0m0-1.3h0m-.9-.2h0m-.1 .1h0m-.4 .3h0m-.1 .9h0m-1-1.5h0m-.5 1.2h0m-1.1-1.5h0m-1.8 1.9h0m-1.4-.9h0m-1-1h0m-2.2-.1h0m-.1-.8h0m-.8 1.6h0m-.2 .3h0m-.1-1.5h0m-1.7 .3h0m-3.8-.3h0m-1.3-.5h0m-2.5 .3h0m-1.2 2h0m-1.9-.1h0m-3.6-1.8h0m-1 5.1h0m.8 .3h0m1.2-.2h0m.2 0h0m1.7-.7h0m4.4 .7h0m.7-2.5h0m3.7 1.1h0m.4-1.1h0m.4 2.7h0m.5-1.6h0m1.7-.2h0m1.2 1h0m.8-1.4h0m1.5 1.7h0m0-.5h0m1-1h0m.7 .9h0m.4-.4h0m.1 1h0m.5-2.2h0m.2 1.6h0m.2-1h0m0 .7h0m.3-.2h0m1.1-.7h0m1 1.9h0m.1-.5h0m.3-1.6h0m.1 1.8h0m.4-1.9h0m.2 .1h0m2 1.5h0m2.1 .4h0m1 .4h0m1.1 .2h0m.7-.8h0m.7 .6h0m.4-2h0m.8 2.3h0m.4-.1h0m0-2.4h0m1.3 2.2h0m1-.8h0m.1 .5h0m.5-1.5h0m.2-.6h0m0 1.5h0m.8 .5h0m.2-.5h0m.8-1.6h0m1.8 1.3h0m.8 1.5h0m2.3-.5h0m0-1.7h0m3.2 3.9h0m-.5 .2h0m-3.3 0h0m-.8 .8h0m-.7-.6h0m-1.8-1.3h0m-.1-.2h0m-1.3 2.2h0m-.2-2.7h0m-.3 1h0m-3.7-.8h0m-2.1 2.4h0m-.5-.1h0m-.1-2.4h0m-1.1 1.3h0m-.6 1.6h0m-.7-.6h0m-.2-.1h0m-1-2.1h0m-1.8 1.7h0m-.2 .5h0m-.1-1.6h0m-2 1.8h0m-.2-2.2h0m-.3 1.8h0m-1-.3h0m-.8 .2h0m-.4-.3h0m-2-1.3h0m-.4 .1h0m-.2 1.6h0m-.7-.4h0m-1.1-1.4h0m-1.6 2h0m-4.8 .5h0m-1.1-1.2h0m-1.5 1.1h0m-.8-2.8h0m-1.9 2.9h0m-5.7-2.1h0m.3 2.3h0m.2 1.2h0m3.8 .3h0m2.7-.2h0m5 1.3h0m1.7 .1h0m.1-1.8h0m2 .1h0m2.7 .6h0m2.5-.6h0m.6 .3h0m2.2-1.4h0m.1 1.3h0m.8 1.1h0m.6-2.4h0m1 2.3h0m1.5-1.1h0m1.1 1.7h0m.5-1.6h0m.2 1.5h0m.1-.3h0m1.5-1.2h0m3.8 1.2h0m.2-2.1h0m.2 2.4h0m1.9-.4h0m.2-.8h0m.2-.5h0m2.2-.6h0m2.2 .6h0m.7-1h0m2.9 2h0m3.1-1.8h0m.6-.2h0m-5 4.8h0m-4.5-.5h0m-.5 1.2h0m0-.9h0m-.7 .4h0m-1.8 0h0m-2.2 .2h0m-.2-.4h0m-.4-.5h0m-2.5 .7h0m-.2 .2h0m-8.9-1.5h0m-.2 .8h0m-.5-.8h0m-.3 2.2h0m-.3-2.2h0m-.8 .6h0m-6.9 .5h0m-.5-.2h0m-.2-.7h0m-1.4-.2h0m-1.1 .8h0m-3.3-1.5h0m-.4 .2h0m-1.2-.2h0m-1.6 1.6h0m-.2-1.4h0m-1.8 1h0m2.3 3.7h0m4.3-1.1h0m.1 1h0m.9-.4h0m.1-.2h0m.2 .8h0m.6-1.6h0m.1 .7h0m.8 .1h0m1.9-1.1h0m.4 2.7h0m.8-2h0m.4 .4h0m8.2 .1h0m.2-.6h0m5.5 0h0m.9-.5h0m.2 .2h0m.4 2.1h0m.3-1.8h0m1 1.1h0m3.8-.1h0m1-1.2h0m1.3-.1h0m0 2h0m2.3 .9h0m-.1 1.3h0m-1-.7h0m-.7-.6h0m-1.6-.4h0m-1.1 1.8h0m0-1.7h0m-.8 1.3h0m-.6 .9h0m-2.5-1.2h0m-4.3-.5h0m-3.6-.4h0m-6.2-.1h0m-.8 .5h0m-1.2-.1h0m-1.4-.4h0m-2.8 .8h0m-3.9 0h0m-1.6 .2h0m-.8-.6h0m3 2.8h0m1.9 2.1h0m2.3 .4h0m.6-1.1h0m1.5 .4h0m1.6-.5h0m.1-.5h0m1.4 1h0m.3-2h0m1.4 .6h0m.4 .7h0m6.9 0h0m4.8 .3h0m2.3-.3h0m1.8-.1h0m.5 .8h0m1.9-1h0m1.8 .1h0m-3.4 4.2h0m-1.5 .2h0m-1.3-1.5h0m-4.4 1.6h0m-2.1-.5h0m-.9-1.5h0m-3.9 .5h0m-.3 1h0m-6.3-.9h0m10.7 2.9h0m1.8-.8h0" stroke="#3a379e" stroke-width="1.2" stroke-linecap="round" fill="none" opacity="0.94"/>
<path d="M144.6 695.8h0m-1.3 0h0m-2.7 1.3h0m5.5 1.7h0m8.6-.1h0m3.6 3.1h0m-1.6-2.2h0m-3.3 1.6h0m-4.8-1.4h0m-10.4 0h0m13.3 6.6h0m-5.9 1.1h0m-11.8-1.6h0m-.5 1.8h0m-8.9-.7h0m-2.3 .4h0m.7 1.8h0m10.2-.3h0m9.2 .7h0m6.5 .9h0m.7-1h0m15.8 3.8h0m-4.5 .4h0m-11.9-1.4h0m-1.4-.1h0m-6.7 .6h0m-2.8 1.1h0m-.2-1.5h0m-1.5-.9h0m-6.2 1.7h0m-2.8-1.7h0m-.8 1.5h0m-4.2-1.9h0m3.7 4.2h0m.9 .4h0m6.1 .9h0m1.5-1.1h0m12 .6h0m.3 .9h0m6.5-2h0m10.8 1.4h0m1.7-2h0m-2.5 3.1h0m-5.2 1.3h0m-1.1-.4h0m-.5 .7h0m-.9-1.8h0m-3.2 1h0m-4.9 1.4h0m-3.7-1.7h0m-.3 .2h0m-.3-1.2h0m-4.2 1.9h0m-6.9-1.2h0m-13.8 2.9h0m1.9 2.2h0m4.6-1.9h0m1.6-.4h0m3.1 1h0m20.8-1h0m2 2.5h0m.4-3h0m.2 1.1h0m4.8 .3h0m4.6 .1h0m2.9 1.2h0m-2.4 .9h0m-9.8 2h0m-4-2h0m-.4 2h0m0-.4h0m-3-1.9h0m-2.2 1.6h0m-1.4 .7h0m-1.3 .1h0m-3.1-.1h0m-.1-.9h0m-1.6-.9h0m-3.8 1.1h0m-1-1h0m-2.7-.5h0m8.2 5.5h0m3.9-1.8h0m1.2 1.7h0m5.3-.2h0m2.3-.3h0m3.6-1.4h0m1.3 .9h0m9.9 1.1h0m2.4-2h0m-11.3 3.5h0m-.7 .7h0m-4.5-.9h0m-2.2 .8h0m-3.5-.2h0m-2.3-1h0m-1.8 .4h0m-14.9 1.5h0m-4.7-1.7h0m4.1 3.2h0m34.2-1.2h0m3.2 2.5h0m-1 1.9h0m-8.6 .1h0m-7.3 1.2h0m-8.5-.5h0m-13.6-1.3h0m21.1 3.1h0m14.4 .2h0m-11.5 1.9h0m-6.1 1.7h0m-4.1-1.2h0m-.7 1.7h0m-2.5-1.2h0" stroke="#36339a" stroke-width="1.65" stroke-linecap="round" fill="none" opacity="0.94"/>
</g>
<circle cx="197.3" cy="720.7" r="26.2" fill="#d8d9e3" stroke="#a9aac4" stroke-width="0.8"/>
<g filter="url(#soft)">
<path d="M187.3 698.2h0m1.4 .7h0m6.7-1.5h0m.2-1.3h0m1.7 .4h0m.8 .1h0m1.4 1.3h0m3.5-1h0m.2 1.6h0m9.5 2.7h0m-3.6-.4h0m-.2 1.1h0m-.3-.3h0m-9-.6h0m-4.5-.8h0m-2.6 .9h0m-4.5-1.5h0m-5.9 1.1h0m-.6 2.3h0m.3 1.1h0m.1-2h0m1 1h0m1.8 .2h0m4.3 1.3h0m.3-2.4h0m1 .9h0m2 1.4h0m.5-.3h0m4.4 .6h0m2.3-1.3h0m7.4-.4h0m2.5 1.8h0m0-2.5h0m1.2 1.5h0m.3 .4h0m2.6-2.2h0m1.4 2.9h0m.8-.5h0m-2.6 1.8h0m-.5 1.7h0m-.6-.5h0m-2.4 .3h0m-2.6-.7h0m-1.5-.6h0m-4.9-.4h0m-.1 .6h0m-4.3-1.6h0m-1.4 1.6h0m-4-1.2h0m-4.7-.5h0m-.7 2.4h0m-1.1-1.7h0m-.1 1.6h0m-.1 .4h0m-1.2-.8h0m-2.5-1.6h0m.1 3.9h0m1.4 .9h0m4.8 .2h0m1.6 .7h0m3.3-2h0m1.7 .7h0m3.9 .7h0m1.4-.1h0m2.8-1.4h0m3.1-.8h0m11.4 1.4h0m.5 1.2h0m1.8-2.1h0m2 1.6h0m-6.1 3.4h0m-2.2-.8h0m-3.8-.8h0m-3 .8h0m-.9 1.1h0m-1-1.5h0m-2.3-.1h0m-8.8 1.6h0m-3.1-.6h0m-5.3-.6h0m-5.8 .9h0m-2.4-1.4h0m-.7-.4h0m-1.8 3h0m.7 1.5h0m2.1-1.5h0m.7-.3h0m5.7 1.8h0m2.9-1.6h0m.7 1.2h0m.8 .4h0m8.1 .7h0m1.2-2.3h0m2 0h0m.4 1.7h0m2.5-1.7h0m2.7 .3h0m1.6 1.2h0m3.3-.2h0m2-.6h0m.7-.5h0m0-.5h0m3.6 1.4h0m.2-1.4h0m.2 .8h0m1.1-.5h0m3.7 1.9h0m.7 3.4h0m-.4-2.9h0m-3.1 2.4h0m-2.4-1.9h0m-.1 .7h0m-1 1.2h0m-1.8-.2h0m-.3-1h0m-.7 .3h0m-1.4 .8h0m-.4-1.9h0m-.1 2.1h0m-1-.9h0m-.6 .7h0m-1.3-.4h0m-2.4 .8h0m-.1-.8h0m-.3-1.6h0m-.1 .9h0m-.2-.8h0m-.4-.3h0m-.1 1.9h0m-.8-.2h0m0-1h0m-.1-.5h0m-.5 1.4h0m-.5 .2h0m-.3-.4h0m-.1-.1h0m-.4-.5h0m-1.1 1.3h0m-.1-.9h0m-.5 .4h0m-1.4-1.1h0m-.4 .3h0m-.4 1.9h0m-1.4-.3h0m-.6-1h0m-.2 .2h0m-.5-1.6h0m-.9 1h0m-.3 1.4h0m-.5-.8h0m-.7 1.1h0m-1.7-.5h0m-.1-2.2h0m-1.1 2h0m-1.4-.7h0m-.1 1.2h0m-.2-.3h0m-1.6-.1h0m-.6 .4h0m-1.4 .1h0m-.8-.3h0m0 0h0m-.4-.3h0m-.6-2h0m-.6 1.3h0m-2.4-.5h0m-.1 1.1h0m-1.6-.2h0m-3.7 1.4h0m.4-.2h0m.8 1.5h0m1.7 1h0m2.1 .2h0m.3-1.9h0m.8-.3h0m3 1h0m.2 .7h0m0-1.2h0m1.1-1h0m.5 2.1h0m2.8-2h0m1.8 1.7h0m.1 .3h0m.4 .1h0m1.2-2.3h0m0 1.8h0m.1-1.1h0m.1 .3h0m.4 1h0m.5 .3h0m.3-.2h0m.6-1.1h0m0-.9h0m1 1.4h0m0 .8h0m.5 .2h0m2.6-1.1h0m.3-1.3h0m1.9 1.8h0m0-.6h0m.2-1.1h0m.4 .7h0m1.7-.2h0m.2 1.3h0m.4-1.3h0m.5 .3h0m.4 .6h0m.1-.3h0m.9 .6h0m0-1.3h0m1-.3h0m.4 .4h0m.2-.1h0m1.8 1.5h0m2.5-.6h0m.8-.3h0m.2 .9h0m.3-.9h0m.5-.1h0m.4 0h0m.2-1h0m.3 1h0m2.5-1.1h0m.3 .6h0m2 1.8h0m.7-2h0m.6-.1h0m2.3 .9h0m.5-.4h0m-1.9 3h0m-5.1 .1h0m-2.4-.5h0m-1.4 1.2h0m-.3 .3h0m-2.2-.3h0m-2.4 .7h0m-.7-.5h0m-.6-1.4h0m0 2.3h0m0-1h0m-1.3-.1h0m-2.9-.5h0m-.8-.7h0m-4.9 .9h0m-.1-.4h0m-.6-.7h0m-1.2 .1h0m0 2.6h0m-.7 0h0m-.3-1.5h0m-.2-1h0m-1.9-.2h0m-1.8 .3h0m-.8 1.5h0m-.7-1.7h0m0-.1h0m0 .1h0m-.2 1.6h0m-.9 0h0m-2.3 1h0m-1.4-.4h0m-2-1.2h0m-2.2 2.7h0m2.4-.5h0m4.5 .5h0m1.6 .2h0m.1-1h0m.3 .5h0m.8 .6h0m1.9-.3h0m.9 .1h0m1.1 .8h0m6.5-1.3h0m1.4-.5h0m1.9 1.7h0m13.5-.3h0m.8 1.2h0m.6-.3h0m4.3 0h0m2.3-2.1h0m-4.1 4.1h0m-3.3-.9h0m-4-.5h0m-.5 .9h0m-1.3-.5h0m-1.3 2.5h0m-.5-.2h0m-.3-.3h0m-2 .6h0m-1.1-.2h0m-6.5-2.4h0m-2.7 1h0m-2.2-.8h0m-.1-.4h0m-1.4 2.1h0m0-1.3h0m-4.1 1.9h0m-.6-2.3h0m-3 .1h0m0-.6h0m-.8 2.1h0m-1-.2h0m-5.2-.6h0m8.4 3.8h0m3.8-.2h0m1.4-1.1h0m1.5 1.7h0m4.4-1.5h0m1.2-.9h0m5.9 .1h0m2.8 2.4h0m.7-1.9h0m1.8 1.9h0m1.1-1.4h0m.6 .8h0m1.2-.5h0m1.7 1.1h0m2.5-.2h0m.4-.7h0m0 2.8h0m-.5-.7h0m-2.5-.5h0m-.1 2.4h0m-.2-1.3h0m0-.9h0m-3.1 1.1h0m-3.7-1.2h0m-.7 2.2h0m-3-1.6h0m-6 1.1h0m-.8-1.8h0m-2.2 1h0m-2.3 .9h0m-3.5 .5h0m-.3-1.9h0m-6.7 1.1h0m3.3 3.1h0m1.7 .1h0m2.8-.1h0m2.6-.7h0m.5 1.4h0m.6-.6h0m.7-.8h0m2 1.4h0m2.2-1.9h0m2.6-.3h0m6.1-.4h0m4 .1h0m.7 .3h0m1.6 .4h0m3.9 .6h0m-11.3 2.2h0m-1.9 1.1h0m-2.7 .6h0m-.5-1.6h0m-12.7-.4h0m4.1 2.9h0m15 .6h0m1.1-.4h0" stroke="#4744a8" stroke-width="0.85" stroke-linecap="round" fill="none" opacity="0.85"/>
<path d="M185.8 698.8h0m2-1.5h0m.1 .7h0m9.4-.6h0m.1-.2h0m1 .2h0m3.7-.6h0m1.5-.4h0m.8 0h0m7.4 3.7h0m-3.2-.6h0m-1.7 .2h0m-1.6 2h0m-6.9-.5h0m-4.2-.4h0m-2.1-1.6h0m-2 .9h0m-.5 .7h0m-2 .7h0m-.3-2.3h0m-7.2 3.6h0m2.8-.6h0m4.6 1.2h0m18.6 1h0m.1-2.3h0m6.1 2.1h0m-9.5 1.4h0m-5.5 1.8h0m-2.5-2h0m-1.4 2.6h0m-5.7-2.3h0m-2.7 .2h0m-2.5-.6h0m-1.9 .2h0m-2.9 .1h0m.3 5.4h0m2-2.2h0m.5 1.3h0m2.3 .9h0m2.5-.5h0m10.1 .5h0m.8-2.2h0m9.2-.5h0m.1 .7h0m.1 1.9h0m1-1.4h0m6.9 0h0m5.8 3.9h0m-.1-.4h0m-3.6 0h0m-16.6-.1h0m-.2-1.8h0m-1.1 1h0m-4.9 1.5h0m-1.2-1.4h0m-16.1 1.3h0m.9 2.9h0m2.8 .3h0m1.2-1h0m8.6 .8h0m1.4 .5h0m5-2.6h0m2.9 .2h0m.8 .9h0m3.1-1.2h0m.8 .6h0m.6 1.7h0m1.2-1.9h0m.6 1.2h0m2.4 .1h0m1.5 0h0m2.3-1h0m4.8 1h0m5.2 3.7h0m-4.6-.6h0m-1.4-.5h0m-.3 .4h0m0-1.5h0m-.8 2.2h0m-.8-.8h0m-.9-.4h0m-1.3-.7h0m-.1 1.5h0m-2.5-.5h0m0-1.3h0m-.4 .1h0m-.1 1h0m-.4-1h0m-.2-.5h0m-.5 2.4h0m-.2-.2h0m-.5-1.3h0m-1.5 .4h0m-.7-.2h0m-.2 0h0m-1-.6h0m0-.2h0m-2.4 2.6h0m-.7-1.5h0m-.1 1.3h0m-3.3-1h0m-.4 1h0m-1.5-2.3h0m-2.8 1.3h0m-.6-1.4h0m-.3 2.6h0m-.1-.3h0m-.2-1.2h0m-.2-1.2h0m-.6 0h0m-.4 2.1h0m-1.7-.5h0m-.1-.1h0m-.1-.1h0m-.2 .7h0m-2.1-.5h0m-.3-.3h0m-1.2-.7h0m-3.6-.1h0m-1.9 1.9h0m-3-1.2h0m-.1-.1h0m-1.4 .8h0m1.1 1.2h0m1.1 2.4h0m1-.3h0m1.8-2.1h0m4.3 2.1h0m1.3-2.1h0m.2 .1h0m.8 1.4h0m.3 .8h0m.2 .2h0m1.5-1.4h0m0-1.2h0m.1 2.3h0m1.4-.9h0m.3 .6h0m.5 .5h0m.2-2.6h0m.2 1.6h0m.1-.9h0m.8 1.3h0m1-.5h0m.6 .4h0m.5-.6h0m1.1-.3h0m.8 1.1h0m4.3-1.1h0m2 1.2h0m.1-2.3h0m.2 .4h0m.7 .8h0m2.7 .2h0m1.8-.7h0m.1-.3h0m.4 .6h0m.2 .2h0m.2 .5h0m0-1.7h0m1.4 1.4h0m.2 .8h0m.2-1.6h0m4.8-.6h0m.4 1.4h0m.3-1.2h0m1 2.3h0m0-1h0m1 1.3h0m4.3 .2h0m-1 .4h0m-1 2.3h0m-3.9-2.5h0m-2.7 2.1h0m-2.8-.6h0m-1.1 .9h0m-2.3-2.7h0m-.1 1.6h0m-1-1.6h0m-3.6 .9h0m-.9-.1h0m-.4 1.8h0m-.7-1h0m-2.7-.7h0m-2.1 1.9h0m-.4-2.7h0m-.3 .1h0m-.1 1.1h0m-2-1.3h0m-.5 .4h0m-.9 2.4h0m-3.6-1.8h0m-.3 .9h0m-.9 .8h0m-5.7-2.4h0m-1.8 1.4h0m-3.5-1h0m-1.3 .7h0m3 2.5h0m4.2 .1h0m0 .1h0m2.2 .1h0m2.8 1h0m7.7-1.5h0m.6 1.6h0m4.3-1.3h0m2.2 1.4h0m5.6-1.8h0m2.7 .1h0m3.5-.1h0m.1 .6h0m2.6-1h0m1 1.4h0m2-.9h0m-1.5 5.2h0m-.5-2.1h0m-.4 1.2h0m-.3-1h0m-.7-.5h0m-3.5-.3h0m-1 1.3h0m-4.1 1.4h0m-.2-2.6h0m-.7 .4h0m-11.1 1.6h0m-1.8 .3h0m-.3-1.3h0m-1.5-.1h0m-.3 .1h0m-.2-1.1h0m-2.6 1.9h0m-9.4-1.5h0m-.6 .7h0m-.7-.7h0m2.9 4.7h0m1.1 0h0m1.5-1.2h0m5.3-.9h0m1 .3h0m2.8-.1h0m.6 1.1h0m1.4 0h0m2-.6h0m10.8 2.1h0m7.1-.1h0m1.4-2.3h0m-22 3.7h0m-1.4-.5h0m-6.9 1.3h0m-7.3-2h0m8.7 4.4h0m1.2-.1h0m2.2 1.4h0m8-2.5h0m1.7 1.5h0m3.7-1.4h0m1.4-.2h0m4.5 1.7h0m-2.2 2h0m-3.2 .7h0m-8.1 .9h0m5.4 2.3h0" stroke="#3a379e" stroke-width="1.2" stroke-linecap="round" fill="none" opacity="0.94"/>
<path d="M193.6 695.9h0m-3.4 1.4h0m4.3-1h0m9.5 .5h0m4.3 1.1h0m1.1 1.7h0m-20.2 2.2h0m-4.5-.1h0m0 1.5h0m3.5-.6h0m3.4 1.4h0m1.8-.7h0m13.9 .3h0m4.4-.9h0m4.5 5h0m-5.9-.9h0m-25.6 .1h0m28.5 5.4h0m-16-.5h0m-2.2 .9h0m-6.3 .6h0m-7.5 1.1h0m2.5 2.2h0m17.4-.3h0m7.6-1.7h0m6.5 .2h0m2.2-.6h0m-3.7 4.4h0m-1.3 .5h0m-4.7-1.3h0m-10.1 1.2h0m-.2 .7h0m-5.7-1.2h0m-.8 1h0m-.4-1.3h0m-5.4-1.1h0m-11.4 3h0m13.3 2.3h0m5.9-1.6h0m1.7 1h0m4.9 .3h0m1.4-1.8h0m1.8 1.4h0m2-1.5h0m4.2 1.9h0m13.1-.7h0m-3.3 1.8h0m-14.4 .8h0m-.8-.8h0m-3 .2h0m-4.4 .9h0m-3.7-1.1h0m-5.2 2.1h0m-10.3-.8h0m11.9 4.4h0m8.6-1.8h0m1.5 .4h0m2.9 1.2h0m18.8 0h0m-5.8 1.5h0m-6.7 4.1h0m9-.6h0m-5 4.2h0m-4.3-2.3h0m-1.1-.3h0m-12.3 0h0m6.9 4.1h0m1.3-.4h0m-9.1 4.5h0m-1.7-1.2h0" stroke="#36339a" stroke-width="1.65" stroke-linecap="round" fill="none" opacity="0.94"/>
</g>
<circle cx="251.5" cy="720.7" r="26.2" fill="#d8d9e3" stroke="#a9aac4" stroke-width="0.8"/>
<g filter="url(#soft)">
<path d="M250.5 695.5h0m-.5 1.7h0m2.5 1.4h0m2.8-.2h0m10.2 2.5h0m-.9-.9h0m-4.6 .3h0m-1.9 .5h0m0-1h0m-2.6 2h0m-.8-2h0m-9.6-.2h0m-3.6 .9h0m-1.6 .1h0m-.6-1.2h0m-7.2 5.1h0m4.8-.6h0m1.2-1.1h0m4.2 1.7h0m1.8-.3h0m.1-1.9h0m3.2 1.1h0m2.8 .1h0m.7 1h0m6.1-.7h0m5.3 1h0m4-.6h0m1.9-.6h0m.6 .4h0m2.3 .7h0m-.1 2.1h0m-5.8-.4h0m-.4 .9h0m-1.1 .4h0m-1.7-2.1h0m-8.1 .3h0m-9.9 1.5h0m-4.4-1.8h0m-4.8 .1h0m-1.1 .6h0m-.3-.6h0m-2-.3h0m-2.6 4.6h0m6.1 .3h0m1.8-.8h0m3.4-.8h0m6.1 1.2h0m6.6-.8h0m4.9 .2h0m.1 1h0m12.2-1.2h0m1.3 3.4h0m-.7-.7h0m-.8 1.3h0m-4.1-.2h0m-4 .7h0m-2.9-1.1h0m-2.1 .1h0m-1.2-1.3h0m-3.1 .7h0m-5.2 0h0m-3.8 1.2h0m-.9-.9h0m-1.3 1.6h0m-3.1-.6h0m-7.4-.1h0m-1.8 3.4h0m11.9-2.3h0m.5-.3h0m.9 .9h0m4.3 .9h0m2.8 .8h0m2-2.5h0m5.6 .1h0m5.7 2.3h0m1.5 0h0m.2-1.2h0m6.1 .6h0m6.2 2.9h0m-3.8-.8h0m-.5 1.8h0m-3.3-.3h0m-2.8-1.1h0m-1.2-1.3h0m-2.3 2h0m-.2 .6h0m-1.8-1.8h0m-.3 1.8h0m-4-1.8h0m-.9 .7h0m-.4-.1h0m-2.5 1h0m-1.8-1.2h0m-4-.8h0m-2 .3h0m-.5 1.5h0m-11.8-.1h0m-6.1 2.9h0m5.5-1.4h0m1.2 .6h0m2.3 1.7h0m1.1-2.9h0m3.2 .9h0m.2 1.8h0m2.7-1.4h0m2.3 1h0m3.1-2h0m.6 1.7h0m.8-1.9h0m1.4 2h0m0-1.1h0m1-.9h0m.1 2.7h0m2.9-2.6h0m.1 1.5h0m1.9-1.2h0m1.5 2.4h0m2-2.1h0m2-.3h0m.3 1.3h0m2.3-1h0m10.8-.8h0m-.4 4h0m-.9 1.8h0m-.5-1.8h0m-2.3 .4h0m-1.7-.8h0m-3.2 .5h0m-.1 1.6h0m-2.9-1.4h0m-.6 1h0m-5.5-1.4h0m-1-.2h0m-.9 .5h0m-1.5-.2h0m-.2 0h0m-3.1 .3h0m-2.4-.6h0m-3.8 .4h0m-.8 1.7h0m-.3 0h0m-1.6-1.9h0m-.8 1.9h0m-2.1-1.1h0m-5.5 .6h0m-6 2.9h0m5.5-1.3h0m.4-.2h0m1.2-.2h0m2.4-.1h0m7 1.3h0m3 1.2h0m.9-1.1h0m2.1 .5h0m1.1-.3h0m.4 .6h0m.5-.8h0m.2 .6h0m.8-.3h0m.5-.8h0m3.7-.5h0m.3 1.4h0m.2-.7h0m5.6-1.1h0m4 1.2h0m1.9 1h0m.5-2.5h0m.8 2h0m2.8-1.2h0m.1 1.2h0m1.4 .8h0m-.3 .1h0m-2.9 .8h0m-2.2-.4h0m-2.8 .6h0m-3.7-.7h0m-4.3 2.5h0m-4.6-1.6h0m-4.6 .5h0m-1.1 .5h0m-2.6-1.2h0m-5.7 1.1h0m-1.1-1.5h0m0 .3h0m-5.9 2h0m-2.5-2.5h0m-.2 1.7h0m-1.6-1.6h0m3.3 4.3h0m1.6-.7h0m.6 .3h0m3.8 .2h0m3.3-.1h0m6.5 1h0m1.2-2.5h0m1.3 2.8h0m3.9-1h0m1.3-.6h0m0 0h0m10.7-.6h0m2.5 1.2h0m2.6 1.7h0m-.2-.5h0m-3.5 0h0m-6.2 2.3h0m-5.1-1.4h0m-1.6 .3h0m-5.9 1.4h0m-2.8-1.6h0m-1.1 1.8h0m-.2-.4h0m-.7-1.2h0m-.7-1h0m-.8 .8h0m-1.6 1.4h0m-4-.1h0m-5.6-2.2h0m4.2 3.2h0m.1 .6h0m2.1-.1h0m4.5 .6h0m1.2 .4h0m2.2 0h0m.8-.1h0m.7 .5h0m1.7 .4h0m1-1.9h0m8-.2h0m1.1 .4h0m1 1.4h0m.6-.2h0m1.3-1.3h0m2.2-.5h0m-1.1 3.1h0m-1.1 .9h0m-.5 1h0m-3.9 0h0m-2.5-1.2h0m-7.6 .2h0m-1.6-1h0m-.5 2.4h0m-5-1.3h0m-1.9-1.3h0" stroke="#4744a8" stroke-width="0.85" stroke-linecap="round" fill="none" opacity="0.85"/>
<path d="M247.6 695.9h0m.3 1.2h0m2.9-.1h0m10 .3h0m.5 1.6h0m-11 .2h0m-4.6 2h0m-3.4 .5h0m-.4-1.4h0m-6.8 3.7h0m3.7-1.3h0m.4 1.1h0m0-.2h0m6.4-.8h0m3 1.4h0m15.3 .6h0m7.9 1.6h0m-4.8 .1h0m-2.3 1.4h0m-7.3-.4h0m-7.5-.4h0m-1.6 .8h0m-2.2-2.6h0m-4.9 1.3h0m-1.1 .9h0m-8.4 .3h0m2.6 3.2h0m6.6-2.8h0m1.5 2.2h0m2.7-.3h0m1.1-.5h0m.1-1h0m.5-.4h0m3.3 1.6h0m1.2 .4h0m4.8-2.1h0m17.4 1.4h0m2.3 4.4h0m-2.5-.9h0m-.7-1.1h0m-2.9 2h0m-2.1-2.2h0m-3.1 2.3h0m-2.3-1.1h0m-1.2 .8h0m-10.7-1.6h0m-5.9 1.5h0m-1.4-.2h0m-.6 .4h0m-3.1-1h0m-5.3 .6h0m-3 .4h0m-.2 1.5h0m10.2-.2h0m2.6 1.8h0m1.5-.8h0m8.7-.2h0m.9 .6h0m2.8-1.3h0m2.6 1.6h0m2.6-1.7h0m.4 .7h0m4.5-.3h0m-2.7 4h0m-1.2-1.2h0m-3.8 1.5h0m-1.6-1h0m-2.5-.1h0m-2.7-1.5h0m-.8 .2h0m-2.3 2.1h0m-1.3 .5h0m-.2-.6h0m-7-.8h0m-2.2-.8h0m-.9 .3h0m-2.8 1.5h0m-5.7-1.6h0m6.2 3.1h0m.5 1.1h0m13.5 .3h0m.6-2.1h0m.3 .3h0m2.4 1.2h0m.1-.9h0m1.7 1.1h0m.1-.2h0m5.1 1h0m10.6-.8h0m.8 1h0m2.3 .9h0m-7 1.7h0m-2-2.4h0m-.6 .3h0m-1.5 .9h0m-1.6-.8h0m-.7-.3h0m-.6 .9h0m-2.9 .8h0m-1.4 .8h0m-3.8-2.6h0m-6.8 0h0m-1.3 2.3h0m-3.6-1.4h0m-.7 .5h0m-13.1-1h0m2.9 3h0m1.7 2.3h0m.9-1.4h0m8.7 .4h0m3.2-1.9h0m2.8 1.9h0m5.8-1.7h0m7.7 2.6h0m5.4-.4h0m6-2h0m3 3.6h0m-2.4-.2h0m-.3 .6h0m-1.1 0h0m-.4-.6h0m-2.5-.3h0m-2.5-.1h0m-.4 2.1h0m-1.1-.4h0m-.3 0h0m-1.2 .6h0m-3.1-1.3h0m-.8 .4h0m-.6-.1h0m-7.4-1.5h0m-4 .6h0m-1.3 2.1h0m-1.9-2.1h0m-.7 1.1h0m-10.9 1.1h0m3.7 1.7h0m6.1-1.1h0m1 .2h0m.1-.3h0m3-.1h0m4.1 .9h0m2.5 1.7h0m1.7-1h0m.7-.3h0m3.3-.9h0m4.1 .2h0m9.1 1.9h0m.7-2h0m-3.8 4.4h0m-4.4-1.9h0m-.1-.3h0m-3.6 1.6h0m-4.3 .9h0m-2-2h0m-2.9 .4h0m-5.4 1.3h0m-2.6 .5h0m-7.2-2.4h0m-1.3-.3h0m2.9 3h0m.4 2.5h0m1.3-2.1h0m3.6 1.4h0m2.7-1.3h0m4.7 1.5h0m3 .5h0m3.9-1.2h0m6.2-1.1h0m2.7 .4h0m3.1 0h0m-16.7 3h0m-7.5 .8h0m-2.9 .9h0m1.5 1.2h0m3.7 0h0m.1 .6h0m1.6-.7h0" stroke="#3a379e" stroke-width="1.2" stroke-linecap="round" fill="none" opacity="0.94"/>
<path d="M251.7 701.4h0m-10.9 .2h0m-3.7-.3h0m13.3 .7h0m10 .6h0m11.1 4.5h0m-21.4-1.6h0m-1.5-.2h0m-4.9 2.7h0m-2.8 1.3h0m3.6 3.4h0m-1.3-1.4h0m-1.4 .9h0m13.5 3.9h0m.5-.1h0m.8-2h0m6.5 .2h0m-10.4 4.1h0m-1.2 1.2h0m-21.6-1.3h0m31.6 4.6h0m3.3 .9h0m-7.7 .3h0m-6.6 1.1h0m-3.4 .1h0m-2.3 .5h0m-5 1.6h0m8.5 .7h0m.3-1.1h0m3.8 1.8h0m1.9-1h0m2.9-.2h0m2.5 3.3h0m-.8 1h0m-11.4-.3h0m-.5-2.1h0m-15.5-.1h0m.8 4.7h0m18.4-.2h0m8.6-1.2h0m13.5 1h0m-4.5 2.3h0m-30 4.6h0m8.3-1.6h0m4.4 1h0m6.8 1.1h0m-7 .1h0m4.9 4.3h0" stroke="#36339a" stroke-width="1.65" stroke-linecap="round" fill="none" opacity="0.94"/>
</g>
<circle cx="305.6" cy="720.7" r="26.2" fill="#d8d9e3" stroke="#a9aac4" stroke-width="0.8"/>
<g filter="url(#soft)">
<path d="M302.1 695.7h0m4.5 1.1h0m-5.5 3h0m2 3.6h0m.9 1h0m2-1.8h0m2.4 1.3h0m11.3-1.1h0m-.8 5.1h0m-5.9-1.3h0m-3.9 .8h0m-4.8-1.2h0m-11 1.7h0m-.2-1.7h0m-.6 .4h0m-7 .8h0m-2.5 3.3h0m2.6-.5h0m4.3 .5h0m.7-2.5h0m4.7 .4h0m1.7 .4h0m.5-.6h0m.9 .1h0m1.1-.4h0m2 .4h0m7.5 1h0m4.6-.4h0m1.6 .1h0m.9 .4h0m1.8-.1h0m.5 1h0m4.4-.3h0m2.2 2.7h0m-1 .8h0m-.7-1.1h0m-.5-.1h0m-.4 1.1h0m-4.3-.5h0m-1.6-2h0m-.2 2.6h0m-1.1-1h0m-4.2 1.2h0m-3.7-.9h0m-3.8-.7h0m-2.2-1.1h0m-3.2 1.4h0m-7.6 .8h0m-8.9 1.8h0m.2-.9h0m2.6 1.4h0m9.2 .7h0m2.6-.2h0m.9-1.5h0m1.1 2h0m.9-.5h0m4.5-1.2h0m1.8-.1h0m.8-.7h0m1.9 1.6h0m.8-.8h0m.3-.2h0m2.2 1h0m.2-.1h0m1.3 1.1h0m1-2.1h0m.9 1.9h0m.5-1.7h0m.3 1.5h0m.7-.3h0m.3-1.4h0m1.1-.1h0m.2 1.7h0m0 .1h0m1.1-1.2h0m1.3 .4h0m4.3 0h0m4.5 1.4h0m-1.4 .1h0m-5.8 2.1h0m-2.2 .6h0m-2.3-1.8h0m-2.1 1.8h0m-.1-1.5h0m-.5-1h0m-1.8 .1h0m-1.3 .9h0m-.1-.4h0m-.2 2.1h0m-.6-1h0m-.7-1.4h0m-.1 .6h0m-1.1-1h0m-3.7 .8h0m-6.1 .4h0m-.1 0h0m-.1 1.1h0m-.7-.8h0m-.2 .4h0m-.4 .2h0m-.4 .3h0m-.6-1.5h0m-.2 .3h0m-.1 1.4h0m0 .1h0m-3-.8h0m-2.5-1.9h0m-.7 1.5h0m-2.2-1.6h0m-4.1 1.8h0m-1.6 0h0m-1.6 2.1h0m6.8 1.5h0m1.7-.6h0m2.8-.7h0m1.7 1.5h0m.1-1.1h0m0 .4h0m1.8-1.6h0m.1 1.5h0m.6-.6h0m.4 0h0m1.1 .1h0m.4 .6h0m1-1.2h0m2.2 .4h0m4.7-.4h0m.4-.2h0m3.4 1.6h0m1.5-.3h0m1.6 0h0m1.4-.3h0m.5 .7h0m1 .6h0m2.9-2.1h0m1.5-.4h0m0 2.4h0m.7-1.9h0m7 1.4h0m-.8 1.6h0m-1 1.5h0m-8.4-.8h0m-.9-1.6h0m-1.8 1.1h0m-.5 1h0m-2-1.1h0m-.4 1.5h0m-1.7-1.3h0m-9.3 .6h0m-.5 1.1h0m-.2-.9h0m0-.4h0m-.1-.3h0m-1.3-1.3h0m-.4 .5h0m0 1.5h0m-.3-.9h0m-1.7-.8h0m-1.9 1.4h0m-.1 .7h0m-1.9-1.3h0m-4.7-.4h0m-3.9 1.3h0m3.6 2.6h0m2.8-1.1h0m6.6 .5h0m1.7-1h0m8.2 2.5h0m.9-.4h0m6.5-.7h0m4.5 .2h0m5.9 .6h0m5.5-2.2h0m-8 3.4h0m-14.9 .9h0m-3.2 1.3h0m-.5-2.6h0m-11.9 1h0m-4.2 0h0m-2.1 2.9h0m2.9 1.8h0m2.7-2.5h0m.7-.2h0m9 2.7h0m4.8 0h0m1.9-2.3h0m7.5 1.5h0m2.9-.8h0m-1.1 2.6h0m-.2 1h0m-1.9-1.6h0m-21 5.2h0m5.3 .3h0m13.6-.3h0m6.8 1h0m-13.8 2h0m-.2-1.6h0m-1.5 2.2h0m-5.9-2.5h0m-5.7-.4h0m19 3.1h0" stroke="#4744a8" stroke-width="0.85" stroke-linecap="round" fill="none" opacity="0.85"/>
<path d="M296.3 697.5h0m.3-.2h0m-4.5 4.3h0m4.4 1h0m1.5 1h0m1.6-.9h0m9.9-.1h0m9.8 2.4h0m1.8 2.1h0m-7.5-1.8h0m-4.8 1h0m-4.4 1.3h0m-8.1-2.1h0m-.5 .7h0m-.4 1.3h0m-3-2.2h0m-6.4 1.3h0m8.3 3.5h0m15.1-2.1h0m9.5 2.7h0m0-.7h0m6-.7h0m1 1.9h0m-7.4 .8h0m-.3 .7h0m-.6-1.4h0m-.3 2.5h0m-7.7-.2h0m0-.1h0m-8.2-.5h0m-2-1.8h0m-4.1 1.9h0m-1.4 .4h0m-12.6 1h0m9.1 2.5h0m8.4-1.5h0m.1 1.1h0m6.1-2.1h0m5.1 2h0m.8 .1h0m1.1-.3h0m.5 .3h0m.6-1.6h0m.2-.2h0m.3 1.1h0m1.7 .9h0m2.3-1.2h0m.9 .7h0m.1-.9h0m.3 1.4h0m.1-2.2h0m.5 1.4h0m7.6 .9h0m-8.6 1.5h0m-4 .4h0m-.7-1.3h0m-2.7-.2h0m-1.2-.2h0m-1.6 1.5h0m-3.2-.3h0m-2.9-.5h0m-.7-.6h0m-1.4 .4h0m-.1-.3h0m-2.4 .3h0m-.5 .9h0m-.4-.5h0m-1.3 .7h0m-.8-.8h0m-.3 2.1h0m-.8-.1h0m0-2.4h0m-1 2.1h0m-4.3-.1h0m.3 1.2h0m3.8-.3h0m1.2 2h0m0-.9h0m.6 .9h0m1.5 .3h0m.2-1.5h0m.2-.4h0m.8 1.7h0m.2-1h0m.5 .6h0m1.8-.8h0m.5-1h0m.4 0h0m0 .7h0m5.3 .3h0m2.3 .5h0m3.7-.3h0m0 .5h0m.8-1h0m1.4-.1h0m0 1.6h0m.5-1.5h0m.1 .5h0m1.3-1h0m3.5 1.3h0m1.2-.7h0m7.3-.7h0m.9 1h0m-6.2 3.6h0m-7.5-1.7h0m-3.9 1.8h0m-11 .9h0m0-.8h0m-1 .5h0m-.8-1.7h0m-.9-.9h0m-2.9 .9h0m-1.1 1.3h0m-.4 .3h0m-5.4-1.3h0m-5.2 .1h0m5.3 3.3h0m8.5-.4h0m.7 .3h0m1-.2h0m0 .4h0m1.6-.6h0m15.9 .9h0m6.9 0h0m7.6-1.8h0m-2.7 3.7h0m-.7 .2h0m-12.5 1h0m-12.2-2.1h0m-1.9 2.7h0m-13.2-1.8h0m-1 .3h0m-1.8 2h0m10.9 1.6h0m3.5-1.7h0m.1 .6h0m1.1 0h0m.2-.5h0m3.1 2.4h0m14.6-2.6h0m3.7-.1h0m-22.2 5.7h0m-5.8-.7h0m3 1.3h0m4.3 2.7h0m7.2-2.8h0m-6 5.1h0" stroke="#3a379e" stroke-width="1.2" stroke-linecap="round" fill="none" opacity="0.94"/>
<path d="M307.3 697.4h0m-17.8 5.7h0m14.4 .6h0m-15.3 3.7h0m21.1 2.9h0m5 2.8h0m-6.3-1h0m-13.3-.9h0m-2.3 2.5h0m3.1 2.6h0m20-2.2h0m10.8 .1h0m-14.5 4.7h0m-9.8 .1h0m-1.2-.9h0m-2.5 1.1h0m-15.6 .3h0m-1.3-1.3h0m.8 2.7h0m13.1-.8h0m13.1 .9h0m1.1-.7h0m4.5 1.8h0m3.4-.7h0m-4.9 3.3h0m-16 .9h0m.2 1.3h0m22.8 1.6h0m3.7-2.4h0m-12.3 5.4h0m-1.5-1.6h0m-13 .2h0m-11 4.3h0m24.5 .2h0m9.7-1.6h0m.6 1.4h0m-11.6 .6h0m-10.2 2.1h0m5.2 2.9h0" stroke="#36339a" stroke-width="1.65" stroke-linecap="round" fill="none" opacity="0.94"/>
</g>
<line x1="16.3" y1="751.1" x2="162" y2="751.1" stroke="#262626" stroke-width="1.2"/>
<text x="89.9" y="761.8" font-size="8.85" text-anchor="middle" stroke="#1c1a1b">mimic control</text>
<text font-size="8.9" text-anchor="end" stroke="#1c1a1b" transform="translate(213.7 753.1) rotate(-15.5) skewX(-15)">miR-646</text>
<text font-size="8.9" text-anchor="end" stroke="#1c1a1b" transform="translate(265.9 753.7) rotate(-15.5) skewX(-15)">miR-1200</text>
<text font-size="8.9" text-anchor="end" stroke="#1c1a1b" transform="translate(327.3 750.4) rotate(-15.5) skewX(-15)">miR-646+1200</text>
<text x="352.3" y="570.8" font-size="19.5" stroke="#1c1a1b">L</text>
<line x1="421.8" y1="594.4" x2="421.8" y2="690.7" stroke="#000" stroke-width="1.9"/>
<line x1="420.9" y1="689.8" x2="516.4" y2="689.8" stroke="#000" stroke-width="1.8"/>
<line x1="416.8" y1="689.8" x2="421.8" y2="689.8" stroke="#000" stroke-width="1.6"/>
<text x="416.4" y="692" font-size="6.2" text-anchor="end" stroke="#1c1a1b">0</text>
<line x1="416.8" y1="666.15" x2="421.8" y2="666.15" stroke="#000" stroke-width="1.6"/>
<text x="416.4" y="668.35" font-size="6.2" text-anchor="end" stroke="#1c1a1b">200</text>
<line x1="416.8" y1="642.5" x2="421.8" y2="642.5" stroke="#000" stroke-width="1.6"/>
<text x="416.4" y="644.7" font-size="6.2" text-anchor="end" stroke="#1c1a1b">400</text>
<line x1="416.8" y1="618.85" x2="421.8" y2="618.85" stroke="#000" stroke-width="1.6"/>
<text x="416.4" y="621.05" font-size="6.2" text-anchor="end" stroke="#1c1a1b">600</text>
<line x1="416.8" y1="595.2" x2="421.8" y2="595.2" stroke="#000" stroke-width="1.6"/>
<text x="416.4" y="597.4" font-size="6.2" text-anchor="end" stroke="#1c1a1b">800</text>
<rect x="426.3" y="627.3" width="10" height="62.5" fill="#9a9ca3"/>
<line x1="431.3" y1="627.3" x2="431.3" y2="624.1" stroke="#2e2e2e" stroke-width="1"/>
<line x1="428.8" y1="624.1" x2="433.8" y2="624.1" stroke="#2e2e2e" stroke-width="1"/>
<line x1="431.3" y1="689.8" x2="431.3" y2="694.4" stroke="#000" stroke-width="1.6"/>
<rect x="441" y="632" width="10.3" height="57.8" fill="#606165"/>
<line x1="446.15" y1="632" x2="446.15" y2="629.1" stroke="#2e2e2e" stroke-width="1"/>
<line x1="443.65" y1="629.1" x2="448.65" y2="629.1" stroke="#2e2e2e" stroke-width="1"/>
<line x1="446.15" y1="689.8" x2="446.15" y2="694.4" stroke="#000" stroke-width="1.6"/>
<rect x="456" y="643.8" width="10" height="46" fill="#b7d1ed"/>
<line x1="461" y1="643.8" x2="461" y2="642.5" stroke="#2e2e2e" stroke-width="1"/>
<line x1="458.5" y1="642.5" x2="463.5" y2="642.5" stroke="#2e2e2e" stroke-width="1"/>
<line x1="461" y1="689.8" x2="461" y2="694.4" stroke="#000" stroke-width="1.6"/>
<rect x="471" y="633.3" width="10.2" height="56.5" fill="#fdd0b0"/>
<line x1="476.1" y1="633.3" x2="476.1" y2="631.2" stroke="#2e2e2e" stroke-width="1"/>
<line x1="473.6" y1="631.2" x2="478.6" y2="631.2" stroke="#2e2e2e" stroke-width="1"/>
<line x1="476.1" y1="689.8" x2="476.1" y2="694.4" stroke="#000" stroke-width="1.6"/>
<rect x="486.2" y="637.8" width="10" height="52" fill="#9ed4a8"/>
<line x1="491.2" y1="637.8" x2="491.2" y2="635.7" stroke="#2e2e2e" stroke-width="1"/>
<line x1="488.7" y1="635.7" x2="493.7" y2="635.7" stroke="#2e2e2e" stroke-width="1"/>
<line x1="491.2" y1="689.8" x2="491.2" y2="694.4" stroke="#000" stroke-width="1.6"/>
<rect x="501.2" y="620.7" width="10" height="69.1" fill="#edc9e4"/>
<line x1="506.2" y1="620.7" x2="506.2" y2="618.1" stroke="#2e2e2e" stroke-width="1"/>
<line x1="503.7" y1="618.1" x2="508.7" y2="618.1" stroke="#2e2e2e" stroke-width="1"/>
<line x1="506.2" y1="689.8" x2="506.2" y2="694.4" stroke="#000" stroke-width="1.6"/>
<line x1="445.5" y1="606.8" x2="459.6" y2="606.8" stroke="#000" stroke-width="1.9"/>
<text x="452.9" y="606.95" font-size="10.5" text-anchor="middle" font-weight="bold" stroke="#1c1a1b" letter-spacing="0.7">**</text>
<line x1="462.5" y1="606.8" x2="506.4" y2="606.8" stroke="#000" stroke-width="1.9"/>
<text x="484.8" y="606.95" font-size="10.5" text-anchor="middle" font-weight="bold" stroke="#1c1a1b" letter-spacing="0.7">****</text>
<text font-size="8.7" text-anchor="middle" stroke="#1c1a1b" transform="translate(401 635.1) rotate(-90)">Colony number</text>
<text x="421" y="703" font-size="8.7" text-anchor="end" stroke="#1c1a1b">miR-646 inhibitor</text>
<text x="431.3" y="702.8" font-size="8.6" text-anchor="middle" stroke="#1c1a1b">-</text>
<text x="446.15" y="702.8" font-size="8.6" text-anchor="middle" stroke="#1c1a1b">-</text>
<text x="461" y="702.8" font-size="8.6" text-anchor="middle" stroke="#1c1a1b">-</text>
<text x="476.1" y="703.6" font-size="8.2" text-anchor="middle" stroke="#1c1a1b">+</text>
<text x="491.2" y="702.8" font-size="8.6" text-anchor="middle" stroke="#1c1a1b">-</text>
<text x="506.2" y="703.6" font-size="8.2" text-anchor="middle" stroke="#1c1a1b">+</text>
<text x="421" y="712.6" font-size="8.7" text-anchor="end" stroke="#1c1a1b">miR-1200 inhibitor</text>
<text x="431.3" y="712.4" font-size="8.6" text-anchor="middle" stroke="#1c1a1b">-</text>
<text x="446.15" y="712.4" font-size="8.6" text-anchor="middle" stroke="#1c1a1b">-</text>
<text x="461" y="712.4" font-size="8.6" text-anchor="middle" stroke="#1c1a1b">-</text>
<text x="476.1" y="712.4" font-size="8.6" text-anchor="middle" stroke="#1c1a1b">-</text>
<text x="491.2" y="713.2" font-size="8.2" text-anchor="middle" stroke="#1c1a1b">+</text>
<text x="506.2" y="713.2" font-size="8.2" text-anchor="middle" stroke="#1c1a1b">+</text>
<line x1="424.4" y1="716.8" x2="435.5" y2="716.8" stroke="#707070" stroke-width="1.1"/>
<text x="427.6" y="726.7" font-size="8.7" text-anchor="middle" stroke="#1c1a1b">oligo</text>
<line x1="439.7" y1="716.8" x2="451.3" y2="716.8" stroke="#707070" stroke-width="1.1"/>
<text x="445.9" y="726.7" font-size="8.7" text-anchor="middle" stroke="#1c1a1b">nc</text>
<line x1="455.5" y1="716.8" x2="512.5" y2="716.8" stroke="#707070" stroke-width="1.1"/>
<text x="483.3" y="726.7" font-size="8.7" text-anchor="middle" stroke="#1c1a1b">sh-circPPFIA2</text>
<line x1="589.5" y1="595.3" x2="589.5" y2="690.6" stroke="#000" stroke-width="1.9"/>
<line x1="588.6" y1="689.7" x2="685" y2="689.7" stroke="#000" stroke-width="1.8"/>
<line x1="584.5" y1="689.7" x2="589.5" y2="689.7" stroke="#000" stroke-width="1.6"/>
<text x="584.1" y="691.9" font-size="6.2" text-anchor="end" stroke="#1c1a1b">0</text>
<line x1="584.5" y1="666.3" x2="589.5" y2="666.3" stroke="#000" stroke-width="1.6"/>
<text x="584.1" y="668.5" font-size="6.2" text-anchor="end" stroke="#1c1a1b">200</text>
<line x1="584.5" y1="642.9" x2="589.5" y2="642.9" stroke="#000" stroke-width="1.6"/>
<text x="584.1" y="645.1" font-size="6.2" text-anchor="end" stroke="#1c1a1b">400</text>
<line x1="584.5" y1="619.5" x2="589.5" y2="619.5" stroke="#000" stroke-width="1.6"/>
<text x="584.1" y="621.7" font-size="6.2" text-anchor="end" stroke="#1c1a1b">600</text>
<line x1="584.5" y1="596.1" x2="589.5" y2="596.1" stroke="#000" stroke-width="1.6"/>
<text x="584.1" y="598.3" font-size="6.2" text-anchor="end" stroke="#1c1a1b">800</text>
<rect x="593.9" y="634.1" width="10.5" height="55.6" fill="#9a9ca3"/>
<line x1="599.15" y1="634.1" x2="599.15" y2="631.4" stroke="#2e2e2e" stroke-width="1"/>
<line x1="596.65" y1="631.4" x2="601.65" y2="631.4" stroke="#2e2e2e" stroke-width="1"/>
<line x1="599.15" y1="689.7" x2="599.15" y2="694.3" stroke="#000" stroke-width="1.6"/>
<rect x="608.8" y="637.6" width="10.4" height="52.1" fill="#606165"/>
<line x1="614" y1="637.6" x2="614" y2="633.4" stroke="#2e2e2e" stroke-width="1"/>
<line x1="611.5" y1="633.4" x2="616.5" y2="633.4" stroke="#2e2e2e" stroke-width="1"/>
<line x1="614" y1="689.7" x2="614" y2="694.3" stroke="#000" stroke-width="1.6"/>
<rect x="623.7" y="619.2" width="10.4" height="70.5" fill="#fdd0b0"/>
<line x1="628.9" y1="619.2" x2="628.9" y2="616" stroke="#2e2e2e" stroke-width="1"/>
<line x1="626.4" y1="616" x2="631.4" y2="616" stroke="#2e2e2e" stroke-width="1"/>
<line x1="628.9" y1="689.7" x2="628.9" y2="694.3" stroke="#000" stroke-width="1.6"/>
<rect x="638.6" y="639.6" width="10.4" height="50.1" fill="#fcd6d6"/>
<line x1="643.8" y1="639.6" x2="643.8" y2="636.6" stroke="#2e2e2e" stroke-width="1"/>
<line x1="641.3" y1="636.6" x2="646.3" y2="636.6" stroke="#2e2e2e" stroke-width="1"/>
<line x1="643.8" y1="689.7" x2="643.8" y2="694.3" stroke="#000" stroke-width="1.6"/>
<rect x="653.5" y="634.1" width="10.4" height="55.6" fill="#dabfdf"/>
<line x1="658.7" y1="634.1" x2="658.7" y2="630.4" stroke="#2e2e2e" stroke-width="1"/>
<line x1="656.2" y1="630.4" x2="661.2" y2="630.4" stroke="#2e2e2e" stroke-width="1"/>
<line x1="658.7" y1="689.7" x2="658.7" y2="694.3" stroke="#000" stroke-width="1.6"/>
<rect x="668.4" y="653.2" width="10.4" height="36.5" fill="#f6a9c9"/>
<line x1="673.6" y1="653.2" x2="673.6" y2="650.2" stroke="#2e2e2e" stroke-width="1"/>
<line x1="671.1" y1="650.2" x2="676.1" y2="650.2" stroke="#2e2e2e" stroke-width="1"/>
<line x1="673.6" y1="689.7" x2="673.6" y2="694.3" stroke="#000" stroke-width="1.6"/>
<line x1="613.2" y1="604.9" x2="627.8" y2="604.9" stroke="#000" stroke-width="1.9"/>
<text x="620.85" y="605.05" font-size="10.5" text-anchor="middle" font-weight="bold" stroke="#1c1a1b" letter-spacing="0.7">***</text>
<line x1="630.1" y1="604.9" x2="674.2" y2="604.9" stroke="#000" stroke-width="1.9"/>
<text x="652.5" y="605.05" font-size="10.5" text-anchor="middle" font-weight="bold" stroke="#1c1a1b" letter-spacing="0.7">****</text>
<text font-size="8.7" text-anchor="middle" stroke="#1c1a1b" transform="translate(569 637.4) rotate(-90)">Colony number</text>
<text x="589" y="704.3" font-size="8.7" text-anchor="end" stroke="#1c1a1b">miR-646 mimic</text>
<text x="599.15" y="704.1" font-size="8.6" text-anchor="middle" stroke="#1c1a1b">-</text>
<text x="614" y="704.1" font-size="8.6" text-anchor="middle" stroke="#1c1a1b">-</text>
<text x="628.9" y="704.1" font-size="8.6" text-anchor="middle" stroke="#1c1a1b">-</text>
<text x="643.8" y="704.9" font-size="8.2" text-anchor="middle" stroke="#1c1a1b">+</text>
<text x="658.7" y="704.1" font-size="8.6" text-anchor="middle" stroke="#1c1a1b">-</text>
<text x="673.6" y="704.9" font-size="8.2" text-anchor="middle" stroke="#1c1a1b">+</text>
<text x="589" y="715" font-size="8.7" text-anchor="end" stroke="#1c1a1b">miR-1200 mimic</text>
<text x="599.15" y="714.8" font-size="8.6" text-anchor="middle" stroke="#1c1a1b">-</text>
<text x="614" y="714.8" font-size="8.6" text-anchor="middle" stroke="#1c1a1b">-</text>
<text x="628.9" y="714.8" font-size="8.6" text-anchor="middle" stroke="#1c1a1b">-</text>
<text x="643.8" y="714.8" font-size="8.6" text-anchor="middle" stroke="#1c1a1b">-</text>
<text x="658.7" y="715.6" font-size="8.2" text-anchor="middle" stroke="#1c1a1b">+</text>
<text x="673.6" y="715.6" font-size="8.2" text-anchor="middle" stroke="#1c1a1b">+</text>
<line x1="593.2" y1="716.7" x2="604.4" y2="716.7" stroke="#707070" stroke-width="1.1"/>
<text x="596.5" y="727.3" font-size="8.7" text-anchor="middle" stroke="#1c1a1b">oligo</text>
<line x1="608.8" y1="716.7" x2="620" y2="716.7" stroke="#707070" stroke-width="1.1"/>
<text x="615.5" y="727.3" font-size="8.7" text-anchor="middle" stroke="#1c1a1b">nc</text>
<line x1="623.5" y1="716.7" x2="680.8" y2="716.7" stroke="#707070" stroke-width="1.1"/>
<text x="650.6" y="727.3" font-size="8.7" text-anchor="middle" stroke="#1c1a1b">circPPFIA2</text>
<text x="1.8" y="787.8" font-size="19.5" stroke="#1c1a1b">M</text>
<text x="32.1" y="800.5" font-size="9" text-anchor="middle" stroke="#1c1a1b">oligo</text>
<line x1="9.3" y1="803.5" x2="57" y2="803.5" stroke="#262626" stroke-width="1.2"/>
<text x="86.1" y="800.5" font-size="9" text-anchor="middle" stroke="#1c1a1b">sh-nc</text>
<line x1="61.5" y1="803.5" x2="112.5" y2="803.5" stroke="#262626" stroke-width="1.2"/>
<text x="224.1" y="800.6" font-size="9" text-anchor="middle" stroke="#1c1a1b">sh-circPPFIA2</text>
<line x1="116" y1="804" x2="326.2" y2="804" stroke="#262626" stroke-width="1.2"/>
<rect x="7.9" y="805.9" width="50.8" height="38" fill="#ddd3ea"/>
<g clip-path="url(#twc0)"><g fill="none" stroke-linecap="round" filter="url(#soft)">
<g stroke="#b096d4" stroke-width="2.2" opacity="0.38"><use href="#twa0"/><use href="#twb0"/></g>
<path d="M42.8 805h0m8.5 1.5h0m.3-2h0m3.5 2.8h0m-4.3 2.4h0m-.5-1.3h0m-9.3 .3h0m-2.9-.1h0m-17 1.2h0m-2.6-1.6h0m-3 1.3h0m-3.5 3.1h0m5.4 .3h0m6.8-2.8h0m.8 2.3h0m8-.8h0m9.2 .5h0m.7-.2h0m7.1 .1h0m3.3-1h0m2.3 .9h0m1.2 3.6h0m-.4-.1h0m-.3 .4h0m-.6-.3h0m-1.4-.9h0m-4.5-1.1h0m-.2 1.4h0m-4.5-.8h0m-2.9-.4h0m-1.3-.1h0m-4.7 2.2h0m-.6-2h0m-15.4-.7h0m-1.6 .9h0m-2 1h0m-1.6-.1h0m-.5 .7h0m-.2 .2h0m-1.4-1.7h0m-.5 .2h0m-.6 1.6h0m-3-2.4h0m-.1 .4h0m-.8 1.7h0m-.6 1.7h0m2.9 1.3h0m.9-.7h0m1-.9h0m1 .8h0m7 .3h0m.5-.7h0m3.5 1.3h0m6.1-2.4h0m3.5 .7h0m8.6-.6h0m4.3 2h0m1.9-.5h0m.5 .4h0m4.7-2h0m0 2.1h0m.1-2.3h0m.4 1.1h0m.2-.1h0m.1-.3h0m.4 .6h0m.5-.5h0m1.5 .4h0m1.5 .8h0m-8 1.8h0m-.8 .7h0m-.5 .3h0m-.7-1.3h0m-.6 1.3h0m-1.2 .5h0m-1.9-.5h0m-1.1 0h0m-.3-.6h0m-.6 .7h0m-.6 .5h0m-2-2.1h0m0 0h0m-.2 .8h0m-1-.7h0m-.2-.4h0m-1.9 1.9h0m-21.6 .1h0m-2.6 0h0m-3 .6h0m-4.8 1.5h0m2.9-1.1h0m1.3 .4h0m2.7 .5h0m1.3 1h0m1 .8h0m0-1.8h0m.4 0h0m.9-.2h0m1.5 .9h0m4.3 1h0m.1-.4h0m1.4-1.2h0m6.9 .4h0m.9 .2h0m.3 1.1h0m1.8-1.8h0m.3 .6h0m0-.4h0m1 .8h0m6.6-2h0m1.2 1.4h0m3.1 .2h0m.2 0h0m.2-.6h0m1.2 1.1h0m.3 .1h0m.2-1.3h0m.4-.6h0m4 1.7h0m.4-1.3h0m.7 .8h0m3.5-.6h0m.5 2.6h0m-1.7 .9h0m-1.7-.7h0m-1 2.2h0m-.6-1.5h0m-.4 1.4h0m-.6-.7h0m-3.8-2h0m-.2 2.1h0m-.6-2.1h0m-1 .2h0m-.5 .5h0m-11.3 1.7h0m-.2-.2h0m-6.1-.7h0m-6.3 .3h0m-3.6-1.4h0m-1.2 .8h0m-.3-.1h0m-.3 0h0m-2.3-.8h0m-.5 1.1h0m-1.2 .9h0m-.8-1.9h0m-.4 1h0m-.9 .9h0m12.5 2.5h0m1.2 .4h0m1.4-1.6h0m.9-.2h0m1.1-.1h0m3.9 1.2h0m2.4-.5h0m.7-.1h0m7.6 .9h0m.3-.5h0m2.3-1.3h0m3.6 1.9h0m3.1-1.4h0m.4 1.8h0m.2-1.8h0m0-.1h0m.4 .7h0m.7 .8h0m1.5-.4h0m-6.7 2.3h0m-3.2 .9h0m-2-.7h0m-.5 .2h0m-1.2 .7h0m-3.2-.4h0m-1 .2h0m-1.1-.7h0m-27.1 4.8h0m10.8-1.6h0m2-.2h0m.5 1.9h0m3.6-1h0m6.1-1.4h0m1.1 .1h0m.1-.2h0m1.9 1h0m.5-.7h0m5 1h0m1.8-.2h0m3.1 .1h0m6.1 1h0m1.1-2h0m2.4 1.7h0m2.7 3.3h0m-.1-1.3h0m-.7-1.2h0m-.2 .3h0m-.3 .5h0m-.5 .4h0m-.3-1.2h0m-.3 .7h0m-.7 1.5h0m-3.6-.7h0m-.1-.1h0m-3.1 1.4h0m-.2-.2h0m-2.9-1.5h0m-6.7 1.5h0m-1.5-.5h0m-.2-.9h0m-.9 1h0m-.3 .4h0m-5.2-2.5h0m-3.3 1.8h0m-5.4 .4h0m-12.3 .2h0m0 3.1h0m.8-2.6h0m4.1 .4h0m2 0h0m4.6 .4h0m2.8 1.5h0m9.8-.4h0m.5 .5h0m2.9 .2h0m.8-1.4h0m.6 .8h0m.3-.4h0m.9-1.6h0m1.7 1.8h0m0-.7h0m1.1-.5h0m.2-.4h0m.1 0h0m1.3 1.1h0m.4-.9h0m.1 0h0m.1-.3h0m7.5-.2h0m4.1 1.6h0m.4-1.4h0m-4.2 2.8h0m-7.8 .1h0m-3.3 1.9h0m-1.6-.6h0m-.3-1.2h0m-.6 2.5h0m-1-1.6h0m-14.7 .4h0m-4.4 .4h0m-1.4 .2h0m-2.8-2h0m-5.9 .5h0m30.6 3.8h0m2.7-.3h0m2.6 1h0m.3-1.7h0m-3.1 3.8h0" stroke="#7d55b3" stroke-width="1.1" opacity="0.7"/>
<use href="#twa0" stroke="#55278c" stroke-width="1.2" opacity="0.92"/>
<use href="#twb0" stroke="#6a3aa3" stroke-width="0.9" opacity="0.85"/>
</g></g>
<rect x="61.7" y="805.9" width="50.4" height="38" fill="#ddd3ea"/>
<g clip-path="url(#twc1)"><g fill="none" stroke-linecap="round" filter="url(#soft)">
<g stroke="#b096d4" stroke-width="2.2" opacity="0.38"><use href="#twa1"/><use href="#twb1"/></g>
<path d="M76.2 806.9h0m12.1-2.2h0m2.8 1.2h0m.4 0h0m3.2-.8h0m.4 1h0m1.5 .4h0m1.6-.5h0m10.3-.4h0m.1 3.1h0m-11.5-.1h0m-3.7 .6h0m-.1-.5h0m-.9-.2h0m-5 .4h0m-.6-1.5h0m-.2 0h0m-1.4 1.1h0m-.5-.1h0m-.6 .4h0m-1.7 .3h0m-1.3-.8h0m-2.4-1.1h0m-.7 1h0m-8.5 1.5h0m-4.6 2.6h0m1.4-.5h0m1.4-1.6h0m4.6 1.7h0m1 .6h0m6.8-1.7h0m7.5 0h0m2.5 1.8h0m.3-2.3h0m.9 2.1h0m2.7 .3h0m15.1 3.1h0m-.6-1.5h0m-2.9 1.3h0m-1.6-.5h0m-9.4-1h0m-7.7 .9h0m-1.2-.1h0m-.2 .6h0m-1-2.4h0m-5.7 .5h0m-2.5 .3h0m-3.6 1h0m-2.4 .6h0m-5.5-2.3h0m-.1 .7h0m-.2-.8h0m-1.5 1.5h0m-.2 1.3h0m-.2-2.3h0m-.2 2.4h0m7.3 .7h0m2.4 1.9h0m5.4-1.1h0m4.7-.5h0m.7-.5h0m16.9 .5h0m2-.7h0m6.9 1.9h0m.9-1.5h0m-2.7 2.8h0m-5.1 .3h0m-.9 1h0m-3.1-1.7h0m-.8 1.7h0m-14.8-1.7h0m-3.9 1.6h0m-4.8 1.1h0m-3.7-.7h0m3.3 1.9h0m2.7 .2h0m.2 0h0m1.5-1.1h0m0 2h0m.8 .1h0m1.9-2h0m.2 .7h0m1.3 1.8h0m10.7-.2h0m4.5-.1h0m1.5 .6h0m.8-.1h0m1.8-.6h0m.5-.1h0m5.9-1.7h0m1.2 1h0m0 1.2h0m4.3-1.4h0m-2.4 3.1h0m-.6 1.4h0m-.3-2.5h0m-1.4 1.8h0m-.5 .4h0m-4.7-.3h0m-2.6-.9h0m-.3 .4h0m-1.1-.7h0m-.4-.4h0m-2.2 .6h0m-.9-.4h0m-3.5-.2h0m-.2 1.2h0m-5.5 .8h0m-12.9-1.4h0m-14 4.3h0m2.9-.1h0m1.1-.8h0m1.1 .3h0m1.1-.3h0m18-.6h0m.1-.7h0m.8 2.6h0m.5-1h0m.7-1.1h0m1.1 2h0m3.2-1.9h0m.5 1.6h0m.9-1.8h0m.7 .1h0m.2 1h0m1.7-1.1h0m1.6 .1h0m1.6 1.2h0m.4-1.3h0m2.4 1.1h0m.5-.5h0m.4-1h0m.4 .9h0m1.9 1.7h0m1.6-.5h0m5.5 1h0m-4.2-.2h0m-.8 .7h0m-.8 .4h0m-.4 0h0m-1.1 .6h0m-2.1-1.3h0m-1.9-.1h0m-.6 1h0m-2.1 .1h0m-4.1-1.1h0m-4.4 1.6h0m-.3-1h0m-.9 .2h0m-2.6-1h0m-3 1.9h0m-2.6-2.2h0m-2.4 2.3h0m-2.3-.2h0m-1.6 .8h0m-1-.7h0m-3.4 0h0m-4.3 2h0m1.8 .3h0m1.4-1.3h0m7.7 .6h0m.3 1.3h0m.8-1.4h0m3-.1h0m6.1 1.7h0m.9-1h0m3.4 .1h0m.9-.3h0m1.3 .4h0m1.9-1.2h0m5.3 .7h0m4.9-.2h0m5.1 0h0m1-.1h0m1 .7h0m1.7 3.4h0m-2.9 0h0m-7.9 .4h0m-.6-1.7h0m-1.4 1.6h0m-7.8-1.1h0m-4.7 .1h0m-3.5 .4h0m-6.5 1.4h0m-1.8-.5h0m-1.1-1.1h0m-.2-.3h0m-1.3-.3h0m-.1 .2h0m-.1-.7h0m0 1.9h0m-1.7-.8h0m-.2 1.1h0m-6.9-1.1h0m-.7 3.7h0m.9-1.6h0m.2 2.5h0m.1-.2h0m8.6-1.8h0m3.9 1.6h0m7 .3h0m.7-.8h0m3.1 .9h0m.3-.2h0m1.4-1h0m.1-.5h0m0-.3h0m.2 2.1h0m4.3-.1h0m.5-2.5h0m6 1h0m2.1 .7h0m10.6-1.9h0m.6 .4h0m-4.8 3.6h0m-1.4-.3h0m-10.7-.8h0m-3.3 2.6h0m-7.5-.8h0m-.2-1.4h0m-8 .5h0m-8-1h0m-3.2 1.1h0m16 3.5h0m-.8 2.3h0" stroke="#7d55b3" stroke-width="1.1" opacity="0.7"/>
<use href="#twa1" stroke="#55278c" stroke-width="1.2" opacity="0.92"/>
<use href="#twb1" stroke="#6a3aa3" stroke-width="0.9" opacity="0.85"/>
</g></g>
<rect x="115.3" y="805.9" width="50.6" height="38" fill="#ddd3ea"/>
<g clip-path="url(#twc2)"><g fill="none" stroke-linecap="round" filter="url(#soft)">
<g stroke="#b096d4" stroke-width="2.2" opacity="0.38"><use href="#twa2"/><use href="#twb2"/></g>
<path d="M124.8 805.3h0m17.4 .3h0m11 4h0m-8.7-1.6h0m-1.5 1h0m-6.9-1.2h0m-18.7 1.9h0m-1.8-1.2h0m-.9-.6h0m-1.6 1.1h0m6 1.6h0m7.1-.3h0m14.2 1.3h0m4.1-1h0m3 .6h0m1.4 .8h0m3.5 .7h0m1.1-1h0m1.4 .6h0m1.9 1.7h0m-1.5 1.8h0m-.5-.1h0m-1.8-.8h0m-.9-.2h0m-7.2 .7h0m-15.1-1.2h0m-1-1.1h0m-.9 2.1h0m-.8-2.2h0m-8.5 .9h0m-.7 1.1h0m-.7-1.5h0m-.5 3.7h0m5.5-.3h0m7.2-.3h0m5.4-.3h0m2.4 1h0m1.9 .4h0m3.7-1.2h0m4 .2h0m3.5 .8h0m.3-1h0m3.2 1.4h0m1-1.1h0m.4 1.8h0m.3-1.4h0m4.1 1h0m.6-1.7h0m-13 3.1h0m-3.2-.2h0m-2.9 1.7h0m-7.8-1.6h0m-12.4-.5h0m-.6 1.7h0m-.1 1.2h0m-2.8 3h0m.1-2.4h0m.1 .1h0m.9 0h0m1.1 .4h0m3.1 1.2h0m6.2-1.3h0m11.6 1h0m.5 .2h0m.7 .8h0m2.9-.8h0m1.2 .7h0m.9-1.4h0m9.8-1.2h0m9.7 1.4h0m-2.6 3.9h0m-.1-.7h0m-.9-1.5h0m-1.7 1h0m-.4 1h0m-4.7-.4h0m-1.1-.7h0m-.7 .5h0m-16.5 .5h0m-16.3-1.7h0m17.5 4.6h0m1.8-2h0m.7 2.3h0m.6-1.2h0m.5-.7h0m5.7 1h0m10.4 .6h0m1-1.8h0m1 .5h0m6 3.5h0m0 1.1h0m-3.4-.6h0m-1.3-.4h0m-17.2 .2h0m-1.9-.7h0m-1.4 1.2h0m-.3 .1h0m-1.2-1h0m-1.2 .7h0m-7.3 1h0m-3-1.7h0m-13.3-.1h0m-2.4 1.7h0m-.4 2.8h0m4-1h0m9.7 .7h0m.3-.1h0m2.5 .1h0m1.7-1.2h0m3.2 .6h0m8.2 .9h0m.4-.7h0m1.9 .1h0m6.1 .5h0m1.2-.8h0m7-1.2h0m.4 .7h0m-2.7 4h0m-3.9-1.2h0m-2.4 1.3h0m-5.4 .5h0m-8.4-.4h0m-5.8-1.4h0m-2.4-.1h0m-7.9-.1h0m-.6-.8h0m-3.1 2.3h0m3.9 2.5h0m2.6-1.5h0m9 .2h0m2.1 1.7h0m8.8-1.5h0m.6-.1h0m2.3 1.8h0m1.8-.6h0m.5-1h0m1.7 2.1h0m.9-.7h0m.8-1.7h0m.7 .6h0m8.8 .6h0m1.4-.4h0m.1-.1h0m.5-.4h0m3.5 1.4h0m-2.8 1.1h0m-4.3 1.1h0m-7.9-1.3h0" stroke="#7d55b3" stroke-width="1.1" opacity="0.7"/>
<use href="#twa2" stroke="#55278c" stroke-width="1.2" opacity="0.92"/>
<use href="#twb2" stroke="#6a3aa3" stroke-width="0.9" opacity="0.85"/>
</g></g>
<rect x="169.4" y="805.9" width="50" height="38" fill="#ddd3ea"/>
<g clip-path="url(#twc3)"><g fill="none" stroke-linecap="round" filter="url(#soft)">
<g stroke="#b096d4" stroke-width="2.2" opacity="0.38"><use href="#twa3"/><use href="#twb3"/></g>
<path d="M208.6 803.6h0m-12.4-.8h0m-3.3 3.5h0m4.1-1.2h0m4.5 .5h0m6.8 1.3h0m5.4-.5h0m.3-.6h0m2.3 3.9h0m-2-.3h0m-.9-2.3h0m-.5 1.7h0m-.1-1.7h0m-1.5 2.2h0m-1.4-2.2h0m-1.6 .8h0m-5 1.1h0m0-.3h0m-4.6-.6h0m-.9 1.8h0m-2.7-2.7h0m-11.8 2.4h0m-1.4 2.9h0m2.5-2.1h0m9.1 1.3h0m.6 .3h0m1.8 0h0m.7-.2h0m1.2-.9h0m.2 1.4h0m1.3-1h0m.9-.5h0m.1 1.5h0m2.5-.4h0m.6 0h0m.5 0h0m2.2-1.7h0m3.7 2.5h0m1.6-.8h0m.6 0h0m.3 .2h0m.3-.4h0m.6 .2h0m.5 .4h0m2.6-.9h0m.4 .4h0m.9 .2h0m1.5-.7h0m1.9 .8h0m.4-1.4h0m-10.9 2.6h0m-1.6-.2h0m-1.7 .9h0m-.9 .6h0m-1.3 .2h0m-.5-.4h0m-1.4 .4h0m-2.8-.2h0m-.5 1.2h0m-.3-.7h0m-.3-1.5h0m-1.3-.1h0m-.6 .3h0m-7.5 .5h0m-.8-.5h0m-2 1.9h0m-6.1-.7h0m-2.9 .3h0m-6.8-.1h0m2.4 3.2h0m6.4-2h0m1.5 .1h0m4.7 .8h0m.1-.3h0m1.5 2h0m2.7-2.5h0m.6 .5h0m.9-.1h0m.2-.9h0m1.3 2h0m1.2 .1h0m13.3-.9h0m5.3 .6h0m-7 4h0m-6.5-2.7h0m-9 .5h0m-4.4 1.5h0m-1.2 .2h0m-1.3-1h0m-2.4-1.2h0m-1.3 2.6h0m0 .1h0m-1.8-.8h0m-2.3 0h0m-4-.2h0m4.3 1.8h0m2.3-.1h0m21.7-.3h0m1.4 1.5h0m8.1-.9h0m6.7 1.7h0m8.2 2.3h0m-9.9-.3h0m-16.8-.5h0m-6.4 .5h0m-4.8 1h0m-.8-1h0m-4.1-1.5h0m-1.9 1.9h0m-7.6 .9h0m-2.8-1.1h0m-1.3 4.2h0m2-1.9h0m.8 1h0m1.1-1h0m12.5 .2h0m1.6 .6h0m.3 .4h0m.8 .6h0m.6-1.2h0m15.8 1.3h0m12.2-.5h0m2.1-1.8h0m2-.1h0m-.5 4.5h0m-1.1-.3h0m-.6 .3h0m-4.9-1.8h0m-.2 2h0m-.9-.2h0m-.3-1.7h0m-21.2 1.3h0m-6.4-.6h0m-7.7-.9h0m-.6 1.6h0m-.1 1h0m-2.4-.3h0m-1-1.5h0m-.3 .8h0m-.3 1.2h0m-3.8-1.7h0m3.6 3.8h0m.4-.7h0m1.4-.7h0m.7 .4h0m3 .5h0m.4-1h0m.4 1.2h0m.4-1.6h0m0 2.7h0m2-.8h0m7.9 .8h0m1.1-2.8h0m5.5 .4h0m5.9 0h0m6.2 1.5h0m7-1.6h0m.3 1.8h0m.3-.6h0m.6-.6h0m.7 .8h0m1.2 2.4h0m-1.9 .8h0m-3 .3h0m-3.4-.9h0m-3.8 .2h0m-2.2 .5h0m-.5-.1h0m-1.7-1.8h0m-7 .7h0m-2 1.3h0m-2-.7h0m-1.9-.3h0m-7.7 .1h0m-.2-1.1h0m-.6 2.2h0m-12.5 1.1h0m2.7 1.3h0m1.7 .5h0m8.1-1.6h0m2.2 .8h0m1.4 .2h0m.3-.5h0m.3-.7h0m1-.2h0m1 2.1h0m0 .5h0m.7-1.6h0m.1-.6h0m.2 1.2h0m7.3-1.1h0m16.1 2.8h0m-6.5 .3h0m-18.9-.6h0m-13.1 2.3h0m-.6-1.9h0m-.5 1.9h0m-.2-1.8h0m-5.3 3.1h0m.5 .5h0m18 .2h0m1.4 2.5h0" stroke="#7d55b3" stroke-width="1.1" opacity="0.7"/>
<use href="#twa3" stroke="#55278c" stroke-width="1.2" opacity="0.92"/>
<use href="#twb3" stroke="#6a3aa3" stroke-width="0.9" opacity="0.85"/>
</g></g>
<rect x="223.3" y="805.9" width="49.5" height="38" fill="#ddd3ea"/>
<g clip-path="url(#twc4)"><g fill="none" stroke-linecap="round" filter="url(#soft)">
<g stroke="#b096d4" stroke-width="2.2" opacity="0.38"><use href="#twa4"/><use href="#twb4"/></g>
<path d="M232.4 802.7h0m-8.1 4.3h0m3.1-.8h0m1.2-1.6h0m2.4 2.1h0m.2-.5h0m1.3-.2h0m.7 .2h0m20.5-1.5h0m2.4 1.9h0m-2.7 1.6h0m-.6 1.7h0m-.3-1.6h0m-.2 .4h0m-1.3 .9h0m-5.1-1.2h0m-1.8-.2h0m-14.7 1.7h0m-2.3-1h0m-.4-.6h0m-2.8 .6h0m4.3 2.9h0m8.6 .5h0m15.7-1.1h0m.2 .9h0m3.9-.6h0m3.3 .2h0m-2.6 1.3h0m-.8 1.1h0m-.5-.5h0m-.5 .5h0m-3.6 1.8h0m-.4-1.6h0m-.2 1.4h0m-7.4-1.9h0m-9.4-.6h0m-8.4-.2h0m-2 .3h0m3.2 3.8h0m3.9 1.4h0m.3-1.9h0m0 1h0m1.7-.7h0m.3 1.5h0m.2-.7h0m.2-1.2h0m.3 2.2h0m.7-.4h0m10.5 .7h0m2.4-1.2h0m.8 .7h0m.5-1.2h0m.6 1.2h0m4-2.4h0m3.4 2.6h0m.3-1.4h0m.8 1.7h0m.7-.3h0m3.8-1.8h0m7.1 4.7h0m-11.7-.9h0m-.4 .3h0m-2.6-.7h0m-.7 .1h0m-5.5 .1h0m-.4-.6h0m-4-.3h0m-1.5 .3h0m-6.6 2h0m-.7-2.2h0m-1.6 1.9h0m-.5-2.1h0m-.2 1.9h0m-3.7-1.2h0m.1 3.4h0m2.7-.9h0m.9 .9h0m5.1-1h0m9.1-.3h0m2.2 1.1h0m1.4 .2h0m4.5 .9h0m1.2-2.2h0m1.1 .3h0m.4-.1h0m4.6 1.1h0m5.2-1.6h0m-7.5 3.4h0m-.5-.1h0m-3.4 .3h0m-.7 .1h0m-.3 .6h0m0-1.2h0m-1.4 1.7h0m0-1.1h0m-1.8-.2h0m-2.1 0h0m-17.1 0h0m-2.3 1.5h0m-2.6 .9h0m-1.1-1.7h0m-.9 .5h0m-.8 .9h0m-.6 .4h0m-.1-.7h0m-.2 2.3h0m1.7 .6h0m4.1-.5h0m2.3-1.6h0m.1 1.9h0m.1-.2h0m.9-.3h0m14-1.3h0m.5 .1h0m.6 1.3h0m.6-1.5h0m.2 2.3h0m1.6-.7h0m.1-.6h0m1.4 1.1h0m.6-.6h0m.4-.4h0m11.6-.5h0m5.6 .6h0m.9 1.3h0m4.3 3.2h0m-4.9-1.4h0m-1.2 .4h0m-2.3 .9h0m-.3-1.2h0m-.4-.4h0m-.9 1.6h0m-.1-1.1h0m-2-.6h0m-.6 1.8h0m-2.1-1.8h0m-9.2 1.2h0m-.4-1.1h0m0-.9h0m-2.6 .9h0m-.2-1.1h0m-.2 .9h0m-10 .3h0m-1.4 .1h0m-.6-.4h0m-.2-.8h0m-.6 1.7h0m-2.7-.5h0m-7.6 1.5h0m-1.7 1.8h0m2.5-.6h0m1-1h0m1.6 .5h0m3 2.3h0m1-1.7h0m.2 .8h0m1.4-1.8h0m1 .7h0m.1 1.8h0m.6-1.8h0m.5 1.3h0m1-.3h0m1.8 .2h0m3.4-1.4h0m.7-.5h0m1.4 .6h0m11.2 0h0m6.5 1.9h0m.3-1.8h0m3.9 .4h0m3-1.1h0m.4 .5h0m2.6-.2h0m.8 1.9h0m5.9 1.7h0m-9.4 .3h0m-.7 .5h0m-.1-.1h0m-.3 1h0m-5.6-.3h0m-2.4-2.2h0m-1.8 2h0m-4-1.8h0m-.5 1.8h0m-2.2 .8h0m-8.5-3h0m-3.1 .3h0m-5.3 1.5h0m-1 .6h0m-.3-1.3h0m-.3-1h0m-.5 .8h0m-.4-.5h0m-1.1-.1h0m-1.1 2.5h0m-1.3-1.7h0m-1.8 1.5h0m-.6-.8h0m-5.8 1.9h0m2.2 1.1h0m3.3-.6h0m2.6 .5h0m0-1.7h0m1.2 1.6h0m4 .3h0m1-1.6h0m7.9-.3h0m7.8 .6h0m8.1-.6h0m1 .3h0m1.8 1.9h0m6.3-.9h0m-2.3 2.5h0m-5.6 .7h0m-29.6-.5h0m-6.1 .4h0m.3 2.5h0m.4 .7h0m1.6-1.3h0m42.8 .3h0" stroke="#7d55b3" stroke-width="1.1" opacity="0.7"/>
<use href="#twa4" stroke="#55278c" stroke-width="1.2" opacity="0.92"/>
<use href="#twb4" stroke="#6a3aa3" stroke-width="0.9" opacity="0.85"/>
</g></g>
<rect x="276.2" y="805.9" width="50.8" height="38" fill="#ddd3ea"/>
<g clip-path="url(#twc5)"><g fill="none" stroke-linecap="round" filter="url(#soft)">
<g stroke="#b096d4" stroke-width="2.2" opacity="0.38"><use href="#twa5"/><use href="#twb5"/></g>
<path d="M315.4 803.7h0m-34.8-1h0m21.5 1.7h0m16.1 .5h0m0 .1h0m.7-.8h0m2.2 2h0m1.2 .6h0m1.7-1.4h0m1.8-1.3h0m.5 2.3h0m.7 1.9h0m-4-1.2h0m-1.9 .5h0m-9.6 .3h0m-2.8 1.5h0m-3-.2h0m-1.8-.6h0m-.8 1.3h0m-.1-1.8h0m-.6 .6h0m-2.4-1.5h0m-1 .1h0m-1.2 2.2h0m-5.2-1.9h0m-.3 1.1h0m-9.3 .6h0m-1.4-1.7h0m-1.8 .2h0m-.4 4.4h0m.9-2.2h0m1.1 .3h0m3.6 2.7h0m5.8-1.8h0m.9 .6h0m4.5-.7h0m.3-.1h0m2.4 .3h0m.3-.6h0m.9 .2h0m1.9 1.8h0m4.5-1.8h0m.2 2.1h0m3-2.8h0m1.2 .2h0m.2-.1h0m3.1 1.7h0m4.2 .9h0m2-2.4h0m.1 .3h0m.6 1.4h0m1.1-.7h0m1.5 1.3h0m1.1-1.6h0m1.8 3.3h0m-2.3-.6h0m-10.9-.5h0m-6.5 .6h0m0-.8h0m-1.3 2.2h0m-.2-.4h0m-.7-1.1h0m-.1-.7h0m-1.4 1.1h0m0 1.4h0m-.2-.5h0m-.4-.9h0m-.2-.4h0m-1.7 1.8h0m-2.3-1.9h0m-.3 2.1h0m-1.3-2.4h0m-1.6 1.7h0m-3.8-1h0m-.1-.9h0m-3.7 1.3h0m-6.8 .1h0m-.2-.1h0m-.6-.3h0m-7.5 3.4h0m2.9 .5h0m.3-.5h0m1.5 0h0m12.1-1.5h0m.9 .1h0m0 .6h0m7.4 1.7h0m1.5-1.8h0m.8-.1h0m.7 1.5h0m2.5 .5h0m1.6 0h0m.2-1.2h0m1.7-.1h0m1.6-.8h0m6.9 .9h0m6.8 .5h0m2.9 2.4h0m-5.5 .4h0m-2.7-1h0m-.4-.2h0m-.2-.1h0m-.2 .1h0m-.6 1.2h0m-4.2-1.4h0m-2.7 1h0m-1.4-1.1h0m-.5 2.1h0m-.1-2.2h0m-2.2 2.2h0m-5.7 .6h0m0-.5h0m-1.5-1h0m-1.5 1.2h0m-2.1-1.1h0m-.8 1.1h0m-4.9-1.6h0m-1.3-.6h0m-1.1 0h0m-1.1 1.5h0m-1-.5h0m-1.3 2.8h0m1.7-1.2h0m.6 .2h0m1.6 2.4h0m.7-1.1h0m1.8-.8h0m.7 1.1h0m3 0h0m.3-.5h0m.5 1.4h0m2.4-.9h0m.2-1.1h0m2.7 .5h0m.1 .9h0m.3 .5h0m.4-.3h0m.5-.1h0m2.9 .4h0m1.7-1h0m3.3 0h0m1.8 0h0m.7 .6h0m2.5-1.9h0m6.2 .2h0m11.3 2.1h0m.2-1.1h0m1.2 .4h0m-4.3 2.6h0m-2.9-1.3h0m-.1 0h0m-2.2-.2h0m-1.6 1.5h0m-.2 .8h0m-1.2-.1h0m-.2 .2h0m-.3 .1h0m-8.2-.1h0m-.6-2.5h0m-.8 2.3h0m-.5-.4h0m-.2 .3h0m-3.3-1.3h0m-.5 1h0m-.9 .7h0m-3.5-.1h0m-.4-.9h0m-1.6-1h0m-.2-.3h0m-1.3 .7h0m-1.8-.5h0m-5.9 2h0m-.1-1h0m-2.7 .2h0m-4.3-1.2h0m-1.5-.4h0m-2.2 4.5h0m6.1-.1h0m1.2 .4h0m.2 .8h0m2.3 0h0m.6-1.3h0m2-.3h0m1.9 1.4h0m1.7 .4h0m1.5 .1h0m.3-.4h0m1.4-1.4h0m.7 .2h0m2.8 1.3h0m2-1.3h0m1.5 .4h0m.3 .3h0m.4 .5h0m1.5-.2h0m.4 .2h0m2.7-.4h0m6.6-.6h0m5.1-.8h0m1.4-.7h0m1.4 2.1h0m.5 .3h0m7.6-1.3h0m-10 2.9h0m-1.2 1.5h0m-11.9-2.6h0m-.8 1.2h0m-2.6 .2h0m-1.4 1.4h0m-3.9-2.8h0m-3.6 2.2h0m-5.2-.5h0m-1-.8h0m-.6 1.1h0m-1.2-.7h0m-1.2 1.5h0m-1.3-2.2h0m-2.9 .1h0m-8.6 .9h0m11.3 4.1h0m1.2-1.2h0m1.6-.1h0m.5-.3h0m1.6-1.1h0m1.7 .4h0m2.1 1.3h0m.9-1.5h0m1.1 1.5h0m.4 .8h0m2.2-1.5h0m4 0h0m1.8-1h0m.8 .7h0m.3 .5h0m.3-1.1h0m1.8 1.8h0m.2-.6h0m.5 1.1h0m.5-.3h0m4.9 .5h0m.4-.7h0m2.2-1h0m.6-.4h0m.2 .7h0m2.4 .5h0m2.4 1h0m.6-2.3h0m3.5 1.8h0m-1.4 1.8h0m-.4 .6h0m-.9 1h0m-.5-1.7h0m-.2 0h0m-.4 .6h0m-.1-.9h0m0 .7h0m-.6 1.6h0m-.3-.3h0m-.5-2.2h0m-2.7 .4h0m-2.6 1.6h0m-2.9-.9h0m-1.3 1h0m-2.3-.9h0m-2.5-1.1h0m-1.9 .5h0m-1.5 1h0m-9.1-.6h0m-1.4-.7h0m-7.8 .4h0m-4.2 .7h0m-1.3-.3h0m-2.1 3.1h0m1.5-.6h0m3.2 .4h0m1.3-.7h0m8.8 .9h0m1.6-.7h0m.9-.4h0m5.7 .2h0m2.4 2.1h0m6.2-2.7h0m3.8 1.3h0m.5-1.1h0m1.6 1.8h0m.6-1.7h0m1.8 .2h0m.2-.4h0m.2 .5h0m.1 2.1h0m3.6-1h0m4.8-.5h0m-1.5 2.4h0m-8.5-.6h0m-8.4 .7h0m-12.6-.7h0m-17.7 4.1h0" stroke="#7d55b3" stroke-width="1.1" opacity="0.7"/>
<use href="#twa5" stroke="#55278c" stroke-width="1.2" opacity="0.92"/>
<use href="#twb5" stroke="#6a3aa3" stroke-width="0.9" opacity="0.85"/>
</g></g>
<line x1="8" y1="846.4" x2="167" y2="846.4" stroke="#262626" stroke-width="1.2"/>
<text x="88.4" y="857.3" font-size="8.85" text-anchor="middle" stroke="#1c1a1b">inhibitor control</text>
<text font-size="9.15" text-anchor="end" stroke="#1c1a1b" transform="translate(224.7 851.9) rotate(-16) skewX(-15)">miR-646 inhibitor</text>
<text font-size="9.15" text-anchor="end" stroke="#1c1a1b" transform="translate(280.7 851.9) rotate(-16) skewX(-15)">miR-1200 inhibitor</text>
<text font-size="9.15" text-anchor="end" stroke="#1c1a1b" transform="translate(327.7 853.3) rotate(-15) skewX(-15)">miR-646+1200</text>
<text font-size="9.15" text-anchor="end" stroke="#1c1a1b" transform="translate(316.2 867.5) rotate(-16) skewX(-15)">inhibitor</text>
<text x="32.1" y="893" font-size="9" text-anchor="middle" stroke="#1c1a1b">oligo</text>
<line x1="8" y1="896.8" x2="57" y2="896.8" stroke="#262626" stroke-width="1.2"/>
<text x="86.6" y="893" font-size="9" text-anchor="middle" stroke="#1c1a1b">vector</text>
<line x1="62" y1="896.8" x2="113" y2="896.8" stroke="#262626" stroke-width="1.2"/>
<text x="220.1" y="893.4" font-size="9" text-anchor="middle" stroke="#1c1a1b">circPPFIA2</text>
<line x1="116" y1="896.6" x2="327.8" y2="896.6" stroke="#262626" stroke-width="1.2"/>
<rect x="6.3" y="899.2" width="51.4" height="38" fill="#ddd3ea"/>
<g clip-path="url(#twc6)"><g fill="none" stroke-linecap="round" filter="url(#soft)">
<g stroke="#b096d4" stroke-width="2.2" opacity="0.38"><use href="#twa6"/><use href="#twb6"/></g>
<path d="M40.6 899.8h0m-18.9 .1h0m-6.7-.1h0m-8.5 .5h0m1 1.1h0m2.1 .9h0m4.5-.1h0m.2-.9h0m1.9-.6h0m1.6 .2h0m1.2 1.7h0m3.4 .1h0m.4-.8h0m3.1-1.7h0m17.4 2.7h0m5.2-.2h0m8 .4h0m-3 .4h0m-4.2 0h0m-.6 1.8h0m-.8-.6h0m-.5-1h0m-4.8 .5h0m-.7 1.3h0m-5.8-2h0m-.5 .3h0m-3.7 2h0m-1.2-.6h0m-.9 .2h0m-.8 .2h0m-.7-.4h0m-5.7-.3h0m-1.3-1h0m-3.3-.9h0m0 .1h0m-.9 2.1h0m-2.6-.9h0m-8.5 2.8h0m1.7 .3h0m2.8 1.6h0m40.2-2h0m1-1h0m4.7 1.5h0m-5.1 3.5h0m-1.5-.8h0m-.7 .1h0m-1.1 1.5h0m-5.2-1.8h0m-1.4 .8h0m-2.8-.7h0m-.4 1.5h0m-7.7-1.8h0m-1.2 1.9h0m-7.1-2.5h0m-12.3 2.5h0m-1.4-1.8h0m-7.5 2h0m5.9 2.3h0m.5 0h0m11.6 .5h0m5.2-.3h0m6.1-1.1h0m7 .3h0m2.8-.9h0m1.5 0h0m1.2-.5h0m2.4 .8h0m3.2 .3h0m.4 1.1h0m.4 0h0m2.1-1.5h0m3.5 0h0m-5.7 3.8h0m-3.3-.1h0m-17.7 1h0m-2.6-.3h0m-.8-2.2h0m-1 .4h0m-1.7 .8h0m-1.5 .7h0m-.4-.8h0m-.4 1.3h0m-3.2-2.4h0m-.2 2.7h0m-1.8-1.9h0m-6.2 2.1h0m-.2-2.3h0m-.4 1.1h0m-1.6-.6h0m-2.7 .1h0m-.3-.6h0m5.4 3.1h0m3.4 .3h0m1.4-.8h0m1.6 .6h0m1.3-.1h0m1.5-.7h0m2.9 2.5h0m3.1-1h0m4.9 0h0m1.5-.6h0m7.2 .8h0m5.3-.6h0m13.7 .7h0m.5 1.9h0m-4.5 1.1h0m-.1-.3h0m-2.4 .4h0m-3-2h0m-16.9 2.7h0m-6.7-2.5h0m-.6 1.1h0m-.3-1h0m-4.5-.3h0m-.1 1.7h0m-.1 .9h0m-7.2-2.6h0m-2.1 3.4h0m3.6 2.1h0m2.1-1.6h0m.7 1.4h0m1-1.3h0m1.6 .1h0m0-.3h0m.2 .5h0m.1-.7h0m.7 1.5h0m2 .5h0m.1-.8h0m1.4 .5h0m2.7-.7h0m.7-.8h0m4.2-.3h0m7.9 .7h0m1.5 1.1h0m.3-.6h0m4 .1h0m1.4-.5h0m1.2 1h0m14.2 1.9h0m-5.7-1h0m-1.8 .4h0m-.4 1.2h0m-3.9 1.1h0m-.8-1.3h0m-2.3-1.2h0m-2.1 .4h0m-3 1.6h0m-2.3-1.2h0m-.2-1.1h0m-.9 1h0m-6.1 .3h0m-1.4-1.2h0m-.2 .3h0m-.4 0h0m-.6 1.4h0m-3.9-.7h0m-1.9 1.7h0m-.4-2.5h0m-2 1.4h0m-1.1-1.8h0m-1 1.7h0m-.9 1h0m-.2-.2h0m-.1-.1h0m-1.7-1.4h0m-2.2 .5h0m-.4-.8h0m3.8 2.7h0m.5 .7h0m2.7 1.8h0m1.5-1.3h0m.8-1.4h0m1 2.2h0m.9-2h0m3 2.1h0m.1-.8h0m2.4-1.6h0m10.1 1.5h0m1.4-1.1h0m7.2 1.7h0m4.9-2.2h0m0 4.5h0m-.4-.9h0m-8.5 2.4h0m-4.4-1.3h0m-7.5 .1h0m-.4-.7h0m-1.9 1.2h0m-.5-1.2h0m-3.3-.5h0m-.8 1.6h0m-2.8 .3h0m-2.9 .4h0m-.2-2.8h0m-.6 1.2h0m9.4 1.9h0m2.8 .9h0m1.9-1h0m1.2 2.8h0m1.2-2.3h0m.1 1.9h0m1.1-1.6h0m3.2 1.2h0m4.5-.6h0m4.1 .5h0m1.9 .8h0m2 2h0m-1.7-.4h0m-16-1.4h0m-8.2 2.7h0" stroke="#7d55b3" stroke-width="1.1" opacity="0.7"/>
<use href="#twa6" stroke="#55278c" stroke-width="1.2" opacity="0.92"/>
<use href="#twb6" stroke="#6a3aa3" stroke-width="0.9" opacity="0.85"/>
</g></g>
<rect x="61.5" y="899.2" width="50.7" height="38" fill="#ddd3ea"/>
<g clip-path="url(#twc7)"><g fill="none" stroke-linecap="round" filter="url(#soft)">
<g stroke="#b096d4" stroke-width="2.2" opacity="0.38"><use href="#twa7"/><use href="#twb7"/></g>
<path d="M106.2 899.8h0m-1.6 .1h0m-5-.6h0m-2.3-.2h0m-.5 .6h0m-2-.1h0m-1.7-.5h0m-3.6-.1h0m-17.7 .5h0m-.4-.9h0m-8.6 2.7h0m4.2 1.5h0m5-.9h0m.8 .9h0m9.3-1.7h0m2.8 .1h0m4.4 1.5h0m.1-2.2h0m.3 1.5h0m1.5-.1h0m.9-1.2h0m3.1-.5h0m2.6 1.4h0m1.7-1.2h0m3.3 2.5h0m3.5-2.3h0m1.3 1h0m5.9-1.2h0m-4.6 4.2h0m-2.8 1.4h0m-1.8-2.3h0m-2.6 .7h0m-7.2-1h0m-.8 2.3h0m-4-1.4h0m-1.3 0h0m-.9 1.4h0m-.9-2.2h0m-9.1 2.5h0m-1.7-2.7h0m-1.4-.1h0m-4.2 2.6h0m-.7-2.5h0m-2 2.5h0m-8.5 3h0m.2-1.5h0m4.5 1h0m1-2h0m4.2-.2h0m1.7 2.1h0m.9-1.6h0m1-.4h0m.4 .2h0m1.5 .9h0m2.1-.8h0m.6 .3h0m.2 1.1h0m7.2-.2h0m2.9-.3h0m5.7 1.2h0m1.7-.1h0m1.3-1.2h0m4.7 1h0m2.8-1h0m2.8-1.2h0m4.6 3.7h0m-1.4 .4h0m-.1-.6h0m-5.2 2.2h0m-1.4 .1h0m-1.2-2.3h0m-.4 .1h0m-13.1 .6h0m-3.3 .7h0m-4.8-1.2h0m-.6 1.9h0m-.6-1h0m-1.3-1.5h0m-9.3 2.4h0m-.7-2.2h0m-3.5 2.7h0m8.2 0h0m.7 .5h0m4 1.9h0m14.4-.7h0m1.8-1.3h0m6.8 1.5h0m2.5-1.4h0m.3-.3h0m0 1.2h0m1.3 .6h0m1.3-.7h0m3.3 3.7h0m-1.2-.2h0m-1.9-.5h0m-3.4 .3h0m-2.2-.1h0m-1.6 .2h0m-.2-.9h0m-.3 1.9h0m-5.9-.1h0m-5.7-1.4h0m-2-1.1h0m-11.6 .7h0m-9.7 1.1h0m-1.6 2.3h0m3.3-.7h0m3.5 .3h0m7.9 2h0m8.2-.7h0m.2 0h0m.6-.4h0m2.3 .4h0m3.4-1.4h0m1.7-.2h0m8.7 .4h0m.3 .7h0m2.5-1.6h0m5 1.3h0m-2 2.9h0m-1.5 .8h0m-1 .2h0m-.2-.5h0m-2.6-.8h0m-1.2 .1h0m-.9 .8h0m-2.4 .5h0m-1.6 .2h0m-1.3-2.3h0m-.5 2.6h0m-1.7-1.3h0m-1.7-1.6h0m-.5 .6h0m-2.5 .7h0m-.1 1.4h0m-4.7-.3h0m-5.6-.1h0m-1.4 .2h0m-7.5-2.5h0m-1 1h0m0-.6h0m-.3 .6h0m-2.9-.8h0m-.2 0h0m3.5 5.2h0m.7-1.8h0m1.7 .5h0m.5-.5h0m.2-.2h0m3.8 1.5h0m7.7-1.5h0m3 .2h0m1 2.1h0m.1-2.3h0m4.5 .9h0m.9-1.1h0m.9 2.6h0m.2-1.1h0m5.4 1.2h0m3.2-2.4h0m1.5 1h0m2 .7h0m1.7 .6h0m2.3-.8h0m2.4-1.2h0m.4 2.1h0m.7-2h0m-.6 4.8h0m-1.4-2.1h0m-3.7 .6h0m-5.9-.6h0m-.5-.2h0m-3.1 .2h0m-3.4 1h0m-1.8 .2h0m-.9 .9h0m-.5-1.3h0m-.5 1.5h0m-4.4-1.1h0m-1.7-.6h0m-1.4 1.5h0m-.1-.8h0m-4.8-.3h0m-5.3 .6h0m-2.5-.7h0m-11.2 3.9h0m.5-.9h0m2.8 .8h0m1-2h0m7.7 2.2h0m2.2-.5h0m1.7 .3h0m6.9 .4h0m3.2-.8h0m2.1-1.3h0m.9-.2h0m3.2 1.6h0m3.3-.1h0m1.5-1.8h0m3.1 2.7h0m1-1.7h0m0-.1h0m10.7 .2h0m5.4-.6h0m-5.9 3.2h0m-3.1 .7h0m-.7-.4h0m-2.3-.9h0m-1.2-.1h0m0 1.9h0m-2.3 .9h0m-9.6-2.4h0m-15.2 2.4h0m-10.3-2.3h0m-1.2 1h0m-1.6-1.3h0m10.4 3.4h0m17.4 .7h0m1.7 1.6h0m2.9-1.4h0m1.2-1h0m5.3 .2h0m2.2 1.8h0m.2-.5h0m-11.9 1.2h0" stroke="#7d55b3" stroke-width="1.1" opacity="0.7"/>
<use href="#twa7" stroke="#55278c" stroke-width="1.2" opacity="0.92"/>
<use href="#twb7" stroke="#6a3aa3" stroke-width="0.9" opacity="0.85"/>
</g></g>
<rect x="115.5" y="899.2" width="51.5" height="38" fill="#ddd3ea"/>
<g clip-path="url(#twc8)"><g fill="none" stroke-linecap="round" filter="url(#soft)">
<g stroke="#b096d4" stroke-width="2.2" opacity="0.38"><use href="#twa8"/><use href="#twb8"/></g>
<path d="M114 896.3h0m36.4 .2h0m.1 3.3h0m-1.6-1.3h0m-.9 .7h0m0 .1h0m-1.2-2.2h0m-4.6 1.4h0m-9.6-.2h0m-1.9 1.3h0m-2.7-1h0m-12.3 0h0m-.8 3.7h0m7.9 .2h0m4.4-2.4h0m1.7 0h0m4.1 .2h0m0 .3h0m5.7 1.6h0m.8-.4h0m1 .4h0m.1-1h0m2.3 .6h0m3.4-.8h0m1.7 1.9h0m3.7-2.6h0m5.5 .7h0m9.6 4.4h0m-1.3-.5h0m-3.7-1.2h0m-1.9 .4h0m-4.4-.8h0m-6.7 2.1h0m-1.5 .2h0m-.4-2.6h0m-.1 2.9h0m-.4-1.2h0m-.5 1.1h0m-2.7-2.3h0m-.8 .7h0m-.6-.1h0m0-.1h0m-2.1 .9h0m-2.7-1.7h0m-8 1h0m-1.6 .8h0m-1.5-.3h0m-1.8-.3h0m-.6-.6h0m-2.7-.6h0m-2.7 2.1h0m-1.8-.8h0m-1.6 1.2h0m-.4-1h0m-1.2-1.2h0m.8 3.8h0m3 .5h0m1.2-1.2h0m.5 1.8h0m1.9-1.2h0m0 .7h0m.6 .9h0m.2-1.4h0m.5-1.2h0m2.8 .6h0m.4-.1h0m13 1h0m1.1-1.5h0m3.4 2.3h0m2-1.5h0m.1-.9h0m.9 1.3h0m.2 .8h0m.4 .8h0m.4-.2h0m.1-2.3h0m1.2 .5h0m.4 0h0m.1 1.7h0m.1-1.5h0m1.8 .5h0m10-1.2h0m5.3 .9h0m2 .5h0m.5 3.5h0m-1.1 .5h0m-5.9-.2h0m-1.1-1.1h0m-3.8 1.1h0m-.6-.8h0m-1.7 1.1h0m-.2-1.6h0m-2.2 .4h0m-1.2 .7h0m-5.8-1.3h0m-.7 .4h0m-.4-1.4h0m-1.4 1.8h0m-.2-.7h0m-.7 1.1h0m-7.9 .5h0m-4.5-.1h0m-.7-1.7h0m-3.4 1.3h0m-2.9 .1h0m-1.4-1.6h0m-.3-.7h0m-6.8 .9h0m-1.3-.5h0m5 3.3h0m.1-.5h0m2.8 2.3h0m.2-.2h0m1.3-.9h0m0-1.2h0m.8 2.3h0m1.7-1.6h0m.6-.1h0m1.7 .2h0m2-1.2h0m.3 1.3h0m1.8 0h0m2.8 1.3h0m4.3 .2h0m2.8-2.2h0m.7 .8h0m.2-1.3h0m2.3 2.2h0m2.5-.1h0m14.4-2.1h0m.9 2.6h0m.4-.7h0m.8-1h0m1.1-1h0m.2 .6h0m1.9 .2h0m-.3 4.1h0m-1.2-1.2h0m-4.9-.7h0m-.6 .4h0m-3 .7h0m-7.5-.6h0m-2.6 1.3h0m-1.9-1.7h0m-2.6 2.2h0m-.9-1h0m-1.7-.9h0m-.2 0h0m-2.6 .3h0m-2.7 .8h0m-.1 .8h0m-.3-2.1h0m-.9 0h0m-3.7 1h0m-.6-1.1h0m-.1 1.9h0m-.8-.3h0m-2.1-1.5h0m-1.1 2.6h0m-2.2-.4h0m-.7 .1h0m-1.4-2h0m-.3 1.3h0m-4.4-1h0m1.4 4.2h0m.3-1.7h0m3.8 1.4h0m8.5 0h0m.8-1.7h0m2.7 0h0m.1 1.9h0m9.4-.9h0m.8 .4h0m.2 .3h0m1.7 .7h0m.3-1.8h0m2.2 1.8h0m.6-.8h0m.8-1.3h0m2.4 .2h0m.2 1.1h0m.9-1.5h0m4.5 1.9h0m2.7 .6h0m.1-1.5h0m1 1.2h0m.5 .7h0m0-2.5h0m1 2.1h0m1.2-.4h0m.4-1h0m2.3 1.9h0m-.5 .8h0m-.8-.3h0m-2.1-.1h0m-.9 2.2h0m-.1 .1h0m-.3 .1h0m-.4-2.1h0m-1.1 .1h0m-.9-.1h0m-.5-.7h0m-1.6 1.6h0m0 .7h0m-2.1-.3h0m-2.3-.8h0m-4-1.1h0m-1.5 1.9h0m-1.7-1.8h0m-3.6 2.6h0m-2.4-2.1h0m-5.5-.6h0m-.7 1.2h0m-1.7-.7h0m-.4 .5h0m-.6 1.8h0m-.7-2.4h0m-.3 .5h0m-8.7 .5h0m-1.5-.8h0m-2.4 4.3h0m6.7-.8h0m1.4 1.1h0m.3 .3h0m5.8-2.6h0m1.2 0h0m2 .3h0m.1 2.4h0m2.4-.7h0m10 .5h0m1.7 .2h0m.6 .1h0m.2-2.9h0m6.8 1.6h0m.7 .7h0m.1-2.2h0m2.5 1.7h0m.2 1.2h0m1.4-1.5h0m.1-.2h0m1.5 .1h0m0 .7h0m.3 .6h0m2.5 2.8h0m-.7-1.2h0m-.1 1.1h0m-10.8 .1h0m-2 .3h0m0-1.7h0m-3.3-.7h0m-16.6 2.4h0m-1.1-.1h0m-.2-2.4h0m-3.9 2.6h0m-2.4-2.5h0m-1.2 .4h0m-3.8 3.9h0m5.1-1.4h0m.8 .2h0m.7-.2h0m8 0h0m.5 .2h0m1 1.3h0m12.7-.8h0m1.3-.1h0m3.9 1.5h0m7.3-1.8h0m.5 1.9h0m0-2.1h0m.2 1.8h0m.2 .3h0m.6-1.4h0m1.2-.5h0m1.1 1.1h0m.1 .7h0m1.7-2.2h0m.1 1h0m-.7 3.7h0m-1 .7h0m-2.1-.1h0m-1.5-2.2h0m-.3 1.1h0m-1.3 .3h0m-5-.7h0m-.8 .4h0m-2.5 .4h0m-2.3-.1h0m-2-.5h0m-1.2-.7h0m-.7 1.4h0m-.4-1.7h0m-1.2 .4h0m-15.7-.5h0m-2.5 1.1h0m-8.6 2.9h0m6.6-.7h0m5.5-.1h0m5.5 .2h0m16.2 .5h0m2.6 1.3h0m-2.6 1.5h0" stroke="#7d55b3" stroke-width="1.1" opacity="0.7"/>
<use href="#twa8" stroke="#55278c" stroke-width="1.2" opacity="0.92"/>
<use href="#twb8" stroke="#6a3aa3" stroke-width="0.9" opacity="0.85"/>
</g></g>
<rect x="170.2" y="899.2" width="51.2" height="38" fill="#ddd3ea"/>
<g clip-path="url(#twc9)"><g fill="none" stroke-linecap="round" filter="url(#soft)">
<g stroke="#b096d4" stroke-width="2.2" opacity="0.38"><use href="#twa9"/><use href="#twb9"/></g>
<path d="M215.7 900h0m-6.2-.4h0m-21.9-.3h0m-2.2-.5h0m-3.6 1h0m-6-1.4h0m-3.7 .6h0m-1.2 .8h0m-.1-.5h0m-3.7-1.2h0m3.1 2.9h0m.3-.9h0m.3 1.1h0m1.7-1h0m0 2.2h0m3.8-.8h0m20.8-.4h0m4.4 1.6h0m.7 .1h0m2.6-.7h0m3 .3h0m1-1.7h0m.3 2h0m7.4-.5h0m.9 .1h0m-.7 3.3h0m-.6 .2h0m-4.3 0h0m-2.9-2.2h0m-.2 1.2h0m-1.5 0h0m-.3-.9h0m-.1 .6h0m-.8-.1h0m-6.5 1.3h0m-3.3-.8h0m-1.7 .3h0m-1.1-.7h0m-6.1 .3h0m-10.3-.1h0m-2.5 .3h0m-.3 .4h0m-.1 .1h0m-.1-.6h0m-3.2-1h0m-2.1 3.8h0m3.3-.2h0m1.3 1.4h0m1-1.7h0m.2-.4h0m.2 1.3h0m12.6-.7h0m1.2-.3h0m2 .9h0m1.9 .1h0m1.2-1.4h0m.2 .8h0m.2-.1h0m1.4 1.3h0m1.4-1.4h0m4.2-1h0m1.2 1.1h0m.6-.9h0m5.5 1.1h0m4.1-.9h0m.2 .3h0m.8-1h0m.2 1.9h0m4.1-2h0m3.2 2.7h0m-6 2.9h0m-4-1.7h0m-.9 1.6h0m-3.6-.4h0m-2.9 0h0m-1.6-2h0m-3.3 .5h0m-2.8 2h0m-1.7-2.2h0m-8.6 1.2h0m-14.1 .4h0m-.7-.3h0m3.7 3.4h0m10.3 .1h0m4.5-.1h0m2.7-1.4h0m6.6 .4h0m.3 .8h0m.6 .1h0m.1-1.8h0m7.9 1.5h0m.4-.5h0m.7 .3h0m.6-1h0m1.5 .9h0m4.2-.1h0m2.7-1.2h0m4.7 2.3h0m1.2 .8h0m-.4 2.2h0m-13 .4h0m-1.2-2.7h0m-.2 .2h0m-1.6-.2h0m-1.5 1.5h0m0-1.2h0m-10.2 1.1h0m-.8 1.1h0m-.4-.3h0m-3-2.3h0m-1.6 2.5h0m-4-1.3h0m-1.3 1.7h0m-.2-.7h0m-.3 .1h0m-3.5-2h0m-2.6-.3h0m-3.5 2.5h0m1.3 .5h0m8 1h0m13.3 .5h0m1 1.1h0m1.4-.4h0m3.6-1.2h0m2.2 .1h0m4.6-.6h0m9.1 2h0m2.3 1.4h0m-6.1-.6h0m-2.7 1.5h0m-4-1.1h0m-1.3 1.6h0m-.7-1.9h0m-1.1 .2h0m-.5 .5h0m-4.1 1.7h0m-6.8-2h0m-21.9 1.6h0m2.6 1.2h0m11.4 1.1h0m5.3-.3h0m1.2-.2h0m5.3 1.2h0m2.7-.2h0m.2-1.1h0m.5 .9h0m1.5 .1h0m2.6 .3h0m1.1-.6h0m1.2-.9h0m2.7-.1h0m9.9-.7h0m-13.8 4h0m-2 0h0m-.7 .1h0m-4.3-1.1h0m-8 .9h0m-3.3-.5h0m-2.7 1.4h0m-9.6-1.9h0m-.1 .1h0m-.5 2.3h0m-.8-1.5h0m-.1 .8h0m-.7 .4h0m-1.7-1.2h0m-1.4-.5h0m-1.9 2.9h0m19.3 0h0m9 1.1h0m8.4 1h0m5.6 .5h0m1.8-2h0m2.1 4.5h0m-2.9-1h0m-4.3 .7h0m-9-1.2h0m-1.4-.6h0m-5 .2h0m-20.5 .2h0m2.7 3h0m14.1 .8h0m22.5-1.4h0m4.1 .9h0" stroke="#7d55b3" stroke-width="1.1" opacity="0.7"/>
<use href="#twa9" stroke="#55278c" stroke-width="1.2" opacity="0.92"/>
<use href="#twb9" stroke="#6a3aa3" stroke-width="0.9" opacity="0.85"/>
</g></g>
<rect x="224.9" y="899.2" width="51.3" height="38" fill="#ddd3ea"/>
<g clip-path="url(#twc10)"><g fill="none" stroke-linecap="round" filter="url(#soft)">
<g stroke="#b096d4" stroke-width="2.2" opacity="0.38"><use href="#twa10"/><use href="#twb10"/></g>
<path d="M275.1 898.5h0m-30.1 1.1h0m-1.2-2.5h0m-7.5 .7h0m-8.3 3.5h0m2.8 1.1h0m1.7 .5h0m2.4-1.3h0m.7 0h0m1.1 .9h0m3.7 .3h0m.3-1.9h0m4 1.9h0m7.3-1.9h0m1.1-.6h0m5.6 .8h0m3.3-.4h0m3.9 2.1h0m.3 .2h0m1.8-2.6h0m.1 2.3h0m2.2-.6h0m1.9-.6h0m1 4.5h0m-2.1-.5h0m-1.8-1.3h0m-.8-.5h0m-2.7 2.1h0m-.4-1.5h0m-.3 .4h0m-8.1 0h0m-1.4 1.2h0m-7.5-.3h0m-2.6-2.5h0m-4.5 2.9h0m-.2-2.3h0m-.7 2.1h0m-1.5-.2h0m-1-2.3h0m-3.1 .5h0m-1.5-.6h0m0 .2h0m0 .2h0m-1.2 .6h0m-.2 .9h0m-1.4 .6h0m-.8-2.1h0m-.4 1.4h0m-.4-.3h0m-2.5 4.1h0m.7-.7h0m0-.9h0m.5 .2h0m.3-.3h0m1.2-.5h0m1.3 2h0m1.2-1.2h0m2.5-1.1h0m3.7 2.5h0m.6-.5h0m4.9-2.1h0m.5 2.3h0m2-1.3h0m1.3 .3h0m1.5-.7h0m.2-.2h0m12.4 1.3h0m2 .7h0m3.1-.4h0m3.4 .1h0m.7-1.5h0m2.1 4.2h0m-1.3-.8h0m-1.4 .8h0m-.5-.4h0m-.2 .8h0m-2.7-.5h0m-.9-.2h0m-1.2-.1h0m-.2-.7h0m-1.6 .3h0m-3.3 1.3h0m-1.2-1.7h0m-6.6 1h0m-10.1-.4h0m-3.7-.4h0m-2.7 1.8h0m-6.1-2.3h0m-7.1 1.8h0m4.4 3.5h0m7.4-1.2h0m22.1-1.3h0m3.4 1.4h0m2.5 .2h0m7-1.6h0m1.4 .9h0m.3 1.5h0m-4.1 2.1h0m-2.2-1h0m-1.7 1.7h0m-1.4-1.6h0m-11.3 1.6h0m-.6-.2h0m-5.1-1.5h0m-2-.8h0m-9.4 .4h0m-5 .8h0m-1.3 1.5h0m-2.4-.9h0m-1.9 .7h0m.5 2.5h0m2.5-1.9h0m1.4 1.5h0m.4-1.5h0m.3 1.2h0m.1 1.5h0m1-1.8h0m.4 .3h0m.4 .6h0m23.1 1h0m1.2-2.5h0m6.3 .6h0m.2 .4h0m11.7 2.6h0m-1.9 .8h0m-.4 0h0m-2.7-1h0m-.8 1.9h0m-3.2-.2h0m-5.2-.6h0m-.2-.6h0m-9.8-.8h0m-1.1 0h0m-11.8 1.9h0m-3.2-.9h0m-3.7-1.4h0m-1.2 2.1h0m-2.3-.6h0m2.7 2.2h0m.8 1.8h0m15.6-.8h0m7.5 .6h0m15.4-.9h0m.5 1.3h0m.4-2.3h0m1.2-.1h0m2.3 1.2h0m.9-.2h0m2.7 .2h0m2.3 1.3h0m.7-1.4h0m1.6-1.4h0m-4.6 5.7h0m-13-1.6h0m-1.5-.3h0m-2.1 .2h0m-10.4 1.8h0m-18.5-.8h0m-2.6-.4h0m4 3.1h0m12.7 1.1h0m2.5-2.1h0m1.6 1.7h0m.1-1.1h0m.6 .3h0m.1 1h0m.1-1.3h0m1.5 1.5h0m.8-1.3h0m5.7-1.5h0m4.1 1.8h0m3.7-1.6h0m9.6 .2h0m1.5-.4h0m-1.5 3.8h0m-3.7-.3h0m-1.1 .3h0m-1.1 1.2h0m-5.1 .4h0m-.2-1.2h0m-2.8-1h0m-2 .1h0m-2.7 1.6h0m-4.6-.8h0m-.3 1.5h0m0-1.6h0m-.3 .9h0m-1.1 .6h0m-.2-2h0m-1.3 2.2h0m-1.1-2.2h0m-2.7 1.3h0m-13.5 1.5h0m20.5-.3h0m4.2 .3h0m3.4-.1h0m5.1 .3h0m5.4 .1h0m5.2-.2h0m.4 .8h0m-14.6 2.6h0m-13.2-.1h0" stroke="#7d55b3" stroke-width="1.1" opacity="0.7"/>
<use href="#twa10" stroke="#55278c" stroke-width="1.2" opacity="0.92"/>
<use href="#twb10" stroke="#6a3aa3" stroke-width="0.9" opacity="0.85"/>
</g></g>
<rect x="279.4" y="899.2" width="51.6" height="38" fill="#ddd3ea"/>
<g clip-path="url(#twc11)"><g fill="none" stroke-linecap="round" filter="url(#soft)">
<g stroke="#b096d4" stroke-width="2.2" opacity="0.38"><use href="#twa11"/><use href="#twb11"/></g>
<path d="M314.2 898.7h0m-29.3 1h0m0 3.2h0m8.8-.2h0m8-1.7h0m21-.3h0m5.7 .2h0m1.9 .3h0m-12.2 2.2h0m-14.1-.1h0m-7.9 .4h0m-1.4-.6h0m-.7 .2h0m-1.9-.1h0m-5.6 1.8h0m-3.3-.8h0m-.1 .2h0m2.2 4.4h0m5-1.9h0m10.5 .8h0m5.6 0h0m3.8-.7h0m11.9 2.5h0m-3 1.8h0m-.2 .5h0m-9.8-2.4h0m-.2 .2h0m-.2 1.8h0m-.6-.5h0m-.4 1h0m-2.4-2.7h0m-4.4 .7h0m-.5-.2h0m-.8 2.3h0m-.7-2.8h0m-6 .4h0m-1.5-.4h0m-2-.2h0m-4 5h0m5.5-.9h0m3-.3h0m8.7-.3h0m2.6-.5h0m.1 .2h0m4 0h0m1.7 1h0m1.2 .8h0m.9 .7h0m2.3-1.9h0m8.7 2.9h0m-10.1-.3h0m-3.2 1h0m-15.3 .7h0m-4.9-1.8h0m-4.7 .7h0m-3.1 1.8h0m0-2.8h0m5.3 5h0m5.4-1.3h0m2.6-.3h0m4.7 2.1h0m6.1-.5h0m1-.2h0m1-.6h0m2 1.6h0m3-.2h0m1-2.6h0m1.3 1.8h0m7.9-.1h0m7.3 2.6h0m-7.6 1.3h0m-26.7-2.5h0m-2.7 1.9h0m0-2h0m-1.8 .1h0m-.4 .2h0m-3 1.5h0m-.5-1.2h0m-.3 .2h0m-2 2h0m-1.4-1.1h0m-1.4 0h0m-1-1.1h0m-.6 1.6h0m-.8-.5h0m-.5 0h0m1.4 2.7h0m.4-1.2h0m2.6 2.2h0m.4-1.6h0m.3 1.7h0m1.1-1.5h0m0 .1h0m1.7 1.4h0m.5-1.6h0m8 1.9h0m.3-.6h0m.7-2h0m3.1 .5h0m26.2 .1h0m1.5 .8h0m3.8-.5h0m-5.4 2.7h0m-5.9 1.9h0m-17.6-1.2h0m-3.3 .1h0m-3.3-1h0m-3.6 .3h0m-3.7 .2h0m-10.7 .2h0m9.5 2.9h0m.3 1.1h0m1.8-1.2h0m3.2 .4h0m1-.9h0m3.3 .8h0m1.1-.4h0m12.7-.7h0m12.9 .2h0m.9 1.3h0m2.2-1.3h0m-5.1 3.3h0m-5.6 1.2h0m-4.4-1.9h0m-5.4 .9h0m-15.9 .8h0m-2.6-1.2h0m-3.5 1.2h0m2.3 2.1h0m1.6-.9h0m.7 1.8h0m1.1 .1h0m2.4-1.5h0m-2.6 4.6h0m-1.6-1.3h0" stroke="#7d55b3" stroke-width="1.1" opacity="0.7"/>
<use href="#twa11" stroke="#55278c" stroke-width="1.2" opacity="0.92"/>
<use href="#twb11" stroke="#6a3aa3" stroke-width="0.9" opacity="0.85"/>
</g></g>
<line x1="5.5" y1="939.5" x2="166.2" y2="939.5" stroke="#262626" stroke-width="1.2"/>
<text x="87.4" y="949.7" font-size="8.85" text-anchor="middle" stroke="#1c1a1b">mimic control</text>
<text font-size="9.15" text-anchor="end" stroke="#1c1a1b" transform="translate(209.7 944.9) rotate(-17) skewX(-15)">miR-646</text>
<text font-size="9.15" text-anchor="end" stroke="#1c1a1b" transform="translate(264.7 943.9) rotate(-17) skewX(-15)">miR-1200</text>
<text font-size="9.15" text-anchor="end" stroke="#1c1a1b" transform="translate(328.7 944.7) rotate(-15.5) skewX(-15)">miR-646+1200</text>
<text x="352.4" y="787.7" font-size="19.5" stroke="#1c1a1b">N</text>
<line x1="420.5" y1="798.6" x2="420.5" y2="895.7" stroke="#000" stroke-width="1.9"/>
<line x1="419.6" y1="894.8" x2="516.4" y2="894.8" stroke="#000" stroke-width="1.8"/>
<line x1="415.5" y1="894.8" x2="420.5" y2="894.8" stroke="#000" stroke-width="1.6"/>
<text x="415.1" y="897" font-size="6.2" text-anchor="end" stroke="#1c1a1b">0</text>
<line x1="415.5" y1="870.95" x2="420.5" y2="870.95" stroke="#000" stroke-width="1.6"/>
<text x="415.1" y="873.15" font-size="6.2" text-anchor="end" stroke="#1c1a1b">100</text>
<line x1="415.5" y1="847.1" x2="420.5" y2="847.1" stroke="#000" stroke-width="1.6"/>
<text x="415.1" y="849.3" font-size="6.2" text-anchor="end" stroke="#1c1a1b">200</text>
<line x1="415.5" y1="823.25" x2="420.5" y2="823.25" stroke="#000" stroke-width="1.6"/>
<text x="415.1" y="825.45" font-size="6.2" text-anchor="end" stroke="#1c1a1b">300</text>
<line x1="415.5" y1="799.4" x2="420.5" y2="799.4" stroke="#000" stroke-width="1.6"/>
<text x="415.1" y="801.6" font-size="6.2" text-anchor="end" stroke="#1c1a1b">400</text>
<rect x="425.2" y="833.1" width="10.3" height="61.7" fill="#9a9ca3"/>
<line x1="430.35" y1="833.1" x2="430.35" y2="827.3" stroke="#2e2e2e" stroke-width="1"/>
<line x1="427.85" y1="827.3" x2="432.85" y2="827.3" stroke="#2e2e2e" stroke-width="1"/>
<line x1="430.35" y1="894.8" x2="430.35" y2="899.4" stroke="#000" stroke-width="1.6"/>
<rect x="440.2" y="839.1" width="10" height="55.7" fill="#606165"/>
<line x1="445.2" y1="839.1" x2="445.2" y2="835.7" stroke="#2e2e2e" stroke-width="1"/>
<line x1="442.7" y1="835.7" x2="447.7" y2="835.7" stroke="#2e2e2e" stroke-width="1"/>
<line x1="445.2" y1="894.8" x2="445.2" y2="899.4" stroke="#000" stroke-width="1.6"/>
<rect x="455.2" y="850.9" width="10.5" height="43.9" fill="#b7d1ed"/>
<line x1="460.45" y1="850.9" x2="460.45" y2="849.6" stroke="#2e2e2e" stroke-width="1"/>
<line x1="457.95" y1="849.6" x2="462.95" y2="849.6" stroke="#2e2e2e" stroke-width="1"/>
<line x1="460.45" y1="894.8" x2="460.45" y2="899.4" stroke="#000" stroke-width="1.6"/>
<rect x="470.4" y="831.7" width="10" height="63.1" fill="#fdd0b0"/>
<line x1="475.4" y1="831.7" x2="475.4" y2="827" stroke="#2e2e2e" stroke-width="1"/>
<line x1="472.9" y1="827" x2="477.9" y2="827" stroke="#2e2e2e" stroke-width="1"/>
<line x1="475.4" y1="894.8" x2="475.4" y2="899.4" stroke="#000" stroke-width="1.6"/>
<rect x="485.4" y="833.1" width="10" height="61.7" fill="#9ed4a8"/>
<line x1="490.4" y1="833.1" x2="490.4" y2="830.4" stroke="#2e2e2e" stroke-width="1"/>
<line x1="487.9" y1="830.4" x2="492.9" y2="830.4" stroke="#2e2e2e" stroke-width="1"/>
<line x1="490.4" y1="894.8" x2="490.4" y2="899.4" stroke="#000" stroke-width="1.6"/>
<rect x="500.1" y="823.3" width="10.3" height="71.5" fill="#edc9e4"/>
<line x1="505.25" y1="823.3" x2="505.25" y2="818.6" stroke="#2e2e2e" stroke-width="1"/>
<line x1="502.75" y1="818.6" x2="507.75" y2="818.6" stroke="#2e2e2e" stroke-width="1"/>
<line x1="505.25" y1="894.8" x2="505.25" y2="899.4" stroke="#000" stroke-width="1.6"/>
<line x1="444.6" y1="807.8" x2="459" y2="807.8" stroke="#000" stroke-width="1.9"/>
<text x="452.15" y="807.95" font-size="10.5" text-anchor="middle" font-weight="bold" stroke="#1c1a1b" letter-spacing="0.7">*</text>
<line x1="461.3" y1="807.8" x2="506" y2="807.8" stroke="#000" stroke-width="1.9"/>
<text x="484" y="807.95" font-size="10.5" text-anchor="middle" font-weight="bold" stroke="#1c1a1b" letter-spacing="0.7">****</text>
<text font-size="8.7" text-anchor="middle" stroke="#1c1a1b" transform="translate(399.8 844.9) rotate(-90)">Cell number of migration</text>
<text x="421" y="908.5" font-size="8.7" text-anchor="end" stroke="#1c1a1b">miR-646 inhibitor</text>
<text x="430.35" y="908.3" font-size="8.6" text-anchor="middle" stroke="#1c1a1b">-</text>
<text x="445.2" y="908.3" font-size="8.6" text-anchor="middle" stroke="#1c1a1b">-</text>
<text x="460.45" y="908.3" font-size="8.6" text-anchor="middle" stroke="#1c1a1b">-</text>
<text x="475.4" y="909.1" font-size="8.2" text-anchor="middle" stroke="#1c1a1b">+</text>
<text x="490.4" y="908.3" font-size="8.6" text-anchor="middle" stroke="#1c1a1b">-</text>
<text x="505.25" y="909.1" font-size="8.2" text-anchor="middle" stroke="#1c1a1b">+</text>
<text x="421" y="917.7" font-size="8.7" text-anchor="end" stroke="#1c1a1b">miR-1200 inhibitor</text>
<text x="430.35" y="917.5" font-size="8.6" text-anchor="middle" stroke="#1c1a1b">-</text>
<text x="445.2" y="917.5" font-size="8.6" text-anchor="middle" stroke="#1c1a1b">-</text>
<text x="460.45" y="917.5" font-size="8.6" text-anchor="middle" stroke="#1c1a1b">-</text>
<text x="475.4" y="917.5" font-size="8.6" text-anchor="middle" stroke="#1c1a1b">-</text>
<text x="490.4" y="918.3" font-size="8.2" text-anchor="middle" stroke="#1c1a1b">+</text>
<text x="505.25" y="918.3" font-size="8.2" text-anchor="middle" stroke="#1c1a1b">+</text>
<line x1="424.4" y1="920.8" x2="435.5" y2="920.8" stroke="#707070" stroke-width="1.1"/>
<text x="427.6" y="931.2" font-size="8.7" text-anchor="middle" stroke="#1c1a1b">oligo</text>
<line x1="439.7" y1="920.8" x2="451.3" y2="920.8" stroke="#707070" stroke-width="1.1"/>
<text x="445.9" y="931.2" font-size="8.7" text-anchor="middle" stroke="#1c1a1b">nc</text>
<line x1="455.5" y1="920.8" x2="512.5" y2="920.8" stroke="#707070" stroke-width="1.1"/>
<text x="483.3" y="931.2" font-size="8.7" text-anchor="middle" stroke="#1c1a1b">sh-circPPFIA2</text>
<line x1="589" y1="798.5" x2="589" y2="894.5" stroke="#000" stroke-width="1.9"/>
<line x1="588.1" y1="893.6" x2="685" y2="893.6" stroke="#000" stroke-width="1.8"/>
<line x1="584" y1="893.6" x2="589" y2="893.6" stroke="#000" stroke-width="1.6"/>
<text x="583.6" y="895.8" font-size="6.2" text-anchor="end" stroke="#1c1a1b">0</text>
<line x1="584" y1="870.02" x2="589" y2="870.02" stroke="#000" stroke-width="1.6"/>
<text x="583.6" y="872.23" font-size="6.2" text-anchor="end" stroke="#1c1a1b">100</text>
<line x1="584" y1="846.45" x2="589" y2="846.45" stroke="#000" stroke-width="1.6"/>
<text x="583.6" y="848.65" font-size="6.2" text-anchor="end" stroke="#1c1a1b">200</text>
<line x1="584" y1="822.88" x2="589" y2="822.88" stroke="#000" stroke-width="1.6"/>
<text x="583.6" y="825.08" font-size="6.2" text-anchor="end" stroke="#1c1a1b">300</text>
<line x1="584" y1="799.3" x2="589" y2="799.3" stroke="#000" stroke-width="1.6"/>
<text x="583.6" y="801.5" font-size="6.2" text-anchor="end" stroke="#1c1a1b">400</text>
<rect x="593.9" y="837.5" width="10" height="56.1" fill="#9a9ca3"/>
<line x1="598.9" y1="837.5" x2="598.9" y2="832.8" stroke="#2e2e2e" stroke-width="1"/>
<line x1="596.4" y1="832.8" x2="601.4" y2="832.8" stroke="#2e2e2e" stroke-width="1"/>
<line x1="598.9" y1="893.6" x2="598.9" y2="898.2" stroke="#000" stroke-width="1.6"/>
<rect x="608.8" y="835" width="9.9" height="58.6" fill="#606165"/>
<line x1="613.75" y1="835" x2="613.75" y2="830.8" stroke="#2e2e2e" stroke-width="1"/>
<line x1="611.25" y1="830.8" x2="616.25" y2="830.8" stroke="#2e2e2e" stroke-width="1"/>
<line x1="613.75" y1="893.6" x2="613.75" y2="898.2" stroke="#000" stroke-width="1.6"/>
<rect x="623.7" y="822.6" width="9.9" height="71" fill="#fdd0b0"/>
<line x1="628.65" y1="822.6" x2="628.65" y2="817.7" stroke="#2e2e2e" stroke-width="1"/>
<line x1="626.15" y1="817.7" x2="631.15" y2="817.7" stroke="#2e2e2e" stroke-width="1"/>
<line x1="628.65" y1="893.6" x2="628.65" y2="898.2" stroke="#000" stroke-width="1.6"/>
<rect x="638.6" y="841.2" width="10.4" height="52.4" fill="#fcd6d6"/>
<line x1="643.8" y1="841.2" x2="643.8" y2="838.3" stroke="#2e2e2e" stroke-width="1"/>
<line x1="641.3" y1="838.3" x2="646.3" y2="838.3" stroke="#2e2e2e" stroke-width="1"/>
<line x1="643.8" y1="893.6" x2="643.8" y2="898.2" stroke="#000" stroke-width="1.6"/>
<rect x="653.5" y="838" width="10.4" height="55.6" fill="#dabfdf"/>
<line x1="658.7" y1="838" x2="658.7" y2="834" stroke="#2e2e2e" stroke-width="1"/>
<line x1="656.2" y1="834" x2="661.2" y2="834" stroke="#2e2e2e" stroke-width="1"/>
<line x1="658.7" y1="893.6" x2="658.7" y2="898.2" stroke="#000" stroke-width="1.6"/>
<rect x="668.4" y="846.9" width="10.4" height="46.7" fill="#f6a9c9"/>
<line x1="673.6" y1="846.9" x2="673.6" y2="845.7" stroke="#2e2e2e" stroke-width="1"/>
<line x1="671.1" y1="845.7" x2="676.1" y2="845.7" stroke="#2e2e2e" stroke-width="1"/>
<line x1="673.6" y1="893.6" x2="673.6" y2="898.2" stroke="#000" stroke-width="1.6"/>
<line x1="612.9" y1="806.1" x2="627.4" y2="806.1" stroke="#000" stroke-width="1.9"/>
<text x="620.5" y="806.25" font-size="10.5" text-anchor="middle" font-weight="bold" stroke="#1c1a1b" letter-spacing="0.7">**</text>
<line x1="629.8" y1="806.1" x2="674.2" y2="806.1" stroke="#000" stroke-width="1.9"/>
<text x="652.35" y="806.25" font-size="10.5" text-anchor="middle" font-weight="bold" stroke="#1c1a1b" letter-spacing="0.7">****</text>
<text font-size="8.7" text-anchor="middle" stroke="#1c1a1b" transform="translate(568.4 844) rotate(-90)">Cell number of migration</text>
<text x="589" y="906.6" font-size="8.7" text-anchor="end" stroke="#1c1a1b">miR-646 mimic</text>
<text x="598.9" y="906.4" font-size="8.6" text-anchor="middle" stroke="#1c1a1b">-</text>
<text x="613.75" y="906.4" font-size="8.6" text-anchor="middle" stroke="#1c1a1b">-</text>
<text x="628.65" y="906.4" font-size="8.6" text-anchor="middle" stroke="#1c1a1b">-</text>
<text x="643.8" y="907.2" font-size="8.2" text-anchor="middle" stroke="#1c1a1b">+</text>
<text x="658.7" y="906.4" font-size="8.6" text-anchor="middle" stroke="#1c1a1b">-</text>
<text x="673.6" y="907.2" font-size="8.2" text-anchor="middle" stroke="#1c1a1b">+</text>
<text x="589" y="917.2" font-size="8.7" text-anchor="end" stroke="#1c1a1b">miR-1200 mimic</text>
<text x="598.9" y="917" font-size="8.6" text-anchor="middle" stroke="#1c1a1b">-</text>
<text x="613.75" y="917" font-size="8.6" text-anchor="middle" stroke="#1c1a1b">-</text>
<text x="628.65" y="917" font-size="8.6" text-anchor="middle" stroke="#1c1a1b">-</text>
<text x="643.8" y="917" font-size="8.6" text-anchor="middle" stroke="#1c1a1b">-</text>
<text x="658.7" y="917.8" font-size="8.2" text-anchor="middle" stroke="#1c1a1b">+</text>
<text x="673.6" y="917.8" font-size="8.2" text-anchor="middle" stroke="#1c1a1b">+</text>
<line x1="593.2" y1="920.4" x2="604.4" y2="920.4" stroke="#707070" stroke-width="1.1"/>
<text x="596.5" y="931" font-size="8.7" text-anchor="middle" stroke="#1c1a1b">oligo</text>
<line x1="608.8" y1="920.4" x2="620" y2="920.4" stroke="#707070" stroke-width="1.1"/>
<text x="615.5" y="931" font-size="8.7" text-anchor="middle" stroke="#1c1a1b">nc</text>
<line x1="623.5" y1="920.4" x2="680.8" y2="920.4" stroke="#707070" stroke-width="1.1"/>
<text x="650.6" y="931" font-size="8.7" text-anchor="middle" stroke="#1c1a1b">circPPFIA2</text>
</svg>
</body>
</html>
